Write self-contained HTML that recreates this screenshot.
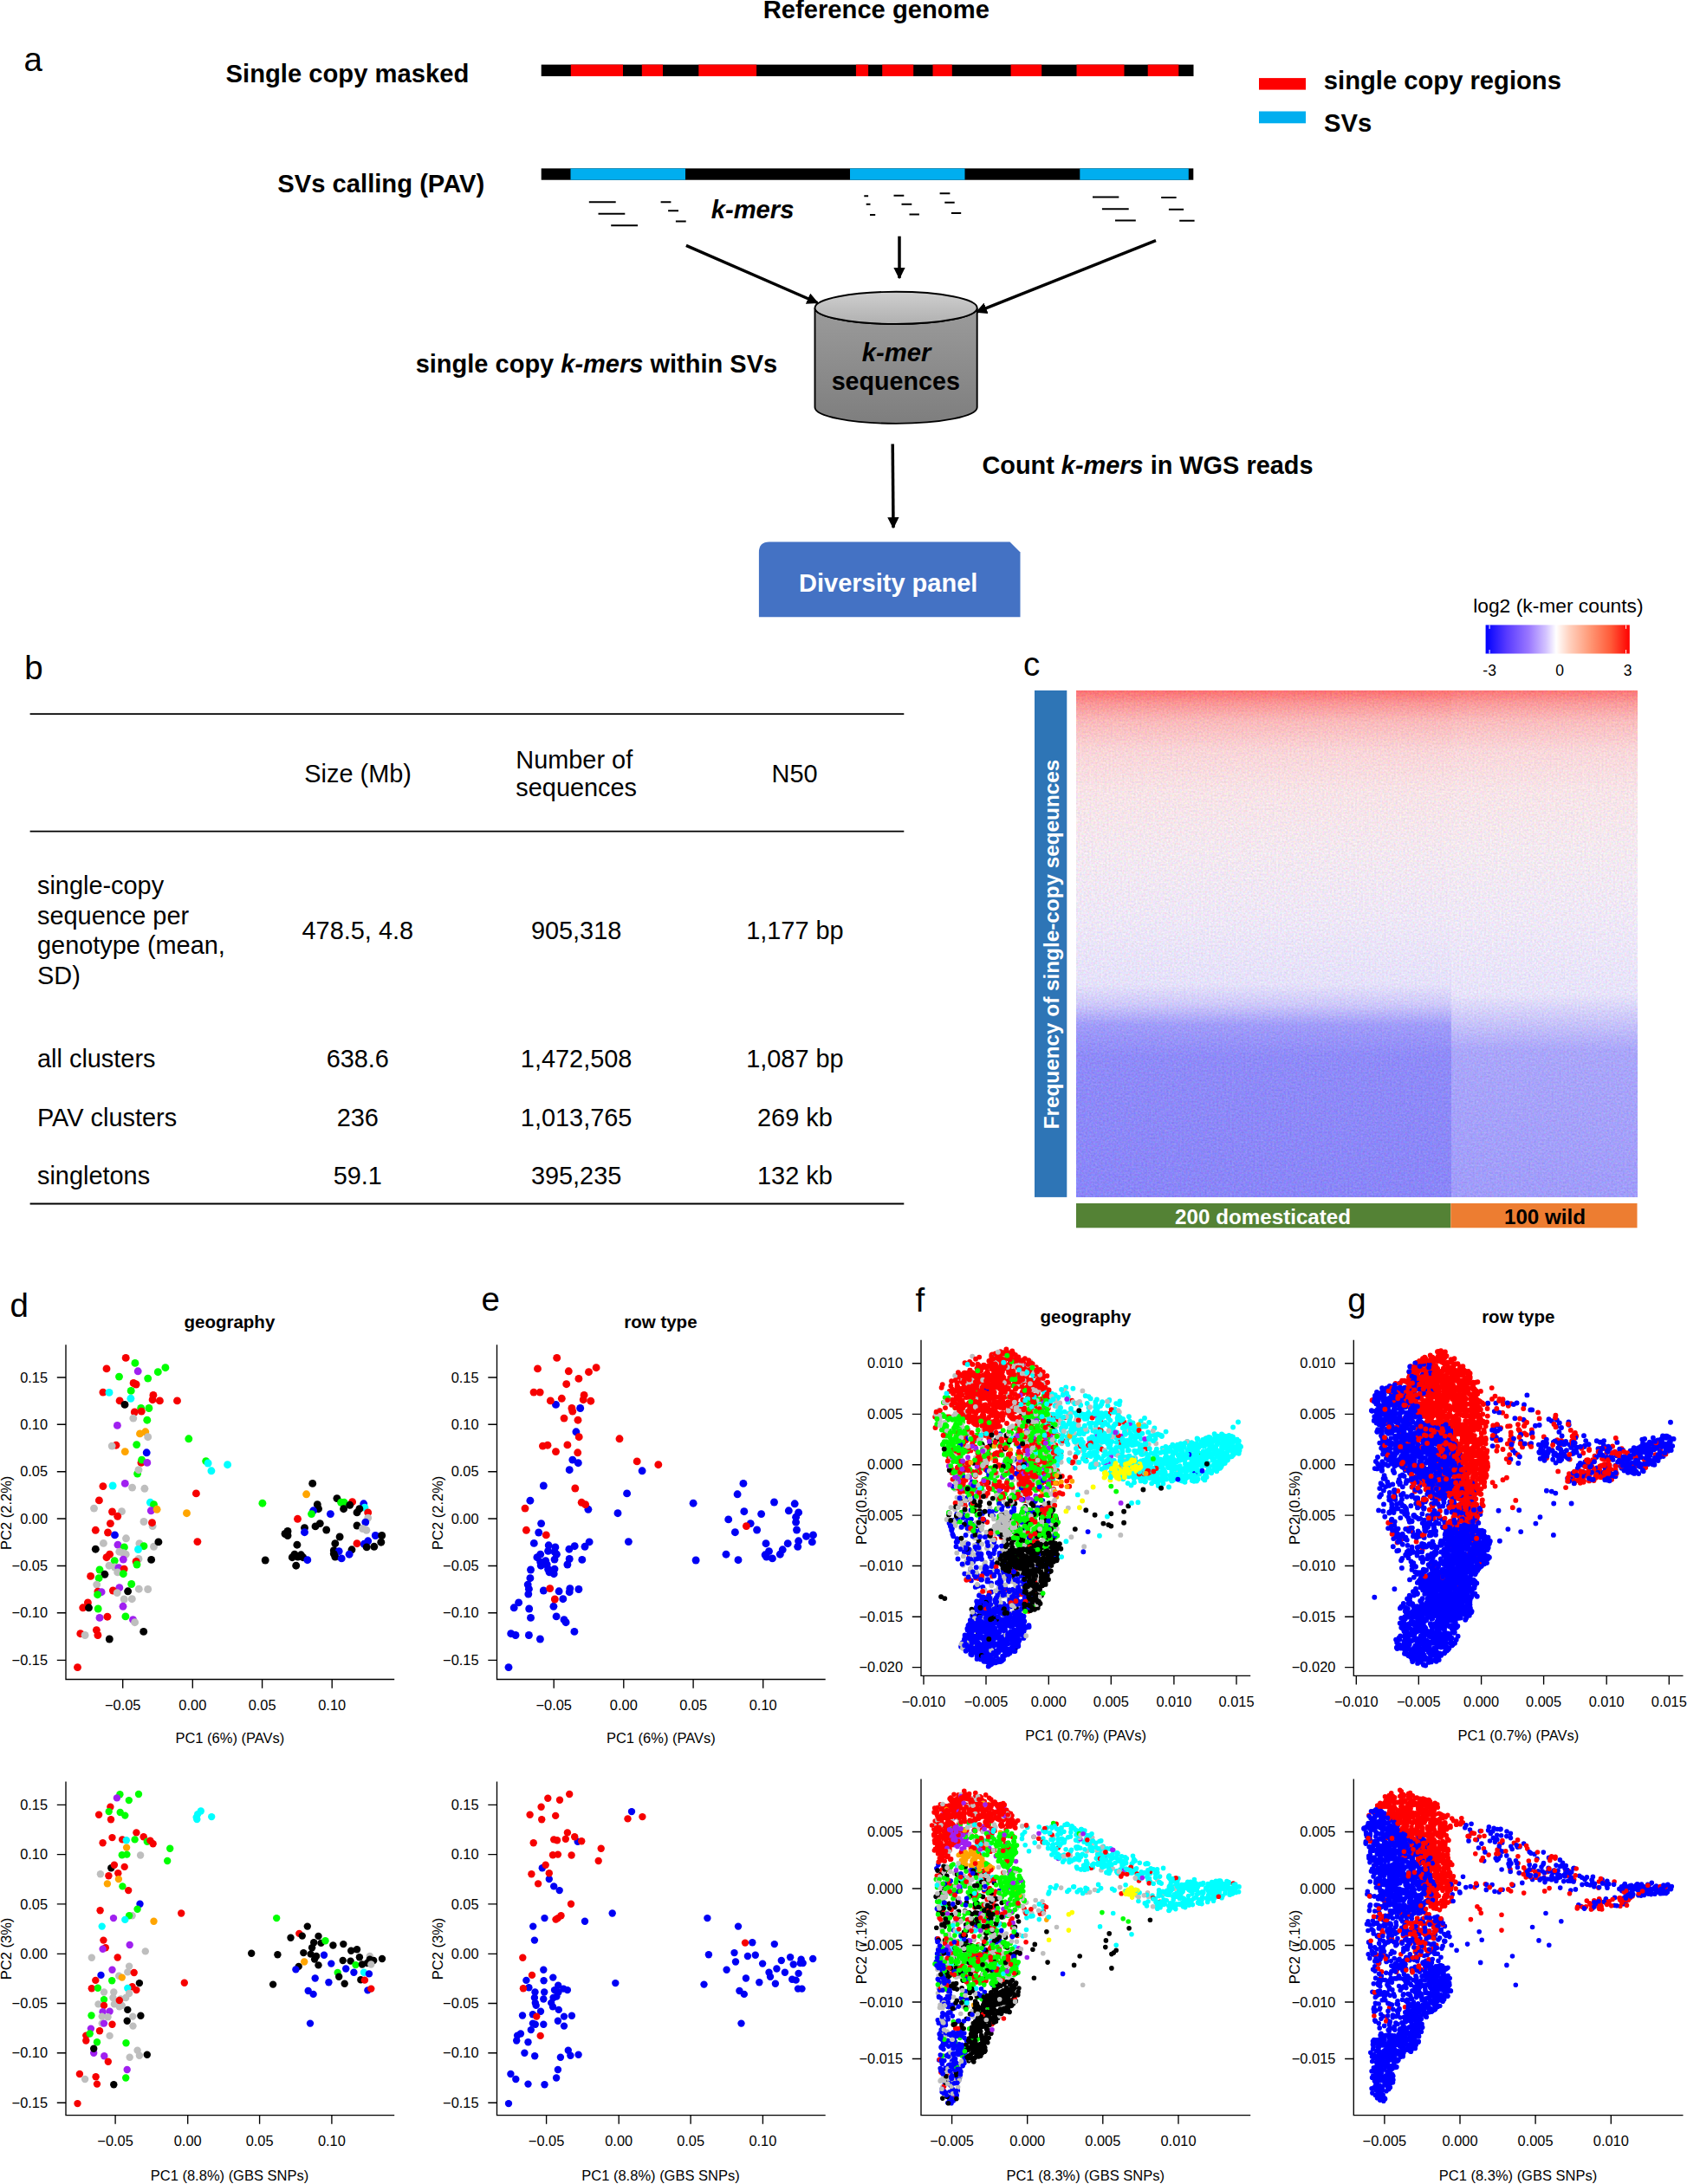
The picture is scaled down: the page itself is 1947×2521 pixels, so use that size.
<!DOCTYPE html>
<html><head><meta charset="utf-8"><title>Figure</title>
<style>html,body{margin:0;padding:0;background:#fff}svg{display:block}text{font-family:"Liberation Sans",Arial,Helvetica,sans-serif}</style></head>
<body><svg width="1947" height="2521" viewBox="0 0 1947 2521">
<g font-weight="bold">
<text x="1011.3" y="20.9" font-size="29.2" text-anchor="middle">Reference genome</text>
<text x="260.6" y="95.4" font-size="29.2">Single copy masked</text>
<text x="320.3" y="222.0" font-size="29.2">SVs calling (PAV)</text>
<text x="820.7" y="251.7" font-size="29.2" font-style="italic">k-mers</text>
<text x="1527.8" y="102.8" font-size="29.2">single copy regions</text>
<text x="1528.0" y="151.5" font-size="29.2">SVs</text>
<text x="479.7" y="430.0" font-size="29.0">single copy <tspan font-style="italic">k-mers</tspan> within SVs</text>
<text x="1133.4" y="547.3" font-size="28.9">Count <tspan font-style="italic">k-mers</tspan> in WGS reads</text>
</g>
<text x="27.4" y="82.2" font-size="38.5">a</text>
<rect x="624.7" y="74.6" width="752.8" height="13.4" fill="#000"/>
<rect x="658.8" y="74.6" width="60.2" height="13.4" fill="#fe0000"/>
<rect x="740.8" y="74.6" width="24.2" height="13.4" fill="#fe0000"/>
<rect x="806.3" y="74.6" width="66.8" height="13.4" fill="#fe0000"/>
<rect x="987.9" y="74.6" width="14.2" height="13.4" fill="#fe0000"/>
<rect x="1018.2" y="74.6" width="36.0" height="13.4" fill="#fe0000"/>
<rect x="1076.5" y="74.6" width="22.3" height="13.4" fill="#fe0000"/>
<rect x="1166.6" y="74.6" width="35.6" height="13.4" fill="#fe0000"/>
<rect x="1242.5" y="74.6" width="55.0" height="13.4" fill="#fe0000"/>
<rect x="1324.7" y="74.6" width="35.6" height="13.4" fill="#fe0000"/>
<rect x="624.7" y="194.4" width="752.6" height="13.3" fill="#000"/>
<rect x="658.5" y="194.4" width="132.5" height="13.3" fill="#00aeef"/>
<rect x="981.0" y="194.4" width="132.5" height="13.3" fill="#00aeef"/>
<rect x="1246.3" y="194.4" width="125.5" height="13.3" fill="#00aeef"/>
<rect x="1453.0" y="90.1" width="54.0" height="13.5" fill="#fe0000"/>
<rect x="1453.0" y="128.5" width="54.0" height="13.8" fill="#00aeef"/>
<path d="M679.8 233.2H710.7M690.5 246.7H721.3M705.2 260.2H736.0M762.6 233.2H774.4M771.1 243.2H783.0M779.9 255.5H791.7M997.3 226.2H1002.1M999.7 235.7H1004.5M1004.0 248.0H1010.2M1031.5 225.7H1043.3M1040.5 235.7H1052.3M1049.5 247.5H1060.9M1084.6 223.3H1096.4M1090.3 233.8H1101.7M1097.9 246.1H1109.2M1261.0 227.6H1291.3M1271.9 241.3H1302.7M1287.0 254.6H1310.8M1340.2 228.0H1357.6M1348.9 241.7H1366.1M1361.2 254.8H1378.6" stroke="#000" stroke-width="2" fill="none"/>
<defs><marker id="ah" viewBox="0 0 10 10" refX="9" refY="5" markerWidth="3.8" markerHeight="3.8" orient="auto"><path d="M0 0L10 5L0 10z"/></marker></defs>
<line x1="791.9" y1="283.4" x2="943.5" y2="349.5" stroke="#000" stroke-width="3.5" marker-end="url(#ah)"/>
<line x1="1038.0" y1="272.7" x2="1038.0" y2="321.0" stroke="#000" stroke-width="3.5" marker-end="url(#ah)"/>
<line x1="1334.0" y1="277.7" x2="1127.0" y2="360.2" stroke="#000" stroke-width="3.5" marker-end="url(#ah)"/>
<line x1="1030.2" y1="512.4" x2="1031.0" y2="609.1" stroke="#000" stroke-width="3.5" marker-end="url(#ah)"/>
<defs><linearGradient id="cg" x1="0" y1="0" x2="0" y2="1"><stop offset="0" stop-color="#9b9b9b"/><stop offset="1" stop-color="#7e7e7e"/></linearGradient><linearGradient id="ct" x1="0" y1="0" x2="0" y2="1"><stop offset="0" stop-color="#cfcfcf"/><stop offset="1" stop-color="#b0b0b0"/></linearGradient></defs>
<path d="M940.5 355.4V470.3A93.60000000000002 18.6 0 0 0 1127.7 470.3V355.4A93.60000000000002 18.6 0 0 1 940.5 355.4z" fill="url(#cg)" stroke="#000" stroke-width="1.9"/>
<ellipse cx="1034.1" cy="355.4" rx="93.60000000000002" ry="18.6" fill="url(#ct)" stroke="#000" stroke-width="1.9"/>
<text x="1034.5" y="417.0" font-size="29.2" text-anchor="middle" font-weight="bold" font-style="italic">k-mer</text>
<text x="1033.8" y="449.7" font-size="28.7" text-anchor="middle" font-weight="bold">sequences</text>
<path d="M875.9 712.3V637.5Q875.9 625.5 887.9 625.5H1165.5L1177.5 637.5V712.3z" fill="#4472c4"/>
<text x="1025.2" y="683.1" font-size="29.0" text-anchor="middle" font-weight="bold" fill="#fff">Diversity panel</text>
<text x="28.3" y="784.3" font-size="38.5">b</text>
<line x1="34.6" y1="824.1" x2="1043.3" y2="824.1" stroke="#000" stroke-width="1.8"/>
<line x1="34.6" y1="959.7" x2="1043.3" y2="959.7" stroke="#000" stroke-width="1.8"/>
<line x1="34.6" y1="1389.5" x2="1043.3" y2="1389.5" stroke="#000" stroke-width="1.8"/>
<text x="413.1" y="903.0" font-size="28.9" text-anchor="middle">Size (Mb)</text>
<text x="595.3" y="886.7" font-size="28.9">Number of</text>
<text x="595.3" y="919.3" font-size="28.9">sequences</text>
<text x="917.1" y="903.0" font-size="28.9" text-anchor="middle">N50</text>
<text x="43.0" y="1032.1" font-size="28.9">single-copy</text>
<text x="43.0" y="1066.6" font-size="28.9">sequence per</text>
<text x="43.0" y="1101.1" font-size="28.9">genotype (mean,</text>
<text x="43.0" y="1135.6" font-size="28.9">SD)</text>
<text x="412.8" y="1084.3" font-size="28.9" text-anchor="middle">478.5, 4.8</text>
<text x="665.1" y="1084.3" font-size="28.9" text-anchor="middle">905,318</text>
<text x="917.4" y="1084.3" font-size="28.9" text-anchor="middle">1,177 bp</text>
<text x="43.0" y="1231.7" font-size="28.9">all clusters</text>
<text x="412.8" y="1231.7" font-size="28.9" text-anchor="middle">638.6</text>
<text x="665.1" y="1231.7" font-size="28.9" text-anchor="middle">1,472,508</text>
<text x="917.4" y="1231.7" font-size="28.9" text-anchor="middle">1,087 bp</text>
<text x="43.0" y="1299.5" font-size="28.9">PAV clusters</text>
<text x="412.8" y="1299.5" font-size="28.9" text-anchor="middle">236</text>
<text x="665.1" y="1299.5" font-size="28.9" text-anchor="middle">1,013,765</text>
<text x="917.4" y="1299.5" font-size="28.9" text-anchor="middle">269 kb</text>
<text x="43.0" y="1366.6" font-size="28.9">singletons</text>
<text x="412.8" y="1366.6" font-size="28.9" text-anchor="middle">59.1</text>
<text x="665.1" y="1366.6" font-size="28.9" text-anchor="middle">395,235</text>
<text x="917.4" y="1366.6" font-size="28.9" text-anchor="middle">132 kb</text>
<text x="1181.0" y="779.5" font-size="38.5">c</text>
<text x="1798.4" y="707.2" font-size="22.8" text-anchor="middle">log2 (k-mer counts)</text>
<defs><linearGradient id="cb" x1="0" y1="0" x2="1" y2="0"><stop offset="0" stop-color="#0000ff"/><stop offset="0.15" stop-color="#5a3cff"/><stop offset="0.3" stop-color="#9a78ff"/><stop offset="0.42" stop-color="#d4c4ff"/><stop offset="0.49" stop-color="#ffffff"/><stop offset="0.58" stop-color="#ffd2c0"/><stop offset="0.72" stop-color="#ff9a78"/><stop offset="0.87" stop-color="#ff5a38"/><stop offset="1" stop-color="#ff0000"/></linearGradient>
<linearGradient id="hm" x1="0" y1="0" x2="0" y2="1"><stop offset="0" stop-color="rgb(252, 112, 112)"/><stop offset="0.025" stop-color="rgb(250, 150, 150)"/><stop offset="0.06" stop-color="rgb(250, 185, 186)"/><stop offset="0.12" stop-color="rgb(249, 213, 216)"/><stop offset="0.2" stop-color="rgb(247, 227, 231)"/><stop offset="0.32" stop-color="rgb(243, 232, 240)"/><stop offset="0.45" stop-color="rgb(238, 231, 246)"/><stop offset="0.58" stop-color="rgb(229, 225, 250)"/><stop offset="0.62" stop-color="rgb(205, 200, 250)"/><stop offset="0.66" stop-color="rgb(160, 156, 249)"/><stop offset="0.72" stop-color="rgb(143, 139, 248)"/><stop offset="1" stop-color="rgb(138, 134, 248)"/></linearGradient>
<linearGradient id="hm2" x1="0" y1="0" x2="0" y2="1"><stop offset="0" stop-color="rgb(252, 118, 118)"/><stop offset="0.025" stop-color="rgb(250, 155, 155)"/><stop offset="0.06" stop-color="rgb(250, 188, 189)"/><stop offset="0.12" stop-color="rgb(249, 215, 218)"/><stop offset="0.2" stop-color="rgb(247, 228, 232)"/><stop offset="0.32" stop-color="rgb(243, 233, 240)"/><stop offset="0.45" stop-color="rgb(239, 232, 246)"/><stop offset="0.6" stop-color="rgb(231, 227, 250)"/><stop offset="0.64" stop-color="rgb(208, 204, 250)"/><stop offset="0.71" stop-color="rgb(170, 166, 250)"/><stop offset="1" stop-color="rgb(160, 156, 250)"/></linearGradient>
<filter id="nz" x="0" y="0" width="1" height="1" color-interpolation-filters="sRGB"><feTurbulence type="fractalNoise" baseFrequency="0.45" numOctaves="2" seed="3"/><feColorMatrix values="1 0 0 0 0 0 1 0 0 0 0 0 1 0 0 0 0 0 0 1" result="n"/><feComposite in="SourceGraphic" in2="n" operator="arithmetic" k1="0" k2="1" k3="0.22" k4="-0.11"/></filter></defs>
<rect x="1714.6" y="721.4" width="166.2" height="33.1" fill="url(#cb)"/>
<path d="M1719.1 721.4v4.5M1719.1 750v4.5M1876.6 721.4v4.5M1876.6 750v4.5" stroke="#fff" stroke-width="1"/>
<text x="1719.1" y="779.6" font-size="17.5" text-anchor="middle">-3</text>
<text x="1800.2" y="779.6" font-size="17.5" text-anchor="middle">0</text>
<text x="1878.7" y="779.6" font-size="17.5" text-anchor="middle">3</text>
<rect x="1194.0" y="797.0" width="37.3" height="584.9" fill="#2e75b6"/>
<g filter="url(#nz)"><rect x="1242.0" y="797.0" width="434.0" height="585.0" fill="url(#hm)"/><rect x="1675.0" y="797.0" width="215.0" height="585.0" fill="url(#hm2)"/></g>
<rect x="1242.0" y="1389.0" width="432.4" height="28.3" fill="#548235"/>
<rect x="1674.4" y="1389.0" width="215.1" height="28.3" fill="#ed7d31"/>
<text x="1457.6" y="1412.8" font-size="24.2" text-anchor="middle" font-weight="bold" fill="#fff">200 domesticated</text>
<text x="1783.0" y="1412.8" font-size="24.2" text-anchor="middle" font-weight="bold">100 wild</text>
<text transform="translate(1221.5 1090) rotate(-90)" text-anchor="middle" font-size="24.3" font-weight="bold" fill="#fff">Frequency of single-copy seqeunces</text>
<text x="11.5" y="1519.6" font-size="38.5">d</text>
<path d="M76.0 1552.3V1938.5H455.2M141.7 1938.5v10.2M222.3 1938.5v10.2M302.6 1938.5v10.2M383.2 1938.5v10.2M76.0 1590.0h-10.2M76.0 1644.2h-10.2M76.0 1698.7h-10.2M76.0 1753.0h-10.2M76.0 1807.5h-10.2M76.0 1861.7h-10.2M76.0 1916.3h-10.2" fill="none" stroke="#000" stroke-width="1.35"/>
<text x="141.7" y="1974.1" font-size="16.4" text-anchor="middle">−0.05</text>
<text x="222.3" y="1974.1" font-size="16.4" text-anchor="middle">0.00</text>
<text x="302.6" y="1974.1" font-size="16.4" text-anchor="middle">0.05</text>
<text x="383.2" y="1974.1" font-size="16.4" text-anchor="middle">0.10</text>
<text x="55.1" y="1595.7" font-size="16.4" text-anchor="end">0.15</text>
<text x="55.1" y="1649.9" font-size="16.4" text-anchor="end">0.10</text>
<text x="55.1" y="1704.4" font-size="16.4" text-anchor="end">0.05</text>
<text x="55.1" y="1758.7" font-size="16.4" text-anchor="end">0.00</text>
<text x="55.1" y="1813.2" font-size="16.4" text-anchor="end">−0.05</text>
<text x="55.1" y="1867.4" font-size="16.4" text-anchor="end">−0.10</text>
<text x="55.1" y="1922.0" font-size="16.4" text-anchor="end">−0.15</text>
<text x="264.9" y="1532.9" font-size="20.5" text-anchor="middle" font-weight="bold">geography</text>
<text x="265.4" y="2012.0" font-size="16.5" text-anchor="middle">PC1 (6%) (PAVs)</text>
<text transform="translate(13.3 1746.3) rotate(-90)" text-anchor="middle" font-size="16.5">PC2 (2.2%)</text>
<path d="M76.0 2056.5V2441.6H455.2M133.1 2441.6v10.2M216.7 2441.6v10.2M299.6 2441.6v10.2M382.9 2441.6v10.2M76.0 2083.4h-10.2M76.0 2140.6h-10.2M76.0 2197.8h-10.2M76.0 2255.3h-10.2M76.0 2312.5h-10.2M76.0 2369.7h-10.2M76.0 2427.2h-10.2" fill="none" stroke="#000" stroke-width="1.35"/>
<text x="133.1" y="2477.2" font-size="16.4" text-anchor="middle">−0.05</text>
<text x="216.7" y="2477.2" font-size="16.4" text-anchor="middle">0.00</text>
<text x="299.6" y="2477.2" font-size="16.4" text-anchor="middle">0.05</text>
<text x="382.9" y="2477.2" font-size="16.4" text-anchor="middle">0.10</text>
<text x="55.1" y="2089.1" font-size="16.4" text-anchor="end">0.15</text>
<text x="55.1" y="2146.3" font-size="16.4" text-anchor="end">0.10</text>
<text x="55.1" y="2203.5" font-size="16.4" text-anchor="end">0.05</text>
<text x="55.1" y="2261.0" font-size="16.4" text-anchor="end">0.00</text>
<text x="55.1" y="2318.2" font-size="16.4" text-anchor="end">−0.05</text>
<text x="55.1" y="2375.4" font-size="16.4" text-anchor="end">−0.10</text>
<text x="55.1" y="2432.9" font-size="16.4" text-anchor="end">−0.15</text>
<text x="265.0" y="2516.6" font-size="16.5" text-anchor="middle">PC1 (8.8%) (GBS SNPs)</text>
<text transform="translate(13.3 2249.4) rotate(-90)" text-anchor="middle" font-size="16.5">PC2 (3%)</text>
<text x="555.6" y="1513.2" font-size="38.5">e</text>
<path d="M573.5 1552.3V1938.5H952.7M639.2 1938.5v10.2M719.8 1938.5v10.2M800.1 1938.5v10.2M880.7 1938.5v10.2M573.5 1590.0h-10.2M573.5 1644.2h-10.2M573.5 1698.7h-10.2M573.5 1753.0h-10.2M573.5 1807.5h-10.2M573.5 1861.7h-10.2M573.5 1916.3h-10.2" fill="none" stroke="#000" stroke-width="1.35"/>
<text x="639.2" y="1974.1" font-size="16.4" text-anchor="middle">−0.05</text>
<text x="719.8" y="1974.1" font-size="16.4" text-anchor="middle">0.00</text>
<text x="800.1" y="1974.1" font-size="16.4" text-anchor="middle">0.05</text>
<text x="880.7" y="1974.1" font-size="16.4" text-anchor="middle">0.10</text>
<text x="552.6" y="1595.7" font-size="16.4" text-anchor="end">0.15</text>
<text x="552.6" y="1649.9" font-size="16.4" text-anchor="end">0.10</text>
<text x="552.6" y="1704.4" font-size="16.4" text-anchor="end">0.05</text>
<text x="552.6" y="1758.7" font-size="16.4" text-anchor="end">0.00</text>
<text x="552.6" y="1813.2" font-size="16.4" text-anchor="end">−0.05</text>
<text x="552.6" y="1867.4" font-size="16.4" text-anchor="end">−0.10</text>
<text x="552.6" y="1922.0" font-size="16.4" text-anchor="end">−0.15</text>
<text x="762.4" y="1532.9" font-size="20.5" text-anchor="middle" font-weight="bold">row type</text>
<text x="762.9" y="2012.0" font-size="16.5" text-anchor="middle">PC1 (6%) (PAVs)</text>
<text transform="translate(510.8 1746.3) rotate(-90)" text-anchor="middle" font-size="16.5">PC2 (2.2%)</text>
<path d="M573.5 2056.5V2441.6H952.7M630.6 2441.6v10.2M714.2 2441.6v10.2M797.1 2441.6v10.2M880.4 2441.6v10.2M573.5 2083.4h-10.2M573.5 2140.6h-10.2M573.5 2197.8h-10.2M573.5 2255.3h-10.2M573.5 2312.5h-10.2M573.5 2369.7h-10.2M573.5 2427.2h-10.2" fill="none" stroke="#000" stroke-width="1.35"/>
<text x="630.6" y="2477.2" font-size="16.4" text-anchor="middle">−0.05</text>
<text x="714.2" y="2477.2" font-size="16.4" text-anchor="middle">0.00</text>
<text x="797.1" y="2477.2" font-size="16.4" text-anchor="middle">0.05</text>
<text x="880.4" y="2477.2" font-size="16.4" text-anchor="middle">0.10</text>
<text x="552.6" y="2089.1" font-size="16.4" text-anchor="end">0.15</text>
<text x="552.6" y="2146.3" font-size="16.4" text-anchor="end">0.10</text>
<text x="552.6" y="2203.5" font-size="16.4" text-anchor="end">0.05</text>
<text x="552.6" y="2261.0" font-size="16.4" text-anchor="end">0.00</text>
<text x="552.6" y="2318.2" font-size="16.4" text-anchor="end">−0.05</text>
<text x="552.6" y="2375.4" font-size="16.4" text-anchor="end">−0.10</text>
<text x="552.6" y="2432.9" font-size="16.4" text-anchor="end">−0.15</text>
<text x="762.5" y="2516.6" font-size="16.5" text-anchor="middle">PC1 (8.8%) (GBS SNPs)</text>
<text transform="translate(510.8 2249.4) rotate(-90)" text-anchor="middle" font-size="16.5">PC2 (3%)</text>
<text x="1056.5" y="1513.8" font-size="38.5">f</text>
<path d="M1063.0 1546.7V1934.4H1443.2M1066.0 1934.4v10.2M1138.0 1934.4v10.2M1210.3 1934.4v10.2M1282.3 1934.4v10.2M1354.9 1934.4v10.2M1427.0 1934.4v10.2M1063.0 1573.7h-10.2M1063.0 1632.3h-10.2M1063.0 1690.7h-10.2M1063.0 1749.1h-10.2M1063.0 1807.5h-10.2M1063.0 1866.2h-10.2M1063.0 1924.6h-10.2" fill="none" stroke="#000" stroke-width="1.35"/>
<text x="1066.0" y="1970.0" font-size="16.4" text-anchor="middle">−0.010</text>
<text x="1138.0" y="1970.0" font-size="16.4" text-anchor="middle">−0.005</text>
<text x="1210.3" y="1970.0" font-size="16.4" text-anchor="middle">0.000</text>
<text x="1282.3" y="1970.0" font-size="16.4" text-anchor="middle">0.005</text>
<text x="1354.9" y="1970.0" font-size="16.4" text-anchor="middle">0.010</text>
<text x="1427.0" y="1970.0" font-size="16.4" text-anchor="middle">0.015</text>
<text x="1042.1" y="1579.4" font-size="16.4" text-anchor="end">0.010</text>
<text x="1042.1" y="1638.0" font-size="16.4" text-anchor="end">0.005</text>
<text x="1042.1" y="1696.4" font-size="16.4" text-anchor="end">0.000</text>
<text x="1042.1" y="1754.8" font-size="16.4" text-anchor="end">−0.005</text>
<text x="1042.1" y="1813.2" font-size="16.4" text-anchor="end">−0.010</text>
<text x="1042.1" y="1871.9" font-size="16.4" text-anchor="end">−0.015</text>
<text x="1042.1" y="1930.3" font-size="16.4" text-anchor="end">−0.020</text>
<text x="1253.0" y="1527.4" font-size="20.5" text-anchor="middle" font-weight="bold">geography</text>
<text x="1253.1" y="2009.0" font-size="16.5" text-anchor="middle">PC1 (0.7%) (PAVs)</text>
<text transform="translate(1000.2 1740.4) rotate(-90)" text-anchor="middle" font-size="16.5">PC2 (0.5%)</text>
<path d="M1063.0 2053.5V2441.6H1443.2M1098.6 2441.6v10.2M1185.7 2441.6v10.2M1272.8 2441.6v10.2M1360.0 2441.6v10.2M1063.0 2114.5h-10.2M1063.0 2180.0h-10.2M1063.0 2245.5h-10.2M1063.0 2311.0h-10.2M1063.0 2376.5h-10.2" fill="none" stroke="#000" stroke-width="1.35"/>
<text x="1098.6" y="2477.2" font-size="16.4" text-anchor="middle">−0.005</text>
<text x="1185.7" y="2477.2" font-size="16.4" text-anchor="middle">0.000</text>
<text x="1272.8" y="2477.2" font-size="16.4" text-anchor="middle">0.005</text>
<text x="1360.0" y="2477.2" font-size="16.4" text-anchor="middle">0.010</text>
<text x="1042.1" y="2120.2" font-size="16.4" text-anchor="end">0.005</text>
<text x="1042.1" y="2185.7" font-size="16.4" text-anchor="end">0.000</text>
<text x="1042.1" y="2251.2" font-size="16.4" text-anchor="end">−0.005</text>
<text x="1042.1" y="2316.7" font-size="16.4" text-anchor="end">−0.010</text>
<text x="1042.1" y="2382.2" font-size="16.4" text-anchor="end">−0.015</text>
<text x="1252.7" y="2516.6" font-size="16.5" text-anchor="middle">PC1 (8.3%) (GBS SNPs)</text>
<text transform="translate(1000.2 2247.5) rotate(-90)" text-anchor="middle" font-size="16.5">PC2 (7.1%)</text>
<text x="1555.2" y="1513.8" font-size="38.5">g</text>
<path d="M1562.3 1546.7V1934.4H1942.5M1565.3 1934.4v10.2M1637.3 1934.4v10.2M1709.6 1934.4v10.2M1781.6 1934.4v10.2M1854.2 1934.4v10.2M1926.3 1934.4v10.2M1562.3 1573.7h-10.2M1562.3 1632.3h-10.2M1562.3 1690.7h-10.2M1562.3 1749.1h-10.2M1562.3 1807.5h-10.2M1562.3 1866.2h-10.2M1562.3 1924.6h-10.2" fill="none" stroke="#000" stroke-width="1.35"/>
<text x="1565.3" y="1970.0" font-size="16.4" text-anchor="middle">−0.010</text>
<text x="1637.3" y="1970.0" font-size="16.4" text-anchor="middle">−0.005</text>
<text x="1709.6" y="1970.0" font-size="16.4" text-anchor="middle">0.000</text>
<text x="1781.6" y="1970.0" font-size="16.4" text-anchor="middle">0.005</text>
<text x="1854.2" y="1970.0" font-size="16.4" text-anchor="middle">0.010</text>
<text x="1926.3" y="1970.0" font-size="16.4" text-anchor="middle">0.015</text>
<text x="1541.4" y="1579.4" font-size="16.4" text-anchor="end">0.010</text>
<text x="1541.4" y="1638.0" font-size="16.4" text-anchor="end">0.005</text>
<text x="1541.4" y="1696.4" font-size="16.4" text-anchor="end">0.000</text>
<text x="1541.4" y="1754.8" font-size="16.4" text-anchor="end">−0.005</text>
<text x="1541.4" y="1813.2" font-size="16.4" text-anchor="end">−0.010</text>
<text x="1541.4" y="1871.9" font-size="16.4" text-anchor="end">−0.015</text>
<text x="1541.4" y="1930.3" font-size="16.4" text-anchor="end">−0.020</text>
<text x="1752.3" y="1527.4" font-size="20.5" text-anchor="middle" font-weight="bold">row type</text>
<text x="1752.4" y="2009.0" font-size="16.5" text-anchor="middle">PC1 (0.7%) (PAVs)</text>
<text transform="translate(1499.5 1740.4) rotate(-90)" text-anchor="middle" font-size="16.5">PC2 (0.5%)</text>
<path d="M1562.3 2053.5V2441.6H1942.5M1597.9 2441.6v10.2M1685.0 2441.6v10.2M1772.1 2441.6v10.2M1859.3 2441.6v10.2M1562.3 2114.5h-10.2M1562.3 2180.0h-10.2M1562.3 2245.5h-10.2M1562.3 2311.0h-10.2M1562.3 2376.5h-10.2" fill="none" stroke="#000" stroke-width="1.35"/>
<text x="1597.9" y="2477.2" font-size="16.4" text-anchor="middle">−0.005</text>
<text x="1685.0" y="2477.2" font-size="16.4" text-anchor="middle">0.000</text>
<text x="1772.1" y="2477.2" font-size="16.4" text-anchor="middle">0.005</text>
<text x="1859.3" y="2477.2" font-size="16.4" text-anchor="middle">0.010</text>
<text x="1541.4" y="2120.2" font-size="16.4" text-anchor="end">0.005</text>
<text x="1541.4" y="2185.7" font-size="16.4" text-anchor="end">0.000</text>
<text x="1541.4" y="2251.2" font-size="16.4" text-anchor="end">−0.005</text>
<text x="1541.4" y="2316.7" font-size="16.4" text-anchor="end">−0.010</text>
<text x="1541.4" y="2382.2" font-size="16.4" text-anchor="end">−0.015</text>
<text x="1752.0" y="2516.6" font-size="16.5" text-anchor="middle">PC1 (8.3%) (GBS SNPs)</text>
<text transform="translate(1499.5 2247.5) rotate(-90)" text-anchor="middle" font-size="16.5">PC2 (7.1%)</text>
<circle cx="145.2" cy="1567.4" r="4.45" fill="#f60000"/><circle cx="155.9" cy="1573.4" r="4.45" fill="#00ff00"/><circle cx="123.0" cy="1579.9" r="4.45" fill="#f60000"/><circle cx="159.2" cy="1582.8" r="4.45" fill="#a020f0"/><circle cx="190.9" cy="1578.7" r="4.45" fill="#00ff00"/><circle cx="182.3" cy="1583.7" r="4.45" fill="#00ff00"/><circle cx="137.5" cy="1589.1" r="4.45" fill="#00ff00"/><circle cx="170.7" cy="1591.1" r="4.45" fill="#00ff00"/><circle cx="154.1" cy="1596.5" r="4.45" fill="#f60000"/><circle cx="157.1" cy="1598.0" r="4.45" fill="#f60000"/><circle cx="151.2" cy="1605.4" r="4.45" fill="#00ff00"/><circle cx="118.9" cy="1607.1" r="4.45" fill="#f60000"/><circle cx="126.0" cy="1607.4" r="4.45" fill="#00ffff"/><circle cx="176.9" cy="1610.4" r="4.45" fill="#f60000"/><circle cx="176.1" cy="1615.7" r="4.45" fill="#f60000"/><circle cx="184.4" cy="1616.9" r="4.45" fill="#f60000"/><circle cx="204.5" cy="1616.9" r="4.45" fill="#f60000"/><circle cx="150.9" cy="1614.3" r="4.45" fill="#00ffff"/><circle cx="138.1" cy="1616.9" r="4.45" fill="#f60000"/><circle cx="144.0" cy="1621.4" r="4.45" fill="#000000"/><circle cx="162.7" cy="1625.5" r="4.45" fill="#00ff00"/><circle cx="171.9" cy="1625.5" r="4.45" fill="#00ff00"/><circle cx="163.3" cy="1629.1" r="4.45" fill="#f60000"/><circle cx="155.3" cy="1630.0" r="4.45" fill="#f60000"/><circle cx="153.8" cy="1637.1" r="4.45" fill="#bebebe"/><circle cx="169.8" cy="1639.2" r="4.45" fill="#00ff00"/><circle cx="135.4" cy="1645.4" r="4.45" fill="#a020f0"/><circle cx="161.5" cy="1654.9" r="4.45" fill="#ffa500"/><circle cx="167.8" cy="1652.8" r="4.45" fill="#ffa500"/><circle cx="170.7" cy="1658.7" r="4.45" fill="#bebebe"/><circle cx="217.8" cy="1660.8" r="4.45" fill="#00ff00"/><circle cx="134.0" cy="1668.2" r="4.45" fill="#f60000"/><circle cx="129.2" cy="1669.1" r="4.45" fill="#bebebe"/><circle cx="157.7" cy="1667.6" r="4.45" fill="#00ff00"/><circle cx="144.3" cy="1675.6" r="4.45" fill="#ffa500"/><circle cx="169.2" cy="1676.8" r="4.45" fill="#0000f4"/><circle cx="163.0" cy="1688.4" r="4.45" fill="#f60000"/><circle cx="163.6" cy="1685.1" r="4.45" fill="#00ff00"/><circle cx="169.8" cy="1688.4" r="4.45" fill="#a020f0"/><circle cx="237.7" cy="1686.6" r="4.45" fill="#00ff00"/><circle cx="240.1" cy="1689.0" r="4.45" fill="#00ffff"/><circle cx="243.9" cy="1697.8" r="4.45" fill="#00ffff"/><circle cx="262.6" cy="1690.7" r="4.45" fill="#00ffff"/><circle cx="158.6" cy="1701.1" r="4.45" fill="#00ff00"/><circle cx="160.0" cy="1696.7" r="4.45" fill="#bebebe"/><circle cx="118.9" cy="1715.6" r="4.45" fill="#f60000"/><circle cx="130.1" cy="1715.0" r="4.45" fill="#00ffff"/><circle cx="144.3" cy="1712.4" r="4.45" fill="#a020f0"/><circle cx="152.6" cy="1717.1" r="4.45" fill="#bebebe"/><circle cx="166.9" cy="1718.3" r="4.45" fill="#bebebe"/><circle cx="226.4" cy="1723.9" r="4.45" fill="#f60000"/><circle cx="114.4" cy="1731.9" r="4.45" fill="#f60000"/><circle cx="173.4" cy="1734.3" r="4.45" fill="#00ffff"/><circle cx="177.5" cy="1736.7" r="4.45" fill="#00ff00"/><circle cx="174.3" cy="1743.8" r="4.45" fill="#a020f0"/><circle cx="181.1" cy="1742.3" r="4.45" fill="#ffa500"/><circle cx="108.5" cy="1741.1" r="4.45" fill="#bebebe"/><circle cx="140.5" cy="1744.7" r="4.45" fill="#bebebe"/><circle cx="129.5" cy="1745.0" r="4.45" fill="#f60000"/><circle cx="135.7" cy="1750.3" r="4.45" fill="#f60000"/><circle cx="215.5" cy="1746.7" r="4.45" fill="#ffa500"/><circle cx="302.9" cy="1735.2" r="4.45" fill="#00ff00"/><circle cx="166.0" cy="1756.5" r="4.45" fill="#bebebe"/><circle cx="176.1" cy="1761.6" r="4.45" fill="#bebebe"/><circle cx="175.5" cy="1757.7" r="4.45" fill="#f60000"/><circle cx="127.4" cy="1758.6" r="4.45" fill="#f60000"/><circle cx="110.3" cy="1766.3" r="4.45" fill="#f60000"/><circle cx="124.5" cy="1769.0" r="4.45" fill="#f60000"/><circle cx="132.5" cy="1771.9" r="4.45" fill="#0000f4"/><circle cx="145.5" cy="1775.8" r="4.45" fill="#bebebe"/><circle cx="177.5" cy="1785.3" r="4.45" fill="#bebebe"/><circle cx="182.9" cy="1779.9" r="4.45" fill="#000000"/><circle cx="119.4" cy="1781.4" r="4.45" fill="#bebebe"/><circle cx="136.0" cy="1783.2" r="4.45" fill="#a020f0"/><circle cx="143.4" cy="1785.9" r="4.45" fill="#00ff00"/><circle cx="160.9" cy="1781.7" r="4.45" fill="#bebebe"/><circle cx="166.0" cy="1784.7" r="4.45" fill="#00ff00"/><circle cx="159.5" cy="1788.5" r="4.45" fill="#00ffff"/><circle cx="110.3" cy="1788.2" r="4.45" fill="#000000"/><circle cx="227.9" cy="1779.6" r="4.45" fill="#f60000"/><circle cx="137.8" cy="1791.2" r="4.45" fill="#bebebe"/><circle cx="142.3" cy="1792.7" r="4.45" fill="#bebebe"/><circle cx="145.2" cy="1794.2" r="4.45" fill="#bebebe"/><circle cx="126.6" cy="1794.2" r="4.45" fill="#f60000"/><circle cx="123.0" cy="1797.7" r="4.45" fill="#f60000"/><circle cx="142.3" cy="1800.1" r="4.45" fill="#a020f0"/><circle cx="160.0" cy="1799.5" r="4.45" fill="#bebebe"/><circle cx="157.1" cy="1802.5" r="4.45" fill="#f60000"/><circle cx="158.0" cy="1806.0" r="4.45" fill="#00ff00"/><circle cx="132.2" cy="1801.6" r="4.45" fill="#00ff00"/><circle cx="174.6" cy="1800.4" r="4.45" fill="#000000"/><circle cx="126.0" cy="1807.2" r="4.45" fill="#bebebe"/><circle cx="132.5" cy="1809.0" r="4.45" fill="#bebebe"/><circle cx="136.9" cy="1809.6" r="4.45" fill="#a020f0"/><circle cx="143.2" cy="1811.1" r="4.45" fill="#f60000"/><circle cx="115.0" cy="1812.0" r="4.45" fill="#00ff00"/><circle cx="135.7" cy="1814.9" r="4.45" fill="#bebebe"/><circle cx="142.3" cy="1816.7" r="4.45" fill="#00ff00"/><circle cx="120.9" cy="1817.3" r="4.45" fill="#000000"/><circle cx="104.6" cy="1819.4" r="4.45" fill="#f60000"/><circle cx="114.1" cy="1821.7" r="4.45" fill="#00ff00"/><circle cx="111.7" cy="1829.1" r="4.45" fill="#bebebe"/><circle cx="151.7" cy="1828.5" r="4.45" fill="#00ff00"/><circle cx="137.8" cy="1832.7" r="4.45" fill="#a020f0"/><circle cx="160.3" cy="1834.2" r="4.45" fill="#bebebe"/><circle cx="170.7" cy="1834.5" r="4.45" fill="#bebebe"/><circle cx="112.9" cy="1837.1" r="4.45" fill="#f60000"/><circle cx="117.1" cy="1837.7" r="4.45" fill="#a020f0"/><circle cx="130.4" cy="1836.0" r="4.45" fill="#f60000"/><circle cx="135.2" cy="1838.6" r="4.45" fill="#bebebe"/><circle cx="147.6" cy="1836.8" r="4.45" fill="#000000"/><circle cx="112.6" cy="1840.7" r="4.45" fill="#00ff00"/><circle cx="143.2" cy="1846.0" r="4.45" fill="#bebebe"/><circle cx="152.3" cy="1845.7" r="4.45" fill="#bebebe"/><circle cx="101.4" cy="1849.9" r="4.45" fill="#f60000"/><circle cx="95.7" cy="1855.8" r="4.45" fill="#f60000"/><circle cx="102.5" cy="1855.8" r="4.45" fill="#000000"/><circle cx="142.0" cy="1854.3" r="4.45" fill="#a020f0"/><circle cx="113.2" cy="1857.0" r="4.45" fill="#00ff00"/><circle cx="115.0" cy="1867.4" r="4.45" fill="#a020f0"/><circle cx="123.9" cy="1866.2" r="4.45" fill="#f60000"/><circle cx="144.9" cy="1865.9" r="4.45" fill="#00ff00"/><circle cx="153.5" cy="1869.7" r="4.45" fill="#a020f0"/><circle cx="155.6" cy="1872.7" r="4.45" fill="#bebebe"/><circle cx="111.4" cy="1881.6" r="4.45" fill="#f60000"/><circle cx="112.9" cy="1887.5" r="4.45" fill="#f60000"/><circle cx="92.8" cy="1885.7" r="4.45" fill="#f60000"/><circle cx="98.1" cy="1887.5" r="4.45" fill="#bebebe"/><circle cx="165.7" cy="1883.4" r="4.45" fill="#000000"/><circle cx="126.3" cy="1892.0" r="4.45" fill="#000000"/><circle cx="89.5" cy="1924.6" r="4.45" fill="#f60000"/><circle cx="360.7" cy="1712.4" r="4.45" fill="#000000"/><circle cx="353.6" cy="1724.8" r="4.45" fill="#ffa500"/><circle cx="388.9" cy="1729.6" r="4.45" fill="#000000"/><circle cx="406.6" cy="1733.7" r="4.45" fill="#f60000"/><circle cx="393.6" cy="1734.3" r="4.45" fill="#00ff00"/><circle cx="397.2" cy="1734.3" r="4.45" fill="#00ff00"/><circle cx="419.7" cy="1735.8" r="4.45" fill="#0000f4"/><circle cx="366.3" cy="1736.7" r="4.45" fill="#000000"/><circle cx="367.5" cy="1741.7" r="4.45" fill="#000000"/><circle cx="403.7" cy="1737.3" r="4.45" fill="#000000"/><circle cx="396.6" cy="1741.7" r="4.45" fill="#000000"/><circle cx="420.9" cy="1740.2" r="4.45" fill="#00ffff"/><circle cx="414.9" cy="1741.7" r="4.45" fill="#000000"/><circle cx="412.0" cy="1745.9" r="4.45" fill="#000000"/><circle cx="424.7" cy="1745.9" r="4.45" fill="#f60000"/><circle cx="361.6" cy="1743.8" r="4.45" fill="#0000f4"/><circle cx="359.5" cy="1747.6" r="4.45" fill="#00ff00"/><circle cx="381.4" cy="1747.6" r="4.45" fill="#0000f4"/><circle cx="343.5" cy="1753.3" r="4.45" fill="#f60000"/><circle cx="424.7" cy="1752.1" r="4.45" fill="#bebebe"/><circle cx="421.8" cy="1757.1" r="4.45" fill="#0000f4"/><circle cx="369.3" cy="1758.6" r="4.45" fill="#000000"/><circle cx="364.0" cy="1761.9" r="4.45" fill="#000000"/><circle cx="351.5" cy="1763.6" r="4.45" fill="#000000"/><circle cx="376.7" cy="1766.0" r="4.45" fill="#000000"/><circle cx="412.0" cy="1761.0" r="4.45" fill="#000000"/><circle cx="418.5" cy="1764.5" r="4.45" fill="#bebebe"/><circle cx="422.9" cy="1766.3" r="4.45" fill="#bebebe"/><circle cx="351.5" cy="1768.7" r="4.45" fill="#0000f4"/><circle cx="332.0" cy="1767.5" r="4.45" fill="#000000"/><circle cx="329.0" cy="1770.5" r="4.45" fill="#000000"/><circle cx="332.0" cy="1772.5" r="4.45" fill="#000000"/><circle cx="392.1" cy="1774.0" r="4.45" fill="#000000"/><circle cx="433.3" cy="1772.5" r="4.45" fill="#0000f4"/><circle cx="440.7" cy="1772.5" r="4.45" fill="#000000"/><circle cx="386.8" cy="1781.7" r="4.45" fill="#000000"/><circle cx="412.0" cy="1781.7" r="4.45" fill="#f60000"/><circle cx="424.7" cy="1778.8" r="4.45" fill="#0000f4"/><circle cx="420.3" cy="1782.3" r="4.45" fill="#0000f4"/><circle cx="439.8" cy="1780.2" r="4.45" fill="#000000"/><circle cx="342.9" cy="1783.2" r="4.45" fill="#000000"/><circle cx="423.2" cy="1785.9" r="4.45" fill="#000000"/><circle cx="431.8" cy="1785.3" r="4.45" fill="#000000"/><circle cx="406.0" cy="1788.8" r="4.45" fill="#000000"/><circle cx="385.3" cy="1789.7" r="4.45" fill="#000000"/><circle cx="391.2" cy="1790.6" r="4.45" fill="#0000f4"/><circle cx="306.2" cy="1801.0" r="4.45" fill="#000000"/><circle cx="340.0" cy="1794.2" r="4.45" fill="#000000"/><circle cx="347.4" cy="1794.8" r="4.45" fill="#000000"/><circle cx="337.3" cy="1797.7" r="4.45" fill="#000000"/><circle cx="343.8" cy="1797.1" r="4.45" fill="#000000"/><circle cx="349.7" cy="1797.7" r="4.45" fill="#000000"/><circle cx="354.8" cy="1800.7" r="4.45" fill="#0000f4"/><circle cx="385.3" cy="1793.6" r="4.45" fill="#000000"/><circle cx="386.8" cy="1797.1" r="4.45" fill="#000000"/><circle cx="394.2" cy="1798.9" r="4.45" fill="#0000f4"/><circle cx="403.1" cy="1794.2" r="4.45" fill="#0000f4"/><circle cx="341.7" cy="1807.2" r="4.45" fill="#000000"/>
<circle cx="641.5" cy="1621.4" r="4.45" fill="#0000f4"/><circle cx="669.7" cy="1625.5" r="4.45" fill="#0000f4"/><circle cx="664.9" cy="1652.8" r="4.45" fill="#0000f4"/><circle cx="660.8" cy="1685.1" r="4.45" fill="#0000f4"/><circle cx="667.3" cy="1688.7" r="4.45" fill="#0000f4"/><circle cx="657.2" cy="1696.7" r="4.45" fill="#0000f4"/><circle cx="741.1" cy="1697.8" r="4.45" fill="#0000f4"/><circle cx="627.3" cy="1715.0" r="4.45" fill="#0000f4"/><circle cx="723.6" cy="1723.9" r="4.45" fill="#0000f4"/><circle cx="611.9" cy="1732.2" r="4.45" fill="#0000f4"/><circle cx="857.9" cy="1712.4" r="4.45" fill="#0000f4"/><circle cx="851.1" cy="1724.8" r="4.45" fill="#0000f4"/><circle cx="800.1" cy="1735.2" r="4.45" fill="#0000f4"/><circle cx="893.5" cy="1734.0" r="4.45" fill="#0000f4"/><circle cx="917.2" cy="1735.8" r="4.45" fill="#0000f4"/><circle cx="678.9" cy="1742.3" r="4.45" fill="#0000f4"/><circle cx="713.0" cy="1746.7" r="4.45" fill="#0000f4"/><circle cx="858.8" cy="1744.7" r="4.45" fill="#0000f4"/><circle cx="878.6" cy="1747.6" r="4.45" fill="#0000f4"/><circle cx="910.3" cy="1743.8" r="4.45" fill="#0000f4"/><circle cx="921.6" cy="1745.9" r="4.45" fill="#0000f4"/><circle cx="918.6" cy="1751.2" r="4.45" fill="#0000f4"/><circle cx="840.7" cy="1753.9" r="4.45" fill="#0000f4"/><circle cx="918.6" cy="1757.1" r="4.45" fill="#0000f4"/><circle cx="624.6" cy="1758.6" r="4.45" fill="#0000f4"/><circle cx="866.2" cy="1758.6" r="4.45" fill="#0000f4"/><circle cx="873.6" cy="1766.0" r="4.45" fill="#0000f4"/><circle cx="848.4" cy="1768.7" r="4.45" fill="#0000f4"/><circle cx="919.5" cy="1766.0" r="4.45" fill="#0000f4"/><circle cx="621.7" cy="1769.0" r="4.45" fill="#0000f4"/><circle cx="930.5" cy="1773.4" r="4.45" fill="#0000f4"/><circle cx="938.5" cy="1771.9" r="4.45" fill="#0000f4"/><circle cx="616.3" cy="1781.4" r="4.45" fill="#0000f4"/><circle cx="680.1" cy="1779.9" r="4.45" fill="#0000f4"/><circle cx="663.2" cy="1784.7" r="4.45" fill="#0000f4"/><circle cx="656.9" cy="1788.2" r="4.45" fill="#0000f4"/><circle cx="675.0" cy="1785.3" r="4.45" fill="#0000f4"/><circle cx="725.4" cy="1779.6" r="4.45" fill="#0000f4"/><circle cx="884.0" cy="1781.7" r="4.45" fill="#0000f4"/><circle cx="909.2" cy="1781.7" r="4.45" fill="#0000f4"/><circle cx="921.6" cy="1778.8" r="4.45" fill="#0000f4"/><circle cx="920.7" cy="1785.3" r="4.45" fill="#0000f4"/><circle cx="937.3" cy="1779.9" r="4.45" fill="#0000f4"/><circle cx="633.2" cy="1783.8" r="4.45" fill="#0000f4"/><circle cx="640.9" cy="1785.9" r="4.45" fill="#0000f4"/><circle cx="632.6" cy="1790.3" r="4.45" fill="#0000f4"/><circle cx="640.0" cy="1791.2" r="4.45" fill="#0000f4"/><circle cx="642.4" cy="1794.2" r="4.45" fill="#0000f4"/><circle cx="623.7" cy="1794.2" r="4.45" fill="#0000f4"/><circle cx="619.9" cy="1797.7" r="4.45" fill="#0000f4"/><circle cx="640.0" cy="1800.1" r="4.45" fill="#0000f4"/><circle cx="657.2" cy="1799.5" r="4.45" fill="#0000f4"/><circle cx="654.9" cy="1806.0" r="4.45" fill="#0000f4"/><circle cx="671.8" cy="1800.4" r="4.45" fill="#0000f4"/><circle cx="838.0" cy="1794.2" r="4.45" fill="#0000f4"/><circle cx="852.0" cy="1800.7" r="4.45" fill="#0000f4"/><circle cx="803.1" cy="1801.0" r="4.45" fill="#0000f4"/><circle cx="887.5" cy="1790.6" r="4.45" fill="#0000f4"/><circle cx="883.1" cy="1794.8" r="4.45" fill="#0000f4"/><circle cx="884.6" cy="1797.1" r="4.45" fill="#0000f4"/><circle cx="891.4" cy="1798.9" r="4.45" fill="#0000f4"/><circle cx="900.3" cy="1794.2" r="4.45" fill="#0000f4"/><circle cx="903.2" cy="1788.8" r="4.45" fill="#0000f4"/><circle cx="623.7" cy="1803.1" r="4.45" fill="#0000f4"/><circle cx="629.7" cy="1801.6" r="4.45" fill="#0000f4"/><circle cx="631.2" cy="1806.0" r="4.45" fill="#0000f4"/><circle cx="624.3" cy="1807.2" r="4.45" fill="#0000f4"/><circle cx="612.5" cy="1812.0" r="4.45" fill="#0000f4"/><circle cx="632.6" cy="1811.4" r="4.45" fill="#0000f4"/><circle cx="640.0" cy="1811.1" r="4.45" fill="#0000f4"/><circle cx="634.1" cy="1814.9" r="4.45" fill="#0000f4"/><circle cx="639.2" cy="1816.7" r="4.45" fill="#0000f4"/><circle cx="611.9" cy="1821.7" r="4.45" fill="#0000f4"/><circle cx="609.2" cy="1829.1" r="4.45" fill="#0000f4"/><circle cx="610.4" cy="1834.2" r="4.45" fill="#0000f4"/><circle cx="627.3" cy="1836.0" r="4.45" fill="#0000f4"/><circle cx="609.8" cy="1840.1" r="4.45" fill="#0000f4"/><circle cx="645.1" cy="1836.8" r="4.45" fill="#0000f4"/><circle cx="657.8" cy="1833.6" r="4.45" fill="#0000f4"/><circle cx="667.9" cy="1834.5" r="4.45" fill="#0000f4"/><circle cx="657.2" cy="1837.7" r="4.45" fill="#0000f4"/><circle cx="649.8" cy="1845.7" r="4.45" fill="#0000f4"/><circle cx="598.6" cy="1849.9" r="4.45" fill="#0000f4"/><circle cx="593.2" cy="1855.8" r="4.45" fill="#0000f4"/><circle cx="610.7" cy="1857.0" r="4.45" fill="#0000f4"/><circle cx="638.9" cy="1854.3" r="4.45" fill="#0000f4"/><circle cx="612.5" cy="1867.4" r="4.45" fill="#0000f4"/><circle cx="642.1" cy="1865.9" r="4.45" fill="#0000f4"/><circle cx="651.0" cy="1869.7" r="4.45" fill="#0000f4"/><circle cx="653.1" cy="1872.7" r="4.45" fill="#0000f4"/><circle cx="589.7" cy="1885.7" r="4.45" fill="#0000f4"/><circle cx="595.0" cy="1887.5" r="4.45" fill="#0000f4"/><circle cx="610.4" cy="1887.5" r="4.45" fill="#0000f4"/><circle cx="662.9" cy="1883.4" r="4.45" fill="#0000f4"/><circle cx="623.4" cy="1892.0" r="4.45" fill="#0000f4"/><circle cx="587.0" cy="1924.6" r="4.45" fill="#0000f4"/><circle cx="642.7" cy="1567.4" r="4.45" fill="#f60000"/><circle cx="620.5" cy="1579.9" r="4.45" fill="#f60000"/><circle cx="656.3" cy="1582.8" r="4.45" fill="#f60000"/><circle cx="688.1" cy="1578.7" r="4.45" fill="#f60000"/><circle cx="679.5" cy="1583.7" r="4.45" fill="#f60000"/><circle cx="667.9" cy="1591.4" r="4.45" fill="#f60000"/><circle cx="653.7" cy="1597.7" r="4.45" fill="#f60000"/><circle cx="616.0" cy="1607.1" r="4.45" fill="#f60000"/><circle cx="623.2" cy="1607.1" r="4.45" fill="#f60000"/><circle cx="674.1" cy="1610.4" r="4.45" fill="#f60000"/><circle cx="673.2" cy="1615.7" r="4.45" fill="#f60000"/><circle cx="681.8" cy="1617.2" r="4.45" fill="#f60000"/><circle cx="648.3" cy="1614.3" r="4.45" fill="#f60000"/><circle cx="635.3" cy="1616.9" r="4.45" fill="#f60000"/><circle cx="659.9" cy="1625.5" r="4.45" fill="#f60000"/><circle cx="660.8" cy="1629.1" r="4.45" fill="#f60000"/><circle cx="651.0" cy="1637.1" r="4.45" fill="#f60000"/><circle cx="667.0" cy="1639.2" r="4.45" fill="#f60000"/><circle cx="668.2" cy="1658.7" r="4.45" fill="#f60000"/><circle cx="715.0" cy="1660.8" r="4.45" fill="#f60000"/><circle cx="626.4" cy="1669.1" r="4.45" fill="#f60000"/><circle cx="632.0" cy="1668.2" r="4.45" fill="#f60000"/><circle cx="654.9" cy="1667.9" r="4.45" fill="#f60000"/><circle cx="641.5" cy="1675.6" r="4.45" fill="#f60000"/><circle cx="666.7" cy="1676.8" r="4.45" fill="#f60000"/><circle cx="735.2" cy="1686.9" r="4.45" fill="#f60000"/><circle cx="759.8" cy="1690.7" r="4.45" fill="#f60000"/><circle cx="663.8" cy="1718.0" r="4.45" fill="#f60000"/><circle cx="671.2" cy="1734.3" r="4.45" fill="#f60000"/><circle cx="675.6" cy="1736.7" r="4.45" fill="#f60000"/><circle cx="606.0" cy="1741.1" r="4.45" fill="#f60000"/><circle cx="607.4" cy="1766.3" r="4.45" fill="#f60000"/><circle cx="630.3" cy="1771.9" r="4.45" fill="#f60000"/><circle cx="861.4" cy="1761.6" r="4.45" fill="#f60000"/><circle cx="634.7" cy="1833.6" r="4.45" fill="#f60000"/><circle cx="640.3" cy="1846.0" r="4.45" fill="#f60000"/>
<circle cx="138.4" cy="2071.3" r="4.2" fill="#00ff00"/><circle cx="160.0" cy="2071.0" r="4.2" fill="#00ff00"/><circle cx="134.9" cy="2075.4" r="4.2" fill="#a020f0"/><circle cx="148.8" cy="2078.1" r="4.2" fill="#00ff00"/><circle cx="127.4" cy="2085.8" r="4.2" fill="#f60000"/><circle cx="125.7" cy="2091.1" r="4.2" fill="#00ff00"/><circle cx="138.7" cy="2092.0" r="4.2" fill="#00ff00"/><circle cx="144.3" cy="2095.6" r="4.2" fill="#00ff00"/><circle cx="114.1" cy="2094.7" r="4.2" fill="#f60000"/><circle cx="128.0" cy="2100.3" r="4.2" fill="#f60000"/><circle cx="157.4" cy="2115.4" r="4.2" fill="#f60000"/><circle cx="165.7" cy="2120.2" r="4.2" fill="#f60000"/><circle cx="129.5" cy="2121.1" r="4.2" fill="#f60000"/><circle cx="141.1" cy="2123.4" r="4.2" fill="#f60000"/><circle cx="145.8" cy="2124.3" r="4.2" fill="#00ffff"/><circle cx="155.6" cy="2123.4" r="4.2" fill="#00ff00"/><circle cx="169.8" cy="2125.8" r="4.2" fill="#00ff00"/><circle cx="173.4" cy="2124.6" r="4.2" fill="#f60000"/><circle cx="176.6" cy="2128.2" r="4.2" fill="#f60000"/><circle cx="118.6" cy="2127.3" r="4.2" fill="#f60000"/><circle cx="146.1" cy="2132.6" r="4.2" fill="#ffa500"/><circle cx="196.2" cy="2133.8" r="4.2" fill="#00ff00"/><circle cx="140.8" cy="2141.2" r="4.2" fill="#00ff00"/><circle cx="146.4" cy="2140.6" r="4.2" fill="#00ff00"/><circle cx="162.1" cy="2141.5" r="4.2" fill="#bebebe"/><circle cx="193.2" cy="2148.0" r="4.2" fill="#00ff00"/><circle cx="128.3" cy="2156.3" r="4.2" fill="#000000"/><circle cx="131.9" cy="2152.8" r="4.2" fill="#f60000"/><circle cx="143.7" cy="2154.9" r="4.2" fill="#f60000"/><circle cx="115.9" cy="2163.2" r="4.2" fill="#bebebe"/><circle cx="136.3" cy="2162.3" r="4.2" fill="#f60000"/><circle cx="125.4" cy="2165.2" r="4.2" fill="#f60000"/><circle cx="136.9" cy="2169.1" r="4.2" fill="#ffa500"/><circle cx="123.9" cy="2174.4" r="4.2" fill="#ffa500"/><circle cx="141.4" cy="2177.4" r="4.2" fill="#00ff00"/><circle cx="148.2" cy="2182.1" r="4.2" fill="#f60000"/><circle cx="161.5" cy="2197.8" r="4.2" fill="#0000f4"/><circle cx="158.6" cy="2203.8" r="4.2" fill="#00ff00"/><circle cx="115.6" cy="2205.2" r="4.2" fill="#f60000"/><circle cx="152.6" cy="2211.2" r="4.2" fill="#bebebe"/><circle cx="149.1" cy="2211.2" r="4.2" fill="#00ff00"/><circle cx="131.0" cy="2214.1" r="4.2" fill="#a020f0"/><circle cx="144.3" cy="2215.9" r="4.2" fill="#00ffff"/><circle cx="177.5" cy="2217.7" r="4.2" fill="#ffa500"/><circle cx="209.2" cy="2208.5" r="4.2" fill="#f60000"/><circle cx="117.7" cy="2223.6" r="4.2" fill="#00ffff"/><circle cx="119.4" cy="2239.6" r="4.2" fill="#f60000"/><circle cx="149.7" cy="2245.0" r="4.2" fill="#a020f0"/><circle cx="121.8" cy="2248.2" r="4.2" fill="#f60000"/><circle cx="118.6" cy="2249.7" r="4.2" fill="#a020f0"/><circle cx="167.8" cy="2252.4" r="4.2" fill="#bebebe"/><circle cx="105.8" cy="2259.8" r="4.2" fill="#bebebe"/><circle cx="135.7" cy="2259.5" r="4.2" fill="#f60000"/><circle cx="149.1" cy="2269.6" r="4.2" fill="#bebebe"/><circle cx="129.5" cy="2273.7" r="4.2" fill="#a020f0"/><circle cx="147.3" cy="2276.4" r="4.2" fill="#bebebe"/><circle cx="154.7" cy="2277.0" r="4.2" fill="#f60000"/><circle cx="137.2" cy="2280.8" r="4.2" fill="#bebebe"/><circle cx="140.8" cy="2282.6" r="4.2" fill="#ffa500"/><circle cx="116.5" cy="2279.9" r="4.2" fill="#0000f4"/><circle cx="110.3" cy="2285.9" r="4.2" fill="#f60000"/><circle cx="129.2" cy="2286.2" r="4.2" fill="#00ff00"/><circle cx="160.9" cy="2289.1" r="4.2" fill="#000000"/><circle cx="105.8" cy="2295.3" r="4.2" fill="#f60000"/><circle cx="112.9" cy="2294.7" r="4.2" fill="#00ff00"/><circle cx="152.6" cy="2293.3" r="4.2" fill="#f60000"/><circle cx="157.4" cy="2297.1" r="4.2" fill="#f60000"/><circle cx="147.3" cy="2295.0" r="4.2" fill="#00ffff"/><circle cx="120.0" cy="2299.5" r="4.2" fill="#bebebe"/><circle cx="131.3" cy="2299.5" r="4.2" fill="#bebebe"/><circle cx="149.1" cy="2301.0" r="4.2" fill="#bebebe"/><circle cx="130.4" cy="2306.0" r="4.2" fill="#bebebe"/><circle cx="139.3" cy="2307.5" r="4.2" fill="#bebebe"/><circle cx="145.2" cy="2306.0" r="4.2" fill="#bebebe"/><circle cx="134.9" cy="2311.9" r="4.2" fill="#bebebe"/><circle cx="140.8" cy="2314.9" r="4.2" fill="#bebebe"/><circle cx="131.9" cy="2313.4" r="4.2" fill="#bebebe"/><circle cx="137.8" cy="2316.4" r="4.2" fill="#bebebe"/><circle cx="137.8" cy="2309.0" r="4.2" fill="#f60000"/><circle cx="120.0" cy="2308.1" r="4.2" fill="#00ff00"/><circle cx="113.5" cy="2313.4" r="4.2" fill="#bebebe"/><circle cx="120.0" cy="2314.9" r="4.2" fill="#f60000"/><circle cx="147.3" cy="2319.9" r="4.2" fill="#000000"/><circle cx="118.6" cy="2322.3" r="4.2" fill="#a020f0"/><circle cx="126.6" cy="2321.7" r="4.2" fill="#a020f0"/><circle cx="117.7" cy="2327.6" r="4.2" fill="#bebebe"/><circle cx="124.5" cy="2328.2" r="4.2" fill="#bebebe"/><circle cx="162.4" cy="2326.8" r="4.2" fill="#000000"/><circle cx="153.2" cy="2327.6" r="4.2" fill="#bebebe"/><circle cx="105.5" cy="2326.5" r="4.2" fill="#00ff00"/><circle cx="146.7" cy="2332.7" r="4.2" fill="#000000"/><circle cx="117.7" cy="2335.6" r="4.2" fill="#bebebe"/><circle cx="120.0" cy="2335.6" r="4.2" fill="#a020f0"/><circle cx="129.5" cy="2336.8" r="4.2" fill="#f60000"/><circle cx="153.5" cy="2338.6" r="4.2" fill="#bebebe"/><circle cx="104.9" cy="2341.6" r="4.2" fill="#a020f0"/><circle cx="115.0" cy="2344.2" r="4.2" fill="#f60000"/><circle cx="99.3" cy="2349.6" r="4.2" fill="#f60000"/><circle cx="103.7" cy="2347.5" r="4.2" fill="#00ff00"/><circle cx="126.6" cy="2349.9" r="4.2" fill="#bebebe"/><circle cx="99.3" cy="2355.5" r="4.2" fill="#f60000"/><circle cx="112.0" cy="2357.3" r="4.2" fill="#00ff00"/><circle cx="145.5" cy="2358.2" r="4.2" fill="#00ff00"/><circle cx="108.2" cy="2369.7" r="4.2" fill="#a020f0"/><circle cx="108.2" cy="2364.7" r="4.2" fill="#000000"/><circle cx="158.6" cy="2366.8" r="4.2" fill="#bebebe"/><circle cx="160.9" cy="2372.7" r="4.2" fill="#bebebe"/><circle cx="169.8" cy="2371.8" r="4.2" fill="#000000"/><circle cx="149.7" cy="2374.8" r="4.2" fill="#bebebe"/><circle cx="120.3" cy="2373.3" r="4.2" fill="#a020f0"/><circle cx="124.8" cy="2379.8" r="4.2" fill="#f60000"/><circle cx="146.7" cy="2389.0" r="4.2" fill="#a020f0"/><circle cx="145.2" cy="2398.5" r="4.2" fill="#00ff00"/><circle cx="91.9" cy="2394.0" r="4.2" fill="#f60000"/><circle cx="98.1" cy="2400.0" r="4.2" fill="#bebebe"/><circle cx="110.6" cy="2397.3" r="4.2" fill="#f60000"/><circle cx="112.0" cy="2405.6" r="4.2" fill="#f60000"/><circle cx="131.3" cy="2406.2" r="4.2" fill="#000000"/><circle cx="89.5" cy="2428.1" r="4.2" fill="#f60000"/><circle cx="212.8" cy="2288.8" r="4.2" fill="#f60000"/><circle cx="228.2" cy="2094.1" r="4.2" fill="#00ffff"/><circle cx="231.8" cy="2090.5" r="4.2" fill="#00ffff"/><circle cx="226.7" cy="2097.7" r="4.2" fill="#00ffff"/><circle cx="227.3" cy="2100.0" r="4.2" fill="#00ffff"/><circle cx="244.2" cy="2097.1" r="4.2" fill="#00ffff"/><circle cx="319.2" cy="2214.1" r="4.2" fill="#00ff00"/><circle cx="354.8" cy="2223.6" r="4.2" fill="#000000"/><circle cx="345.3" cy="2231.9" r="4.2" fill="#f60000"/><circle cx="348.8" cy="2234.6" r="4.2" fill="#000000"/><circle cx="335.5" cy="2236.7" r="4.2" fill="#000000"/><circle cx="367.5" cy="2234.9" r="4.2" fill="#000000"/><circle cx="362.2" cy="2242.3" r="4.2" fill="#000000"/><circle cx="370.5" cy="2242.9" r="4.2" fill="#000000"/><circle cx="375.5" cy="2240.2" r="4.2" fill="#00ff00"/><circle cx="384.4" cy="2245.5" r="4.2" fill="#000000"/><circle cx="396.3" cy="2244.1" r="4.2" fill="#000000"/><circle cx="290.2" cy="2254.7" r="4.2" fill="#000000"/><circle cx="320.4" cy="2256.2" r="4.2" fill="#000000"/><circle cx="360.1" cy="2248.2" r="4.2" fill="#000000"/><circle cx="350.3" cy="2254.1" r="4.2" fill="#000000"/><circle cx="358.6" cy="2255.6" r="4.2" fill="#000000"/><circle cx="365.1" cy="2258.0" r="4.2" fill="#000000"/><circle cx="374.0" cy="2256.8" r="4.2" fill="#0000f4"/><circle cx="405.2" cy="2251.8" r="4.2" fill="#000000"/><circle cx="412.0" cy="2250.3" r="4.2" fill="#000000"/><circle cx="351.2" cy="2264.5" r="4.2" fill="#ffa500"/><circle cx="363.1" cy="2261.6" r="4.2" fill="#000000"/><circle cx="367.5" cy="2268.4" r="4.2" fill="#000000"/><circle cx="382.3" cy="2266.6" r="4.2" fill="#0000f4"/><circle cx="414.9" cy="2259.2" r="4.2" fill="#000000"/><circle cx="426.8" cy="2258.0" r="4.2" fill="#bebebe"/><circle cx="395.7" cy="2263.0" r="4.2" fill="#000000"/><circle cx="404.6" cy="2263.6" r="4.2" fill="#000000"/><circle cx="426.8" cy="2261.6" r="4.2" fill="#000000"/><circle cx="431.2" cy="2263.0" r="4.2" fill="#000000"/><circle cx="441.0" cy="2261.0" r="4.2" fill="#000000"/><circle cx="410.5" cy="2268.1" r="4.2" fill="#00ff00"/><circle cx="417.9" cy="2267.5" r="4.2" fill="#000000"/><circle cx="423.8" cy="2266.0" r="4.2" fill="#000000"/><circle cx="428.3" cy="2267.5" r="4.2" fill="#bebebe"/><circle cx="344.7" cy="2269.9" r="4.2" fill="#000000"/><circle cx="341.4" cy="2273.4" r="4.2" fill="#0000f4"/><circle cx="399.2" cy="2272.5" r="4.2" fill="#0000f4"/><circle cx="389.7" cy="2277.0" r="4.2" fill="#00ff00"/><circle cx="408.4" cy="2276.7" r="4.2" fill="#0000f4"/><circle cx="420.0" cy="2276.7" r="4.2" fill="#00ffff"/><circle cx="425.9" cy="2278.4" r="4.2" fill="#0000f4"/><circle cx="391.2" cy="2281.7" r="4.2" fill="#000000"/><circle cx="363.7" cy="2283.5" r="4.2" fill="#0000f4"/><circle cx="379.4" cy="2288.2" r="4.2" fill="#0000f4"/><circle cx="397.7" cy="2289.7" r="4.2" fill="#000000"/><circle cx="416.4" cy="2285.3" r="4.2" fill="#000000"/><circle cx="420.9" cy="2285.6" r="4.2" fill="#f60000"/><circle cx="315.1" cy="2290.6" r="4.2" fill="#000000"/><circle cx="355.7" cy="2298.0" r="4.2" fill="#0000f4"/><circle cx="361.6" cy="2301.9" r="4.2" fill="#0000f4"/><circle cx="424.4" cy="2297.4" r="4.2" fill="#0000f4"/><circle cx="428.3" cy="2295.6" r="4.2" fill="#f60000"/><circle cx="358.0" cy="2335.6" r="4.2" fill="#0000f4"/>
<circle cx="729.0" cy="2091.1" r="4.2" fill="#0000f4"/><circle cx="666.7" cy="2125.8" r="4.2" fill="#0000f4"/><circle cx="625.8" cy="2156.3" r="4.2" fill="#0000f4"/><circle cx="633.8" cy="2169.1" r="4.2" fill="#0000f4"/><circle cx="639.2" cy="2177.4" r="4.2" fill="#0000f4"/><circle cx="645.7" cy="2182.1" r="4.2" fill="#0000f4"/><circle cx="706.7" cy="2208.5" r="4.2" fill="#0000f4"/><circle cx="628.5" cy="2214.1" r="4.2" fill="#0000f4"/><circle cx="675.0" cy="2217.7" r="4.2" fill="#0000f4"/><circle cx="615.2" cy="2223.6" r="4.2" fill="#0000f4"/><circle cx="816.4" cy="2214.1" r="4.2" fill="#0000f4"/><circle cx="852.0" cy="2223.6" r="4.2" fill="#0000f4"/><circle cx="616.9" cy="2239.6" r="4.2" fill="#0000f4"/><circle cx="868.3" cy="2242.3" r="4.2" fill="#0000f4"/><circle cx="893.8" cy="2244.1" r="4.2" fill="#0000f4"/><circle cx="817.9" cy="2256.2" r="4.2" fill="#0000f4"/><circle cx="847.5" cy="2254.1" r="4.2" fill="#0000f4"/><circle cx="849.0" cy="2264.5" r="4.2" fill="#0000f4"/><circle cx="862.9" cy="2258.0" r="4.2" fill="#0000f4"/><circle cx="871.8" cy="2256.8" r="4.2" fill="#0000f4"/><circle cx="880.1" cy="2266.6" r="4.2" fill="#0000f4"/><circle cx="838.6" cy="2273.7" r="4.2" fill="#0000f4"/><circle cx="860.9" cy="2283.5" r="4.2" fill="#0000f4"/><circle cx="876.3" cy="2288.2" r="4.2" fill="#0000f4"/><circle cx="812.5" cy="2290.6" r="4.2" fill="#0000f4"/><circle cx="853.4" cy="2298.0" r="4.2" fill="#0000f4"/><circle cx="858.8" cy="2301.9" r="4.2" fill="#0000f4"/><circle cx="855.5" cy="2335.6" r="4.2" fill="#0000f4"/><circle cx="887.5" cy="2276.7" r="4.2" fill="#0000f4"/><circle cx="889.0" cy="2281.7" r="4.2" fill="#0000f4"/><circle cx="894.9" cy="2289.7" r="4.2" fill="#0000f4"/><circle cx="896.4" cy="2272.5" r="4.2" fill="#0000f4"/><circle cx="901.8" cy="2263.0" r="4.2" fill="#0000f4"/><circle cx="905.9" cy="2276.7" r="4.2" fill="#0000f4"/><circle cx="912.1" cy="2259.2" r="4.2" fill="#0000f4"/><circle cx="915.7" cy="2267.5" r="4.2" fill="#0000f4"/><circle cx="914.2" cy="2284.7" r="4.2" fill="#0000f4"/><circle cx="918.6" cy="2285.6" r="4.2" fill="#0000f4"/><circle cx="921.6" cy="2277.9" r="4.2" fill="#0000f4"/><circle cx="923.7" cy="2266.0" r="4.2" fill="#0000f4"/><circle cx="924.6" cy="2261.6" r="4.2" fill="#0000f4"/><circle cx="926.7" cy="2266.0" r="4.2" fill="#0000f4"/><circle cx="921.0" cy="2295.6" r="4.2" fill="#0000f4"/><circle cx="925.5" cy="2295.6" r="4.2" fill="#0000f4"/><circle cx="938.2" cy="2261.0" r="4.2" fill="#0000f4"/><circle cx="627.3" cy="2273.7" r="4.2" fill="#0000f4"/><circle cx="638.3" cy="2282.6" r="4.2" fill="#0000f4"/><circle cx="607.4" cy="2285.9" r="4.2" fill="#0000f4"/><circle cx="627.6" cy="2286.2" r="4.2" fill="#0000f4"/><circle cx="610.4" cy="2294.2" r="4.2" fill="#0000f4"/><circle cx="644.2" cy="2291.8" r="4.2" fill="#0000f4"/><circle cx="650.4" cy="2295.6" r="4.2" fill="#0000f4"/><circle cx="654.9" cy="2297.1" r="4.2" fill="#0000f4"/><circle cx="617.5" cy="2299.5" r="4.2" fill="#0000f4"/><circle cx="628.2" cy="2299.5" r="4.2" fill="#0000f4"/><circle cx="640.0" cy="2297.1" r="4.2" fill="#0000f4"/><circle cx="644.5" cy="2299.5" r="4.2" fill="#0000f4"/><circle cx="642.4" cy="2304.5" r="4.2" fill="#0000f4"/><circle cx="638.6" cy="2306.0" r="4.2" fill="#0000f4"/><circle cx="616.9" cy="2306.0" r="4.2" fill="#0000f4"/><circle cx="627.3" cy="2307.5" r="4.2" fill="#0000f4"/><circle cx="617.8" cy="2311.9" r="4.2" fill="#0000f4"/><circle cx="618.7" cy="2314.9" r="4.2" fill="#0000f4"/><circle cx="636.2" cy="2311.9" r="4.2" fill="#0000f4"/><circle cx="638.0" cy="2316.4" r="4.2" fill="#0000f4"/><circle cx="644.8" cy="2319.9" r="4.2" fill="#0000f4"/><circle cx="624.0" cy="2321.7" r="4.2" fill="#0000f4"/><circle cx="603.0" cy="2326.5" r="4.2" fill="#0000f4"/><circle cx="614.9" cy="2325.3" r="4.2" fill="#0000f4"/><circle cx="659.9" cy="2326.8" r="4.2" fill="#0000f4"/><circle cx="651.0" cy="2327.6" r="4.2" fill="#0000f4"/><circle cx="643.9" cy="2332.7" r="4.2" fill="#0000f4"/><circle cx="614.9" cy="2335.6" r="4.2" fill="#0000f4"/><circle cx="617.8" cy="2336.8" r="4.2" fill="#0000f4"/><circle cx="627.3" cy="2336.8" r="4.2" fill="#0000f4"/><circle cx="651.0" cy="2338.6" r="4.2" fill="#0000f4"/><circle cx="612.8" cy="2343.1" r="4.2" fill="#0000f4"/><circle cx="600.9" cy="2347.5" r="4.2" fill="#0000f4"/><circle cx="597.1" cy="2349.6" r="4.2" fill="#0000f4"/><circle cx="596.2" cy="2355.5" r="4.2" fill="#0000f4"/><circle cx="609.5" cy="2357.3" r="4.2" fill="#0000f4"/><circle cx="605.4" cy="2369.7" r="4.2" fill="#0000f4"/><circle cx="617.2" cy="2373.3" r="4.2" fill="#0000f4"/><circle cx="655.8" cy="2366.8" r="4.2" fill="#0000f4"/><circle cx="658.4" cy="2372.7" r="4.2" fill="#0000f4"/><circle cx="667.6" cy="2371.8" r="4.2" fill="#0000f4"/><circle cx="646.9" cy="2374.8" r="4.2" fill="#0000f4"/><circle cx="643.9" cy="2389.0" r="4.2" fill="#0000f4"/><circle cx="642.1" cy="2398.5" r="4.2" fill="#0000f4"/><circle cx="589.4" cy="2394.0" r="4.2" fill="#0000f4"/><circle cx="595.3" cy="2400.0" r="4.2" fill="#0000f4"/><circle cx="609.5" cy="2405.6" r="4.2" fill="#0000f4"/><circle cx="628.5" cy="2406.2" r="4.2" fill="#0000f4"/><circle cx="587.0" cy="2428.1" r="4.2" fill="#0000f4"/><circle cx="710.3" cy="2289.1" r="4.2" fill="#0000f4"/><circle cx="657.2" cy="2071.0" r="4.2" fill="#f60000"/><circle cx="632.3" cy="2075.7" r="4.2" fill="#f60000"/><circle cx="646.0" cy="2077.8" r="4.2" fill="#f60000"/><circle cx="624.6" cy="2085.8" r="4.2" fill="#f60000"/><circle cx="611.6" cy="2094.7" r="4.2" fill="#f60000"/><circle cx="641.2" cy="2095.9" r="4.2" fill="#f60000"/><circle cx="625.2" cy="2100.3" r="4.2" fill="#f60000"/><circle cx="724.5" cy="2099.4" r="4.2" fill="#f60000"/><circle cx="741.4" cy="2097.1" r="4.2" fill="#f60000"/><circle cx="654.9" cy="2115.4" r="4.2" fill="#f60000"/><circle cx="663.2" cy="2120.2" r="4.2" fill="#f60000"/><circle cx="639.2" cy="2123.4" r="4.2" fill="#f60000"/><circle cx="643.0" cy="2124.3" r="4.2" fill="#f60000"/><circle cx="652.8" cy="2122.8" r="4.2" fill="#f60000"/><circle cx="671.2" cy="2125.2" r="4.2" fill="#f60000"/><circle cx="615.7" cy="2127.3" r="4.2" fill="#f60000"/><circle cx="693.7" cy="2133.8" r="4.2" fill="#f60000"/><circle cx="638.0" cy="2141.2" r="4.2" fill="#f60000"/><circle cx="643.9" cy="2140.6" r="4.2" fill="#f60000"/><circle cx="659.6" cy="2141.5" r="4.2" fill="#f60000"/><circle cx="690.7" cy="2148.0" r="4.2" fill="#f60000"/><circle cx="629.7" cy="2152.8" r="4.2" fill="#f60000"/><circle cx="633.8" cy="2162.3" r="4.2" fill="#f60000"/><circle cx="613.4" cy="2163.2" r="4.2" fill="#f60000"/><circle cx="621.1" cy="2174.4" r="4.2" fill="#f60000"/><circle cx="659.0" cy="2197.8" r="4.2" fill="#f60000"/><circle cx="647.5" cy="2211.2" r="4.2" fill="#f60000"/><circle cx="641.5" cy="2215.6" r="4.2" fill="#f60000"/><circle cx="643.9" cy="2214.1" r="4.2" fill="#f60000"/><circle cx="860.0" cy="2242.6" r="4.2" fill="#f60000"/><circle cx="603.3" cy="2259.8" r="4.2" fill="#f60000"/><circle cx="614.0" cy="2279.9" r="4.2" fill="#f60000"/><circle cx="603.9" cy="2295.3" r="4.2" fill="#f60000"/><circle cx="619.3" cy="2327.6" r="4.2" fill="#f60000"/><circle cx="623.7" cy="2349.9" r="4.2" fill="#f60000"/>
<g transform="translate(980 1480)" fill="none" stroke-linecap="round" stroke-width="5.9">
<path stroke="#ff0000" d="M221.2 190.4h0M221.7 212.1h0M214.4 252.4h0M265.6 174.3h0M99.2 155.5h0M236 155.5h0M129 193.1h0M205.3 184.2h0M224.9 245h0M173.7 362.9h0M201.4 164.5h0M254.9 174.3h0M220.8 178.2h0M133.9 258.4h0M145.7 224.1h0M187.5 213.6h0M228.1 230.6h0M198.9 182.3h0M329 221.7h0M197.3 212.4h0M214.6 221.3h0M132.3 217.4h0M257.2 136.6h0M203.3 251.9h0M230 236.6h0M198 104.2h0M207.9 151.7h0M299.8 152h0M245.8 223.9h0M198.9 187.7h0M227.2 274.6h0M123.3 233.1h0M175.6 294.5h0M118.6 220h0M152.7 233h0M221.1 205.6h0M150.8 219.7h0M183.7 281h0M200.8 237.8h0M194.6 110.5h0M186 141.8h0M201 159h0M207.5 127.1h0M192.7 411.8h0M181.9 240.1h0M182 163h0M188 88.6h0M204.7 100.1h0M183.6 150.1h0M214.3 108h0M203.3 136.8h0M228.6 131.1h0M186.9 169.3h0M215.1 142.7h0M199.5 103h0M160.2 178.5h0M203.9 219.6h0M209.1 166.8h0M178.3 244.2h0M169.8 213.3h0M127.9 237.3h0M202.9 88.1h0M244.9 235.1h0M168 296.4h0M194.1 164.5h0M146 230.8h0M129.1 241.3h0M205.8 212.9h0M160.9 173.6h0M237.9 221.4h0M140 322.8h0M220.1 138.8h0M200.2 126.2h0M206.1 133h0M119.5 227.6h0M191.7 156.4h0M208.3 153h0M186.1 207.8h0M199 105.3h0M223.2 145.4h0M272.9 201.5h0M148.8 260.9h0M194.7 119.5h0M193.6 94.8h0M201.6 263.7h0M134 211h0M196.1 293.4h0M235.7 163.5h0M199.9 174.2h0M257.3 208.6h0M120.4 192.1h0M211.4 207.1h0M125.8 213.1h0M233.5 175.2h0M140.4 194.4h0M191.5 91.9h0M149.3 176.2h0M207.4 126.6h0M149.3 342h0M211.9 151.1h0M176.4 342.2h0"/>
<path stroke="#0000ff" d="M177.5 282.2h0M169.4 263.6h0M167.2 337.1h0M134.6 292h0M115.6 278.3h0M214.7 252.9h0M211.5 296.8h0M140.6 263.3h0M141.9 230.5h0M224.2 152h0M173.7 335.4h0M143.5 283.6h0M173.7 317.1h0M125.1 299.7h0M148.2 179.3h0M165.2 324.7h0M226.7 268.3h0M148.5 288.4h0M196.9 287.5h0M153.7 368.4h0M140.3 396.5h0M155.7 434.3h0M148.1 302.5h0M140.5 428.2h0M173.5 404.1h0M176 354.5h0M183.6 426.3h0M133.5 410.6h0M134.9 301.3h0M197.4 385.4h0M162.7 385h0M182.9 405.7h0M166.3 416.3h0M172 438.3h0M180.5 397.2h0M178.9 381.7h0M166.7 407.3h0M187.4 384.8h0M169.5 408.8h0M148.6 417.6h0M158.8 418.2h0M177.6 336.2h0M123.7 300.1h0M174 360h0M182.5 392.7h0M147.2 368.5h0M202.3 391.4h0M132.7 416.2h0M186.3 395.6h0M140.9 344.4h0M228.5 166.4h0M156.5 399.8h0M147.8 338h0M167.3 300.1h0M143.1 323.1h0M146.7 319.5h0M179.5 392.3h0M170.6 363.6h0M224.6 298.8h0M211.8 225.3h0M164.1 347.5h0M185.2 272.1h0M132.9 304.8h0M195.3 360.9h0M197.2 374.2h0M183.3 417.4h0M190.3 253.6h0M147.2 412.3h0M118.3 286.4h0M174.6 338.2h0M168.9 401.9h0M198.4 384h0M121.5 274.6h0M168.1 426.1h0M174.5 175.3h0M199.4 407.1h0M124.3 267.8h0M144.5 338.2h0M195.1 419.2h0M184.3 361.6h0M195.3 356.6h0M140.1 331.4h0M155.7 403.6h0M151.9 265.8h0M172.8 334.9h0M183.3 429.7h0M177.3 416.3h0M147.9 426.1h0M166.2 418.9h0M195.5 391.9h0M214.4 265.7h0M189 354.8h0M152.1 404.2h0M198.7 339.4h0M146.5 412.7h0M136.7 411.2h0M157.7 377h0M141.4 405.8h0M139.8 410.9h0M168.8 369.7h0M165.9 424.2h0M149.9 372.2h0M225.8 221.6h0M146.1 427.7h0M118.9 283.8h0M154.7 410h0M169 438h0M185.2 366.7h0M181.2 285.4h0M193 364.8h0M173.4 403.6h0M195.8 352h0M143.5 384.6h0M134.9 277.5h0M187.2 409.2h0M146.6 376.2h0M168.3 439h0M144.9 378.6h0M177.1 431.8h0M175.7 386.4h0M191.8 402.8h0"/>
<path stroke="#00ffff" d="M406.4 218.7h0M347.5 213.9h0M252.8 132.3h0M340.9 187.5h0M395.9 220.4h0M375.8 190.7h0M373.5 212.1h0M292.2 178.6h0M317.5 187h0M259.8 177.7h0M277.9 154.6h0M400.6 214.1h0M383.3 196.6h0M397 211.3h0M401.3 194.7h0M388.8 222.8h0M377.6 224.1h0M340.2 213.5h0M397.9 188h0M282.3 186.1h0M354.6 201.1h0M293.1 152.5h0M305.8 205.9h0M349.1 204.4h0M396 186.1h0M303 212.3h0M281.4 171.5h0M414.2 185.7h0M437.8 190.7h0M408.7 195.3h0M360.5 207.4h0M268.1 170.9h0M352.4 168.5h0M436.6 182.8h0M302.8 218h0M240.3 160.1h0M237.8 130.3h0M416.6 189.7h0M303.4 213.4h0M295.7 215.5h0M390.8 199.2h0M395.7 203.2h0M287.1 150.1h0M372.4 209.7h0M303.9 220.7h0M412.8 180.2h0M380.3 204.1h0M440.3 193.5h0M382.6 228.7h0M385.4 224.4h0M426.1 200.8h0M447.7 181.6h0M299.6 182.6h0M339.8 228.8h0M227 210.4h0M382.4 220.9h0M433.5 206.7h0M368.9 213.2h0M331.6 224.5h0M379.3 189.8h0M321.6 232.1h0M334.9 187.7h0M373.3 187.8h0M444.1 197.6h0M253.8 179.1h0M304.6 221.9h0M405.5 189.1h0M319.3 168.6h0M312 190.2h0M423.3 179.7h0M242 160.5h0M410.3 206.6h0M372.8 204.4h0M289.2 182h0M295.7 181.6h0M245.2 171.1h0M386.3 201.6h0M323.7 214.6h0M319.9 202.2h0M324 160.8h0M351.5 228.9h0M377.2 220.9h0M344.9 201h0M277.9 197.4h0M381.6 188.5h0M368.2 213.8h0M382.5 204.9h0M341.1 216.1h0M280.2 162.6h0M309.2 199.3h0M376.2 225.3h0M309.6 157h0M304.8 208.7h0M286.6 181.8h0M342.3 192h0M400.8 212h0M344.9 181.6h0M401.6 186.7h0M362.4 208h0M347.3 223.7h0M378.9 187.7h0M284.6 177.5h0M313 156.5h0M358.1 208.9h0M359.3 204.4h0M308.7 196.6h0M403 221.7h0M426 184.7h0M288.9 189.7h0M420.7 197.5h0M449.8 183.5h0M308.1 198.9h0M276.6 145h0M390.3 183.9h0M404.9 205.8h0M410.9 210.4h0M294 200.3h0M286.2 200.8h0M399.1 226.8h0M446.6 184h0M401 203.2h0M283.4 149.8h0M337.1 211.6h0M342.4 192.6h0M360.6 210.5h0M408.2 181.9h0M274.7 139.9h0M391.2 212.1h0M270.7 175h0M415.2 185.5h0M303 192.9h0M351.8 214.9h0M314.3 187.1h0M339.6 193.1h0M412.8 211.2h0M370.2 210h0M413.8 218.1h0M285.2 181.5h0M345.8 204.6h0M392.3 216.1h0M329.5 208.2h0M423.4 193.3h0M284.6 141.7h0M401.4 209.3h0M239.8 134.9h0M293.7 208.4h0M301.4 159.6h0M304.6 168.6h0M440.5 186.7h0M314.8 224.4h0M442.7 199.1h0M327.9 209.7h0M262.2 198.1h0M348.9 214.1h0M421.5 194.1h0M415.8 184.2h0M340.1 217.1h0M352.4 221.8h0M400.4 186.3h0M425.9 198.7h0M443 184.6h0M356.7 221.3h0M286.3 183.7h0M274.7 172.1h0M280.2 178.5h0M336.7 223.2h0M413.2 219.9h0M287.9 210.5h0M354.4 225.1h0M307.9 179.6h0M409.2 203.6h0M438.4 193.1h0M292.3 193.4h0M340.9 208.9h0M329.4 209.8h0M430.3 210.4h0M398 189.7h0M394.9 189.4h0M299.3 157h0M327.1 188.2h0M425.4 200.8h0M296.5 177.8h0M349 217.7h0M307.8 174.9h0M297.9 155.1h0M322.9 155.2h0M377.8 193.2h0M421.6 175.2h0M345.4 214.2h0M402.5 227.5h0M392.5 212h0M306.6 146.4h0M388.4 217.9h0M357 209.1h0M430.4 177.6h0M431.2 199.6h0M398 229.8h0M438.4 177h0M315.7 159.2h0M343.5 203.8h0M284.4 138.3h0M430 175.4h0M435.1 185.6h0M272.7 131.3h0M276.1 150.8h0M355.6 210h0M200.3 153h0M351.9 218.7h0M398.8 206.1h0M352.3 217.4h0M402.4 198.4h0M278.9 213.8h0M337.8 190.3h0M444.9 192.2h0M291.3 181.3h0M397.8 216.9h0M430.7 178.5h0M413.4 212h0M288.8 154.6h0M422.3 211.2h0M434.8 201.6h0M316.8 182.7h0M270 184.9h0M357.1 212.7h0"/>
<path stroke="#00ff00" d="M164.7 199.7h0M187.7 174.6h0M114 200.6h0M220 226.5h0M200 207.7h0M147.2 176.8h0M151 239.8h0M123.2 231.7h0M217.5 149h0M217.7 162.8h0M236.3 243.7h0M209 174.8h0M132.4 240.4h0M242.6 198.6h0M205.6 150.7h0M229.4 245.9h0M163.9 189.6h0M147 218.1h0M191.1 270.3h0M153 186.1h0M175.9 199.2h0M126.3 227.7h0M211.3 236.9h0M157.9 212.8h0M170.3 261.7h0M158.5 226.6h0M203 244.4h0M219.1 141.9h0M123.2 163.8h0M168.2 187.6h0M217.2 153h0M101.5 154.6h0M117.3 194.3h0M114.6 188.4h0M233.3 195h0M214 210.1h0M144.5 183.5h0M127.5 223.9h0M125.6 172.1h0M122.8 278.5h0M217 176.8h0M131.2 222.5h0M230.8 189.3h0M214.5 192.5h0M177.7 222.6h0M211.9 202.3h0M215.5 240.2h0M144.5 191.1h0M219.4 223.6h0M108.1 152.9h0M154.1 214.5h0M194.6 181.4h0M160.6 219.6h0M172.3 251.5h0M183.2 220.7h0M217.5 290h0M227.4 293.1h0M154.1 205.6h0M224.7 161.4h0M155.7 233.4h0M206.2 286.9h0M225.4 199.3h0M222.3 300.8h0M214.5 202.3h0M236.4 241.6h0M121.2 181.8h0M199.3 285.3h0M205.1 179h0M189.3 257.7h0M205 162.2h0M151.2 209.8h0M222.9 279.9h0M109.8 184.3h0M178.7 278.7h0M226.4 144.6h0M235.1 272.4h0M182.3 232h0M240.3 292.7h0M218.9 199.6h0M117.6 181.7h0M206.3 229h0M120.5 237h0M192.8 168.9h0M232.8 208.4h0M147.5 262.9h0M118.7 186.2h0M147 279.5h0M214.4 274.7h0M234.1 224.6h0M185.3 197.1h0M142.8 262h0"/>
<path stroke="#bebebe" d="M214.5 186.5h0M195.6 181.1h0M221.6 233h0M355.2 176.5h0M194.3 207.6h0M262.1 207.7h0M156.5 355.2h0M230.3 217.6h0M161.4 293.5h0M172.6 324.3h0M379.6 215.9h0M135.2 322.7h0M290.4 184.9h0M151.2 359.7h0M219.1 229.8h0M213.4 268.8h0M177.1 371h0M112.8 139.2h0M262.5 186.3h0M138.2 311.1h0M206.6 224.9h0M122.6 280.9h0M222.2 188.8h0M258.6 138.3h0M228.4 214.5h0M161 190.7h0M235.3 244.7h0M131.9 269.2h0M132.3 256.9h0M182.7 271.3h0M150.4 184.7h0M174.2 198.2h0M209.1 217.1h0M345.7 187.2h0M184 181.7h0M155.3 333h0M177.4 235.1h0M163.9 304.6h0M138.6 172.6h0M244.6 207.8h0M196.7 235.7h0M209.4 91.8h0M210.5 199.9h0M208.3 114.1h0M244.1 244.3h0M178.1 342.8h0M229.7 269.5h0M253.6 162.5h0M189.7 267.9h0M177.3 199.3h0M135.1 342.8h0M203 152.5h0M231.2 186.8h0M216.7 152.2h0M117.5 260.1h0M228 129.3h0M134.9 300.9h0M238.6 139.6h0M234.6 213.2h0M261 202.1h0M218.4 145.5h0M232.7 212.2h0M205.9 227.7h0M183.8 293.3h0M159 307.3h0M278 144.3h0M208.8 283.6h0M175.2 332.9h0M131 206.6h0M174 409.4h0M131.6 168.8h0M234.9 215.9h0M155.8 232.3h0M100 152.4h0M269.2 194.6h0M144.9 295.5h0M136.6 177.1h0M202.6 242.9h0M158.7 289.6h0M219.7 114.4h0M231 221.6h0M189.7 240.9h0M202.3 141.1h0M127.9 185.1h0M411.8 180.2h0M224.1 178.4h0M168.9 89.9h0M163.5 364.6h0M128.7 165.1h0M128.7 215.8h0M235.6 289.3h0M189.1 300.3h0M227.7 212.6h0M174.4 176.7h0M150 260.9h0M186.9 357.7h0M207.7 254.2h0M103.8 147.7h0M156.5 437.5h0M126.4 237.2h0M229.9 285.6h0M235.8 243.1h0M141.1 309.9h0M224.3 144.2h0M321.9 170.3h0M109.5 177.5h0M152.5 273.2h0"/>
<path stroke="#000000" d="M236.8 171.9h0M153.2 278.2h0M196.4 300.4h0M237.5 279.3h0M146.1 257.2h0M176.5 259h0M153.7 187.8h0M203.1 258.9h0M202.8 372h0M213.5 200.7h0M154.6 426.7h0M206.9 151h0M178.7 268.9h0M150.2 294h0M144.6 264.3h0M215.3 219.3h0M149.7 298.6h0M172 410h0M169.7 283.3h0M221.8 260h0M148.5 403.8h0M135.6 250.9h0"/>
<path stroke="#a020f0" d="M151.2 239.1h0M125.4 224.8h0M129 212.6h0M221.7 209.8h0M198.6 215.7h0M162.6 202.1h0M225 216.8h0M211.2 168.7h0M216.6 230h0M218.8 176.6h0M151.3 180.4h0M284.4 154.2h0M302.2 200.9h0"/>
<path stroke="#ffa500" d="M312.8 158.4h0M239.3 247.9h0M210.1 178.8h0M148.4 206.2h0M217.2 229.3h0M186.2 193.6h0M215.6 185.1h0M240.2 232.3h0"/>
<path stroke="#ff0000" d="M214.3 181.1h0M151.2 199.4h0M195.3 118.2h0M197.5 107.1h0M136.9 195.2h0M186.4 151.6h0M170.2 234.8h0M205.7 247.2h0M205 149.2h0M178.4 110.1h0M186 204.1h0M192.7 88.1h0M222.5 144.5h0M207 194h0M180 118.9h0M224.5 134h0M132.1 187h0M129.7 255.8h0M236 238.9h0M185.4 94.8h0M114.2 155.9h0M157.6 216.4h0M234 175.1h0M204.3 190.4h0M208.6 97.5h0M158.4 200.8h0M160.8 237.2h0M201.6 103.2h0M152.6 199.8h0M106.6 121.7h0M167 232.5h0M177 86.1h0M153.2 385.9h0M203.2 244h0M142.8 176.9h0M223.2 178.9h0M142.1 218.6h0M240.2 221.9h0M170.6 245.9h0M181.4 179.7h0M312.1 220h0M188.5 157.5h0M251.2 229.6h0M115.8 126h0M138.1 247.4h0M197.6 94.1h0M191.1 146.1h0M170.4 197h0M159.2 124.9h0M151.8 142.6h0M189 119.4h0M168.4 150.3h0M214.9 189.8h0M187.3 104.1h0M206.9 98.6h0M190.4 117.4h0M204.9 238.3h0M132.6 241.4h0M150.4 141.2h0M119.1 135.6h0M207.6 113.6h0M187.1 156.3h0M177.1 108.4h0M210.9 189.6h0M202.8 235.1h0M160 205h0M138.2 132.7h0M177.2 159h0M184.2 104.4h0M142.2 186.3h0M156.5 192.2h0M184.3 85h0M138.5 207.9h0M151.1 122h0M144.5 122.1h0M176.7 133.2h0M126.4 106.6h0M131.2 127.8h0M209.9 99.6h0M135.1 112.8h0M146.1 128.6h0M174.6 153.4h0M227.1 128.4h0M199.3 269h0M170.1 155h0M218.2 177.9h0M119.1 123.6h0M178.4 123.2h0M140.1 93.4h0M223.4 262.3h0M191.7 294.8h0M131.2 145.6h0M178.5 141.7h0M140.7 114.3h0M178.6 120.4h0M136.7 105.5h0M224.5 156.2h0M158 197.6h0M226.2 327.6h0M160.3 129.7h0M223.2 107.6h0M165.8 166.5h0M185.9 143.7h0M165.1 130.7h0M157.9 108h0M228.6 193.3h0M229 159.6h0M139.4 140h0M223.8 103.7h0M205.5 104.8h0M148.6 142.4h0M138.7 317h0M131.3 125.6h0M139.5 140.1h0M136.8 120h0M229 133.7h0M200.1 90.1h0M201.6 187h0M139.9 155.6h0M147.7 165h0M236.7 190.8h0M202.2 205.5h0M183.9 198.8h0M173.6 157.4h0M203.4 180.5h0M187.9 152h0M127 214.2h0M145.9 158h0M149.6 264.7h0M195.1 120.4h0M153.2 115.6h0M200.9 241.1h0M180.6 354.7h0M183.2 184.9h0M240 159.9h0M221.8 135h0M217.7 112.5h0M214.5 133.5h0M152.1 102.3h0M166.7 153.9h0M145.6 128.9h0M144.5 126.9h0M174.7 80.1h0M173.8 153.5h0M132.8 126.5h0M191.5 149.3h0M159.3 277h0M207.4 122.3h0M193.9 108h0M115.4 203.7h0M124.6 134.6h0M203 146.3h0M194.9 87.3h0M158.1 364.1h0M178 87.4h0M133 255.5h0M113.2 155.5h0M218.8 143.2h0M220.3 100.9h0M215.1 168.7h0M199.4 103.4h0M158.7 105.5h0M163.3 90.2h0M150 134.8h0M145.3 190.1h0M214.7 103h0M311.7 163h0M158.8 233.5h0M135.5 128.7h0M141.2 146h0M125.1 120.5h0M237.4 232.1h0"/>
<path stroke="#00ffff" d="M345 214.3h0M406.7 205.9h0M299.8 190.7h0M205.7 152h0M305.1 214.4h0M338.8 192.7h0M429.7 203.1h0M256.8 168.3h0M360.1 210.8h0M381.7 205.7h0M349.2 232.2h0M308.7 218.9h0M256 145.9h0M428.6 196.8h0M317.4 215.3h0M253.9 151.3h0M417.8 188.7h0M164.3 226.1h0M330.2 203.1h0M278.6 167.2h0M278.6 154.8h0M362.4 232.5h0M422.7 198.3h0M430.9 178.1h0M419.9 184h0M347.2 205.1h0M325.5 234.5h0M286.8 158.3h0M302.4 210h0M314.8 213.2h0M319 222.2h0M414.1 185.6h0M315.2 221.4h0M383 187.7h0M433.9 204.6h0M290.5 160.3h0M418.7 182.5h0M406.6 199.7h0M312.3 182.1h0M392.8 189h0M412.6 224.9h0M423.6 210.9h0M384.5 229.5h0M320.8 205.4h0M292.1 155h0M390.4 217.5h0M308.1 195.6h0M427.2 200.5h0M414.1 211.3h0M348.2 177.1h0M362.9 215.9h0M372.4 229.4h0M322.5 201.2h0M254.4 158.2h0M422.7 190.6h0M406.3 184.7h0M421 212.4h0M424.4 214.9h0M253.2 153.8h0M436.5 205.5h0M336.7 160.5h0M241.6 133h0M398.9 193.1h0M315.8 168.2h0M237.6 142.7h0M343.2 209.6h0M290.4 169.7h0M274.8 200h0M400.7 214.8h0M234 128.7h0M173.1 177.1h0M402.4 210.8h0M409.7 227h0M253.6 205h0M361.6 191.8h0M295.5 208.4h0M398.9 226.4h0M403.1 217.4h0M363.3 217.5h0M301.4 187.7h0M301.9 182h0M410.8 197.2h0M415.4 178.9h0M247.4 127.5h0M446.9 196.9h0M308.2 140.1h0M352.2 217.8h0M213 195.1h0M391.2 200.8h0M341.2 212.6h0M280.3 184.7h0M433 182.5h0M335.1 213.2h0M323.5 200.8h0M405.4 204.7h0M207.2 147.1h0M252.4 187.3h0M315.5 217.8h0M428.1 214.7h0M325.8 187.7h0M441.7 195.1h0M361.4 217.6h0M304.9 219.3h0M290.6 191.5h0M284.9 202.1h0M328.8 178.8h0M432.9 182h0M298.3 154.8h0M425.3 207.6h0M418.8 217.9h0M308 217.5h0M250.2 121.5h0M295.9 210h0M338.8 198.8h0M404.6 197.8h0M421.5 193.2h0M431.2 185h0M237 182.3h0M242.6 155.2h0M277.2 197.9h0M431.4 176.6h0M361.6 212.5h0M234.6 135.2h0M256.1 169.7h0M244.8 150.1h0M258.1 174.5h0M280.7 180.5h0M384.8 200.9h0M401.1 229.6h0M334.5 165.9h0M291.6 204.3h0M339.4 188.4h0M260.3 184.2h0M427.7 211.7h0M444.9 192.7h0M427.9 180h0M359.8 226.8h0M423.4 212.7h0M327.5 162.4h0M428.9 204h0M343.7 222.3h0M165.6 174.2h0M354.3 210.1h0M440.7 201.5h0M279.2 210.8h0"/>
<path stroke="#a020f0" d="M324.2 164.8h0M122 225.1h0M177 225.1h0M139.2 224.5h0M184.6 101h0M210 251h0M314.3 177.7h0M126.6 182.8h0M140.3 233.3h0M226.1 145.5h0M183.1 85.3h0M203 157.7h0M277.5 184.1h0M225 144.8h0M195.3 214.4h0"/>
<path stroke="#bebebe" d="M166.8 332.1h0M156.2 325.8h0M162.2 231.6h0M193.3 368.9h0M124.1 260.6h0M139.8 314.7h0M234.6 228h0M216.7 122.6h0M177.3 362.1h0M181.8 302.6h0M202.2 260.1h0M191.9 177h0M178.4 361.6h0M172.1 284.9h0M128.2 212h0M203.1 272.6h0M215.2 154.4h0M138.1 287h0M222 197.2h0M340.6 164.7h0M377.8 197.2h0M234.5 170.7h0M116.7 157.7h0M187.5 296.9h0M204.1 186h0M222.2 275.4h0M189.1 300.5h0M131.4 193.3h0M220.5 331.5h0M127.1 201.6h0M165.8 285.4h0M188.5 166.2h0M209.7 101.9h0M203.6 288.4h0M209.2 142.2h0M128.8 283.3h0M213.4 198.8h0M172.5 134.4h0M178.8 350.9h0M220.9 227.9h0M130.1 307h0M321.6 218.8h0M331.9 213.2h0M211.9 288.1h0M168.7 86.2h0M199 378.9h0M207.7 347.9h0M152.1 329.8h0M155.2 342.1h0M122.3 262.2h0M209.2 165.4h0M172.3 176.6h0M148.7 288.1h0M106.9 155.5h0M157.8 436.9h0M131.5 326.8h0M198.4 309.8h0M173.7 364.1h0M199.9 261.6h0M228.6 171h0M191.3 145.8h0M235.8 240h0M151.8 197.8h0M189.9 381.3h0M164.2 181.1h0M228.6 123.1h0M243.2 139.5h0M217.9 126.5h0M123.4 274.5h0M217.8 110.7h0M239.8 284.5h0M146.8 288.8h0M199.7 231.9h0M187.8 266.6h0M135 173.3h0M217.3 215.2h0M205.3 105.9h0M146 202.5h0M218.1 143.6h0M102.6 158.9h0M165.5 380.1h0M226.4 316.9h0"/>
<path stroke="#0000ff" d="M189 214.4h0M138.8 408.1h0M174.3 342.9h0M176 386.7h0M191.9 394.3h0M164.6 415.3h0M150.4 315.4h0M165.5 420.6h0M154.6 429.2h0M139.1 416.6h0M146.5 424h0M198.2 283.3h0M159.3 336.9h0M163 382.8h0M191.7 391.9h0M173.6 420.6h0M167.3 426h0M158.6 399.1h0M140.9 273.6h0M151.1 407.2h0M132.9 225.5h0M133.6 422.1h0M148.5 388.9h0M192.6 390.6h0M178.8 339h0M179.7 388.9h0M136.8 416.2h0M196 190h0M170.8 377.6h0M136.2 249.1h0M185.9 330.5h0M184.1 345.5h0M174.8 340.1h0M184.8 355.4h0M155.3 418.3h0M161.3 393.6h0M150.5 409.7h0M158.2 408h0M152.5 313.9h0M198.7 237.5h0M170 305.3h0M201.4 410.9h0M141.8 125h0M166.5 407.3h0M179.9 427.5h0M200.1 345.6h0M152.9 343.4h0M132.9 311.5h0M148.8 385.4h0M194.3 357.1h0M147.9 416.6h0M125.4 273.6h0M162.9 400.7h0M144.7 386.8h0M189.8 418.3h0M173.8 414.2h0M201.7 402.7h0M146.2 287.4h0M163.8 215.7h0M188 417.5h0M153.3 425.6h0M187.8 382.8h0M150.1 398.2h0M201 387.4h0M166.3 420.1h0M190.9 366.2h0M204 210h0M166.6 393.7h0M148.1 385.5h0M176.6 258.6h0M192.5 421.5h0M187.5 413.1h0M149.1 394.8h0M137.5 302.1h0M173.4 373.9h0M184.6 343.7h0M137.4 312.2h0M158.2 399.6h0M179.4 411.8h0M133.5 215.6h0M145.8 351.9h0M161.2 222.6h0M149 403.4h0M179.5 393.3h0M192.3 387.2h0M173.2 422.3h0M170.2 377.7h0M156.7 330.8h0M158.7 398.6h0M146.7 329.3h0M194.7 417.9h0M143.6 425.5h0M149.5 416.7h0M182.4 335.6h0M154.7 336.1h0M149.7 390.7h0M194.8 409.3h0M182.4 423.3h0M164.6 375.3h0M160.7 391.8h0M156.1 423.5h0M174.7 438.1h0M167.6 439.3h0M168.4 399.8h0M147.1 388.5h0M151.7 392.6h0M168.6 407.5h0M131.7 271.9h0M193.9 390h0M142 385.1h0M189.4 414.3h0M177.4 339.3h0M178.2 422.5h0M207.6 398h0M142.6 293.3h0M176.7 414.4h0M119.4 291h0"/>
<path stroke="#00ff00" d="M124.9 206.9h0M226.9 202.6h0M121.7 155.1h0M200.3 251.8h0M131.2 213.4h0M129.5 192.6h0M224.1 264.2h0M207.1 215.9h0M191.8 107.6h0M110.8 172.2h0M218.7 187.8h0M190.5 296.4h0M206.2 284.7h0M169.7 241.8h0M114.1 133.1h0M217 283.9h0M240.5 199.3h0M127.3 169.8h0M218.5 188.1h0M125.5 175.3h0M214.7 144.5h0M218.5 182.8h0M213.5 292.3h0M194 275.2h0M185.7 218.9h0M225 178.2h0M220 206.5h0M128.5 162.8h0M137.2 192.8h0M231.2 235.5h0M210.2 161.8h0M108.9 139h0M218.1 135h0M182.9 188.8h0M126.6 154.8h0M194.6 270.9h0M192.9 269.9h0M224.3 210.8h0M213.3 285.2h0M222.9 158.9h0M208.3 303.2h0M222.8 265.9h0M181.6 132h0M212.1 316.8h0M128.1 221.6h0M168.4 229.2h0M127.9 276.5h0M228.1 160.1h0M232.4 284.6h0M213.8 139.5h0M219.1 192h0M222.2 288h0M213.8 238.4h0M192.7 186.8h0M113.7 158.9h0M232.4 170.4h0M212.9 159h0M126.6 164.8h0M112.3 172.6h0M213.4 204.7h0M202.1 298.6h0M190.4 119.7h0M155.6 175.1h0M402.6 200.2h0M175.1 186.2h0M127.5 170.4h0M223.1 201h0M233.1 177.8h0M225 222.6h0M111 175.8h0M214.8 268.7h0M211.3 300.3h0M127 196h0M121 203.1h0M220.1 213.2h0M112 169.5h0M228.1 209.4h0M125.6 201.6h0M210.5 155.4h0M218.9 282.4h0M149.3 236.4h0M228.3 212.8h0M129.2 185.1h0M214.2 194.6h0"/>
<path stroke="#000000" d="M147.7 281.1h0M210.2 270.4h0M199.1 151.6h0M123.9 269.9h0M150.7 264.3h0M198.6 268.3h0M191.4 424.1h0M163.1 268.5h0M165.8 249.6h0M237.5 203.3h0M216.8 325.6h0M224.6 342.3h0M219.7 301.6h0M233.7 270h0M203.7 363h0M220.1 313h0M209.1 339.2h0M211.5 197.8h0M204.9 321.9h0M212.8 343.3h0M186.2 311h0M227.6 305h0M210.1 309.1h0M232.5 296.5h0M226.8 334.9h0M231.6 299.7h0M223.9 349.6h0M170.1 181.9h0M175.5 280.2h0M178.1 268.7h0M213.5 341.2h0M162.5 188.3h0M221.1 313.3h0M181.5 177h0M151.4 253.4h0M207.8 353.4h0M205.6 333.5h0M208.4 370.1h0M199.5 310.5h0M204.9 267.6h0M203.1 349h0M196.3 316.6h0M161.6 292h0M185.1 316.5h0M240.6 305h0M180.3 301.8h0M150.5 258.1h0M219 330.5h0M236.6 311h0M208.8 326.2h0M201.3 371.9h0M214.5 303.5h0M195.8 312.3h0M222.9 321.1h0M174.6 392.2h0M204.8 334.5h0M184.8 210h0M220 336.4h0M205.5 320.2h0M207.7 327.8h0M215.3 318.6h0M206.4 366.7h0M134.1 183.4h0M207.2 334h0M215.1 306h0M227.2 323.5h0M216 304.2h0"/>
<path stroke="#ffa500" d="M123.4 205.8h0M203 173.6h0M237.8 241.9h0"/>
<path stroke="#ffff00" d="M308.9 225.7h0M321.2 221.2h0"/>
<path stroke="#0000ff" d="M151.3 383.3h0M156 433.6h0M148.6 350.8h0M175.6 358.4h0M223.4 286.2h0M184.8 383.1h0M147.4 374.6h0M147.6 431.8h0M195.2 405.3h0M193.9 352.8h0M138.3 249.2h0M150.2 375.9h0M164.5 412.2h0M160.8 312.6h0M188.6 334.1h0M120.3 293.3h0M190.4 385.4h0M150.8 424.3h0M150.9 110.1h0M211.3 361.7h0M117.1 282h0M148.9 424.2h0M190.4 394.9h0M139.1 394.7h0M153.3 365.4h0M194.4 391.1h0M191.9 337.6h0M185.2 427.8h0M164.6 320h0M188.5 424.9h0M175.4 346.2h0M178.2 276.6h0M226.3 292.4h0M164.5 264.9h0M151.6 403.4h0M178.2 381h0M181 423.3h0M199.1 406.2h0M192.3 180.2h0M182.7 378.1h0M145.7 416.4h0M170.2 370.8h0M174.9 401.4h0M140.5 412.2h0M188.9 338.6h0M183.5 393h0M136.7 413.7h0M160 343.1h0M164.4 419h0M196.8 402.9h0M124.4 231.1h0M168.8 379h0M149 397.7h0M148 371.9h0M167.6 385.3h0M204.3 398.8h0M149.8 377.6h0M158.5 384.4h0M206.3 194.8h0M173.9 381.4h0M179.3 424.7h0M196.6 413.1h0M179.8 374.5h0M149.1 433.9h0M190.1 263.9h0M188.6 421.5h0M177.9 333.6h0M131.4 420.3h0M147.2 408.6h0M161.8 437.1h0M160.5 432.1h0M154.4 363.4h0M203.6 153.1h0M157 373.4h0M162.9 423.9h0M188 266.3h0M214.2 352.7h0M160.3 374.9h0M158.9 374.6h0M188.7 414.3h0M164.1 357.8h0M177.7 329.3h0M212.4 255.5h0M171.3 375h0M131.8 422.4h0M183.4 258.4h0M190.8 331.9h0M193.3 372.7h0M130 270h0M173.8 391.4h0M154.3 351.9h0M183.5 424.8h0M147.4 400.9h0M147.1 308.2h0M164.4 328.1h0M169.3 378.9h0M238.9 274.1h0M191.9 403.1h0M169.4 405.8h0M161.2 420.1h0M148.1 426.5h0M187.1 409.7h0M194.4 411.3h0M178 435.4h0M172 373.7h0M137.2 280.3h0M136.5 284.1h0M144.8 420h0M151.5 285.7h0M200.3 250.7h0M156.3 386.1h0M178 397.7h0M162.6 409.3h0"/>
<path stroke="#ff0000" d="M224.4 192.6h0M219.5 140h0M139.3 101.6h0M144.9 238h0M212.4 154.9h0M123.2 134.8h0M138.9 150.1h0M169.5 94.4h0M251 184h0M176.4 86.3h0M222.6 288.4h0M195 291.6h0M217.9 128.5h0M203.3 152.3h0M126 109.5h0M207.5 155.8h0M176.7 139.6h0M232 209.9h0M149.1 212.9h0M240.2 217.7h0M193.6 91.9h0M200.3 105.1h0M173.7 271.2h0M164.6 169.6h0M177.2 235.3h0M186 91.7h0M178.1 86.4h0M138.3 108h0M203.8 194.5h0M202.3 153.1h0M157.2 169h0M139.6 208.5h0M152.6 235.7h0M220.1 238.9h0M160.6 96.4h0M124.8 198.6h0M181.2 87.1h0M209.9 133.5h0M212 152.8h0M183.7 123.4h0M185.2 154.5h0M165.8 99.5h0M132.3 229.8h0M180.5 217.8h0M167.6 205.9h0M143.6 162.5h0M146.1 341.4h0M198.3 117.3h0M208.9 143h0M172.6 81.7h0M173.7 132.7h0M207.1 379.7h0M160.5 169.6h0M184.8 147.8h0M157.3 145h0M163.8 127.5h0M204.6 95.4h0M148.4 197.3h0M164.1 100h0M219.9 283h0M168.7 159.6h0M213 116.9h0M218.4 283.4h0M126.2 129.4h0M165.1 339.5h0M150.6 124.5h0M261.1 201.7h0M143.5 119.7h0M216.5 167.9h0M134.2 130.9h0M211.5 101.8h0M186.1 198.2h0M121.5 193.3h0M200.8 105h0M142.3 106h0M148.5 124.2h0M224.3 125.2h0M161.7 358.5h0M144.7 106.7h0M149.1 134.6h0M172.8 199.4h0M130.6 128h0M165.8 87.5h0M153.6 108.4h0M147.2 162.2h0M187.8 139.7h0M227.1 226.1h0M230.9 163.4h0M199.6 128h0M146.3 151.5h0M164.3 84.3h0M169 167.9h0M166.9 105.5h0M129.1 140.4h0M165.2 147.3h0M201 115.8h0M147.2 140.6h0M160.4 149h0M193.8 158.7h0M174.1 106.9h0M312.4 184.8h0M127.4 123.3h0M159.8 134.4h0M159.4 130.1h0M218.8 266.1h0M218.4 206.2h0M130.9 106.9h0M190.7 107h0M198.1 232h0M135.5 111.5h0M171.4 162.4h0M178.8 81.1h0M144.1 149.9h0M183.9 88.4h0M195.9 195.4h0M195.5 140.9h0M212.5 136.3h0M208.8 243.7h0M149.9 236.6h0M168.3 104.7h0M157.9 169.5h0M200.3 290.6h0M150.1 214.3h0M158.2 117.2h0M149.9 248.3h0M183.8 175.1h0M120.2 194.4h0M174.4 117.5h0M156.7 164.6h0M138 126.5h0M211 162.9h0M238.5 231.9h0M236.6 158.8h0M227.1 116.4h0M187.6 182.1h0M124.6 120.3h0M146.2 192.8h0M175.4 86.8h0M192.1 138.5h0M220.4 249h0M154.5 107.5h0M137.8 116.8h0M149.2 109.8h0M138.4 124.5h0M143 135.7h0M137.6 212.6h0M129.9 114.6h0M149.5 136.4h0M266.8 189.3h0M160.6 109.9h0M187.8 153h0M216.5 143.8h0M148.7 158.4h0M341.9 192.9h0M131 158.4h0M197.1 119.1h0M132.8 119.7h0M181.5 140.1h0M175.3 137.9h0M220.8 247.3h0M185.3 140.6h0M158.4 209h0M175.3 248.3h0M184.8 255.2h0M133 104.7h0M150.2 86.6h0M143.9 123.3h0M216.3 284.6h0M164.9 151.1h0M229.9 145.2h0M223.7 260.1h0M215.7 185.3h0M170 116.5h0M233.4 221.3h0M175.7 211.7h0M254.2 235.8h0M159.1 110.6h0M115.5 155.5h0M152.1 113.2h0M183.8 88.1h0M125 124.2h0M178.7 123.9h0M211.7 324.8h0M210.8 177.5h0M165.7 114.3h0M207.1 280.8h0M291.2 162.1h0M195.6 210h0M207.3 237.4h0M232.2 207.4h0M190.6 157.7h0"/>
<path stroke="#bebebe" d="M208.2 145h0M264 158.5h0M190.8 97.3h0M271.1 189.6h0M174.5 378.1h0M140.2 330.8h0M210.2 370.2h0M149.4 266.9h0M207.2 214.7h0M187.3 265.2h0M219.8 199.1h0M116.9 197.6h0M147.4 294.6h0M165.1 139.5h0M173.5 274.6h0M178.1 336.5h0M311.8 150h0M123.2 205.4h0M184.1 175.6h0M216 259.6h0M216.6 136.9h0M164.9 297.3h0M216.6 126.9h0M160 301.8h0M157.8 247.7h0M240.3 223.6h0M170.2 219.9h0M215 263.1h0M226.4 141.9h0M149 97.7h0M155.3 241.5h0M224.8 162.3h0M173.8 283.9h0M194.7 93.4h0M154.5 171.4h0M143.4 421.2h0M254.7 197.2h0M237.4 136.4h0M133.7 129.3h0M195.4 372.7h0M151.1 281h0M197.5 304.2h0M169.5 286.9h0M328.9 203.4h0M126.7 250.9h0M135.5 208.1h0M122.2 108h0M398.6 196.1h0M171.2 319.9h0M175.9 268.7h0M235.6 260.3h0M223.3 280.4h0M218.1 108h0M117.1 203h0M266 137.9h0M216.5 198.5h0M122.3 238.9h0M180.4 284.3h0M140.9 114.4h0M231.4 174.1h0M240.3 143.7h0M354.2 186.3h0M156.1 356h0M157 323.5h0M230.1 275.7h0M160.5 179.1h0M167.9 123.2h0M217.4 142h0M206.8 144.1h0M176.8 217.7h0M308.7 193.6h0M228.8 186.5h0M234.1 310.2h0M136.4 121.6h0M166.4 205.1h0"/>
<path stroke="#00ffff" d="M331.3 185h0M258.4 122.8h0M372.7 210.5h0M409.5 186.4h0M430.8 180.4h0M427.6 205.1h0M228.1 169.5h0M312.5 206h0M425.2 177.7h0M452 189.9h0M387.5 230.7h0M432.2 184.8h0M395.5 226.6h0M357.3 213.1h0M447.4 181.6h0M330.8 197.3h0M385.1 217.6h0M267.2 142h0M331.3 207.3h0M285.2 210.2h0M365.6 172.6h0M388.2 227.1h0M289.9 170.1h0M346 218.5h0M328.8 226.5h0M259.3 168.5h0M260.4 140.3h0M320.9 189.8h0M262.7 154.7h0M426.8 195.3h0M317.9 165.6h0M395.4 193.3h0M260.8 176.6h0M430.7 179.2h0M311.8 141.2h0M300.9 167.9h0M347 207.9h0M303.5 218h0M355 230.4h0M271.4 167.7h0M449.7 197.8h0M322.5 224.4h0M371.2 227.4h0M426.6 195.1h0M253.7 174h0M406 208.7h0M359 176.5h0M401.8 210.2h0M288.7 161.4h0M291.1 174.1h0M433.1 199.3h0M342.1 210h0M387.3 214.7h0M295.5 195h0M401.2 192.9h0M222.1 184.6h0M422.8 182.7h0M425.9 195.5h0M404.6 219.9h0M355.4 201.8h0M352.5 176.2h0M267 169.7h0M443.9 189.9h0M316.2 218.3h0M407.9 188.6h0M341.1 210h0M255.4 163.7h0M335.9 187.4h0M231 179.4h0M221.9 219.2h0M242.9 160.5h0M376.9 214.5h0M233.8 152.7h0M295.3 176.6h0M399.5 201.5h0M253.6 153.1h0M327.9 177.8h0M357.1 206h0M374.6 223.7h0M337.9 209.6h0M316.3 201.1h0M418.1 220.2h0M434.7 178h0M346.9 204.2h0M291.8 173h0M368.3 210.8h0M316.3 227.3h0M390.4 194.5h0M303.3 220h0M298.5 142.6h0M292.3 184.6h0M336.8 206.5h0M262.3 163.5h0M381.7 212.2h0M245 168.5h0M434.3 185.8h0M265.8 156.2h0M424.5 183.2h0M402.5 219.9h0M424.6 187.5h0M424.1 201.9h0M254.3 161.7h0M356.2 175.5h0M304.3 173h0M400.1 219.1h0M310.5 153.8h0M233.8 166.8h0M291.4 140.7h0M382 219.8h0M387.2 215.6h0M411.1 182.2h0M352.7 225.5h0M437.1 200.8h0M329.2 194.7h0M237.9 178.5h0M354.2 228.8h0M314.1 199.5h0M327.9 168h0M382.8 222h0M400.4 196.1h0M228.9 165h0M436.3 182.3h0M245.1 195.6h0M306.7 173.1h0M259.6 163h0M306.4 175.5h0M321.7 220.9h0M399.3 198.5h0M295.7 161.9h0M251.2 178.5h0"/>
<path stroke="#00ff00" d="M144 279.9h0M206.4 235.6h0M116.3 179.1h0M115.5 172.8h0M233.6 196.4h0M235 192.3h0M215.8 149.5h0M231.3 292.4h0M212 266.2h0M228.4 205h0M209.7 263.2h0M218 293h0M184.6 249.4h0M172.8 241.6h0M192.1 280.9h0M204.4 265.2h0M155.4 228h0M217.3 186.5h0M114.9 186.7h0M211.5 272.3h0M173.1 270.1h0M211.2 278.2h0M224.6 222.5h0M141.3 238.7h0M126.5 216h0M217.1 210.9h0M225.9 196.4h0M124.4 195.3h0M179.8 244.6h0M207 154h0M224.8 184.3h0M218.1 293.4h0M230.3 156.8h0M128.5 188.3h0M207.7 232.1h0M210.6 294.4h0M228.4 193.4h0M187.3 221h0M122.2 166.4h0M162.9 183.7h0M208.6 200.5h0M122 181.5h0M235.6 160.6h0M234.4 157.9h0M229.9 226.9h0M227.6 214h0M213.5 228.9h0M168.2 212.7h0M199.6 182.3h0M153 238h0M184.7 172h0M136.1 178.3h0M206.4 190.7h0M213 138.4h0M223.7 174.2h0M109.9 198.7h0M241.2 277.1h0M215.9 268.9h0M237 171.1h0M197.8 275h0M173.1 255.3h0M120.9 237.6h0M140 277.9h0M218 290.5h0M110.6 196.6h0M190 181.8h0M229.3 222.8h0M221.2 221h0M117.3 157.1h0M216.3 328.6h0M195.1 174.1h0M220.8 281.3h0M181 204.1h0M132.9 173.3h0M123.7 170.8h0M216.7 207.1h0M234.9 228.3h0M226.9 205.8h0M210.6 167.4h0M143.8 282.6h0M190.7 284.2h0M205.1 281h0M119.6 217.1h0M200.9 268.5h0"/>
<path stroke="#000000" d="M202.8 316.7h0M218.9 341.7h0M215 371.2h0M191.3 255.5h0M226.1 344.2h0M203.3 344.1h0M221.3 303.2h0M183.5 317.4h0M227.8 310.1h0M220.5 208.1h0M153.6 376.9h0M184.9 310.3h0M207.2 354.2h0M230.9 305.7h0M203.5 341.6h0M198.9 217.9h0M229.1 325.5h0M203.9 360.8h0M190.4 344h0M209 379.1h0M188.9 338.2h0M239.5 308.4h0M180.4 325.7h0M218.2 288h0M220.1 333.6h0M238.3 304.5h0M143.6 383.7h0M216.2 366h0M143.4 287.1h0M227.7 194.9h0M219.3 328.7h0M224.8 264.8h0M207.6 318.5h0M179.6 320.7h0M232.6 279h0M229 297.1h0M228.7 319.7h0M203.5 376.1h0M213.2 365h0M221.4 303.4h0M192.1 326.9h0M191.7 289.3h0M145.5 291.7h0M190 310.5h0M225.5 303.8h0M144.1 208.9h0M222.6 350.4h0M209.4 343.7h0M232 312h0M223.6 326.4h0M196.3 297.1h0M240 319.1h0M225.4 347.4h0M220.4 312h0M186.3 315.9h0M206.6 350.2h0M206.5 332h0M190.4 316.8h0M200.2 333h0M226.2 306.9h0M202.9 333.8h0M215.3 350.6h0M217.6 321.8h0M224.8 334h0M238.4 270.8h0M204.2 316.2h0M231 315.7h0M173 355.3h0M194.1 323.6h0M216.8 303.5h0M205 332.5h0"/>
<path stroke="#ffff00" d="M331.1 216.6h0M320.4 212.3h0M311.4 213.8h0M315.6 222.4h0M315.8 213.6h0M294.5 225.6h0M301.4 228.4h0M295.4 224.6h0M316.7 207.1h0M303.1 220.9h0M315.2 210h0M314.6 212.9h0"/>
<path stroke="#ffa500" d="M314.3 210.9h0M222.9 241.6h0M163.3 202.8h0"/>
<path stroke="#a020f0" d="M146.4 191.8h0M228 237.2h0M298.8 208.5h0M212.7 178.9h0M225.9 201.6h0M147.6 212.6h0M296.3 212.6h0M234.9 212.2h0"/>
<path stroke="#000000" d="M192.9 376.4h0M157.7 213.1h0M225 313.3h0M234.1 312.7h0M224.2 327.6h0M194 289.8h0M207.5 375.9h0M203.3 370.2h0M197.6 326.9h0M200.9 315.4h0M115.1 268.5h0M231.6 314.6h0M232 311.9h0M132.8 279.8h0M235.2 308h0M227.8 334.8h0M215.8 350.6h0M216.2 347.6h0M215.5 311.3h0M231.8 322.7h0M178.6 303.5h0M194.2 319.1h0M204.8 343.9h0M182.5 317.6h0M226.5 347.2h0M204.3 368.1h0M230.5 318h0M231.1 334.5h0M236.5 311h0M160.4 231.2h0M220.8 307.4h0M196.7 308.9h0M235.1 269.3h0M212.7 310.8h0M201.9 276.5h0M218.3 372.7h0M213.7 367.3h0M236.3 312.5h0M201.3 210.9h0M207.2 347.8h0M240.1 314.4h0M180.9 299.4h0M217.7 375.9h0M212.6 257.9h0M211.5 334.9h0M128.9 249.4h0M163.1 188.1h0M221 323.4h0M216.8 306.3h0M235.7 302.5h0M230.4 255.1h0M221.9 273h0M226.6 348.9h0M189 321.3h0M225.2 339.2h0M220.1 302.7h0M202.9 369.1h0M213 351.2h0M210.5 255.7h0M210.6 321.5h0M128.9 267.9h0M210.5 314.9h0M191.4 308.1h0M215.8 346.6h0M206.6 311.2h0M213.6 356.4h0M212.7 303.8h0M231.6 333.1h0M228.4 288.4h0M210.8 367.8h0M231.8 316.1h0"/>
<path stroke="#00ff00" d="M204.5 158.7h0M215.1 143.3h0M234.5 262.4h0M213.1 162h0M200.9 220.2h0M205.9 271.4h0M223.5 177.6h0M230.9 304.5h0M122.9 196h0M209.5 229.1h0M142 240.3h0M203.2 281.3h0M130.9 161.5h0M173.6 189.3h0M229.9 222.2h0M194.7 198.4h0M217.4 266.6h0M122.2 144.7h0M148.3 145h0M200.4 301.4h0M206.8 262.8h0M229.7 219.7h0M136.5 242.5h0M110 155h0M112 177.6h0M229 194.6h0M208.1 135.9h0M235.3 273.9h0M232.8 190.1h0M180 187.5h0M117.6 171.9h0M204.9 203h0M200.5 269.8h0M196.7 166.8h0M188.7 278.5h0M123.7 192.2h0M208.7 169.9h0M218.3 233h0M202.8 292.2h0M228.2 189.5h0M144.1 239.9h0M139.4 216.3h0M122.5 204.2h0M215.3 221.9h0M129.6 265.7h0M147.2 123.5h0M202.3 151.7h0M125.8 158.6h0M224.6 270.7h0M122.7 219h0M223.9 239h0M210.7 309.7h0M225.3 294.4h0M230.7 296.2h0M166.2 225.8h0M189.2 273.9h0M223.9 197.5h0M239.2 218.6h0M225.4 152.6h0M143.6 222.1h0M205.4 157.9h0M229.3 143h0M213.6 159.1h0M227.7 274.1h0M198.2 285.9h0M217.5 263.8h0M203.8 279h0M110.7 133.1h0M222.5 182.1h0M225.4 133h0M225 130.7h0M221 168h0M224.4 305.5h0M221.4 155.6h0M114.9 265.9h0M237.9 294.6h0M142.4 264.1h0M233.6 177.3h0M166.9 239.2h0M200.8 303.1h0M189.3 288.3h0M199.6 182.2h0M192.4 182.7h0M212.9 274.1h0M229.9 179.7h0M220.6 227.9h0M106.9 170.6h0M120.3 188.8h0M233.7 169.3h0M128.5 173.5h0M228 203.8h0M201 261.5h0M115.8 175.8h0"/>
<path stroke="#0000ff" d="M130.6 325.5h0M175.3 373.5h0M166.6 395.6h0M166 386.1h0M136.6 417.7h0M173.3 380.2h0M185.5 368.8h0M158.2 330h0M168 392h0M157.6 372.2h0M150 361.7h0M133 413.1h0M171.3 379h0M162 367.8h0M174.7 352h0M179.1 401.7h0M200.9 393.2h0M154.5 367.8h0M190.7 204.4h0M203.9 398.2h0M161.9 313.8h0M146.8 386.9h0M157.4 386.9h0M149.1 425.4h0M178.5 380.3h0M154.8 430.6h0M165.6 404.9h0M163.2 395.3h0M167.1 411.7h0M147.6 304.3h0M154.4 411.2h0M168.2 367h0M183.1 411.8h0M173.4 372.1h0M151.5 406.6h0M180.3 353.3h0M144.1 388.6h0M213 266.3h0M184.7 362.2h0M166.2 390.5h0M181 424.1h0M167.4 404.3h0M236.6 160.4h0M157.1 377.8h0M177 389.2h0M199.2 351.6h0M156.3 384.8h0M192.1 368.7h0M176.3 378.5h0M148 378.5h0M132.4 418.4h0M161.1 378.8h0M223.3 252.1h0M179.8 411.8h0M194 395.5h0M162.3 430.9h0M178.8 354.7h0M146 423.8h0M200.3 353.7h0M215.5 327.6h0M154.8 396.2h0M144.8 385h0M192.2 384.2h0M224.8 285.3h0M152 434.2h0M157.8 423h0M139.9 390.1h0M190.8 384.1h0M155.6 437.8h0M150.3 399.5h0M145 247.7h0M172.6 360.7h0M154.1 431.6h0M146.3 316.9h0M173.8 345.5h0M180.1 401.8h0M196 395.7h0M148.3 387.6h0M185.2 282h0M155.3 274.2h0M218.5 156.3h0M217.8 260.4h0M156.2 431.9h0M138.5 405.9h0M171.3 359.2h0M144.5 394.7h0M142.7 425.6h0M175.4 424.7h0M191.4 426.1h0M197.9 337.6h0M185.4 428.3h0M166.8 313.2h0M152.1 342.1h0M150 316.1h0M177.4 376.4h0M174.9 238.5h0M199.9 285h0M186.3 372.8h0M177.5 382.7h0M181.8 425.1h0M179.1 352.7h0"/>
<path stroke="#bebebe" d="M120.9 154.2h0M176.7 362.3h0M256.6 177.9h0M158.5 208.2h0M138.1 223.5h0M223.8 184.3h0M215.8 323.8h0M188.2 223.6h0M214.5 230.7h0M186.9 236.8h0M208.2 200.7h0M199.7 280.1h0M270.7 202.8h0M143.3 177.6h0M151 292.1h0M170.6 245.9h0M142.2 85.6h0M295.5 215.8h0M198 246h0M134.1 252.2h0M162.5 260.4h0M126 195h0M181.3 265.6h0M141.4 190.7h0M208.5 168.6h0M206.5 252h0M187.3 144.4h0M254.9 174.2h0M209.1 171.9h0M164.3 350.2h0M103.6 152.9h0M129.4 212.2h0M159.1 196.1h0M163.9 318h0M110 138.5h0M215.7 187.6h0M148 234.1h0M245.2 186.2h0M227.1 241.8h0M138.8 414.7h0M240.2 205.2h0M242.5 177h0M185.1 168.1h0M172.4 91.3h0M235.1 255h0M226.9 187.2h0M220.3 210.2h0M195.8 230.2h0M136.1 208.7h0M390 184.3h0M168.5 290.5h0M212.8 195h0M155.8 113.4h0M229.1 287h0M187.4 236.5h0M118.1 201.4h0M229.8 302.6h0M150.8 379.6h0M339.7 195.5h0M117.7 201.6h0M273.1 169.7h0M129.9 164.5h0M209.3 328.6h0M194.1 306.1h0M129.4 203.4h0M170.5 238.1h0M231.3 153.5h0M207.3 186h0M147.2 248.7h0M197 118.2h0M146.9 335h0M184.3 268.6h0M227.5 203.6h0M196.1 286.4h0M232.9 244.6h0M150.4 309.5h0M177.3 250.6h0M176.7 309.1h0M204 197.8h0M316.6 211.6h0M363.4 194.5h0M126.6 139.6h0M194.9 116.3h0"/>
<path stroke="#00ffff" d="M315.8 226.4h0M341.8 185.1h0M355.2 223.5h0M235.5 225.7h0M336 188.6h0M382.3 192.3h0M335.4 188.7h0M300.6 179.8h0M364.8 202.8h0M437.2 193.3h0M210.7 112.6h0M380.4 214.9h0M299.8 181.7h0M204.6 126h0M422.4 179.9h0M383.5 193.9h0M326.8 206.6h0M264 169.3h0M315.9 222.6h0M356.8 219.5h0M430.1 192.4h0M411.4 221.6h0M443.7 199h0M356.1 231.5h0M232.4 167h0M404.3 203.8h0M240.1 211.4h0M421.5 206.5h0M273.7 152.8h0M383.7 199h0M277.1 180.8h0M333.3 186.3h0M365.4 222.7h0M281.9 152h0M423 208.8h0M381.6 204.2h0M296 184.2h0M271.5 199.2h0M247.4 173h0M342.7 218.1h0M377.8 190.9h0M365.2 209.3h0M387.9 209.7h0M401.2 190.6h0M402.4 181.3h0M377.4 207.8h0M266.1 175.2h0M285.6 188.4h0M411.2 199.5h0M321.4 173.8h0M260.7 214.6h0M337.6 221.6h0M333.4 167.4h0M360.9 177.2h0M312.5 137.4h0M220.5 140.7h0M334.7 174.7h0M303.5 184.1h0M401.4 216.9h0M374.5 208.8h0M289.9 173.9h0M260.9 162.7h0M299.8 137h0M209.2 149.7h0M382.4 189.2h0M396.2 209.4h0M419.5 205.7h0M437.1 202.4h0M239.9 191.8h0M342.3 206.9h0M351 183.2h0M329 220.5h0M226.5 154.9h0M348.3 217.5h0M317.8 163.1h0M318.6 189h0M373.2 200.3h0M243.5 195.3h0M373.4 195.9h0M348.6 209.3h0M378.6 224.7h0M274.5 157.6h0M316.9 187h0M287 202.6h0M301.5 196.7h0M351.8 198.5h0M359.5 227.7h0M420.9 204.3h0M400.1 226.8h0M314.4 199.8h0M367.5 210.7h0M299.5 204.3h0M263.6 164.3h0M324.5 168.7h0M323.3 219.1h0M364.7 222.3h0M372.4 218.4h0M446.5 182.9h0M260.3 165.8h0M367.9 202.4h0M280.3 198.8h0M259.4 182.1h0M361.1 207.8h0M283.1 190.8h0M334.8 196.3h0M418.6 201.7h0M415.6 192.7h0M429.5 213h0M353.5 198.1h0M375.6 215.8h0M370.7 190.8h0M303.8 149.8h0M240 202.9h0M258.7 178.3h0M347.2 181.3h0M357.7 213.5h0M269.1 188.7h0M309.3 196.4h0M412.1 211.8h0M233.3 164.9h0M223.2 225h0M299.4 212.7h0M419.7 193h0M420.8 197.9h0M328.1 223.9h0M331.2 175.2h0M262 192h0M369.4 205.3h0M371.4 210.9h0M413.2 194.2h0M285.6 162.3h0M433.5 203.1h0M348.4 218.7h0M387 190.8h0M362.2 195.9h0M424.8 213.3h0M296.2 151.1h0"/>
<path stroke="#ff0000" d="M205.3 220.7h0M156.4 142.2h0M174.3 141.7h0M198.3 198.7h0M130.9 207.7h0M205.9 246.4h0M215.9 98.3h0M188.1 140.6h0M201.1 92.8h0M224.9 220.8h0M157.8 214.6h0M205.8 232.4h0M184 96.4h0M185.2 85.5h0M160.6 106.3h0M198.9 220.7h0M182.2 114.3h0M219.4 207.8h0M119.6 125.6h0M186.7 214.9h0M136.6 209h0M205.2 223.2h0M153.9 128.1h0M176.1 183.5h0M99.5 168h0M213.4 140.2h0M198.1 90.7h0M151.2 109.7h0M124 125.8h0M175.8 291.5h0M151.3 116.6h0M104.9 148.1h0M184.2 115.8h0M133.4 214.6h0M216.4 343.4h0M229 227.3h0M128.1 242.6h0M175 135.9h0M227.2 172.4h0M172.4 105.6h0M156.5 170.3h0M212 123.7h0M287.8 170.2h0M188.1 108.7h0M145.9 136.6h0M164.9 168.2h0M172.5 210.9h0M147.4 108.4h0M199.2 360.2h0M228.5 176.1h0M218.5 112h0M158.2 122.9h0M150.6 143.5h0M160 243.7h0M208.4 238.2h0M189.2 82.3h0M191.9 83.9h0M191 386.1h0M210.5 219.7h0M141.5 174h0M173.9 143h0M195.6 224.6h0M142.5 160h0M165.1 83.4h0M190.1 107.5h0M201 137.9h0M201.8 266.1h0M171.5 121.1h0M166.2 142.8h0M155.3 160.5h0M180.3 292.9h0M188.1 90.4h0M184.6 98.2h0M165.3 111.4h0M177.2 244.9h0M111 145.1h0M238.4 188.3h0M132.2 105.4h0M184.5 143.2h0M149.2 112h0M132.1 236.8h0M143.6 135.5h0M129.3 113.8h0M156.6 164.7h0M148.6 135.7h0M154.5 151.6h0M218.5 191h0M125.8 143.1h0M148.1 132.9h0M118.9 124.8h0M207.3 241.7h0M138.3 151.3h0M204.5 121.7h0M208.1 146.7h0M133.3 141.9h0M197.3 108.4h0M175 116h0M164.9 117.9h0M220.6 117.5h0M161.4 122.9h0M199.3 220.2h0M176.3 111h0M131.6 139.9h0M128 219.7h0M191.9 142.8h0M178.5 145.6h0M177.8 154.1h0M232.1 134.8h0M224.1 178.8h0M136 179.7h0M154.7 158h0M167.8 114.3h0M228.6 221.2h0M209.6 93.1h0M204.7 228h0M124.6 117.5h0M209.7 222h0M224 270h0M206.3 289.6h0M156.5 176.8h0M231.8 271.5h0M122.4 145h0M167.3 235.7h0M207.3 104.7h0M169.9 157h0M130.5 139.4h0M200.7 188.6h0M155 125.4h0M173.3 102h0M165.9 88.7h0M228.5 146.4h0M145.9 163h0M124.6 116.5h0M149.8 156.9h0M202.6 226.6h0M233.6 231.7h0M172.5 88.6h0M160.5 176.9h0M136.1 105h0M209.1 222.6h0M189.9 146.5h0M117.6 214.2h0M138.4 139.1h0M150.5 144.4h0M218 112.5h0M231.1 175.9h0M166.3 162.1h0M130.2 209.2h0M233.4 221h0M192.6 90.5h0M164.8 86.4h0M212.1 133.7h0M169.6 101.8h0M130 178.9h0M171.2 236.5h0M138.3 342.8h0M172.8 86.7h0M200.7 128.8h0M170.4 108.6h0M157.4 213.8h0M194.3 317.6h0M199.1 232.5h0M170.2 154.3h0M200.3 135.9h0M209 140h0M162.4 118.3h0M178 352.2h0M157.1 158.7h0M183.4 138.2h0M223.4 167.6h0M171.8 156.5h0M317.3 161.4h0M135.4 115.7h0M125.8 237.8h0M134.3 108.9h0M194.6 98.8h0M192.8 135.3h0M215.7 144.9h0M170 150.8h0M206.3 112.7h0M159.5 230.9h0"/>
<path stroke="#ffa500" d="M167.5 189.3h0M238.2 231.9h0M308.9 218.3h0"/>
<path stroke="#ffff00" d="M335.5 209.9h0M305.7 222.9h0M311.5 227.1h0M305.5 215.5h0M332.1 213.8h0M321.1 208.7h0M319 214.3h0M316.3 208.8h0"/>
<path stroke="#a020f0" d="M237.8 192.4h0M173.4 240.4h0M219.2 226.1h0M213 202.5h0M139.2 225.1h0M197.5 205.7h0M129.5 238.6h0M205.7 95.9h0M286.7 175.8h0M148.2 242.8h0"/>
<path stroke="#00ffff" d="M250.1 167.2h0M359.8 228.7h0M365 195.8h0M277.3 197.7h0M375.4 205.6h0M292.3 153.4h0M387.5 224.3h0M392.4 213.9h0M233.9 169.9h0M315.6 180.8h0M376.5 207h0M414.2 185.8h0M321.1 182.8h0M297.2 206.3h0M345.9 202.3h0M404.1 218.5h0M393.4 202.6h0M406.1 210.3h0M408.5 226.4h0M321.6 201.7h0M377.9 213.4h0M291.5 215.7h0M410.4 224.1h0M450.6 188.8h0M329.6 187.6h0M292 173.9h0M318.6 213.3h0M431.9 184.9h0M265.3 208h0M345.1 173.2h0M394.4 217h0M271.9 165.6h0M448.2 191.9h0M332.2 213.2h0M312.9 205.8h0M432.6 182.2h0M380.4 223.4h0M382.3 218.3h0M274.6 191.1h0M267.8 187.2h0M332.3 195.3h0M240.3 175.9h0M423.5 192.2h0M267.6 152h0M386.6 225.3h0M381.2 228.2h0M301.7 177.3h0M321.3 187.6h0M334.4 215h0M426 207.7h0M370.5 223.3h0M317.6 167.9h0M411.4 180.7h0M254.5 206.8h0M271.9 157.9h0M385.3 226.9h0M392.4 193h0M387.4 186h0M430.1 189.4h0M335.5 225.9h0M337.8 166.8h0M429.3 206.7h0M264.2 196.5h0M396.7 215.3h0M340 205.6h0M397.2 206h0M370.8 203.8h0M330.2 180.4h0M298.3 186.3h0M399.5 203.7h0M444.1 190.5h0M404.4 221.6h0M284.7 165.7h0M279 201.1h0M294.4 174.6h0M366.1 227.5h0M346.2 161.9h0M394.5 198.8h0M308.8 184.9h0M362 228.6h0M365.8 200.6h0M290 142.9h0M301.1 220.2h0M167.6 85.7h0M315.6 217h0M329.3 171.3h0M291.3 151.1h0M309.9 159h0M252.5 138.4h0M215.5 196.6h0M242.3 153.6h0M307 163.8h0M433.7 209h0M263.6 159.6h0M403.3 201.5h0M318.3 173.8h0M239.3 154.1h0M440 184.2h0M212 107.1h0M357.1 207.6h0M240.7 205.9h0M288.9 175h0M324 174.1h0M431.5 196.6h0M414.6 184.6h0M344.7 202.2h0M225 127.1h0M431.4 188.7h0M323.4 201.8h0M316.1 158h0M242 161.9h0M377.4 213.1h0M378 194.5h0M437.8 178h0M400.3 194.1h0M435.4 187.8h0M431.7 187.7h0M388.8 222.4h0M234.8 194.6h0M234.6 175.5h0M390 225.5h0M370.4 223h0M400 206.2h0M400.8 226.9h0M440.1 191.4h0M361.4 222.6h0M239 162.1h0M322.7 194.1h0M284.1 206.1h0M243.5 202.6h0M345.5 219.5h0M422.6 216.8h0M417 179.7h0M384.8 196.3h0M401.6 180.5h0M293.7 194.8h0M390.6 197.4h0M305.3 196h0M292.1 138.2h0M417.5 218.8h0M256.9 149.9h0M240.5 192.5h0M417.1 201.7h0M225.2 165.3h0M354.9 192.7h0M283 213.2h0M368.2 214.1h0M401.1 198.4h0M282.2 213.3h0M394.5 191h0M355.1 212.7h0M343.4 224.3h0M431.7 207.1h0M387.3 199.7h0"/>
<path stroke="#0000ff" d="M175.6 386.9h0M196.5 383.5h0M211.2 183.9h0M152.9 319.7h0M187.6 374.4h0M143.5 399.8h0M149.9 399.9h0M123.5 305.3h0M178.2 383.2h0M150.4 404.6h0M147.8 426.3h0M152.2 400h0M167.8 309h0M171.9 410.8h0M164.1 417.9h0M158.8 430.7h0M202.7 364.2h0M177 356.4h0M194.9 346.3h0M129.1 420.8h0M142.1 424.6h0M150.6 418.8h0M206.3 345.8h0M158 428.8h0M173.5 313h0M140.9 320.2h0M194.4 334.5h0M170 417.4h0M183.4 373.5h0M165.8 377.3h0M173.3 255.8h0M170.4 406.2h0M188.8 386.9h0M209 228.9h0M151.2 405h0M193.2 420.3h0M155.9 415.7h0M147.9 421.1h0M165.3 406.9h0M199.5 376.9h0M124.6 296.3h0M146.1 396.7h0M144.2 412.9h0M207.4 396.1h0M218.2 314.8h0M190 405.2h0M188.6 333h0M149.8 408.7h0M172.8 424.2h0M137.5 396.2h0M166.7 389.7h0M149.7 409h0M159.8 334.5h0M179.7 350.1h0M159 425.2h0M128.4 308.3h0M169.8 431.7h0M226.3 339.7h0M135 408.2h0M237.3 173h0M174.3 396.6h0M194.4 342.9h0M123.6 305.2h0M201.4 370.8h0M191.1 367.8h0M198 402.9h0M155.2 417.5h0M184.7 384.3h0M154.3 367.5h0M178.3 371.1h0M119.8 235.6h0M173.5 346.2h0M155.4 417.2h0M157.7 380.8h0M133.3 336.6h0M175 370.8h0M193.9 417.8h0M186.2 403.4h0M190.2 260.9h0M180.2 428.9h0M157.4 328.1h0M169.3 403.6h0M138.5 308.5h0M161.1 361.8h0M187.6 265.2h0M167.8 405.9h0M160.5 435.1h0M140.6 256.2h0M189.2 420.3h0M154.1 370.1h0M163.8 392.3h0M233.1 274.1h0M162.6 406.9h0M165.2 398.8h0M141.4 423.2h0M176.3 436.9h0M140.7 404.7h0M189.6 374.1h0M200 325.9h0M163.8 405.9h0M181 381.7h0M130.9 416.2h0M138.9 398.1h0M185.2 339.7h0M152 435.4h0M185.4 396.7h0M178.5 351.2h0M140.5 420.6h0M170.9 346.9h0M142.1 426.9h0M189.8 388.1h0M163.5 415.8h0M158.3 410.1h0M178.9 402.7h0M156.2 402.3h0M147.7 428.5h0M208.5 371.7h0M136.7 420.9h0M179.2 398.3h0M168.9 393.2h0M185.9 384.9h0M201.1 402h0M398.8 221h0M159 371.5h0M144.9 409.5h0M190 360.6h0M179.6 328.3h0M137.7 319.1h0M202.2 408.7h0M158.6 438h0M193.2 394.5h0M193.1 390h0M174.4 259.9h0M225.5 326.5h0M160.2 304.1h0"/>
<path stroke="#ff0000" d="M201.4 218.3h0M195.7 175.6h0M187.7 214.9h0M167.7 199.2h0M146.1 88.8h0M173.5 230.4h0M186.7 146.7h0M135.5 127.7h0M164.3 125.9h0M200.3 224.9h0M164 127.7h0M181 278h0M160 122.9h0M200.7 113h0M211.9 121.4h0M205.2 227.3h0M124.9 143.7h0M137.3 217.2h0M135.4 343.7h0M291.4 192.8h0M139.1 158.7h0M136.7 169.7h0M117.4 119.7h0M148.7 103.8h0M173.8 89.4h0M137.1 153.4h0M346.3 218.7h0M176.9 103.4h0M175.6 212.2h0M130.6 136.1h0M180.3 82.2h0M221.3 123.7h0M146.1 219.5h0M133.9 104.8h0M179.8 141.5h0M178.4 144.6h0M195.1 147.3h0M215.5 215.8h0M161.3 149.8h0M156.7 376.6h0M231.7 140h0M135.2 133.1h0M149.7 199.2h0M190.8 129.8h0M302.7 147.3h0M210.2 167.3h0M138.2 105.1h0M150.3 124h0M202.2 145.8h0M204.3 222.7h0M189.6 182.1h0M237.2 257.8h0M199 99.4h0M226.3 198.9h0M138.4 161.2h0M138.4 152.6h0M191.5 221.4h0M204.1 99.3h0M158.4 232.9h0M280.6 156.6h0M196.7 170.2h0M184 102.1h0M141.3 147.7h0M160.7 197.4h0M192.8 122.2h0M184.4 139.5h0M228.4 129.1h0M170.9 109.6h0M209.1 121.7h0M170.8 139.1h0M161.7 170.6h0M177.2 88.8h0M227.2 269.1h0M241.3 224.5h0M113.7 136.1h0M131.2 228.6h0M160.2 125.3h0M130.3 124h0M161.2 156h0M141.5 244.1h0M217.5 187.5h0M230.3 174.4h0M193.7 248.8h0M230 166.2h0M212.3 218.8h0M193 147.1h0M139.4 113.4h0M145.3 137.1h0M202.4 194.2h0M188.5 236.8h0M156.4 114.3h0M213 374.2h0M310.8 177.1h0M244.3 199.6h0M129.9 144.7h0M158.5 124.9h0M205.9 234.3h0M218.5 144.9h0M203.5 236.5h0M229.7 139.6h0M199.7 91.1h0M123.7 132.1h0M146.8 180h0M162.7 140.8h0M146.2 136.4h0M139 112.5h0M167.4 129.9h0M195.5 147.6h0M208.5 223.9h0M223.8 110.9h0M154.6 150.3h0M153.6 98.8h0M143.5 125.1h0M214.3 174.8h0M124.9 143.6h0M228.2 260.3h0M153.1 115.7h0M146 132.6h0M135.5 182.8h0M228.4 108.2h0M161.4 90.9h0M178.1 145.2h0M127 124.2h0M138.7 131.4h0M176.7 151.3h0M208.3 122h0M186.6 89.3h0M203.9 150.5h0M142.7 141.5h0M137 156.3h0M149.1 103.2h0M164.6 133.5h0M124.8 214.3h0M187.9 83.7h0M135.4 114.5h0M210.9 186.8h0M209.3 133.5h0M223.1 108.7h0M181 139.9h0M183.9 81.5h0M349.6 218h0M235.8 155.5h0M142.6 183.6h0M168.4 148.2h0M211.5 123.9h0M207.5 122.1h0M128.7 233.2h0M237.3 202.7h0M196.4 226.7h0M166.5 163.1h0M122.7 113.3h0M226.2 131.9h0M216.8 106.6h0M212.1 131.5h0M147.4 112.5h0M354.4 215h0M179.4 132.7h0"/>
<path stroke="#00ff00" d="M236.1 274.8h0M197.4 302.3h0M219 279.5h0M228.1 148.6h0M204.6 234.6h0M219.5 184.9h0M170.6 223.5h0M126.2 205.4h0M195.6 180h0M214.5 157.8h0M141.6 258h0M232.8 285.3h0M235 184.4h0M231.4 170.8h0M220 155.9h0M140.7 181h0M233.7 187.8h0M101.3 163.9h0M227.4 289.3h0M220.7 302h0M199.1 306.9h0M216.9 282.4h0M225.3 187.4h0M197.9 201.8h0M122.2 158.3h0M168.7 204.6h0M160.7 192.6h0M210.8 199.5h0M229.1 144.3h0M223.1 285.3h0M127.6 159.3h0M232.5 210.2h0M165.2 238.8h0M211.8 292.7h0M200.5 182.1h0M220.8 142.8h0M214.5 193.2h0M214.1 284.3h0M163.4 214.4h0M119.7 201.2h0M124.8 201.7h0M195 242.1h0M221.7 150.6h0M112.5 166h0M133.6 174.1h0M220.2 171.9h0M222.6 196.2h0M127.9 211h0M193.7 295.7h0M210.9 148.2h0M198.2 268.9h0M226.8 273h0M229.2 299.4h0M211.9 219.8h0M129.2 180.3h0M213.7 213.8h0M114.5 196.9h0M229.3 300.3h0M114.9 190h0M213.4 137.2h0M213.7 306.7h0M116.7 197h0M213 153.5h0M186.8 313.7h0M133.9 195.4h0M148.7 170.8h0M134.8 238.1h0M128.7 200.4h0M198.7 279.4h0M146.9 247h0M207.8 207h0M231.9 211.6h0M233 200.1h0M210.3 168.2h0M225.3 298h0M125.5 181.1h0M198.2 270.5h0M191.8 287.1h0M221.3 145h0M215.3 292.8h0M203.8 304.6h0M172.4 274.9h0M196.5 287.5h0M145.6 222.6h0"/>
<path stroke="#000000" d="M184.8 184.4h0M209.6 304h0M202.6 376h0M180.4 338.9h0M226.4 328.9h0M217.7 367.8h0M202.5 317.5h0M208.1 321.4h0M186.9 323.3h0M136 307.8h0M222.5 324.2h0M185.5 330.7h0M181.5 329.2h0M234.4 298.3h0M201.6 328.6h0M170.9 324.3h0M182.8 328.1h0M200.1 326.3h0M179.7 192.5h0M185.4 312.4h0M205.3 318.6h0M187.5 250.7h0M232.8 333.5h0M170.5 376.4h0M211.5 311.2h0M202.1 321.5h0M209.9 328.1h0M184.6 288.6h0M195.9 325.9h0M213.6 350.7h0M176.2 293.6h0M198.6 323.1h0M203 331.7h0M218.4 352.3h0M206.1 337.1h0M209.9 331.9h0M222.7 299.8h0M222.7 359.4h0M183.4 314.8h0M166.4 378.2h0M210.1 329.2h0M209.1 323.1h0M183.2 318.8h0M184.8 312.3h0M199.1 286.4h0M181 312.1h0M214.7 342h0M224.8 319.9h0M235.3 316.9h0M204.8 266.4h0M207.2 275.7h0M237 312.6h0M187.6 326.2h0M193.3 315.4h0M210.4 343.9h0M232.3 304.5h0M152.2 186.6h0M221.4 291.9h0M186.7 312.4h0M195.7 294.1h0M229.1 314.3h0M231 333.7h0M184.2 274.2h0"/>
<path stroke="#bebebe" d="M165.5 375.1h0M194.6 160.9h0M170.5 220.6h0M158.5 288.6h0M227.1 225.7h0M136.8 116.5h0M228.1 149h0M152.2 178.4h0M204.8 103.5h0M236.3 213.1h0M145.2 314.4h0M203.9 179.9h0M131.4 112.8h0M263.4 139.4h0M128 268.9h0M189.4 228.1h0M262.1 158.9h0M188.2 143.2h0M203.9 262.7h0M213.4 100.2h0M226.3 139.2h0M212.6 329.3h0M219.6 344h0M153.6 281.1h0M168.4 281.4h0M284.3 170.5h0M185.9 356.9h0M126.7 190.1h0M126.9 195h0M219.9 143.9h0M171.3 178.8h0M318.9 205.4h0M190.5 374.4h0M241.9 221.1h0M239 244.1h0M153.6 190.4h0M220.3 106.8h0M174.7 370h0M208 159h0M240.5 161.1h0M126 267.6h0M129.1 255.7h0M216.7 229.2h0M235.6 187.5h0M226 158.5h0M237 216.7h0M166.7 223.4h0M187.6 141.7h0M206.6 95.7h0M187.3 110.6h0M259.3 173.9h0M124.3 312.6h0M155 210.4h0M180.3 361.9h0M220.9 203.9h0M156 387.9h0M191.3 296.9h0M212.5 147.5h0M147.9 349h0M180.4 215.8h0M110.3 162h0M189.3 143h0M248.6 125h0M137.7 337h0M215.5 152.4h0M197.1 353.3h0M144.8 303.7h0M350.8 171.6h0M234.8 198h0M303.9 178.4h0M190.5 143.5h0M112.7 274h0M223.1 166.7h0M192 183.1h0M175.6 352.5h0"/>
<path stroke="#a020f0" d="M206.4 249h0M216.1 159.7h0M228.7 172.5h0M224.7 139.3h0M237.6 245.5h0M179.3 209.4h0M230.1 230.5h0M130.5 215.7h0M228.2 141h0M230 191.6h0M207.1 228.3h0"/>
<path stroke="#ffff00" d="M297.4 221.7h0M312.4 216.9h0M304.3 218.8h0M307.5 211.6h0M321.5 216.3h0M326 219.2h0M306.9 211.7h0"/>
<path stroke="#ffa500" d="M334.1 164.4h0"/>
<path stroke="#0000ff" d="M145.9 390h0M182.6 407.5h0M159.3 407.8h0M178.8 400h0M146.4 415.1h0M183.5 389.1h0M151 372.2h0M149 313.4h0M160.8 375.9h0M167.3 384.1h0M148.8 431h0M163.8 384.2h0M158.4 418.5h0M193.6 380.6h0M131.4 416.5h0M142.1 400.9h0M129.8 282.8h0M143.2 251.9h0M173.7 396.8h0M189.9 386.5h0M170.7 408.8h0M180.4 387.9h0M392.3 198.9h0M139.7 400.8h0M179.4 392.8h0M173.5 351.6h0M193.1 419.6h0M162.7 316.8h0M188 369.8h0M193.3 220.8h0M158.7 415.2h0M167 392.3h0M164.2 441h0M179.6 431.1h0M142.9 411.1h0M141.1 413.5h0M195.3 420h0M150.3 420.6h0M159.4 300.1h0M137.3 180.3h0M200.3 358.5h0M162.8 334.7h0M195.5 391.9h0M193.7 358.6h0M138.3 411h0M160.7 443.5h0M191.2 405h0M172.7 417.4h0M175.6 384.7h0M169.1 439.2h0M160 382.5h0M148.4 377.9h0M182.1 413.2h0M229 329.1h0M150.7 427h0M132.4 416.2h0M166.1 269.6h0M161.9 264.8h0M179.8 408.4h0M200.9 345.9h0M157.6 387.6h0M164.3 415.6h0M132.9 413.1h0M159.3 217.4h0M176.8 409.4h0M198.1 371.6h0M140.6 392h0M167.2 384.1h0M178.3 414.8h0M175.8 382.6h0M189.9 416.1h0M229.4 267.2h0M161.5 439.5h0M145.8 412h0M197.8 389.6h0M197.7 394.2h0M148.5 319h0M173.4 290.7h0M166.6 400.5h0M203.3 267.5h0M180 419h0M185.3 412.8h0M187.3 392.3h0M190.5 246.9h0M184.8 389h0M181.6 411.5h0M228.1 334.6h0M161.9 391h0M167.3 409.3h0M148.4 410.3h0M196.5 390.2h0M222.3 261.4h0M143.9 389.9h0M184.2 392.8h0M184.7 385.9h0M139.4 424.4h0M191.5 383h0M148.7 419.7h0M188.4 397.3h0M155.4 372.5h0M188.4 397.1h0M159.5 345.5h0M191.8 395.4h0M134.1 265.6h0M159.9 398.6h0M165.2 409.9h0M192.2 383.3h0M187.2 225.2h0M195.3 399.2h0M136.6 272.3h0M192.6 408.2h0M151 294h0M167.8 381.2h0M158.2 124.2h0M174 393.2h0M145.3 279.5h0M170 375.6h0M181 326.8h0M158.6 365.7h0M117 281h0M178.5 336h0M136.4 400h0M151.6 273.1h0M176 352.9h0M143.4 402h0M150 422.7h0"/>
<path stroke="#bebebe" d="M124.5 248.6h0M172.5 353.6h0M149.7 277.2h0M255.3 151.9h0M179.6 83.5h0M188.6 206.6h0M186.7 247.5h0M123.4 197.9h0M185.3 289.9h0M192.4 147.3h0M195.2 144.8h0M145 388.2h0M164.9 269.6h0M215.9 162h0M172.8 278.1h0M231.2 202.9h0M135 152.2h0M310.4 200.1h0M237.5 270h0M201.3 268.3h0M225.6 255.9h0M138.8 147.1h0M183.3 283.3h0M220.2 123.7h0M192.2 350.5h0M199.5 95.8h0M121.8 139.5h0M319.3 171.2h0M220.1 285h0M181.7 203.3h0M201.7 113.3h0M140.7 117.2h0M196.4 230.7h0M208.1 341.8h0M224.8 117.4h0M122.8 151.5h0M207.3 194.3h0M178.9 340h0M188.8 276.6h0M183.2 276.7h0M249.3 183.2h0M196.6 334.5h0M171.8 156.7h0M310.5 148.3h0M171.9 284.9h0M140 330.6h0M206.3 331.2h0M130.4 301.8h0M104.8 160.5h0M168.9 356.4h0M149.9 182.1h0M147 277.7h0M153 285.2h0M189 345.8h0M175.5 287.4h0M178.6 299.5h0M189.4 203.5h0M212.9 103.1h0M179.3 293.5h0M136.8 267.5h0M294.8 193.9h0M208.5 198.7h0M145.7 222.8h0M207.3 125.7h0M139.7 179.1h0M166.9 297.5h0M229.5 242.5h0M180.3 349.4h0M183.9 130.1h0M180.2 309.6h0M154.1 212h0M230.3 143.4h0M181.8 266.9h0"/>
<path stroke="#ff0000" d="M231 138h0M237.4 222.4h0M169.5 173.8h0M151 100.3h0M168.4 117.8h0M157.7 148.1h0M129 126.9h0M142.7 155.7h0M142.4 147h0M160 148.3h0M170.5 151.4h0M223 268.5h0M196.3 104.6h0M180.9 191.2h0M129.8 150.4h0M290.5 171.2h0M248.9 156.3h0M168.4 198h0M141.3 158.4h0M128.9 206.7h0M164.6 87.2h0M176.4 144.5h0M169.9 132.8h0M139.1 130.1h0M171.1 163.3h0M122.6 254.9h0M123.6 194.9h0M170.1 144.6h0M278.8 185.6h0M212.6 116.7h0M213.3 220h0M169.2 206h0M187.1 151.6h0M212.4 132.3h0M241.3 198.9h0M167.8 139.8h0M137.9 157.3h0M133.1 183.5h0M155.3 96h0M188 218h0M222.3 152.5h0M235.6 190.8h0M202.4 126.7h0M163.7 109.6h0M177.2 137.3h0M157.5 107h0M216.6 103.1h0M126.8 196.9h0M222.9 231.5h0M155.3 230.3h0M139.8 148.2h0M166.7 100.8h0M175 128.4h0M183.3 236.6h0M200.6 101.1h0M177.3 99.8h0M167.1 128.4h0M216.6 115h0M242.9 243.3h0M127.7 135.5h0M160 130.8h0M154.4 129.2h0M160.2 202.6h0M235.2 284.8h0M127 231.4h0M143.3 141.5h0M170.1 164.6h0M154.5 273.5h0M128.6 129.8h0M184.7 141.1h0M219.8 121.5h0M218.6 202.9h0M116.7 175.9h0M164.2 110.7h0M164.3 109.4h0M174.3 141.4h0M193.5 275.7h0M222.9 206.8h0M174.4 189.8h0M185.3 132.4h0M169.2 121h0M229.1 115.7h0M234.7 225h0M162.3 168.1h0M212.5 174.9h0M211.8 221.8h0M347 221.9h0M207.8 139.2h0M209.5 113.1h0M154.5 134.1h0M197.6 249.2h0M150.7 137.9h0M231.5 173.4h0M168.9 164.9h0M197.8 104h0M276 188.3h0M138.5 191.3h0M175.6 215.1h0M154.1 356.9h0M181.4 82.1h0M212 174.7h0M136.3 127.3h0M165.5 94.3h0M164.4 86.3h0M215 131h0M193.7 90.6h0M134.6 228.5h0M193.6 186h0M238 245h0M217.5 213.6h0M170.9 139.9h0M157.9 105.4h0M241.6 158.4h0M232.6 215.3h0M162 238.8h0M167.3 95.9h0M219.6 146.3h0M164.5 88h0M210.5 145.1h0M162 136.7h0M176.4 81.5h0M254.8 225.5h0M107.7 118.1h0M200.7 225.9h0M172.1 99.6h0M158.6 128.1h0M181.4 77.5h0M192.9 330.7h0M142.7 119.7h0M156.6 200.2h0M160.3 117.1h0M197.4 98.9h0M171.8 98.1h0M150.3 243h0M194.9 244.7h0M149.7 113.8h0M176.5 113.4h0M144.1 178.7h0M156 98.1h0M121.9 136.1h0M222.1 118.6h0M205.5 189.8h0M162.9 130.7h0M184.1 200h0M147.4 118.6h0M133.6 108.5h0M230.4 140.6h0M139.1 92h0M201.1 231h0M183.9 95.2h0M178 236.5h0M211.7 94.1h0M142.4 255h0M159.4 190.6h0M125.9 104.2h0M203.6 166.2h0M212.3 185.3h0M174.9 195.8h0M153.3 132.1h0"/>
<path stroke="#00ffff" d="M352.8 205.7h0M373.9 228.5h0M213.6 132.6h0M395.6 210.2h0M367.1 204.8h0M292.7 156h0M318.8 175.7h0M305.4 166h0M342 229.8h0M313.1 202.2h0M353.7 195.9h0M315.5 191.3h0M326.3 184.5h0M315.4 195.8h0M399.1 192.3h0M426.6 185.5h0M308.1 191h0M395.2 185.3h0M370.4 202.6h0M288.4 177.7h0M350.3 218.7h0M284.5 172.8h0M433.1 183.1h0M408.3 206.7h0M152.3 176.5h0M407 212.8h0M286.7 191.6h0M366 207.1h0M335 178.5h0M441.2 178h0M337.8 228.5h0M214.9 204.7h0M343.1 198h0M335.9 217.2h0M271.3 194.1h0M348.5 225.9h0M336.6 229.4h0M300.3 136h0M346.8 192.3h0M246.3 176.6h0M448.1 188.8h0M271.2 156.2h0M270.5 152.7h0M297.8 198.8h0M307 194.5h0M269.7 203.7h0M382.6 192.3h0M399.1 225.6h0M239.9 203.1h0M280.5 210h0M392.8 188.6h0M395.9 191.4h0M327.2 203.3h0M338.1 219.6h0M395.8 229h0M385.7 204.7h0M342.5 187.1h0M228.5 150.1h0M273.9 206.6h0M298.5 164.4h0M381.4 226h0M211.9 175h0M267.6 186.7h0M420.6 211.2h0M412.9 196.7h0M236.1 152.6h0M441.9 179.3h0M389.9 202.8h0M388.6 221.4h0M382 216.9h0M337.2 198.7h0M285.9 196.1h0M286.4 162.5h0M420.6 182.1h0M308.9 173.5h0M245.1 123.9h0M336.9 181h0M353.5 180.8h0M441.9 201.1h0M317.9 222.7h0M365.4 190h0M248.7 149.6h0M315.1 206h0M426.6 211h0M287.9 202.2h0M323.7 209.4h0M416.7 187.6h0M416.2 197h0M435.9 189.1h0M308.4 217.6h0M377.7 195.4h0M288.4 153.6h0M187.7 180.8h0M398.8 223h0M374.4 212.4h0M333.5 212.4h0M278.7 134.4h0M284.2 151.9h0M311 154.8h0M366.6 193.1h0M278.5 192.1h0M395.6 224.8h0M364.7 219.5h0M350.6 215.3h0M233.3 172.8h0M406.7 186.1h0M287 189.5h0M289.7 157.9h0M230.9 158.2h0M406.6 201.8h0M431.1 192.3h0M265.4 172.4h0M402.6 189.1h0M284.6 198.8h0M351.1 219.2h0M411.9 202.4h0M360.8 178.1h0M395.4 189.9h0M371.9 208.6h0M295.8 196.2h0M370.8 214.5h0M238.3 172.1h0M300.1 177.5h0M356.6 228.3h0M361.8 207.4h0M359.1 196.9h0M243.4 183.7h0M306.3 149.9h0M294.4 184.1h0M244 145h0M443.4 183.6h0M240.9 155.4h0M424.4 182h0M205.6 134.8h0M361.5 221.7h0M341.5 230.6h0M206.3 134.6h0M363.6 227.4h0M341.9 208.8h0"/>
<path stroke="#00ff00" d="M226.6 140.4h0M179.5 222.7h0M138.6 246.3h0M119.2 158.8h0M180.2 206.5h0M182.7 229.1h0M211.8 174.1h0M109.9 167.6h0M236.7 286h0M159.7 197.7h0M224.5 159.4h0M234 295.4h0M210.2 272.7h0M192.9 280.1h0M200.8 162.3h0M166.1 216h0M202 295.5h0M143.3 281h0M210.5 206.1h0M198.8 277.3h0M214.5 202.3h0M186 206.7h0M219.9 231.7h0M202.4 154.1h0M225.1 185.6h0M125.5 184.9h0M217.5 308.7h0M185.6 182.4h0M193.2 275.6h0M196.1 300.5h0M222.1 236.8h0M168.7 204.2h0M188.2 245.6h0M221 200.8h0M239.7 279h0M182.1 204.3h0M101.4 158h0M209.7 294.4h0M217.1 174.7h0M193.3 316.9h0M227.4 245.2h0M200.2 234.6h0M183.8 212.5h0M225.7 207.2h0M147.6 268.7h0M182.2 211.5h0M136.8 236.6h0M232.7 217.3h0M129.1 190.9h0M177.7 171.1h0M212.6 289.4h0M201.9 278.5h0M226.6 153h0M221.4 251.7h0M220.7 265.2h0M205.1 283.4h0M196.6 296.4h0M121.4 181.7h0M120.1 207.1h0M187.6 91.7h0M132.4 172.1h0M221.5 267.4h0M215.3 149h0M150.7 267.3h0M167.7 214.1h0M201.7 233.9h0M235.5 262.5h0M121 168.8h0M154.1 193.3h0M216.7 167h0M214.2 140.4h0M231 168.4h0M222.7 272.6h0M220 230.6h0M223.7 197.5h0M209.2 181.8h0M209.7 205.4h0M187.6 233.8h0M224.5 172h0M176.1 199.5h0M221 178.2h0M219.7 217.4h0M235.8 283.3h0M211.1 290.7h0M112.8 191.2h0M218.1 215.9h0M111.4 164.6h0M187.7 281.1h0M181.9 214h0M213 218.4h0M131.3 197.2h0M204.2 299.3h0M227.1 140.3h0M196.2 304.9h0M123.7 207.1h0"/>
<path stroke="#000000" d="M234.5 295.7h0M173.7 375.9h0M198.5 321.3h0M208.2 320.9h0M235.4 295.1h0M203.5 298.8h0M230.8 265h0M214.5 339.6h0M208 333.6h0M163.7 385.8h0M214.8 334.1h0M233 318.2h0M218.1 318.4h0M205.3 358.2h0M185 330.9h0M199.2 309h0M184.3 296.1h0M203.9 336h0M194 336.7h0M123.2 259.3h0M189.1 321.4h0M221 336.3h0M211 321.1h0M136.8 238.5h0M208.5 364.7h0M216.7 301.5h0M225.2 318.9h0M183.8 325.3h0M221.5 268.1h0M206.9 350.6h0M217.3 312.5h0M226.4 275.3h0M179.7 313.8h0M188.1 305.8h0M215.5 310.5h0M144.2 253.3h0M115.7 217.1h0M163.3 287.1h0M191.3 317.5h0M225.3 312.5h0M227.1 326.6h0M198.4 297.9h0M162.9 292.8h0M219.9 323.7h0M191.9 282.3h0M238.7 314h0M216.4 304.6h0M204.4 278h0M190.1 323.7h0M210.1 346.8h0M211.8 373.1h0M223.7 318.6h0M224.2 347.5h0M204.9 328.1h0M238.4 279.9h0M238 301.4h0M218.1 325.7h0M234.7 306.2h0M151.1 372.6h0M177.8 212.8h0M226.3 302h0M213.3 318.8h0M187.6 301.2h0M233.9 304.4h0M182.8 327.5h0M177.2 321.3h0M235.3 168.5h0M221.9 361.8h0M216.5 359.5h0M201.1 337.1h0M221.5 345.3h0M211.4 326.9h0M213.6 268h0M206 351.4h0M204.5 301.7h0M233.7 315.9h0M217 294.1h0M198.7 296.3h0"/>
<path stroke="#ffff00" d="M318.2 215.2h0M317.8 225.2h0"/>
<path stroke="#a020f0" d="M226.9 182.2h0M142.1 189.4h0M341.2 181h0M194.4 177.3h0M204.7 171.9h0M226.3 223.7h0M116.2 233.9h0M215.3 246.7h0M114.9 212.2h0M131.1 206.5h0M126.4 230.3h0"/>
<path stroke="#ffa500" d="M254.6 177.7h0M221.8 183.3h0M234.7 172.3h0M251.5 236.1h0"/>
<path stroke="#ff0000" d="M167.3 99.4h0M167.4 138.8h0M191.4 182.2h0M150.2 133.9h0M218.3 120h0M173.9 249.7h0M214.3 204.5h0M157.6 246.4h0M195.4 86.5h0M175 82.1h0M155.6 156.3h0M132.4 124h0M163.5 289.6h0M200.1 110.2h0M186.6 370.2h0M170.8 156.6h0M218.3 238.1h0M334.5 171h0M246.6 183.1h0M119.5 137.6h0M195.2 215.9h0M179.2 143h0M169.8 87.4h0M175 140.4h0M140.2 284.3h0M159.6 118.1h0M164.8 122.6h0M191.7 145.3h0M152.3 204.6h0M100.6 149.8h0M205.6 127.6h0M143.6 138.5h0M135.1 156.1h0M161.5 180.6h0M149.9 97h0M131.1 116.1h0M208.8 309.7h0M156 164.2h0M150.7 132.3h0M188.2 79.4h0M168.1 132h0M175.7 181.2h0M168.7 206.3h0M213.6 356.8h0M113.9 206.4h0M140.3 104.9h0M144.6 112.4h0M186 140.2h0M155.3 153.9h0M228.6 265.6h0M200.1 112.6h0M225.5 208.1h0M149 130.4h0M135.4 109.1h0M174.8 235.4h0M199.6 90.8h0M148.3 142.6h0M229.1 215.6h0M122.1 139.2h0M148.2 208.3h0M133.5 93.3h0M209.5 182h0M202.8 178.6h0M153.5 126.9h0M118.1 114.2h0M143.5 119.7h0M204.8 108.6h0M230.9 260.1h0M163.4 95.8h0M224.6 185h0M148.2 203.2h0M130.3 130.2h0M187.7 126.7h0M145.7 121.9h0M213.8 211.6h0M187.7 128.2h0M198.4 146.7h0M239.2 194.7h0M179 91.3h0M240.4 176.6h0M202.2 105.7h0M168.7 94.8h0M196.4 155.7h0M214.6 276.7h0M167.7 127.1h0M168.7 184.7h0M258.2 207.5h0M167.2 110.6h0M156.7 127.3h0M121.5 172.5h0M153.2 339.3h0M206.3 227.8h0M192.7 278.9h0M145.5 156h0M196.8 111.3h0M118.6 200.8h0M143.8 110.4h0M190.9 138.4h0M136.6 108h0M217.4 118.3h0M198.3 228.5h0M190.7 250.5h0M213.9 222.9h0M217.2 103.2h0M211.1 130h0M209.1 150.3h0M209.3 204.1h0M147.5 99.6h0M208.5 305.7h0M208.7 101.3h0M131.7 153.6h0M246.4 244.5h0M178.4 82.5h0M182 150.8h0M181.9 231.4h0M178.1 248.3h0M163.4 172.4h0M159 110.8h0M171 138.4h0M167.5 137.5h0M188.3 105.5h0M223.3 123.1h0M153.3 119.7h0M132.2 193.4h0M126.6 134h0M206.5 94.9h0M207 117.5h0M131.7 233h0M211.8 138.5h0M168.8 82.5h0M156.1 98.2h0M264.8 159.5h0M216.7 119.5h0M174 123.2h0M142.6 137.4h0M148.4 94.8h0M214.4 118h0M189.8 281.3h0M185.8 89.3h0M136.9 125.8h0M159.7 118.8h0M136.7 141.1h0M230.6 124.5h0M148.6 141.9h0M207.5 126.5h0M197.8 169.3h0M169.6 328.8h0M205.6 230.6h0M189.7 156.3h0M200.9 105.8h0M163.1 162h0M169.3 141.8h0M167.8 215.5h0M139.1 145.1h0M213.4 138.7h0M191.9 123.8h0M132.1 141.8h0M168.9 219.9h0M235.8 196.8h0M185.6 334h0M185.3 110h0M173 287.9h0M177.2 139h0M146.8 158.5h0M188.1 134.4h0"/>
<path stroke="#00ffff" d="M340.7 166.5h0M374.2 227.9h0M292.4 165.6h0M201.7 213.2h0M343 205.2h0M322.6 210.3h0M292.8 163.7h0M305.2 196.8h0M382.7 186.4h0M261.3 183.7h0M441.8 183.7h0M382.5 199.8h0M196.1 101.3h0M355.9 228.5h0M412.2 187.6h0M289.8 180.6h0M353.4 228h0M312.7 159.3h0M414.7 214.1h0M326.7 168.7h0M413.6 199.1h0M372 214.6h0M418.7 187.8h0M437.6 184.8h0M379.7 199.7h0M424.2 218.3h0M403.3 190.9h0M450.5 194.2h0M354.1 195.8h0M344.2 212h0M387.7 203.4h0M398.8 201.7h0M271.5 191.8h0M415.7 215.4h0M356.8 235.1h0M352.7 230.1h0M374 204h0M433.5 191.5h0M293.2 164.5h0M395.5 187.5h0M447.9 194.3h0M136.6 94.9h0M342.7 166.6h0M328.1 220.9h0M338.3 174.7h0M232.7 184.5h0M402 195.2h0M235 133h0M318.9 167.6h0M346.5 226.1h0M256.5 172.8h0M322.2 201.5h0M387.2 205.5h0M323.7 184.5h0M301.8 225.3h0M246.2 163.8h0M395.4 206.7h0M335.4 193.2h0M328.9 166.5h0M407.7 200.3h0M295.3 183.9h0M400.4 228.9h0M345.8 179.7h0M282.6 196.1h0M382.8 223.2h0M283.6 207.1h0M315.2 193.8h0M289.6 172.4h0M411.2 207h0M337.3 194.4h0M325.1 179.5h0M414.3 208.9h0M272.6 206.2h0M355.5 221.3h0M434 202.8h0M267.9 181.4h0M158.3 174.9h0M348.6 197.4h0M410.4 228.4h0M250.8 165.2h0M340.6 217.8h0M419.1 188.4h0M443 178.7h0M396.4 227.4h0M385.2 228.2h0M255.4 155.2h0M365.1 195.9h0M321.7 194.4h0M271.5 199.3h0M286.7 150.9h0M271.2 192.5h0M383.6 216h0M276.5 132.1h0M350.8 206.5h0M246.8 130.3h0M409.9 189.5h0M285.9 135.5h0M426.3 195.8h0M288.6 183.5h0M284.2 144.3h0M368.8 195.5h0M251 184.2h0M283.2 152.1h0M418.3 185.4h0M424.3 200.3h0M316 184.2h0M216.8 175.3h0M315.2 182.9h0M240.9 149.3h0M277 163h0M326.7 210.4h0M112.5 128.4h0M361.1 205.4h0M258.8 163.9h0M439.6 183.2h0M416 213h0M389.9 198.8h0M315.1 209.7h0M378.6 206.4h0M303.1 217h0M325.7 176.3h0M414.4 179.4h0M436.8 205.2h0M307.7 163.7h0M286.9 145.3h0M391.1 210.1h0M295 213.7h0M418 188.7h0M376.4 196.5h0M340.7 225.5h0M365.2 197.1h0M150.6 237.5h0M425.3 215.7h0M286 151.6h0M401.2 211.9h0M327.7 224.7h0M343.4 207.3h0M430.2 191h0M430.9 209.8h0M261.3 151.3h0M232.9 137.3h0M244 150.8h0M259.5 170.1h0M235.1 158.6h0M403.3 201.9h0"/>
<path stroke="#bebebe" d="M137 189.5h0M189.4 284.2h0M167.1 273.4h0M210.2 210.6h0M131 422.6h0M182.8 272.1h0M123.7 236.1h0M299.6 171.5h0M250.8 155.4h0M187.5 248.9h0M123 232h0M217.6 205.6h0M188.8 286h0M235.6 178.3h0M148.5 234.1h0M212.6 200.9h0M104.7 165.3h0M129.6 417.7h0M116.2 266.6h0M125.9 260.1h0M204.9 173.7h0M240.2 176.8h0M178.8 272h0M179.1 290.3h0M230.9 217.9h0M244.1 159.4h0M177 383.9h0M203.9 105.8h0M206.3 296.9h0M211.4 161.1h0M212.2 123.9h0M234.8 181.9h0M128.2 171.2h0M183.1 291.8h0M157.1 205.6h0M192.5 145.5h0M189.8 281.2h0M121 276.4h0M211.9 191.5h0M239.2 166.1h0M181.8 291.5h0M197 164.5h0M285.2 209.9h0M224 198.6h0M189.4 381.6h0M141.4 324.9h0M188 254.1h0M180.4 255h0M153.2 302.5h0M219.7 363.4h0M264.8 165.2h0M232.8 279h0M131.1 248.1h0M141.8 113.3h0M131.9 316.4h0M223.6 298.2h0M112.8 171.7h0M247.8 171.9h0M209 117.3h0M200.5 289.3h0M199.4 280.1h0M199.8 105.4h0M230 198.7h0M129.2 192h0M216.4 338.9h0M189.7 283.5h0M161.8 218h0M134.5 263.7h0M173.1 260.4h0M217.6 176.5h0M178.9 116.1h0M136.6 224.5h0M204.2 408.3h0M196.5 214h0M181.3 407.4h0M222.3 276.2h0"/>
<path stroke="#0000ff" d="M142.7 422.1h0M179.8 417.2h0M162.6 428.1h0M144.2 409h0M175.3 352.3h0M177.5 361.2h0M170.1 368.9h0M174.6 374.6h0M173.8 315.2h0M191.6 343.4h0M189.7 410.4h0M141.6 391.7h0M127.6 249.2h0M185.3 383.8h0M182.9 385.5h0M136.9 324.1h0M141.5 430.2h0M180.4 360.3h0M204.9 350.7h0M188.8 408.4h0M166.3 413.4h0M176.9 417.7h0M174.4 414.2h0M223.8 228.9h0M236.6 314.2h0M164.6 430.1h0M159.3 436h0M153.7 399.7h0M219.8 236.3h0M208.8 266.6h0M189.4 410.9h0M160.2 398.7h0M182.8 410.3h0M149.6 306.6h0M176 304.6h0M201.6 385.6h0M195.7 381.6h0M167.7 378.7h0M160.9 404.5h0M152.6 425.8h0M201.3 339.6h0M187 397.7h0M229.7 282.9h0M167.3 436.6h0M165.3 435.8h0M190.1 425.9h0M237.2 292.4h0M154.3 422.7h0M145.6 305.8h0M166.3 415.2h0M186.3 394.6h0M136.8 401.8h0M153.9 266.9h0M199.3 277.1h0M161.4 434.8h0M176.5 382.2h0M201.6 396.1h0M157.4 382.3h0M183.1 407.1h0M179.1 391.6h0M196.2 380.1h0M140.4 429.8h0M147.7 420.7h0M160 422.5h0M167.4 339h0M118.4 284.9h0M171.2 333.8h0M138.9 407.1h0M184.1 343.4h0M169.2 418.9h0M161.1 417h0M198.6 397.9h0M125.5 319.5h0M133.6 407.5h0M134.8 307.2h0M161.9 397.5h0M163.2 411.7h0M163.2 383.1h0M196.3 386.6h0M146 340.2h0M164.8 402.7h0M158.9 329.6h0M176.2 262.2h0M172.5 377.1h0M167.2 377.5h0M170 364.3h0M155 363.9h0M149.4 402.8h0M152.4 375.5h0M150.5 376.9h0M160 385.7h0M170.7 380.7h0M154 393.9h0M165.5 410.9h0M183.1 337.6h0M156.9 294.3h0M143.5 234.8h0"/>
<path stroke="#000000" d="M208.4 351.5h0M133.5 262.5h0M212 320.4h0M234.5 310.7h0M203.6 309h0M207.3 363.2h0M189 320.1h0M237.1 313.1h0M223.1 305.3h0M205.5 329.7h0M207 160.4h0M229.9 343.3h0M199.1 317.7h0M207.8 320.3h0M213.9 303.9h0M223.7 328.6h0M182.5 303.3h0M186.1 252.5h0M161.9 255.3h0M150.7 267.7h0M182.1 381.9h0M221.7 306.5h0M178.9 377.3h0M238.9 272.9h0M208 340.7h0M209.9 378.6h0M235.2 263h0M210.8 309.5h0M216.5 354.3h0M226.1 328.1h0M214.2 351.5h0M215.1 312.3h0M168.8 213h0M215 334.7h0M204.5 334.7h0M170.1 389h0M182.2 275.2h0M230.1 295.1h0M231.3 176h0M219.5 356.3h0M150.5 385.4h0M211.4 369.6h0M176.3 315.6h0M213.9 337.8h0M231.6 270.2h0M180.8 316.9h0M184.3 333.8h0M210.3 319h0M243.2 224.8h0M233 285h0M212.9 331.6h0M211.6 319.7h0M180.8 332.5h0M184.8 323.6h0M164.5 176.5h0M179.7 327.4h0M204.5 371.4h0M194.2 320.9h0M152.8 430.9h0M239.1 309.7h0M219.1 368.9h0M226.4 326.7h0M176.4 290.9h0M182.4 256.3h0M222 341.7h0M233.1 323.7h0M202.3 357.6h0M149.5 277.5h0M154.9 247.2h0M190 297.5h0M223.4 343.9h0M157.8 369.6h0M214.2 335.7h0M168.4 388.7h0M196.4 308.6h0M156.6 264.8h0M233.4 327.1h0M236.6 320.9h0M141.5 377.6h0M210.6 351.1h0M175.6 268.8h0M210.4 307.3h0"/>
<path stroke="#a020f0" d="M155.4 229.1h0M118.9 201.8h0M200.9 221h0M161.9 183.9h0M232.4 176.5h0M197.7 130.5h0M208 211.1h0M206.3 220.6h0M198.8 251.1h0M205.9 194.2h0M137.1 202.2h0"/>
<path stroke="#00ff00" d="M156.1 201h0M220.5 195.4h0M107.9 187.4h0M218.4 231.1h0M223.8 151.4h0M197 275.2h0M193.5 269.8h0M207 267.7h0M197.6 287.4h0M211.6 201h0M238.4 190.9h0M211.9 227.8h0M227.7 292.6h0M171.4 288.6h0M148.9 196.3h0M225.6 304.7h0M236.6 206.7h0M202.8 124.8h0M210.1 209.2h0M237.3 222h0M128.1 162.7h0M210.2 154.6h0M175.2 247.6h0M119.9 201.4h0M223.1 149.8h0M110.1 176.2h0M199.3 176.7h0M200.1 166.2h0M238.3 273.4h0M226.2 140.5h0M218 171.5h0M144.9 230.7h0M219.5 181.6h0M116.6 173.9h0M225.4 226.7h0M116.5 178.5h0M163.6 225.5h0M231.5 292.7h0M229 152.5h0M129.4 191.7h0M140.4 137.9h0M150.8 185.9h0M206.7 140.3h0M350.9 203.9h0M128 236.2h0M204.9 138.5h0M117.8 199.3h0M220.6 199.3h0M228.8 184.8h0M207.2 293.2h0M229.2 286.9h0M209.9 182.7h0M205.2 273.4h0M196.8 287.7h0M185.9 286.1h0M217.5 308.6h0M223.1 165.9h0M232.3 295.7h0M120.4 220h0M231.2 285.5h0M219.8 179.2h0M115.9 156.9h0M129.2 176h0M219.8 291.9h0M210.3 178.7h0M119.2 171.8h0M131.1 158h0M202.1 272.3h0M209.1 279.8h0M136.3 269.5h0M116.5 175.5h0M227.3 136.6h0M176.2 217h0M209.2 216.8h0M214 172.2h0M167.5 217.2h0M112.4 184.3h0M136.1 167.9h0M227 285.3h0M140.3 180.9h0M110.7 165.2h0M230.3 270.3h0M190.5 248.2h0M214.6 213.9h0M232.4 263.5h0M230.7 201.2h0M202.6 275h0M145 205.4h0M232 296h0M111 195.7h0M237.7 164.5h0M226.1 168.9h0M208 155.2h0M122.3 192.6h0M191.5 285h0M231.8 203.6h0M210.9 212.1h0M131.2 184.2h0"/>
<path stroke="#ffff00" d="M329 205.9h0M331.8 218.5h0M311.2 220.5h0M323.1 220.6h0M307.3 217.5h0M315.7 219.8h0M306.5 217.1h0"/>
<path stroke="#ffa500" d="M232.3 170.9h0M239.5 223.2h0M257.3 229.8h0M140.5 208.2h0M244.8 230.4h0M195.9 202.2h0"/>
<path stroke="#bebebe" d="M182.8 98.2h0M156.1 194h0M120.9 169.8h0M269.4 125.4h0M230.1 302.2h0M180 290.8h0M219.6 300.4h0M139.8 250.4h0M152.6 120.4h0M297.9 137.7h0M201.5 151h0M209.8 269.9h0M208.7 230h0M202.5 303.7h0M229.2 169.8h0M184.6 361.3h0M220.3 356h0M154.2 113h0M146.2 134.3h0M187.8 373.1h0M142.3 380.8h0M171.9 80.7h0M183.8 288.8h0M181.7 287.2h0M129.4 179.4h0M226.5 267.1h0M164.1 425h0M180.4 281.1h0M208.8 355.3h0M181.2 276.5h0M233.6 131.9h0M145.8 144h0M175.2 269.1h0M182.6 289.3h0M238.2 287.8h0M167.8 281.9h0M183.3 279.5h0M188.4 283.7h0M182.2 287.4h0M175.3 273.4h0M180.1 274.9h0M191.3 279.9h0M175.6 286.1h0M216.7 372h0M226.7 332.6h0M179.6 273.9h0M179.6 280h0M168.5 282.7h0M136 149h0M245.4 163.3h0M180.9 274.8h0M181.3 291.2h0M171.3 283.5h0M184 148.5h0M169.3 283.5h0M174.7 283.7h0M172.3 281h0M197.7 149.3h0M195.1 148.2h0M190.9 138.6h0M178.9 277.6h0M187.7 279.8h0M179.8 280.4h0M172.2 277h0M178.4 275.9h0M176.8 271.1h0M178.9 274.6h0M179.9 287.9h0M173.9 282h0M191.2 282.9h0M176.1 282.8h0M182.9 279.4h0M171.2 279.4h0M184.1 270.7h0M179.7 288.8h0M182.5 273.9h0M178.4 284.7h0M256.4 294.3h0M313.3 291.9h0M271.2 305.3h0M252.8 260.8h0M274.2 242.4h0M237.1 251.9h0"/>
<path stroke="#0000ff" d="M184.8 357h0M192.6 402h0M170.6 404.8h0M148.8 389.1h0M128.5 187.7h0M191 386.2h0M165.9 434.9h0M190.4 381.9h0M152.5 343.4h0M171.8 438h0M152 316h0M164.7 379.7h0M194.3 367.6h0M148 393.6h0M152.9 392h0M188 363.3h0M190.2 402h0M170.3 333.4h0M171.9 386.5h0M207.9 295h0M152 313.6h0M153.7 402.3h0M145.3 426.2h0M230.1 275.7h0M162.3 364.6h0M172.2 406.3h0M170.6 403.7h0M176.2 420h0M137.6 340.4h0M142.7 334.5h0M141.2 107.1h0M150.4 371.8h0M153.1 367.4h0M195.2 352.5h0M163.2 372h0M154.1 418.3h0M190.8 365.4h0M194.5 420.6h0M174.2 412.6h0M162.1 420.2h0M135.2 418.4h0M157.4 370.9h0M189.6 402.9h0M167.8 391.8h0M155.7 398.4h0M151.1 374.1h0M159.9 394.4h0M174.7 352.9h0M193.2 417.5h0M158.9 412.6h0M174.3 398.4h0M144.7 408.7h0M169.6 380.3h0M149.5 379.2h0M162.2 412.1h0M188.9 355.8h0M172.5 435.3h0M155.3 382h0M134.7 425.8h0M168.2 400.8h0M171.1 425.3h0M196.7 387.6h0M197.2 356.2h0M141.5 416.5h0M155.4 412.8h0M195.6 415h0M191.1 401.9h0M193.4 412h0M172.2 427.6h0M143.2 409.8h0M189.4 420.7h0M173 396.4h0M192.1 394h0M164.8 411.7h0M190 334.3h0M151.3 368.4h0M178.9 383.6h0M191.9 394.6h0M152.8 379.8h0M199.5 368.8h0M187 422.8h0M194.5 371.7h0M195.5 398.8h0M157.4 392.7h0M185.2 426.6h0M133.2 419.2h0M154.3 421.5h0M175.6 418.8h0M162.1 442.2h0M196.8 397.1h0M179.6 400.5h0M171.7 426.4h0M146.9 415.4h0M189 405.7h0M154 400.1h0M177.4 423.1h0M166.5 427.9h0M183.4 405.8h0M161.5 376.2h0M150.4 410.7h0M178 382h0M150.4 397.5h0M147.6 434.9h0M151 386.5h0M154.4 432.4h0M171.8 379.8h0M207.5 375.5h0M275.6 288.1h0M270.3 311.2h0M379.4 227.6h0M407.5 217.8h0"/>
<path stroke="#ff0000" d="M199.5 120.7h0M108.6 176.8h0M155.6 95.6h0M217 299.7h0M205.1 225.2h0M177.1 127h0M175.7 91.9h0M139 126.5h0M206.5 229.9h0M174.8 100.9h0M143.1 132.9h0M141.7 122.2h0M158.8 98.8h0M195.8 196.4h0M226.9 262.3h0M230.1 175.7h0M204.6 244.7h0M175.9 137.4h0M157.4 141.4h0M196.9 224.1h0M174.4 144.7h0M207.2 90.3h0M168.7 165.5h0M174.6 101.1h0M138.3 122.1h0M176.3 99.9h0M165.3 168.2h0M175.8 95.5h0M125.6 141.3h0M216.1 101.5h0M156.1 119h0M195.2 131.7h0M188.6 108.3h0M153.3 147.7h0M213.9 299.6h0M191.8 129.8h0M142.6 94.9h0M171.4 103.1h0M173.5 143.7h0M226.3 121.5h0M163.5 112h0M160.2 114.1h0M149.9 96.2h0M119.8 137h0M135.8 125.2h0M196.3 115.1h0M226.5 167.7h0M193.3 115.3h0M224.1 160.1h0M138.3 120.9h0M131.7 142.2h0M139.9 144.4h0M201.5 147.3h0M166.3 166.1h0M175.7 155h0M153.3 165.8h0M145.9 115.2h0M206.7 150.4h0M178.5 100.1h0M215.4 224.5h0M150.6 125.9h0M161 167.8h0M162.9 96.2h0M188.9 156.6h0M189.4 102.8h0M207.9 124.7h0M158.5 164.8h0M140.5 107.4h0M164.5 107.7h0M168.4 163h0M343.8 218.9h0M201.6 138.5h0M130.5 122.6h0M188 81.1h0M164 153.8h0M167.3 110h0M192.4 368.2h0M183.7 122.1h0M166.9 102.5h0M180 97.1h0M186.8 103h0M165 98.9h0M236.2 173.5h0M180 126.7h0M127.4 146.3h0M149.8 159.4h0M146 138h0M210.9 274h0M214.5 290.5h0M155 153.8h0M147.4 118.8h0M174.6 113.8h0M209.5 293h0M170.5 105.3h0M126.4 122.4h0M145.8 108.7h0M138.8 112.4h0M168.9 102h0M160.7 159.7h0M145.8 105.1h0M120.1 128.8h0M161.8 111.6h0M237 271.6h0M131.1 108.2h0M133.2 123.9h0M344.7 217.8h0M227.1 265.9h0M155.1 134h0M153.4 154.5h0M159.5 103.5h0M159.6 121.1h0M128.1 148.9h0M126.9 147.7h0M132.5 113.6h0M139.7 101.9h0M148.1 129.5h0M153.5 122h0M165.4 161.2h0M142.1 104.2h0M150.9 158.3h0M174.5 143.4h0M163.9 123h0M225 262.9h0M149.1 106.7h0M203.9 219.4h0M133.1 142.4h0M172.4 160.9h0M154.6 120.3h0M171 121.2h0M137.6 128.8h0M145.2 164h0M149.5 138.6h0M203.5 368.8h0M158.1 113.8h0M148.6 148.5h0M174.7 131.6h0M174 166.5h0M160.4 145.2h0M196.8 223.6h0M137.1 149h0M222.3 262.5h0M211.4 234.1h0M351.3 218.5h0M143.6 125.9h0M139.9 122.9h0M163.4 163.9h0M205.3 228.1h0M172.7 166.7h0M154.9 142.1h0M140.5 157.9h0M145.6 161h0M166.7 115.7h0M176.7 110.5h0M137.7 154.4h0M132.8 114.8h0M165.8 163.2h0M204.3 219.8h0M171.9 111.6h0M172.4 152.2h0M176.8 156.3h0M141.7 130h0M171 107.2h0M212.5 224.2h0M127.3 136h0M176.3 118.9h0M167.3 122.1h0M159.8 145.7h0M177.2 141h0M171 112.1h0M118.2 141.8h0M154.1 126.7h0M152.3 100.9h0M133.5 122h0M128.5 106.7h0M132.8 107.7h0M141.4 155.7h0M124.2 123.4h0M156 132.4h0M207.9 230.9h0M209.3 218.9h0M201.6 233.4h0M223.8 269h0M196.3 233.3h0M224.5 268.3h0M340.1 221.2h0M334.7 221.6h0"/>
<path stroke="#00ff00" d="M190.9 269.6h0M189.8 294.9h0M116.7 195.1h0M117.4 212.1h0M220.5 150.2h0M164.4 221.3h0M131.1 193.5h0M189.9 278.2h0M216.6 166.3h0M127.7 171.4h0M225 142.9h0M143.4 286.9h0M230 233.3h0M201.7 292.3h0M188.1 112.2h0M209.5 214.5h0M200.2 265.8h0M216.2 250h0M225.9 193.5h0M197.7 285.3h0M238.4 290.6h0M120.2 186.7h0M222.8 271.3h0M235.3 274.7h0M207.9 146.6h0M239.9 178h0M211.4 98.7h0M229.6 223.1h0M126.1 194.2h0M227.6 195.7h0M227.2 151.7h0M108.8 186.4h0M121.1 168.7h0M228.6 147h0M224.2 290.5h0M227.4 280.7h0M194 295.8h0M205.8 216.6h0M217.1 262.9h0M194.4 302.1h0M126.9 183.5h0M132.2 194.3h0M235.3 162.6h0M182.3 84.7h0M121 172.5h0M233.5 171.9h0M123.2 178.1h0M152.2 160.5h0M161.6 162.1h0M224.6 193h0M126 190.7h0M202.7 281.5h0M230.3 287.7h0M225.5 203.2h0M133.2 174.3h0M128.6 172.9h0M227.5 304.5h0M199.6 265.1h0M228.1 217.3h0M191.6 112.2h0M224 202.8h0M211.5 213.5h0M223.6 359.1h0M238.1 269.9h0M199.4 292h0M212.2 375.2h0M203.3 380h0M230.5 266.9h0M205.6 299.7h0M235.4 275.5h0M226.4 289.3h0M148.3 102.3h0M302.3 235.6h0M308.2 241.6h0"/>
<path stroke="#000000" d="M192.2 311.8h0M183.9 331.9h0M117.3 274.9h0M202.1 323.3h0M206 339.5h0M200.2 186.4h0M238.5 313.2h0M204.4 350.2h0M186.8 309.7h0M217.6 369h0M202.2 343h0M185.4 317.4h0M151.4 375.8h0M214 377.8h0M227 329h0M239.5 321.3h0M202.9 352.1h0M232.5 301h0M214.5 355.8h0M244.3 307.8h0M193 311.2h0M210.9 375.5h0M230.8 292.7h0M228.4 318.6h0M229.3 325.3h0M182.4 330.5h0M228 332.6h0M198.5 315.4h0M176.1 326h0M190.3 310.9h0M164.6 388.4h0M231.9 324.5h0M212.6 344h0M222.4 340.4h0M204.5 320.5h0M234.4 303.8h0M216 366.5h0M206 326.4h0M228.8 338.7h0M217.5 368.3h0M191.1 328.1h0M215.2 303.4h0M163.1 389.2h0M161.3 412h0M197.4 330.5h0M186.5 319.7h0M236.5 305.2h0M218.1 368.8h0M220 354.5h0M174.5 319.5h0M207.9 345.2h0M210.7 374.9h0M193.9 329.5h0M215.2 362.3h0M182.2 332.6h0M183.8 312.4h0M227.4 302.3h0M242.9 302.2h0M210.5 325.4h0M179.3 321.7h0M211.4 310h0M151.6 376h0M206.1 351.3h0M202.1 336h0M215.7 331.6h0M230 289.9h0M232.4 321.5h0M197.4 312.5h0M208.2 373.3h0M208 311.7h0M202 332.9h0M210.3 335h0M227.3 302.1h0M210.6 315.7h0M213.1 350.4h0M182.4 328.8h0M228.5 343.4h0M232.5 317.5h0M205.7 310.1h0M202.3 371.8h0M220.8 350.9h0M203.8 356.6h0M228.3 312h0M180.9 305.3h0M192.2 309.9h0M205.7 308.3h0M203.5 372.5h0M228.1 313h0M195.3 315h0M228.2 321.9h0M226 337h0M206.6 338.7h0M212.9 357.8h0M201.2 308.2h0M215.3 321.3h0M235.8 322.7h0M226.5 342.7h0M210.3 359.4h0M177.7 330.1h0M215.2 338.9h0M204.2 326.2h0M197.5 326h0M220.5 370.9h0M190.2 325.7h0M199.9 314.6h0M221 302.7h0M199.1 328.2h0M215.6 332.6h0M213.1 366.1h0M214.1 316.5h0M217.6 301.3h0M233.8 315.2h0M199.3 314.3h0M187.7 314.6h0M179.6 382h0M260.8 285.1h0M273.3 263.2h0M283.6 268.8h0M293.4 278.6h0M299.3 280.1h0M302.3 281.6h0M302.3 267.3h0M317.1 264.7h0M322.2 258.4h0M317.1 277.7h0M339.4 239.5h0M360.1 237.7h0M412.9 209.8h0M106.1 363.1h0M110.3 365.1h0M129.5 295.8h0M109.7 192.6h0M265.3 148.2h0"/>
<path stroke="#00ffff" d="M263.9 182.2h0M304.4 206.1h0M335.2 219h0M290.7 178.3h0M384.9 215.6h0M391.8 224.4h0M436.2 196.4h0M341 156.9h0M405.5 207.7h0M257.2 172.4h0M368.4 207.3h0M323.8 208.4h0M398 213.7h0M320.4 164.9h0M251.1 128.2h0M394.6 222.5h0M349.6 224.7h0M242.2 197.5h0M398.7 210.9h0M278.2 188.4h0M382.7 216.4h0M314 159.8h0M341.1 220.8h0M412.3 203.4h0M318 173h0M371.5 224.2h0M401.6 217.3h0M236.9 172.3h0M320.8 206.5h0M203.2 136.4h0M332.7 217.6h0M198.3 141.1h0M210.7 143.7h0M222.5 155.2h0M245.4 180.7h0M178.2 92.7h0M205.3 104.2h0M228.1 140.5h0M247.1 162.5h0M240.9 193.3h0M235.5 135.3h0M247 156h0M244.6 202.2h0M225.6 176.7h0M239.3 195.2h0M244.7 200.3h0M235.5 158.8h0M247.1 163.9h0M289 292.8h0M297.9 270.6h0M250.4 299.3h0M245.1 317.1h0M263.8 245.4h0M326 254.9h0M333.4 254.3h0M449 161.5h0M443.1 167.5h0M369 236.5h0M329 231.2h0"/>
<path stroke="#a020f0" d="M206.1 198.7h0M226.8 185.8h0M154.1 194.9h0M313.6 254.9h0M251.3 134.9h0M307.4 173.4h0"/>
<path stroke="#ffff00" d="M326.9 214h0M307.6 209.3h0M313.7 218.9h0M305.8 216.6h0M310.4 223.3h0M306.3 219.9h0M316.6 218.9h0M321.2 209.4h0M326.5 205.1h0M336.4 213.2h0M303 215.3h0M294.8 220.5h0M324.6 207.9h0M328.4 206.4h0M335.1 214.7h0M317.8 222.7h0M319.5 217.8h0M330.8 212.4h0M307.6 220.6h0M322.3 209.4h0M319 210.2h0M295.6 220h0M320.2 215.3h0M331.2 217h0M269.1 252.5h0M265.9 260.2h0M250.4 264.4h0M281.6 236.5h0"/>
<path stroke="#ffa500" d="M342.5 220.9h0"/>
</g>
<g transform="translate(1447 1480)" fill="none" stroke-linecap="round" stroke-width="5.9">
<path stroke="#0000ff" d="M446.1 210h0M211.5 334.7h0M246 358.3h0M165.3 310.2h0M198.9 381.8h0M328.9 187.6h0M244.5 347h0M211 305.7h0M452 204.5h0M237.1 355.3h0M192 241.7h0M200.2 375.8h0M175.3 399.7h0M176.3 264.6h0M218 282.7h0M175.9 409.4h0M213.1 389.1h0M216.9 381.4h0M233.2 357.4h0M234.2 343.1h0M367.1 190.2h0M198.7 332.4h0M196.8 407.3h0M216 430.9h0M143 202h0M199.2 423.7h0M228.9 334.6h0M217.8 359.8h0M239 376.2h0M222.2 240.7h0M206.3 385h0M213.6 394.9h0M213.7 435.9h0M217.6 414.6h0M472.8 186.7h0M444.9 212.5h0M201 315.5h0M196.9 417.8h0M196.4 398.7h0M230.1 402.2h0M180.3 381.9h0M189.9 425.4h0M227.8 276.1h0M152.9 203.6h0M187.7 421.2h0M471.2 183.6h0M250.8 329.6h0M210.8 340.2h0M222.2 337.4h0M245.2 362.8h0M234.2 277.7h0M252.8 277.4h0M211.2 427h0M189.8 402.8h0M196.1 430h0M456.9 184.8h0M242.3 363.2h0M340.5 158.2h0M193.2 377.7h0M184.4 379.2h0M331.2 192.6h0M172.9 393.9h0M194.9 323.2h0M174.2 417.3h0M177 397.2h0M234.4 263.7h0M230.9 404.8h0M201.9 427.6h0M196.2 420.7h0M246.8 325.7h0M221.4 353.1h0M459.3 185.1h0M195.9 389.6h0M228.6 419.4h0M275.4 180.3h0M188.6 360h0M193.6 227h0M195 376.5h0M249.5 372.3h0M475.5 177.6h0M308.4 183.6h0M181.7 428.1h0M162.4 290.7h0M448.1 191.5h0M257.5 273.7h0M206.3 331.6h0M255.4 337.2h0M207.7 408.1h0M348 197.8h0M203.7 288.7h0M226.8 351.2h0M216.9 411.5h0M228.5 326.7h0M358.8 186.9h0M200.9 419.8h0M165.1 256.4h0M176 315.3h0M183.2 288.3h0M435.7 202.6h0M192.2 342.8h0M216.4 387.2h0M261.4 268h0M468.8 185.6h0M320.8 175h0M204.6 424.7h0M184.4 232.6h0M407 224.4h0M244.9 263.5h0M214.3 339h0M222.3 416.6h0M203.8 394.2h0M178.4 318.3h0M167.7 227.9h0M251 381.3h0M191.2 375.8h0M209.8 404.2h0M206.1 395.3h0M193 417.3h0M191.7 418h0M232.8 393.2h0M448.7 217.3h0M199.2 413.4h0M369.5 194.9h0M468.3 199.5h0M206.5 271.1h0M187.1 356.4h0M207 374.8h0M222.7 394.5h0M449.3 196.2h0M184.8 408.4h0M205.1 385.2h0M238.8 387.5h0M424.6 214.8h0M427.5 217.6h0M219 372.7h0M208.9 278.9h0M208.4 396.7h0M248.2 364.9h0M193.6 369.9h0M209.2 379.5h0M203 276h0M355 168h0M445.6 213h0M439.2 220.9h0M205.3 243.9h0M258.1 286.6h0M211.9 330.4h0M192.4 437h0M228.2 390.7h0M225.7 387.7h0M178.6 272.4h0M196.8 414.4h0M228.3 386.3h0M475.5 194.2h0M243.8 242.8h0M218.9 378.9h0M223.2 380.7h0M220.3 427.5h0M205.6 306h0M248.1 296.5h0M149.9 240.5h0M187 353.9h0M156.3 251.3h0M244.8 294.6h0M259.5 288.5h0M244.1 283.9h0M213.8 371.7h0M460.9 179.8h0M208.5 328.2h0M250.1 273h0M174.9 260.3h0M479.7 184.6h0M370.2 221.3h0M215.3 235.5h0M242.7 328.4h0M246.8 363.7h0M208.8 344.9h0M217.5 273.8h0M352.1 202.7h0M216.6 375.1h0M204.2 370h0M214.5 259.4h0M232 416.7h0M240.4 349.9h0M237.2 382h0M221 335.6h0M228.4 331.2h0M281.2 165.3h0M228.9 344.9h0M239.5 333.2h0M198.5 377.4h0M266.1 325.2h0M229.4 332.1h0M218.9 338.4h0M239.4 328.4h0M242.4 240.1h0M232 400.1h0M181.9 246.6h0M234.1 355h0M349.3 166.7h0M368.8 197.7h0M182.1 225.4h0M166 417.1h0M224.2 387.3h0M203.1 245.1h0M438.3 193.8h0M222.5 342.8h0M210.7 422h0M195.2 355.4h0M258.1 297.3h0M165 256.2h0M226.7 367.6h0M213 399.7h0M400.2 192.5h0M228.6 399.8h0M247.8 300.3h0M180 407.4h0M220.5 359.1h0M201 378.8h0M232.5 349.3h0M213.6 278.6h0M156.2 247.7h0M441.5 207.6h0M262.9 327.4h0M261.3 325.4h0M213.5 272.1h0M189 414.2h0M186.2 334.5h0M206.6 317.7h0M202.4 379.4h0M446 210.1h0M442 198.6h0M232.9 331.2h0M162.4 243.1h0M375.6 225h0M176.6 411.7h0M432.4 209.9h0M226.1 332.8h0M239.3 250.3h0M218.2 347.9h0M179.4 370.3h0M255.4 359.7h0M217.1 416.4h0M261.8 300.4h0M467.6 200.4h0M227 378.6h0M257.8 317.3h0M165.2 416.1h0M201.9 338.3h0M192.9 318.9h0M182.6 327.3h0M236 353.6h0M379.2 219.7h0M360.9 194.3h0M172.5 244h0M197.7 376.3h0M198.5 305.3h0M439.6 213.9h0M165.2 261.3h0M179.1 423.7h0M179.1 382h0M261.5 319h0M229.1 284.8h0M221.6 345.3h0M194.7 278.1h0M238.2 323.3h0M185.6 270.2h0M189.5 437.8h0M188.2 380.2h0M270.3 316.4h0M480.9 191.2h0M200.6 236.2h0M224.4 306.9h0M178.1 229.1h0M226 235.9h0M225.9 240.8h0M212.2 385.2h0M216.5 342.8h0M156.4 171.7h0M472.6 201.1h0M169.8 173.1h0M431.2 203.1h0M194.7 197h0M204.9 362.3h0M214.5 197.1h0M186.8 196.8h0M193.6 383.5h0M250 277.3h0M189.6 433.9h0M238.3 256.2h0M202.7 196h0M191.3 293.2h0M184.9 394.5h0M144.4 161.4h0M434.4 218.3h0M157.4 191.4h0M230.6 340.9h0M451.4 187.6h0M230.6 300h0M382.1 188.7h0M199.5 371h0M209.4 311.8h0M192.6 382h0M226.5 299.6h0M169.4 133.3h0M196.7 413.5h0M180.2 399.8h0M383.2 183.1h0M235.2 381h0M224.2 358.7h0M261.5 318.3h0M190.8 223h0M271.9 301.8h0M224.8 337.3h0M189.8 412.1h0M245.6 290.7h0M182.6 308.9h0M224.4 424.1h0M207.2 326.3h0M189.2 249.2h0M145.4 161.6h0M419.4 184.9h0M226.7 286.5h0M210.1 250.7h0M454.3 187.1h0M234.7 351.8h0M257.8 362.7h0M222.4 312.1h0M231.7 311.1h0M189.4 200.5h0M468.7 185.9h0M168.3 145.7h0M212.2 431.2h0M386.2 209.6h0M235.3 396.9h0M232.1 392.8h0M214.6 405.4h0M228.3 368.4h0M419 197.4h0M175.7 192.4h0M231.4 297.9h0M205.1 211.9h0M202.8 415.3h0M177.1 185.7h0M171.1 182.6h0M258.9 308.3h0M198.2 349.6h0M422.7 206.5h0M246.6 333.9h0M444.8 195.2h0M196.7 229.8h0M146.7 170.5h0M198.3 374.2h0M211.6 349.3h0M248.2 351.8h0M247.5 306.5h0M301.9 197.3h0M212.7 362.2h0M235.7 277.7h0M219.6 395.2h0M219.8 367h0M188.2 384.3h0M247.1 296.8h0M198.9 174.8h0M168.8 231.5h0M172.8 391.8h0M230 346.8h0M227.7 334.6h0M156.4 266.5h0M188.5 387h0M180.9 201.5h0M180.2 424.2h0M203.7 381.3h0M186.5 147.2h0M205.3 313.5h0M263.6 291.6h0M242.1 367.9h0M246.2 325h0M194.9 399.3h0M208.3 235h0M210 398.3h0M362.9 202.2h0M175.2 206.7h0M208.9 233.9h0M229.6 418.4h0M209.9 406.5h0M262 286.9h0M221.7 345.6h0M370.7 185.6h0M197.4 372.7h0M193.2 189.9h0M148.5 158.3h0M437 211.9h0M364.4 187.4h0M224.8 291.5h0M247.8 365.9h0M195 183.3h0M181.5 394.3h0M162.7 276.4h0M205.5 349.8h0M227.1 410.1h0M245.9 346.3h0M190.8 179.2h0M165.3 189h0M224.7 282.4h0M184.3 374.5h0M228 336.2h0M242.7 332.8h0M213.9 368.3h0M412.6 200.8h0M155.2 193.1h0M335.8 198.5h0M457.8 197.8h0M244.1 328.1h0M208.7 428.6h0M217.9 419h0M173 208.8h0M222.8 341.1h0M190.6 391.6h0M167.2 173.1h0M194.5 166.3h0M146.3 159.7h0M150.6 223.1h0M436.3 208.7h0M366.2 190.9h0M193.9 215.4h0M443.3 204.5h0M226.5 406.1h0M209.6 338.9h0M148.9 189.8h0M409.5 211.4h0M167.1 177.1h0M397.4 221.8h0M466.6 206h0M189.3 188h0M256.2 310.4h0M208.1 356.2h0M171.2 213.2h0M222.9 346h0M438.8 191.2h0M162.5 171h0M194.7 388h0M414.5 204.9h0M241.5 342.8h0M213.5 213.9h0M445.8 198.7h0M204.5 356.6h0M254.5 297.6h0M148.7 166.8h0M264.4 287.6h0M249.6 301.5h0M227.3 298.7h0M349.6 200h0M237.8 381h0"/>
<path stroke="#ff0000" d="M385.7 205.2h0M209.7 255.5h0M256.1 256.3h0M334.8 178.5h0M380.3 197.2h0M465.8 201.8h0M205.3 256h0M269.8 154.6h0M438.8 213.3h0M364 221.2h0M240.3 254.5h0M211.7 253.3h0M178.1 284.4h0M155.2 277.7h0M386.9 218.5h0M410.6 211.7h0M404.2 204.7h0M368.8 227.4h0M207.5 265.5h0M412.2 225.4h0M385.4 210.8h0M247.5 241.8h0M399.4 221.6h0M369.9 231.9h0M180.5 286.9h0M226 237.6h0M463.7 199.1h0M182.9 230.3h0M280.4 194.7h0M269.8 140.2h0M368.1 187h0M291.5 154.8h0M312 166.1h0M218.6 188.3h0M310 190.4h0M254 199.8h0M256.1 183.1h0M246.3 264.8h0M396.9 222.9h0M278.1 176.3h0M209.8 163h0M247.4 115.4h0M264.9 218.1h0M219 191.2h0M246.3 154.1h0M250 174.9h0M205.9 131.3h0M207.2 104.4h0M469.1 193.2h0M229.9 107.2h0M281.1 189.6h0M249.8 235.3h0M265.6 170.7h0M239.9 97.8h0M200.7 146.8h0M268.9 215h0M238.3 197.5h0M190.6 111.6h0M329.6 157.4h0M267.8 181.7h0M212.5 114.6h0M267.2 182.4h0M251.8 213.3h0M239.1 153.2h0M209.5 115.6h0M186.5 107.1h0M247.1 126.4h0M252.7 123.2h0M242.2 206h0M338 203.1h0M394.3 224.3h0M244 111.6h0M213.6 144.4h0M222.2 99.9h0M234.6 153.2h0M205.9 113.3h0M234.7 170.5h0M219.4 92.9h0M257.4 183.1h0M235 175.3h0M306.9 171.8h0M224.8 130.2h0M255.8 151.5h0M243.3 218.8h0M204.4 160h0M258.6 207.9h0M182.2 135.1h0M247.9 107.5h0M400 191.9h0M232.8 122.3h0M413.1 227.7h0M194.7 141.8h0M246.6 124.6h0M251 130.4h0M250.8 181.5h0M254.2 127.7h0M240.5 182.1h0M193.6 119.5h0M399.5 218.8h0M217.8 186.4h0M224.6 161.2h0M228.3 219.8h0M254.7 233.9h0M234.7 130.1h0M233.5 194.6h0M261.7 208.6h0M220.1 199.9h0M221.3 174.3h0M230.3 179.6h0M407.4 196.6h0M247.3 117h0M243 125.9h0M220.4 87.3h0M185.9 241.5h0M198.2 136.8h0M257.7 182.6h0M238.1 225.5h0M208.8 171.5h0M257.3 267.2h0M248.9 278.8h0M236.8 114.3h0M390 212.2h0M236.4 193.1h0M217.5 183.3h0M261 155.3h0M240.8 178.8h0M201.8 161.1h0M196.6 163.1h0M231.4 268.4h0M264.7 217.1h0M243.9 144.9h0M165.6 300.6h0M253.8 152h0M213 90.2h0M234.4 143.5h0M247.5 173h0M254.7 263.9h0M237.7 99.9h0M189.8 103h0M220.4 93h0M236.3 145.5h0M200.4 125.6h0M393.5 200.7h0M252.5 205.7h0M295.6 182.5h0M249.1 129.2h0M403.8 211h0M199.1 251.5h0M258.8 234.2h0M267.4 216.6h0M200.8 221.5h0M230.6 156.5h0M240.2 124.2h0M192.4 122.2h0M205.1 119.7h0M202.3 167.4h0M245.5 211.6h0M215.4 159.9h0M241.2 238.5h0M250.3 172h0M187.5 116.9h0M179.8 109.2h0M202.2 135.2h0M471.1 197.5h0M218.9 132h0M220.5 124.6h0M172.4 174.8h0M242.6 126.7h0M210.3 103.9h0M211 125.1h0M226.5 276.1h0M261 195.6h0M231.3 274.6h0M242.6 147.7h0M403.7 223.3h0M312.2 159.9h0M211.6 172.1h0M223.9 236.6h0M246.3 122h0M221.1 113.5h0M223.4 192.7h0M235.2 279.4h0M240.9 227h0M224 206.4h0M243.2 243.4h0M248.8 174.5h0M225.9 180.1h0M253.2 135.6h0M174.9 114.4h0M213 85.5h0M372.2 177.5h0M179 110.2h0M216 103h0M215.3 141.3h0M260.2 146.1h0M344.1 193.7h0M221.4 186.7h0M211.9 91.1h0M409.7 222.9h0M213.2 155.5h0M262.9 230.8h0M212.9 138.1h0M191.9 145h0M296.9 140.2h0M292.8 186.6h0M243.2 151h0M182 147.7h0M188.1 168h0M255.6 161.9h0M225.4 143.2h0M216.6 81.2h0M246.6 169.8h0M190.2 93.4h0M252.7 231.9h0M169.4 158h0M252.8 182.6h0M243.2 169.8h0M213.3 114.6h0M382.3 221.3h0M255.9 196h0M235.5 158.8h0M191.8 109.2h0M230.5 271.4h0"/>
<path stroke="#0000ff" d="M251.9 355.5h0M299.9 141.1h0M152.1 197.6h0M173.6 180.3h0M146.3 170.7h0M221.3 241.2h0M226.2 230.5h0M176.1 136.9h0M242.1 282.9h0M242.3 343.5h0M208.6 287.9h0M185 361.6h0M212.6 199.4h0M236.1 324.3h0M169.5 204.6h0M151.8 195.8h0M151.4 192.1h0M240.3 300.2h0M222.6 210.5h0M162.1 200.7h0M262.2 302.6h0M231.8 301.4h0M153.2 161h0M181.3 258.2h0M267.3 319.4h0M205.6 401.5h0M189 416h0M157.9 191.9h0M171.8 236.2h0M199.2 226.6h0M252.1 327.2h0M227.2 319.2h0M228.2 329.5h0M171 256.7h0M176.8 270.1h0M308.2 175.9h0M226 342.7h0M222.4 265.9h0M189.1 335.3h0M192 376.2h0M186.2 155.6h0M175.4 204.9h0M171.1 136.7h0M194.8 429.5h0M222.3 420.7h0M236.8 350.3h0M210.8 219.7h0M169.2 151.1h0M182.5 236.4h0M226.7 290.8h0M260.3 318.7h0M222.7 380.5h0M202.9 361.2h0M259.1 301.6h0M265.1 290.4h0M180.7 186.2h0M192.9 397.5h0M174.8 212.1h0M245.5 308h0M223.3 421.9h0M200.9 207.8h0M141.6 154.2h0M443.6 191.5h0M156.8 119.9h0M154.7 134.7h0M232.8 339.4h0M245.6 355.3h0M228.8 302.5h0M159.6 186.3h0M139.7 215.1h0M178.2 416.6h0M182.7 386.2h0M195.7 178.9h0M441.2 200.9h0M175.6 395.7h0M232 369.8h0M189.7 293.4h0M258.1 333h0M205.1 371.1h0M189.1 388.8h0M244.5 363.6h0M149.5 137.1h0M226.3 286.6h0M164.7 123.3h0M235.3 304.6h0M237.5 249.1h0M183.5 394.2h0M183.9 204.1h0M185.1 269h0M236.3 311.2h0M231.9 323.1h0M149.3 184.6h0M182.6 435.3h0M225.8 303.1h0M240.2 300.9h0M166.3 184.7h0M255.3 262.6h0M180.2 362.9h0M153.1 172.9h0M214.7 418.1h0M200.6 206.8h0M353.5 206.2h0M152 193.4h0M201.6 326.1h0M191.4 289.6h0M175.5 185.1h0M181.3 432.8h0M193.8 164.1h0M159.3 256.1h0M214.2 356.1h0M242.8 352.2h0M216.2 235h0M218.2 391.8h0M431.4 198.7h0M213 339.8h0M215.9 319.4h0M223.3 371.1h0M237 349.1h0M191.4 400.5h0M247.9 314.5h0M165.7 192.4h0M213.3 416.5h0M190.6 305.5h0M189.8 433.3h0M265.1 305.9h0M207.9 245.2h0M185.3 402.5h0M188.8 154.9h0M262.2 307.5h0M173.5 423h0M193.1 338.9h0M143.6 136.8h0M231.1 403.7h0M241.6 347.1h0M161.6 134.2h0M248.2 343.7h0M196.7 294.9h0M231.3 319.6h0M258.7 299.4h0M216.7 429.5h0M191.5 165.9h0M206.7 225.1h0M182.5 331.9h0M223.7 381.7h0M232.8 381.5h0M194.1 218.5h0M235.3 375.5h0M208.1 395.6h0M189.6 287.5h0M355.4 195.4h0M158.5 180.1h0M374.7 213.3h0M216.1 298.8h0M450.4 211.9h0M443.2 200.9h0M238.5 330.4h0M142.5 215.4h0M182.4 275.5h0M205.7 358.8h0M224 241.1h0M189.1 439.9h0M244.5 339h0M405.6 215.1h0M237.3 371.2h0M199.5 370.2h0M224.2 294.3h0M241.3 343.1h0M191.1 216.4h0M148.2 234.2h0M242.7 258.7h0M184.4 234.1h0M229.6 384.5h0M198.2 342.1h0M242 362.1h0M141 148.6h0M244.1 318.4h0M170.9 177.4h0M216 407h0M210 235.7h0M217.7 336.2h0M184.5 168.4h0M455.8 189.3h0M189 186.4h0M363.7 164.7h0M156.6 193.3h0M240.6 344.1h0M235.4 362.3h0M196.2 406h0M224.9 225.4h0M241.4 355h0M179.8 189.7h0M207.6 303.3h0M194.9 293h0M180 343.4h0M263.6 288.4h0M178.2 386.5h0M391.9 205.9h0M333.6 188.2h0M167.1 126h0M194.5 389.3h0M248.4 350.2h0M215.6 341.4h0M219.4 209h0M480.8 184.6h0M176.7 168h0M344.8 194.7h0M189.3 178.3h0M222.5 287.8h0M237.7 305.3h0M169.3 299.8h0M203.9 170.7h0M339.2 195.8h0M244.4 377.6h0M222 313.1h0M180 220.6h0M164 129.9h0M165.4 179.7h0M205.3 363.2h0M179.5 395.2h0M212.8 208.8h0M196.3 249.3h0M204.5 179.5h0M223.6 320.1h0M203.5 361.4h0M174.2 267.8h0M255.3 345.5h0M159.9 121.2h0M244.6 275.7h0M199 402.4h0M164.6 124.9h0M208.7 215.7h0M161.4 218.4h0M152.1 180.5h0M200.8 269.5h0M343.8 160.3h0M262.3 327.9h0M191.3 388.5h0M239.7 346.8h0M211.2 376.8h0M187.3 148.9h0M172.8 184.1h0M204.4 188.3h0M210.4 356h0M177.4 150.9h0M225.6 397.3h0M159.3 273.6h0M357.7 187.3h0M211.4 382.7h0M220.9 377.2h0M349.8 159.1h0M178.2 178.3h0M226.1 355.5h0M249.1 289.6h0M160.8 305.3h0M235.6 408.7h0M232.4 370.1h0M207.4 414.3h0M476.2 179.9h0M187 163.1h0M417.4 211.7h0M231.3 361h0M161.7 264.5h0M235.1 381.9h0M203.3 279.2h0M234.9 348.4h0M173.6 415.8h0M221.5 338.7h0M458.2 197.1h0M422 198.6h0M268 315.9h0M216.6 225.4h0M216.1 342h0M189 374.3h0M222.3 264.3h0M179.3 368.2h0M182 156.4h0M397.5 192.3h0M235.1 355.2h0M224.6 213.2h0M241 291.1h0M239.9 284.5h0M366.7 224.1h0M223.3 369.4h0M256.3 321.4h0M196.7 260.7h0M190.4 374.9h0M260.2 316.1h0M218.2 360.6h0M436.9 219.8h0M175 156.1h0M219.9 400.5h0M333.7 193.9h0M416.6 224h0M171 123.2h0M441.7 219.1h0M192.4 352.5h0M223.7 373.3h0M194.4 178.9h0M183.2 438.1h0M196.8 167.3h0M226.2 237.7h0M242.7 344h0M248.2 378.1h0M358.3 198.7h0M187.6 383.1h0M201.8 359h0M172.3 161.6h0M172.1 201.9h0M236.3 337h0M163.3 195.9h0M228.9 384.4h0M175.4 294.6h0M218.9 417.3h0M233.2 283.6h0M149.6 184.9h0M254.7 284.7h0M453.6 198.3h0M468.4 200.9h0M171.4 258.2h0M200.5 233.6h0M138.2 135.7h0M191.2 201.4h0M218.4 368.9h0M176.7 429.5h0M205.6 322.1h0M455.6 199.2h0M227.1 316.9h0M213.7 234.2h0M158.9 264.1h0M190.8 420.1h0M205.1 378.4h0M228.6 255.8h0M204.9 382.3h0M169.3 168.8h0M217.5 340h0M186.6 421.4h0M222.7 378.7h0M189 384h0M228.8 341.2h0M233.6 286.3h0M191 433.5h0M260.4 321.2h0M175.8 261.9h0M239.6 314h0M174.7 121.6h0M228.1 369.2h0M248.5 367.9h0M264 302h0M161.3 296.1h0M230.1 371.8h0M214.3 384.5h0M222.8 346.3h0M192.2 423.4h0M189 164.5h0M206.7 381.6h0M233.3 347.6h0M221.8 285h0M212.2 216.6h0M213.5 226.3h0M257 264.7h0M232 289.7h0M182.3 394.2h0M194.6 435.4h0M157.4 251.3h0M256.5 334.9h0M195.9 405.4h0M151.3 270.8h0M395.9 214.5h0M228.3 353.5h0M161.5 266h0M176.5 423.8h0M209.4 423.8h0M185.7 205.4h0M428.1 217h0M162.3 280.9h0M150.9 184.8h0M337.8 186.7h0M206.1 193h0M216.9 385.4h0M192.4 173.2h0M196 168h0M168.5 177.7h0M221.6 313.2h0M218.8 361.2h0M207.5 323.4h0M224.4 332.7h0M198.7 233.8h0M188.2 376.5h0M212.7 337.2h0M169.7 422.5h0M445.8 212.2h0M212.2 376.1h0M212.9 336.9h0M178.6 417.6h0M163.2 247.3h0M244.3 374.6h0M177.9 215.1h0M262.7 303.6h0M238.9 285.5h0M163.1 147.1h0M209.5 314.2h0M246.7 348.9h0M155.4 151.8h0M149.9 130.4h0M174.2 210.8h0M194.1 431.8h0M162.1 220h0M231.2 242.3h0M230.9 318.9h0M183.6 403.9h0M178.5 188.2h0M227 346.5h0M216.9 382.3h0M196.6 214.4h0M246.2 300.3h0M159.1 185.6h0M152 139.9h0M232.7 305.2h0M382.4 207.4h0M230.7 297.9h0M267.9 301.3h0M180.9 148.1h0M163.4 251.1h0M166.8 134.1h0M209.5 361.6h0M235 333.4h0M394.9 216.6h0M191.5 212.1h0M228.1 373.6h0M208.7 412.5h0M143.2 210h0M219.4 312.9h0M229.2 317.4h0M159.3 149.9h0M439.5 201.5h0M178.7 163.7h0M173.3 393.8h0M187.9 219.3h0M455.2 195h0M158.8 209.6h0M242.5 329.2h0M178.7 416.4h0M256.3 287.6h0M163.8 139.3h0"/>
<path stroke="#ff0000" d="M249.4 277.5h0M183 236.6h0M269.3 202.2h0M252.6 190.9h0M364.7 204.6h0M230.9 250.2h0M191.1 130.5h0M417.9 212.2h0M187.2 94.6h0M260.3 144.7h0M217.3 118.1h0M249 243.4h0M230.3 174.3h0M191.6 148.8h0M236.9 128.7h0M247.8 216.7h0M221.2 175h0M189.1 123.1h0M220.7 132.4h0M194.6 309.3h0M212.1 109.9h0M211.2 133.5h0M201.1 172.4h0M224.6 160.7h0M399.5 212.4h0M171.1 128.6h0M231.8 165.5h0M227.1 122.6h0M269.6 146h0M246.4 213.3h0M193.6 134.4h0M248.2 237.5h0M238.2 285.3h0M244.2 152h0M216.1 91.5h0M199.1 119.4h0M252 230.4h0M228.4 91.6h0M233.7 104.7h0M196.2 116.2h0M248.4 115.2h0M401.1 225.2h0M221.1 197.2h0M414.1 189.5h0M318.3 186.9h0M205.6 240.2h0M372.1 223.3h0M250.5 153.7h0M226.1 101h0M386.3 214.5h0M229.2 128.8h0M172.4 192.2h0M230.4 183.5h0M249.3 178.5h0M247 202.7h0M255.6 232.3h0M245.7 113h0M245.2 154.6h0M237.7 138.4h0M355 183h0M382.1 223.9h0M223.9 131.9h0M263 322.9h0M203.4 156.6h0M409.7 205.2h0M263.6 162.5h0M247.7 198h0M234.4 147.9h0M232.1 162.5h0M235.8 102h0M234.1 210.1h0M296.8 177.2h0M261.8 195.4h0M195.7 93.1h0M238.3 174.2h0M213.8 169.2h0M218.3 240.3h0M228 281.1h0M257 154.9h0M206 118.1h0M220.4 120.3h0M194.7 150.5h0M442.7 208.6h0M187.4 113h0M226.4 148.4h0M186.9 97.5h0M440.6 202.3h0M221.9 121.7h0M213.3 155.2h0M175.8 126.2h0M207 148.9h0M231.3 222.6h0M248.8 314h0M253.3 200.2h0M200.4 131h0M206.7 139.1h0M213.4 248.2h0M276.3 168.5h0M261.9 158.3h0M209.6 144.5h0M214.5 104.7h0M169 132.4h0M242.4 168h0M179.7 108.5h0M234 194.8h0M266.5 212.9h0M239.2 146.6h0M230.4 112.3h0M395 225.8h0M223.7 186.6h0M239.1 105.3h0M217.3 122h0M231.5 158.4h0M218.9 99.4h0M218.8 92.4h0M188.2 123.2h0M256.3 233.9h0M258.5 146.3h0M403.8 219.4h0M231.6 103.5h0M246.8 221.6h0M246.5 186h0M268.7 207.5h0M378.4 220.6h0M245.5 209.5h0M282.2 182.5h0M184.4 122.2h0M183.5 143.1h0M255.9 141.1h0M254.6 269.8h0M189.4 119.5h0M208.9 127.7h0M170.3 296.6h0M224.3 93h0M228.1 144.3h0M250.6 168.9h0M254.8 177.1h0M399.1 217.2h0M200.8 114.6h0M223.2 120.2h0M229 132.1h0M224.3 133.3h0M236.9 150.4h0M184.2 99h0M252 181.9h0M194.8 114.5h0M201.6 96.2h0M236.6 158.6h0M221.1 127.7h0M204.1 95.7h0M224.4 183h0M236.6 150.5h0M219.4 127.5h0M227.8 243.1h0M238.1 97.9h0M223 129.1h0M230.6 174.9h0M207.2 93.5h0M238.1 135.8h0M205.4 129.5h0M352.7 190h0M231.7 109.3h0M265.4 204.3h0M250.3 250.9h0M245.8 174.3h0M253.1 154.6h0M211.6 137.3h0M232.5 218.8h0M241.8 243.4h0M210.1 144.2h0M392.2 215.4h0M235.4 187.4h0M181.2 97.2h0M253.3 232.7h0M233.4 171.9h0M411 217.4h0M232 142.9h0M257.1 243.5h0M229.4 249.1h0M244.9 178.8h0M214.9 82.3h0M239.4 217.9h0M240.7 230.6h0M232.1 174.9h0M205.5 153.9h0M186.5 132.6h0M242 130h0M214.4 172.5h0M214.1 104.4h0M242.2 153.8h0M180.1 215.4h0M200.5 114.5h0M210.3 185.3h0M237.7 130.3h0M205.2 111.5h0M192.9 121.3h0M197.2 92.9h0M446.8 191.5h0M241.4 242.7h0M196.2 114h0M199.7 227h0M188.3 92.6h0M244 102.8h0M195.3 105.2h0M258.4 277.6h0M225.4 204.9h0M195.5 154.6h0M223.1 155.5h0M238.5 172.4h0M291.7 204.1h0M220.5 142.6h0M248.5 217.3h0M239.5 213.1h0M197.8 90.8h0M203.5 112.1h0M197.3 129.5h0M224.2 112.6h0M251 138.9h0M412.4 216.2h0M307.7 186.5h0M263.2 207.6h0M196.1 148h0M223 177.1h0M199.5 98.7h0M239.5 123.3h0M244.5 113.5h0M185.5 104.2h0M233.7 229h0M379.7 226.2h0M248.6 112.4h0M246.3 267.7h0M187.6 117.2h0M232.7 186.6h0"/>
<path stroke="#0000ff" d="M182.7 401.4h0M204.6 186.5h0M222.8 354.5h0M156.8 164.2h0M168.8 116.5h0M187.5 402.6h0M169.3 272.1h0M225.2 388.8h0M225.6 319.8h0M237.6 365.7h0M157.4 121h0M241.4 234.2h0M146.9 130.4h0M204.8 438.4h0M151.7 226.7h0M189.2 192.2h0M444.2 221.1h0M163.1 133.2h0M226.1 328.7h0M228.2 298.9h0M197.1 356.1h0M186.9 328.4h0M155.5 233.6h0M249 329.8h0M246.4 316.8h0M277.8 149.1h0M212.6 202.6h0M188.6 397.7h0M235.4 321.8h0M255.2 312.3h0M215.4 206.9h0M247.3 341.7h0M410.4 220.5h0M152.3 163.4h0M161.6 131.5h0M220.6 366.4h0M234 398.4h0M219 209.2h0M215.8 166h0M217.4 389.1h0M224.1 340.4h0M238.8 335.6h0M243.9 359.3h0M219.8 411.2h0M218.8 222.9h0M207.5 180.3h0M217 374.3h0M243.2 294.7h0M235 372.6h0M241.6 307.4h0M173.2 142.1h0M230.1 288.2h0M335.5 205.8h0M207.9 285.9h0M163.1 177.7h0M188.9 346.9h0M198.6 166.7h0M279.9 179.1h0M218.1 363.4h0M418.6 200.2h0M236.3 336h0M234.6 324.1h0M226.2 367.9h0M221.8 335h0M320.1 186.2h0M169.7 394.1h0M232.8 331h0M144.5 142.7h0M221.1 390.5h0M146.6 232.3h0M202.1 363.2h0M210 326.3h0M468.3 199.3h0M177.1 267.2h0M363 203.7h0M221.4 364.4h0M167.2 124.5h0M229.9 330.4h0M162.5 240h0M226 327.9h0M205 176.6h0M175.1 143.2h0M234.5 350.1h0M170.2 388h0M209.6 435.5h0M173.5 122.1h0M149.4 194.3h0M242.1 346.5h0M156.8 141.7h0M191.6 215.6h0M147.8 217.8h0M191.5 235.1h0M214.5 367.5h0M216.1 322.6h0M148.7 180.9h0M163.4 192.2h0M215.8 410.9h0M441.2 205.8h0M240.4 311.6h0M201.1 345.6h0M250.4 267.1h0M161.7 128.1h0M197.1 380.5h0M174.7 379.7h0M241.2 369.5h0M204.1 377.8h0M240.7 343.7h0M151.4 125.1h0M312 141.5h0M215.8 417.7h0M258.3 314h0M202.3 369.9h0M200.1 168.1h0M230.9 288.1h0M154.1 197.2h0M186.5 224.7h0M179.1 416.9h0M372.6 196.6h0M180 209.5h0M208.9 372h0M156.4 125.1h0M148.8 128.7h0M177.8 138h0M246.7 370.8h0M193.4 192.4h0M206.4 259h0M152.8 151.2h0M453.4 192.3h0M216.1 421.6h0M277.4 169.7h0M166.9 163.8h0M139.6 158.6h0M252.3 361.3h0M183.8 382.6h0M205.9 342.1h0M215.9 240.8h0M228.1 325.7h0M225 333.3h0M226.3 351.6h0M164.8 288.2h0M203.5 386.4h0M207.9 422.7h0M174 428.7h0M196.4 302.8h0M225.1 363h0M178.3 405.7h0M207.6 404.5h0M158.7 173.9h0M227.6 331.2h0M212.8 399.7h0M197 424h0M247.2 369.9h0M184.3 269.4h0M189.7 216.9h0M213.5 351.9h0M241.9 329.3h0M213.6 211.8h0M202.6 278h0M205.5 416.2h0M200.6 369.1h0M189.9 430.6h0M166.8 139h0M248.8 260.8h0M240.2 288.9h0M194 222.8h0M182.8 393.3h0M225.9 373.2h0M190.6 240.6h0M240.4 366.3h0M197.3 381.2h0M248.3 323.1h0M220.6 339.1h0M197.7 172.9h0M165.4 209.4h0M221.5 393h0M194 311.4h0M187.8 420.7h0M208.3 192.6h0M229 396.4h0M226.7 377.5h0M155.7 184.2h0M224.7 359.4h0M255.9 306.5h0M206.9 377.4h0M201.1 227.7h0M198.9 221.3h0M205.2 196.8h0M468.6 201.9h0M153.4 186.3h0M193.4 219.5h0M224.6 297.4h0M141.3 140.3h0M217.3 339.1h0M233.4 303.9h0M222.2 216.6h0M167.2 136.1h0M234.6 204.8h0M219.1 349.9h0M179.7 418.3h0M169.8 167.2h0M205.4 256.6h0M162.7 134.2h0M185.6 127.1h0M208.2 378.2h0M375 224h0M159.7 125.4h0M190.2 195h0M217.7 376.5h0M159.4 205h0M214.3 335.6h0M171.9 142.8h0M203.9 193.6h0M155.9 156.3h0M216.4 339.1h0M281.4 171.5h0M160.8 217.1h0M142.4 172.8h0M212.1 340.9h0M198.2 181.1h0M216.5 235h0M207.2 412.4h0M217.1 358h0M224.8 169.7h0M198.8 208.8h0M381.3 190h0M230.7 185.6h0M149.9 133.1h0M218.4 350.3h0M210.7 380.6h0M217.4 244.7h0M178.2 415h0M236.3 198h0M228.5 398.4h0M179.7 138.4h0M239.1 234.6h0M145.3 185.6h0M238.1 328.4h0M221.1 416.1h0M245.3 285.8h0M403.9 189.7h0M177.3 406.6h0M352 205.9h0M144.7 150h0M188.4 195h0M459.4 186.2h0M230.8 303.5h0M197.8 172.5h0M253.3 301.1h0M224.6 181.2h0M219.8 313.9h0M240.4 289.1h0M202.4 178h0M247.8 280.8h0M158.6 122.1h0M147.9 191.1h0M202.8 292.4h0M257 322.3h0M169.5 254.3h0M172.8 207.1h0M465.5 190.6h0M471.9 188.9h0M141.9 136.6h0M236.7 260h0M332.1 196h0M238.4 208.7h0M219.8 315.6h0M213.7 200.4h0M208.3 407.4h0M148 185.2h0M193.5 318.1h0M449 185.9h0M231 377.3h0M167.4 205h0M221.5 214.6h0M212 381.4h0M206.8 395.5h0M217.5 372.6h0M242.8 346.8h0M160.8 208h0M191.4 392.9h0M345.2 204.8h0M256.7 270.7h0M209 173.2h0M155.4 205.6h0M184.3 124.7h0M200.2 283h0M226.8 324.7h0M203.6 178.9h0M208.8 311.4h0M197.6 184.1h0M164.2 128.1h0M256 296.6h0M182 390.7h0M247.5 296.1h0M204.2 436.2h0M203.8 429.2h0M254.1 322.4h0M209.7 251.9h0M440.2 207.1h0M177.6 303.9h0M225.4 342.7h0M186.1 428.5h0M221 422.4h0M203 175.3h0M189.6 411.7h0M196.9 281.4h0M461.7 192.9h0M210.7 374.6h0M181.5 175.7h0M214.7 324.9h0M225.1 208.7h0M176.7 401.5h0M223.6 360.2h0M227.6 304h0M215.3 235.5h0M179.7 361.6h0M161.5 136.5h0M192.9 349.2h0M221 412.5h0M238.1 285.7h0M257.3 317.5h0M175.7 143.8h0M148.7 208.2h0M191.9 189.9h0M219.4 219.5h0M191.8 160.1h0M238.9 273.4h0M183.7 185.4h0M173.2 189.6h0M170.5 374.4h0M216 213h0M234.6 281.2h0M199.8 226h0M264 315.4h0M269.7 319.1h0M221.6 319.1h0M247.6 373.6h0M162.1 201.3h0M234.3 349.1h0M225.9 339h0M164.5 208.5h0M429.3 201.2h0M201.3 403.3h0M166.3 299.8h0M226.8 345.7h0M170.1 374.9h0M234.9 360.3h0M210.8 210.2h0M182.8 380.8h0M231.6 188.7h0M146.1 159h0M239.7 225.6h0M199.1 423.7h0M278.7 172.7h0M221.5 412.9h0M170.2 212h0M224.9 224.6h0M176.7 404.8h0M162.1 152.3h0M196.4 166.1h0M334.2 198.5h0M202 221.4h0M169.9 245.7h0M430.5 215h0M254.5 332.5h0M222.9 356.3h0M191.5 376.7h0M156.8 243h0M182.2 161.4h0M244.2 389.8h0M204.1 426.8h0M225.2 215.9h0M158.7 160.3h0M222.7 228.5h0M270.2 139.7h0M472 177.4h0M148.3 207.2h0M186.6 193.8h0M451.1 180.9h0M203.4 224.1h0M206.5 271.1h0M373.7 215.1h0M167.6 292.5h0M226.4 214.8h0M254.8 317.1h0M194.9 391.2h0M209.1 431.2h0M481.9 181h0M217.8 331.8h0M192.2 169.7h0M214.9 351.3h0M155.5 126h0M226.4 385.7h0M213 208h0M250 286.1h0M249.2 326.1h0M263.3 286.8h0M245.8 307.4h0M158 152.7h0M233.9 293.8h0M224.4 376.3h0M171 420.4h0M176.9 422.2h0M210.7 408.2h0M178.4 394.6h0M212.8 381h0M250.2 247.6h0M239.1 282.2h0M210.7 376.6h0M144.5 142.1h0M228.2 359.5h0M445.5 196.1h0M228.4 301.3h0M180.3 182.3h0M225 388.1h0M212.7 371.9h0M184.1 391.9h0M173.6 141h0M206.8 204.7h0M166.9 230.7h0M206.5 366.4h0M189.3 311.8h0M203.6 292.3h0M212.4 210.8h0M211.3 238.3h0M186.7 249.9h0M206 358.1h0M199.1 187.6h0M244.8 300.9h0M234.4 222.7h0M244.5 336.8h0M218.8 283.2h0M224.3 179.2h0"/>
<path stroke="#ff0000" d="M233.8 235h0M179.7 134.6h0M236.7 105.5h0M220.8 375h0M255 123.7h0M220 199.4h0M185.8 211.1h0M193.9 91.6h0M204.5 126.9h0M237.4 348.9h0M257 206.4h0M239.9 212.5h0M244.2 104.8h0M214.2 187.3h0M243.2 175.8h0M275.9 176.9h0M213.7 79.9h0M372.9 229.1h0M328.1 150.4h0M261.7 158.4h0M229 121.4h0M208.2 143.5h0M208.9 127.8h0M234.1 110h0M236.4 221.4h0M253 224.5h0M239.5 265.2h0M190 147.6h0M238.9 119.9h0M239.7 226.5h0M163.8 138.5h0M215.5 150.5h0M206.4 147.6h0M217.6 115h0M251.7 151.3h0M231.2 190.3h0M199 142.6h0M224.5 124.9h0M409.7 216.2h0M210.5 170.3h0M256.1 257.5h0M237.8 274.3h0M242.7 147.9h0M196.6 152.7h0M245.9 203.1h0M243.8 185h0M245 230.4h0M237.9 223.7h0M198.9 91.6h0M216 79.1h0M240.8 233.9h0M222.3 100.9h0M254.3 292.9h0M253.9 130.1h0M215.4 249.6h0M417.6 216.7h0M215.3 184.9h0M235.4 94.2h0M200.4 115.4h0M387.1 229.4h0M221 144.1h0M209.5 150.1h0M192.9 130.7h0M264.9 226.2h0M253.3 263.5h0M220.5 94.4h0M183.2 109.5h0M231.8 246.4h0M238.6 223h0M212.3 119.8h0M203.4 104.7h0M177 126.9h0M214.1 187.6h0M213.2 167.7h0M214.6 120.3h0M201.4 109.1h0M241.6 193.6h0M231.4 259.2h0M221.8 201h0M208 151.8h0M246.1 216.5h0M206.7 109h0M424 203.3h0M201.2 94.6h0M253.6 185.3h0M195.1 92h0M151.3 161.2h0M184.5 105.4h0M244.6 198.3h0M187.8 145.1h0M206.6 108.5h0M232.3 200.6h0M234.7 209h0M227.6 236.9h0M232 123.4h0M228.9 119.9h0M407.5 210h0M238.3 168h0M197.6 101.5h0M222.2 116.9h0M242 125.9h0M350.3 182.1h0M402 203.8h0M219.7 83.2h0M233.8 241.8h0M244.4 181.8h0M212.7 152.6h0M204.8 145.4h0M210.2 247.1h0M180.8 129.1h0M213 197.9h0M224.7 212.5h0M209.7 112.7h0M195.1 142.9h0M233.6 183.7h0M250.4 192.6h0M388.1 209.2h0M227.6 89.1h0M245.1 174.1h0M228.7 124.4h0M219.9 187.4h0M202 178.7h0M199.4 161.8h0M256.8 222.6h0M254.7 206.6h0M233.3 124.7h0M243 131.2h0M196.7 290.9h0M240.3 173.3h0M249.4 109.2h0M406.7 221.3h0M187.1 179.5h0M247.6 103h0M293.8 142.7h0M215 204.1h0M237.1 211.4h0M216.6 229.4h0M375.1 227.3h0M244.9 226.3h0M236.2 265.2h0M224.8 155.4h0M379.8 219.3h0M238.2 201.2h0M223.2 200.6h0M226.9 205.4h0M251.3 134.7h0M176.8 128.3h0M251 130.5h0M252.5 176.9h0M221.5 139.8h0M221.1 156.2h0M213.3 207.4h0M213.9 176.7h0M194.8 102h0M231.6 137.1h0M248 113.3h0M267.3 204.9h0M195 146.1h0M169.1 189.6h0M220.5 272.6h0M231.1 231.5h0M238.8 199.3h0M252.8 136h0M242.1 141.7h0M451.3 191.8h0M231.3 130.4h0M244.9 164.8h0M216.6 163.8h0M252 168.4h0M233.3 246.7h0M248.3 154.6h0M207 108.8h0M250.2 254.2h0M424.2 211.7h0M214.5 167.7h0M254.4 231.8h0M202.9 135.4h0M198.2 88.2h0M222.5 243.6h0M259.6 158.1h0M205.4 165.7h0M186.1 109.7h0M191.2 92.9h0M419.3 198.7h0M296.7 173.4h0M256.9 209.1h0M256.9 143.7h0M199.1 151.1h0M205.4 145.8h0M260.8 184.8h0M259.6 193.6h0M227.2 247.6h0M215.1 104.5h0M226.5 114.3h0M269 161.4h0M397.6 195.7h0M213.3 127.1h0M205.2 104.3h0M184.1 101.4h0M405.7 211.7h0M252 233.8h0M237.1 248.9h0M216.9 104.2h0M206.8 234h0M190.3 110.9h0M257.7 162.6h0M225.6 173.8h0M268 221.7h0M195 123.6h0M202 139.6h0M206.8 100.1h0M199.4 111.2h0M295.7 166.1h0M207.3 90h0M230.5 119.5h0M222.8 112.6h0M200.7 194.1h0M234.6 238.4h0M237.2 106.1h0M163.6 117h0M239.9 221.3h0M204.6 147.8h0M196.3 113.1h0M222.4 203.6h0M253.9 272.4h0M197.1 150.1h0M181.7 106.3h0M219.2 174.4h0M227.3 186h0M244.7 269.5h0M249.5 271.1h0M348.5 167.3h0M198.1 145.1h0M191.7 119.6h0M210.5 117h0M227 243.9h0M228 205.5h0M214.9 264.3h0M257 168.3h0M241.5 113.1h0M251.4 156.2h0M405.3 210.3h0M171.1 113.8h0M196.3 142.3h0"/>
<path stroke="#ff0000" d="M249.3 274.1h0M224.9 226.7h0M223.4 92.7h0M256 215.9h0M357.2 184.7h0M381 229.4h0M205.5 160.7h0M223.6 246.1h0M211.3 106.1h0M230.8 135.1h0M250 277.4h0M424.6 192.3h0M174.8 127.6h0M200 104.8h0M199.1 107.3h0M238.7 231.5h0M417.8 180h0M417.8 212.6h0M239 223.5h0M251.1 284.4h0M210.1 143.3h0M231.3 127.9h0M208.7 123.4h0M198.5 115.5h0M251.9 159.7h0M191.2 94.6h0M370.9 174h0M380.6 230.7h0M235.8 108.6h0M242.6 172.4h0M255.4 125.3h0M285.1 168.3h0M193.8 120.3h0M239.3 249.7h0M239.5 135.5h0M407.4 223.9h0M388.2 228.1h0M258.2 128.7h0M202.6 127h0M233.1 183.2h0M212 80.2h0M237 104.6h0M228.9 210.5h0M240 216.1h0M269.3 194.4h0M244.1 216h0M228.4 145.9h0M246.1 277.6h0M256.5 274h0M225.5 191.6h0M206 236.8h0M259.7 327.9h0M228.5 238.5h0M245.5 232h0M252.3 280.3h0M241.3 107.3h0M213.7 133.6h0M269.2 210.1h0M202.2 114.9h0M213.9 163.9h0M287.1 150.8h0M386.7 213.9h0M234.7 246.2h0M265.7 233h0M252.6 226h0M238.7 147.9h0M199.8 155.7h0M202.8 262.7h0M251.1 210.4h0M216 130.7h0M195.9 114.1h0M237.2 247.3h0M249.2 255.9h0M253.9 236.1h0M174.3 133.9h0M203.8 89.7h0M203.3 106.5h0M269.7 209h0M233.9 247h0M295.2 199.3h0M187.4 229.4h0M226.5 179.3h0M228 110.8h0M235.4 133.9h0M227.3 236.4h0M203.2 99.1h0M240.8 176h0M263.8 216.2h0M235.1 236.7h0M255.5 271.9h0M208.1 110.1h0M229.1 117.7h0M262.3 211.8h0M236.7 191.8h0M231.7 276.1h0M213.3 153.7h0M182.2 159.7h0M210.9 268.3h0M191.9 255.4h0M212.7 146.5h0M230 107.6h0M161.3 247.7h0M254.3 231.8h0M230.7 178.4h0M190.8 142.1h0M181.9 109.8h0M234 122.5h0M179 183.7h0M225.4 142.8h0M259.9 201.4h0M194.4 121.4h0M202.7 235.8h0M206.3 149.5h0M261.1 158.6h0M192.6 114.9h0M207.6 273.1h0M235 228.8h0M247.4 172.1h0M222.4 183.5h0M224 128.3h0M217 139.9h0M312.4 174.4h0M220.9 80.5h0M378.3 191.9h0M237.6 148.2h0M251.2 241.1h0M193.1 99.4h0M185.9 123.4h0M191.5 95.3h0M261.2 215.6h0M246.5 217.7h0M221.6 154.8h0M226.3 186.6h0M279.9 182.8h0M244.1 174.9h0M246.5 161.6h0M236.3 250h0M213.4 84.7h0M261.2 220.9h0M238 197.9h0M238.2 144.6h0M252.3 231.3h0M224.2 183.8h0M201.8 122.8h0M392.9 217.5h0M249.3 239.4h0M179.5 119.4h0M237.9 151.5h0M214.4 270.1h0M234.3 139.6h0M234.8 103.1h0M198.1 139.4h0M230 158.3h0M195.8 124.2h0M256.2 220.4h0M366.2 221.8h0M248 247.2h0M241.1 224.5h0M298.6 183.9h0M244.7 127.3h0M235.7 169.8h0M189.8 170.7h0M231.2 234.1h0M166.2 241h0M413.5 197.2h0M255.2 182.3h0M223 160.4h0M261.6 159.6h0M195.6 140.6h0M251.2 150.6h0M229.4 159.6h0M212.2 181.4h0M268.6 209h0M242.8 124.7h0M228.6 190.9h0M240.5 165.3h0M219.7 125.4h0M252.9 194.5h0M228 241.9h0M157.3 277.9h0M257.9 144.2h0M206.3 86.6h0M400.4 212.7h0M348.4 153.7h0M211.3 111h0M194.7 118.9h0M191.1 231.8h0M231.8 141.9h0M186.5 147h0M230.2 274.8h0M216.2 84.6h0M234.9 147.1h0M210.8 110.4h0M267.6 180h0M212.2 105.5h0M215.3 87.7h0M392.5 229h0M161.3 127.4h0M248.5 320.4h0M230.7 278.4h0M219 130.7h0M235 195h0M206.4 258.2h0M244.1 179.2h0M218.4 167.5h0M218.9 161.1h0M257.2 316.4h0M185.3 134.4h0M252.7 146.5h0M193.3 142.7h0M236.3 233h0M136.6 136.2h0M206.7 268.3h0M211.4 177.8h0M243 226.2h0M320.8 170.5h0M214.7 166.4h0M226.8 234.7h0M214 126.5h0M251.9 206.7h0M239.1 200.1h0M218.4 141.4h0M241.4 97.2h0M253.5 232.4h0M231.1 178.7h0M228.3 109h0M213.3 158h0"/>
<path stroke="#0000ff" d="M234.2 364.2h0M217.2 219.5h0M213.1 328.3h0M234.4 240.2h0M263.9 302.7h0M162.1 240.3h0M199.5 421.1h0M224.5 332.7h0M253.5 283.3h0M224.1 381.2h0M216.8 395.4h0M177.5 188.8h0M461.8 193.2h0M245.9 285.1h0M203.1 172.4h0M189.8 389.9h0M243.3 344h0M156.6 172.1h0M253.9 294.2h0M203.7 186.9h0M233.6 387h0M231.1 351.1h0M172.8 370.9h0M230.3 345.6h0M192.3 164.7h0M208.8 216.3h0M180.8 371.9h0M363.4 161.4h0M216.9 344.3h0M178.5 310h0M235.9 369.9h0M214.5 428.5h0M210.1 195.2h0M215.4 344h0M223.1 206.1h0M142.4 158.9h0M146 172.1h0M185.2 407.4h0M256.3 305.5h0M205 230.7h0M477.2 193h0M443 210h0M236.4 375.2h0M168.4 412.6h0M456.6 193h0M209.4 342.4h0M177.1 365.5h0M224.9 384.7h0M229.1 323.4h0M224 334.8h0M239.8 370.2h0M214.6 395.7h0M136.6 148.8h0M372.9 190.7h0M409.2 189.8h0M184.3 431h0M265.6 299.2h0M384.2 208.5h0M189.6 421.5h0M249.4 291.7h0M222.4 332.9h0M203.3 243.1h0M178.6 431.2h0M228.4 346.8h0M265.8 299.7h0M194.3 385.9h0M234.3 208.7h0M204.8 384.8h0M226.6 352.5h0M207.2 365.9h0M245.2 344.7h0M186.2 191.4h0M164 293.4h0M244.9 378.8h0M225 258.3h0M207.8 197.9h0M422.2 192.6h0M224.4 207.9h0M235.1 344h0M175 198.3h0M228.3 293.6h0M236.5 297.5h0M157.3 157.1h0M159.3 173.2h0M221.5 210.8h0M228.8 339.6h0M147.1 176.7h0M233 366.2h0M254.9 350.8h0M204.8 426.4h0M186.7 328.3h0M181.5 414.2h0M149.6 226.7h0M352.4 172.9h0M220.3 383.2h0M185.1 120.7h0M457.5 200.1h0M402.9 199.9h0M454 193.4h0M229.8 324.2h0M189.7 311.3h0M225.8 377.1h0M329.7 165h0M197.5 180.6h0M239 375.4h0M164.5 285.2h0M221.8 238h0M240.3 310.9h0M221.5 242.2h0M201.1 356.4h0M182.5 305.6h0M198.3 399.4h0M434.6 194.6h0M174.8 388.8h0M175.7 215.9h0M153.1 158h0M210 417h0M231.1 302.9h0M216.1 348.3h0M150 256.4h0M225.1 335.4h0M183.2 216.8h0M179.8 194.9h0M215.7 209.2h0M181.1 143.8h0M216.4 209.9h0M157.6 149.4h0M191.3 189.4h0M228.4 265.5h0M232.8 346.1h0M227 416.7h0M182.9 283.6h0M210.4 306.5h0M200.3 244.8h0M239.2 294.5h0M185.3 217.8h0M203.2 343h0M189.2 221.2h0M231.5 211.3h0M232.6 285.7h0M235 218.4h0M203.3 317.3h0M259.8 319.3h0M212.6 372h0M361 202h0M185.8 203h0M186.5 115.7h0M178.2 217.8h0M226.2 381.2h0M201.6 219.7h0M168.1 208.8h0M392.3 206.9h0M400 196.1h0M416.1 222.9h0M212 397.2h0M164.1 191.9h0M196.4 184.3h0M235.1 289.3h0M254.5 353.1h0M262.4 305.7h0M271.9 317.8h0M237.4 341.5h0M251.2 318.2h0M204.3 273.7h0M222.8 323h0M202.7 409.1h0M254.6 314.6h0M208.6 372h0M246.2 371.2h0M223.5 211.3h0M236.8 243.7h0M223.6 221.9h0M213 409.9h0M204.3 324h0M168.4 144.3h0M268.6 300.6h0M214.2 235.5h0M208.3 212.3h0M199.2 390.3h0M153.1 192h0M154.3 230.7h0M216.1 378.6h0M253.7 308.6h0M208.6 200.8h0M245.6 265.2h0M212.8 431.7h0M210.1 287.4h0M224.5 337.8h0M199.5 175.2h0M202.5 190.5h0M168.3 185.7h0M199.8 387.9h0M160.4 155.8h0M181.7 206.5h0M248.5 345.5h0M202.6 302.3h0M158.4 154.6h0M180.7 141.5h0M165.1 196.9h0M408.6 195.7h0M206.7 237.6h0M202.8 435.7h0M233.8 222.8h0M229.8 249.7h0M193.8 163h0M152.4 135.7h0M234.3 324.7h0M203.5 354.4h0M214.2 202.3h0M211.5 362.6h0M303.6 139.5h0M173.5 172.2h0M216.4 399.7h0M177.4 396.8h0M183.2 393.7h0M176.3 176.1h0M176.2 266h0M184.8 340.8h0M237.8 369.1h0M186.5 419.4h0M233.7 412.8h0M194.5 403.7h0M178.6 162.9h0M217.1 303.3h0M220.9 196.7h0M218.7 181.6h0M218.1 236.3h0M219.7 388.9h0M465.9 187.5h0M156.4 265.4h0M250.3 347.4h0M362.2 226.4h0M203.6 373.3h0M217.3 238.5h0M187.6 403.4h0M222.3 318.2h0M178.7 203.8h0M237.7 304.9h0M230.2 344h0M192.2 367.9h0M209.2 396.2h0M423.6 212.5h0M238.6 305.2h0M371.8 193.6h0M212.4 183.1h0M321.4 174h0M221.1 349.7h0M235.9 286h0M239.5 362.8h0M238.4 294.3h0M236.3 326.3h0M247.1 330.3h0M173.6 223.9h0M376.8 208.9h0M224.8 375.8h0M233.9 298.2h0M169.2 408.4h0M195 218.8h0M210.4 215.8h0M170.4 181.3h0M190.2 259.2h0M218.5 237.7h0M228.2 322.2h0M269.6 295.6h0M171.7 178.9h0M219.6 219.4h0M166.7 129.1h0M213.5 351.5h0M216 380.4h0M240.7 264.1h0M213.1 372.6h0M219.5 230.6h0M221.7 376.9h0M209.8 426h0M195.6 429.1h0M181.4 153.1h0M232.6 374.7h0M308.2 176.3h0M206.2 318.5h0M208.2 325h0M188.7 198.1h0M194.1 302h0M152.3 236.1h0M170.3 127.3h0M434.3 213.8h0M217.1 201.7h0M224.2 219h0M176.3 177h0M148.1 122.3h0M239.6 366.6h0M173.8 141.4h0M431.4 205.9h0M206.8 380.4h0M209 222.9h0M231.5 397.2h0M192.5 410.9h0M211.5 376.8h0M212.5 431.5h0M154.3 123.2h0M196.6 173.5h0M379.5 223.7h0M171.7 222.4h0M196.1 117.9h0M226.3 206.4h0M225.2 183.2h0M184.3 324.3h0M201.3 359.1h0M174.9 215.6h0M245.3 387.4h0M194.6 427.5h0M148.4 127.4h0M161.8 168h0M189.7 198.2h0M243.3 293.9h0M238.8 309.5h0M247.6 319.6h0M466.8 188.9h0M194.9 188.7h0M231.2 323.7h0M170.1 321.3h0M239.6 342.4h0M220.2 220.2h0M235.3 337.4h0M218.2 236.2h0M220.2 368.8h0M426.2 194.3h0M167 291.3h0M243.1 296.7h0M479.5 192h0M166.5 131.6h0M190.5 196.4h0M247 373.9h0M220.8 204.8h0M224.6 318.7h0M257.8 325.5h0M233.3 214h0M257.2 293.9h0M222.3 383.2h0M191.9 424.1h0M170.4 166.6h0M199.8 402.9h0M158.9 282h0M377.1 189.9h0M242.5 354.9h0M192.9 374.4h0M164.1 412.6h0M176.7 385.7h0M229.6 326.1h0M173.6 258.8h0M195 175.4h0M168.6 151.4h0M195.8 405.9h0M219.7 326.1h0M214 216.9h0M165.4 210.8h0M200.1 384.4h0M460.6 210.4h0M257.5 319.3h0M208.6 429.7h0M242.8 219.3h0M188.5 223.5h0M227.2 300.5h0M257.3 293.6h0M187.5 291.8h0M360.1 184h0M260.4 260.8h0M231.4 274.7h0M371.4 179.6h0M212.3 245.6h0M215.9 169.1h0M179.8 276.8h0M158.5 127.7h0M165.6 134.2h0M251.8 317.8h0M338.4 200.7h0M211.5 186.9h0M232.8 202.2h0M187.1 423.9h0M235.5 334.2h0M190.5 345.1h0M263.8 314.8h0M201.4 350.1h0M173.8 414.5h0M202.7 420.1h0M253 259.7h0M147.8 175.8h0M403.8 219.7h0M208.3 372.5h0M182.5 276.2h0M169.2 194.5h0M270.5 294.8h0M329.9 197h0M190.1 159.9h0M242 368.1h0M191.5 381.6h0M214.7 200.1h0M245.1 283.6h0M354.5 198.1h0M244.6 328.5h0M174.1 386.4h0M178.2 286.4h0M284.9 182h0M247.3 379.5h0M203 196.7h0M352.8 162.5h0M321.2 147.4h0M222.1 336.6h0M455.1 210.3h0M211.5 176.5h0M440.9 209.2h0M247.8 376.1h0M160.5 127.3h0M192.7 176.7h0M249.2 376.6h0M162.9 123.6h0M195.9 167.6h0M366.9 198.3h0M144.1 263.4h0M223.1 308.6h0M162 146.2h0M240.3 350.3h0M196 413.5h0M215 214.8h0M253.1 331.5h0M426.2 206.1h0M263.5 312.1h0M220.2 195.9h0M176.3 229.1h0M228.9 220.8h0M224.6 363.3h0M333.2 195h0M250.1 347.2h0M228.9 309.2h0M251.7 285.5h0M229.2 387.9h0M478.6 188.6h0M233.9 335.9h0M181.2 179.2h0M220 337.3h0M224.6 348.6h0M253.7 305.2h0M221.6 384.6h0M192.3 272.9h0M210.7 359.1h0M197.2 283.4h0M219.2 381.6h0M176.9 195.8h0M232.5 202.9h0M218.6 197.3h0M257.9 299.1h0"/>
<path stroke="#0000ff" d="M225.4 343.7h0M222.8 375.5h0M200 221.7h0M147.7 147.7h0M431.9 219.7h0M211.8 327.8h0M455.9 198.3h0M167.9 132.1h0M213.2 235.9h0M182.2 204.1h0M189.3 258.8h0M312.8 186.5h0M174.9 193h0M220.3 382.2h0M205.1 338.6h0M219.8 428.4h0M205 219h0M447.4 190.8h0M239 260.8h0M154.2 140.9h0M451 208.9h0M139.3 155.1h0M223.4 367.4h0M214.2 394.3h0M199.8 278.8h0M207.4 345.2h0M223.6 228.6h0M238.7 343.3h0M456.8 205.4h0M212.5 375.3h0M220.6 296.1h0M205.7 249.3h0M196.2 179h0M202.1 233.1h0M236.9 293.4h0M408.1 228.5h0M238.1 274.1h0M230.9 344h0M225.4 422.5h0M249.9 376.2h0M180.1 170h0M247.6 333.1h0M185.4 409.5h0M464.8 191.7h0M151.7 152h0M204.6 362h0M243.1 275.9h0M151.2 192.1h0M183.2 195.2h0M219.9 336.7h0M199.9 345.8h0M166.5 137.6h0M217.9 382.7h0M251.9 289.7h0M246.4 292.8h0M214.9 245.4h0M169.8 159.5h0M466.2 182.4h0M224.7 365.5h0M207.5 255.2h0M187.2 294.2h0M168.7 393.6h0M467 202.1h0M163 199.9h0M222.8 425.6h0M346.4 199.4h0M205.3 269.1h0M229.6 384.6h0M191.1 215h0M234.5 378.5h0M194.4 267.4h0M234.5 354.1h0M430.7 212.8h0M170.3 398.7h0M190.8 255.1h0M185 422.1h0M237.1 345.8h0M221.1 384.2h0M208.4 385.3h0M175.4 132.1h0M238.5 311.8h0M144.9 212.4h0M224.3 395.9h0M186.6 98.7h0M216.5 394.4h0M311.2 158.6h0M250.3 301.8h0M261.7 290.7h0M197.1 398h0M145.6 143.4h0M207.4 352.6h0M226.7 230.5h0M199.3 416h0M232.8 347.4h0M211.2 215h0M199 372.7h0M225.9 326.9h0M216.7 215.8h0M220.3 277.4h0M202.1 178.1h0M168.1 186.2h0M484.6 180.9h0M214.1 221.4h0M407.6 202h0M270.5 319h0M212.7 399.8h0M219.4 356.3h0M225.4 220.1h0M351.9 185.8h0M234.6 290.1h0M192.7 408.2h0M227.5 300.9h0M180.3 211.8h0M226.4 253.4h0M156.1 148.9h0M226.5 243.8h0M381.2 219.8h0M149 198.6h0M232.3 346.5h0M151.3 160.2h0M209.7 409.2h0M223 218.6h0M217.3 351.5h0M159.1 164.9h0M238.4 338.4h0M248.9 301.5h0M141.1 155.9h0M165 135.1h0M151 133.7h0M189.3 384.7h0M205.9 243.9h0M209 327.9h0M428 211.5h0M211.9 375.7h0M183.4 187.6h0M138.8 159.9h0M283.1 150.4h0M235.9 315.1h0M192.7 412.7h0M452.3 189.9h0M226.1 346.4h0M193.7 345.6h0M218.1 204h0M240.4 381.4h0M238.6 375.5h0M227.9 319.6h0M145.8 133.3h0M249.6 329.9h0M229.2 317.9h0M187.2 174.1h0M206 341.4h0M149.6 141.8h0M221.9 327.7h0M206.4 397.9h0M275.6 189.1h0M172.3 197.4h0M235.3 340h0M210 371.9h0M178.5 410.4h0M215.9 409.9h0M423.7 208h0M213.7 203.9h0M187 198.8h0M206.4 299.5h0M188.5 182.8h0M186.8 98.8h0M223.3 165.7h0M252.3 279.6h0M193.9 255.7h0M465.7 185.7h0M163.8 151.9h0M142.8 146.9h0M227.5 302.8h0M196.7 347h0M221.7 285h0M187.4 196h0M233.5 300.8h0M236.9 359.8h0M244.2 320.8h0M200.5 365.3h0M188.8 386.9h0M218.9 212h0M157.7 185.9h0M266.9 293.7h0M181 173.8h0M219.5 254.2h0M211.7 202.9h0M195.4 169.2h0M467.4 189.4h0M161.1 129.1h0M201.3 168.6h0M206.3 229.5h0M163.2 142.2h0M188.6 250.9h0M216.8 351.8h0M217.1 236h0M231.6 297.6h0M232.3 345.2h0M219.8 399.8h0M181.6 125.2h0M186 405h0M410.9 192.1h0M462.7 203h0M172.8 171.4h0M222.1 199.9h0M284.3 169.5h0M232.2 382.8h0M244.1 375.7h0M212.4 186.6h0M247.3 281.9h0M207.9 204.2h0M181.6 155.9h0M144.3 143.8h0M215.9 361.6h0M287.4 136.5h0M440.3 208.8h0M219.4 346.8h0M142.2 157.9h0M399.7 184.7h0M196.8 184h0M254.5 248.6h0M220.6 419.6h0M234.6 215.9h0M202.7 328.1h0M428.1 210.3h0M181.9 218h0M239.6 364.8h0M301.4 157.2h0M196.4 188.4h0M204 349h0M201 167.4h0M188.6 230.8h0M403.9 188.2h0M144.5 163.7h0M196.1 390.7h0M466.5 199.2h0M142 126.9h0M245.5 345h0M209.3 394.3h0M410.6 229.2h0M260.1 286.8h0M171.3 318.9h0M233.8 282.9h0M233.3 387.6h0M226.5 352.2h0M224.2 197.2h0M228.2 261.8h0M390.2 227.8h0M221.5 336.6h0M221.8 179h0M232.9 389.6h0M222.9 343.2h0M172.4 149.9h0M232.1 256.4h0M337 189.5h0M221.6 340.1h0M159.3 260.4h0M319.3 147.4h0M183.6 413.6h0M222.3 335.2h0M245.1 347.4h0M219.5 395.6h0M194.5 255.1h0M217.3 360.5h0M247 369.9h0M299.1 194.1h0M206.7 415.6h0M145 155.8h0M183.2 371.3h0M238.8 382.8h0M193.2 413.5h0M150.6 129.7h0M456.3 209.2h0M161.7 261.8h0M249.4 368.9h0M231.8 360.4h0M226 223.5h0M165.1 159.7h0M221.4 381.4h0M223.8 405.4h0M176.1 382.2h0M197 431.9h0M201.3 198.7h0M188.3 392.8h0M213.6 393.5h0M237.7 200.8h0M154.5 122.2h0M249.2 310.4h0M197.9 253.4h0M209.5 342.6h0M348.6 208.6h0M211.5 307.1h0M212.4 196.2h0M190.3 425.2h0M215.7 346.8h0M265.2 311.1h0M216.7 362.4h0M404.1 183.1h0M236.8 373.3h0M167.2 140.7h0M215.4 390h0M147.6 178h0M243.2 360h0M172.2 293.2h0M195.5 422.9h0M157.8 187.5h0M200.7 434.3h0M198.8 377.8h0M139.7 135.1h0M160.1 187.1h0M199 305.5h0M174.8 409.9h0M249.2 334.5h0M259.4 306.4h0M405.4 211.8h0M234.8 357.6h0M196.1 168.3h0M203.1 366h0M228.9 189.8h0M214.7 203.9h0M204.9 407.9h0M185.8 396.1h0M154.6 195h0M197.3 400.1h0M195.1 119.5h0M162.8 132.8h0M184.4 145.8h0M248.3 287.5h0M142.6 161.1h0M462.4 210.8h0M140.9 207h0M149.4 264.5h0M244.9 283.2h0M225.8 216.9h0M212.9 241.1h0M345.9 184.6h0M183.4 146.6h0M211 185.7h0M241.8 379.8h0M204.2 337h0M141.9 140.6h0M449.7 218.2h0M216.8 213.2h0M395.8 183.2h0M233.8 245.5h0M191.7 207.8h0M215.1 361.1h0M183 224.1h0M188.3 337.1h0M206.1 357.6h0M188.9 359.2h0M227.1 412h0M250.9 299h0M246.3 305.1h0M197 334.3h0M238.4 341.4h0M237.1 340.8h0M224.4 390h0M178.8 422.3h0M455.9 188.7h0M187.6 271.4h0M224.1 191.8h0M238.3 378.1h0M205.6 354h0M173 398.8h0M249 355.7h0M195.4 187.3h0M234.4 372.5h0M220.6 248.9h0M219.5 308.9h0M205.6 212.7h0M247.4 328.6h0M222.4 192.3h0M206.1 362.5h0M179.8 415h0M222.1 226.3h0M218.2 218.5h0M147.2 191.6h0M207.6 204.5h0M160.7 159.9h0M155 211.7h0M467.3 200.2h0M236.5 339.3h0M151.8 157.4h0M222.8 340.8h0M379.4 218.8h0M175 417.6h0M203.1 405.1h0M205.2 182.8h0M474.5 197.5h0M217.9 225.5h0M234.5 318h0M480.2 191.2h0M257.7 302.4h0M155.6 197.4h0M231.4 374.6h0M174.1 188.2h0M142.5 172.4h0M254 262.5h0M270.7 306.4h0M237.5 310.2h0M216.8 339.8h0M354.1 193h0M242.3 353.9h0M262.4 320.5h0M248.6 322.4h0M209.5 352.7h0M197 435.8h0M462.1 192h0M226.6 283.8h0M178.3 371h0M243.1 323.6h0M251.7 322.2h0M158 252.1h0M210 291.7h0M242.8 378.3h0M222 313.3h0M257.8 325.2h0M413.4 221.6h0M202.3 407.1h0M213.7 350h0M199.6 406.5h0M226.5 235.5h0M246.6 283h0M232.5 335.8h0M215 247h0M169.4 129.6h0M337.9 199.3h0M208.5 411.5h0M206.5 200.8h0M225 234.3h0M223.5 406.1h0M251.4 322.2h0M475.7 190.5h0M227.2 205.5h0M174.8 217.2h0M225.2 185.9h0M215.9 183.2h0M189.3 377.3h0M236.5 387.7h0M220.1 232.4h0M231.3 373.4h0M200.8 424.6h0M238.7 257.5h0M191.9 430h0M193.1 189.5h0M195 163.3h0M169.4 127h0M166.6 261.4h0M240.1 375.8h0M203.9 212.2h0M163.5 123h0M477 188.6h0M252 335.6h0"/>
<path stroke="#ff0000" d="M187.5 100.1h0M240 225.6h0M205.8 163h0M265.1 226.5h0M236 121.3h0M264.7 160.8h0M187.1 136.8h0M210.4 99h0M194.7 292.1h0M257.3 189h0M212.3 123.5h0M207.9 172h0M266 173.6h0M266.1 221.3h0M195.6 121h0M237.3 225.4h0M215.8 149.9h0M257.1 256.7h0M258 129.1h0M229.1 212.2h0M242.2 201.3h0M222.1 170.8h0M261.4 138h0M296.9 191.1h0M248.4 123h0M231.5 225.6h0M250.9 164.2h0M236.8 195h0M263.5 208.7h0M387.1 194h0M268.1 205.1h0M201.7 145.2h0M223.9 154.8h0M409.5 220.3h0M242.6 202.4h0M236.9 230.9h0M250.4 164.3h0M229.7 129.3h0M249.9 241.6h0M249.5 218h0M253 157.2h0M233.7 207.1h0M200.3 239.5h0M217.9 149.5h0M189.5 94h0M210 161.7h0M222.7 146h0M237.7 231.7h0M269.6 210.8h0M262.7 202.5h0M176.5 128.9h0M287.4 135.2h0M220.1 172.3h0M226.9 244.9h0M259.4 169.9h0M276.2 165.4h0M256.2 115.8h0M251.7 122.1h0M242.4 232.5h0M255.9 264h0M252.7 257.2h0M238.4 250.2h0M226.9 126.2h0M245.1 134.5h0M239 231.2h0M232.5 171.8h0M225.1 153.9h0M261.2 217.4h0M184 122.2h0M185.6 225h0M247.6 290h0M237 226.2h0M225.9 164h0M287.7 140.7h0M253 163.7h0M232.7 234.8h0M251.1 245.8h0M179.3 114.4h0M370.4 223.5h0M275 134.9h0M249 219.3h0M259.5 138.9h0M207.2 128.2h0M255.2 166.3h0M211.9 129h0M232.2 94.1h0M252.5 180.3h0M227.6 192.5h0M210.2 115.7h0M269.9 211.9h0M244.9 232.7h0M243.7 127.7h0M254.1 178.1h0M202.4 155.6h0M268.7 197.1h0M254.5 298.7h0M234.7 167.9h0M243.8 139.5h0M450.5 204.3h0M210.1 96.5h0M237.5 257.2h0M369.3 180.9h0M250.7 248.3h0M202.3 124.6h0M239.1 132.9h0M200.4 124.9h0M225.6 206.1h0M236.3 269.7h0M202.5 119.7h0M229.9 304.3h0M228.2 166h0M242.1 240.4h0M238.2 166.5h0M184.4 231.5h0M266.2 235.9h0M251.7 201.6h0M248.8 129.2h0M257.6 135.4h0M251.5 176.4h0M253.3 120.7h0M250 129.4h0M214.1 179.7h0M263.8 251.5h0M219.3 138.2h0M194.1 154h0M250.3 203.8h0M257.1 125.6h0M321.8 179h0M230.1 133.1h0M226 206.7h0M239.9 100.3h0M195.8 138.6h0M217.2 135.5h0M204.9 128.9h0M242.6 203.9h0M219.1 143.6h0M218.3 184.8h0M224.4 101.1h0M197.2 251.2h0M203.8 96.9h0M208.7 90.6h0M178.4 122.5h0M244.4 235.9h0M228.1 208.8h0M244.8 276.7h0M209.1 174.4h0M205.6 141.7h0M227.2 145.7h0M262.3 244.6h0M256.7 221.8h0M252.7 229.2h0M231.5 109.7h0M427.2 195.8h0M217.3 197.1h0M249.9 237.6h0M228.6 200.7h0M216.2 174.7h0M238.3 99.5h0M236.1 158.1h0M244.1 103.1h0M252.4 264.3h0M262.8 174.5h0M218.9 102.1h0M252.5 233.9h0M190.4 133.8h0M196.6 137h0M223.7 179.3h0M198.3 151.6h0M204.5 128.7h0M376.4 227.4h0M194.2 92.4h0M266.2 230.4h0M216.5 155.8h0M241.9 146.3h0M204.8 124.3h0M205.8 143.8h0M265.2 182.9h0M252.7 179.9h0M188.2 131.8h0M176.7 136.4h0M190.6 97.5h0M307.1 157.5h0M247.6 123.4h0M255.7 135.4h0M376 222.7h0M226.7 177.8h0M257.3 207.4h0M241 117.4h0M226.5 115h0M246.8 123.1h0M187.6 299.5h0M240.9 135.5h0M211.6 153.8h0M235.8 144h0M168.7 117h0M161.7 135.6h0M218.1 89.3h0M201.7 114.2h0M202.5 150.8h0M212.9 237.5h0M238.6 138.5h0M182 102.9h0M239 115.9h0M252.9 193.9h0M257.4 196.7h0M255.8 215.2h0M224.2 277.9h0M186.2 110.1h0M229.8 97.5h0M218.6 93h0M222 190.3h0M251.7 269.6h0M229.3 240.7h0M232.5 147.8h0M260.6 181.5h0M262.5 211.9h0M262.5 238.6h0M236.9 105.7h0M252.5 138.4h0M217.9 86.3h0M224.9 196.3h0M260.4 198.1h0M247.5 239.8h0"/>
<path stroke="#0000ff" d="M207.6 213.3h0M187.3 426h0M229.1 348.8h0M476.8 177.7h0M209.6 179h0M203.7 214.1h0M209.3 266.6h0M478 194.9h0M183.7 147.7h0M337.7 185.2h0M245.1 286h0M204.3 202.6h0M198.6 287.2h0M219.5 360.1h0M167.6 410.7h0M223.3 192.6h0M245 255.6h0M198 413.8h0M453.8 193.8h0M220.8 204h0M228.8 258.1h0M300 180.6h0M333.8 185h0M325 165.7h0M347.4 183.8h0M183.9 357.2h0M221.6 205.2h0M191.1 428.4h0M247.1 368.7h0M223.8 227.3h0M237 359.7h0M397.3 219.7h0M149 179.3h0M189.7 416.8h0M194.7 374.8h0M459 192.2h0M244.8 361.4h0M179.1 287.6h0M368.7 220.2h0M187.6 383.5h0M142.9 157.2h0M208.8 180.9h0M218.6 206.4h0M193 438.6h0M145.2 247.7h0M240.3 307.1h0M201.5 415.4h0M168.8 121.4h0M236.3 241h0M206.3 388.2h0M182.9 179.1h0M176.8 311.5h0M226.9 355.8h0M198 203h0M483.2 189.1h0M160.2 129.3h0M355.6 177.4h0M185.5 115.1h0M222.4 354.9h0M235.3 327.4h0M197.6 419.5h0M468.2 182.6h0M231.3 377.7h0M222.1 314.3h0M219.4 338.8h0M239.9 340.2h0M192.9 167.1h0M153.8 202h0M206.4 409.8h0M166.6 284.6h0M223.8 334.5h0M196.9 434.3h0M478 192.4h0M221.4 291h0M194.3 380.9h0M185.6 151h0M213.4 403h0M241.5 305.1h0M187.5 214.4h0M176.1 191.8h0M186.8 249.1h0M208.8 229.1h0M188.7 306.3h0M150.8 180.3h0M212.8 256.2h0M202.2 354.3h0M331.7 188.5h0M183.1 218.4h0M233.3 313.8h0M183.9 175.1h0M417.5 224.2h0M152.3 138.4h0M232.4 284.7h0M238.3 334.6h0M196.2 373.7h0M208.5 352.3h0M240.3 320h0M190.3 211.7h0M206.5 349.3h0M183.5 385h0M197.1 124.7h0M216.7 167.4h0M207.2 166.5h0M174.5 204.7h0M151.9 210.2h0M148.6 161.7h0M225 410.5h0M211.2 402.5h0M185.8 225.7h0M179.5 152.2h0M192 430.5h0M347.8 183.4h0M178.7 202.2h0M208.4 405h0M438.1 216.3h0M193.7 257.6h0M161 132.7h0M222.3 216.5h0M185.8 140.5h0M216.6 377.3h0M207.6 205.6h0M445.8 194.3h0M171.1 133h0M177.8 429.1h0M170 136.7h0M178.4 205.6h0M223.8 224.5h0M235.4 290h0M220.6 240.6h0M470.5 181.2h0M205.5 388.7h0M196.3 261.1h0M339.7 197.1h0M232.5 357.7h0M241.9 324.1h0M188.9 250.9h0M227.1 369.9h0M187.2 255.7h0M214.1 233.5h0M238.1 226.3h0M190.9 399.8h0M249 369.2h0M258.8 288.7h0M262.4 294.4h0M214 230.6h0M186.4 239.7h0M438.5 198.4h0M376 200.4h0M193.2 161.4h0M227.8 415h0M201.7 195.4h0M253.3 335.5h0M249.7 366.3h0M236.5 194h0M208.4 336.7h0M247.8 292.1h0M209.9 333.6h0M222.7 409.9h0M213.8 218.7h0M193.9 176.6h0M239.1 346.1h0M157.8 197.4h0M174.7 212.6h0M234.9 220.7h0M167 137.7h0M232.1 225.1h0M449 192.6h0M206.5 234.3h0M165 294.4h0M206.6 173.8h0M229.2 300h0M226.1 315.3h0M239.7 326.8h0M211.8 212h0M167.4 122.3h0M222.6 322.2h0M210.7 437.7h0M193.3 342.6h0M201.3 183.8h0M168.6 155.3h0M158.2 120.7h0M143.8 140.9h0M192.1 415.9h0M233.8 347.8h0M155.9 158.1h0M201.1 282.5h0M175.8 261.8h0M186.3 398h0M252.6 289.5h0M255.2 329.3h0M196 350.2h0M226.5 230.8h0M197.3 359.9h0M148 217.1h0M205.6 187.4h0M227.9 286.8h0M190.8 398.1h0M145.9 159h0M190.2 273.3h0M155.9 202.3h0M234 312.4h0M218.8 365.3h0M187.5 377.1h0M188.2 381.8h0M223.5 225.5h0M193.4 155.3h0M238 326.9h0M216.7 412.1h0M223.5 297.6h0M240.3 375.9h0M249.4 340.9h0M194.9 396.5h0M340.4 192.5h0M209.9 227.7h0M174.7 425.9h0M226.2 362.1h0M221.3 416.5h0M380.4 211.2h0M221.3 377.6h0M221.9 386h0M236.9 357.4h0M220.6 373.7h0M232.8 378h0M452.5 203.1h0M245.7 285.8h0M179.9 164h0M185.9 426.3h0M170.2 126h0M167.1 309.8h0M215.6 206.6h0M165.2 195.9h0M205.3 208.1h0M196.2 305.5h0M165.4 134.6h0M175.2 314.8h0M178.4 179.3h0M215.4 301.5h0M212.1 167.8h0M204.4 431.7h0M227.8 309.4h0M329.3 196.1h0M211.8 340.8h0M192.1 335.3h0M221.4 356.9h0M175.7 232h0M162.7 143.2h0M203.7 119.8h0M183.3 160.7h0M169 177.7h0M156.2 134.3h0M238.9 213.6h0M184.4 196.6h0M156.6 196.7h0M207.8 180.3h0M211.4 421.4h0M357.7 185.2h0M168.5 297.6h0M196.6 177.7h0M230.1 254.2h0M141.8 140.3h0M190.9 171h0M237.6 199.2h0M235.8 299.8h0M235 306.8h0M387.7 208.2h0M198.3 170.4h0M216.4 372.3h0M441.3 194.6h0M216.9 333h0M205.3 172.4h0M244.5 280.9h0M195.8 331.7h0M224.9 283h0M195.9 441.8h0M454.9 194.6h0M182.3 126.6h0M165 141.1h0M192.6 217.3h0M182.6 209.6h0M220.8 372.4h0M157.1 126.1h0M226 202.9h0M200.6 112.3h0M178.9 413.7h0M220.5 365.5h0M468.7 182.1h0M193.7 206.2h0M354.8 185h0M172 167.3h0M187.5 419.4h0M231.8 364.4h0M266.8 304.2h0M395.5 202h0M206.8 214.5h0M206.7 238.9h0M222 219.7h0M186.1 435.4h0M180.2 97.5h0M170.9 330h0M230.2 345.5h0M239.2 360.3h0M243.6 290.2h0M140 130.9h0M222.4 314.2h0M232.9 307.2h0M229.1 369.5h0M148.1 148.5h0M163 145.4h0M205.4 331h0M242 244h0M279.4 139.6h0M170.8 264.7h0M247.9 342.1h0M208.3 283.9h0M216.4 340.7h0M226.6 184.8h0M224.5 235.1h0M159.7 257.9h0M232.8 211.5h0M189 432.3h0M155.4 174.8h0M202.5 192.7h0M461.2 187h0M222.9 294.5h0M207.6 282.6h0M206.1 367.1h0M475.8 186.7h0M206.7 241.7h0M227.3 343.9h0M244.3 296.1h0M220 245h0M208.9 342.6h0M226.4 216.8h0M364.1 229.8h0M356.8 201.1h0M197.8 379.3h0M256.6 305.9h0M175 410.2h0M250.6 327.7h0M256 305.3h0M147.5 145.9h0M184 293.3h0M227.6 289.6h0M413.3 223.4h0M171.5 208.1h0M206.7 289.3h0M206.5 410.4h0M255.9 282.3h0M208 181.7h0M188.1 294.7h0M212.6 431.6h0M256.3 282.1h0M210.6 276.9h0M164.9 421.7h0M164.3 161.8h0M182.7 246h0M431.2 201.2h0M217.1 234.2h0M176.1 379.8h0M172.1 422.5h0M221.7 357.9h0M152.8 147.4h0M187.8 433.3h0M229.7 320.7h0M223 387.7h0M187.3 413h0M169.8 209.7h0M194 162.9h0M212.1 377.5h0M207.9 209.1h0M159 263.6h0M208.5 217h0M248.4 382.8h0M170.9 203.7h0M150.7 152.5h0M234.7 237.3h0M143.1 140h0M229.8 364.3h0M224.1 218.1h0M378.1 210.2h0M224.3 325.9h0M214 176.7h0M243.2 381.8h0M190.6 413h0M185.9 374.1h0M398.8 199.6h0M235.5 266.6h0M171.2 139.9h0M245.9 362.8h0M297.6 187.3h0M220.9 210.1h0M187.6 215.3h0M381 177.3h0M447.7 191h0M210.9 312.4h0M204.2 227.8h0M220.1 403.5h0M204.9 291.7h0M152.9 122.5h0M169.4 189.1h0M154.8 198.2h0M182.3 247.5h0M251.2 275.8h0M224.2 316h0M210.8 245.3h0M152.1 196.6h0M230.9 241.3h0M179 157.2h0M202.2 177.6h0M176.8 190.8h0M232.6 301h0M224.9 204.5h0M234.8 308.6h0M233 374.8h0M195.6 320.8h0M181.1 283.8h0M210.1 345.2h0M236.1 354.6h0M209.9 236.7h0M242.7 367.5h0M250.5 317.7h0M210.6 365.8h0M246.4 283.8h0M180.4 393.9h0M220.3 169.6h0M171.7 290.8h0M215.2 203.1h0M443.7 207.9h0M200 197.3h0M191.3 430.2h0M353.1 186.4h0M172.1 200.2h0M212.4 385.3h0M234.3 343.7h0M195.2 432.7h0M184.5 191.1h0M232.3 193.3h0M231.3 324.8h0M197.3 433.4h0M217.3 390.8h0M209 195.4h0M229.7 367.7h0M355.1 204.8h0M452.2 192.5h0M168.5 255.1h0M151.7 184.1h0M162.1 204.2h0"/>
<path stroke="#ff0000" d="M185.3 99.7h0M362.7 225.6h0M229 134.9h0M260 145.8h0M228.4 107.1h0M244.2 160h0M195 88.2h0M264.7 258.1h0M251 164.5h0M222.4 145.4h0M210.1 122.8h0M238.7 204.5h0M242.9 192.9h0M431.1 197.1h0M225.3 104h0M194.9 146.3h0M207.5 132.5h0M237.2 238.6h0M258.4 190h0M239.1 186.5h0M242.1 225.5h0M237 140.2h0M248.6 214.6h0M214.8 148.6h0M263.9 207.6h0M227.4 92.3h0M190.8 257.1h0M306.5 179h0M250.9 251.9h0M244 287.7h0M228.8 155.1h0M408.6 217.8h0M244.1 184.6h0M196.7 233.7h0M198.3 91.8h0M255.6 127.1h0M251.4 143.8h0M200.2 101.1h0M236.7 200h0M166.8 128.5h0M244.5 247h0M224.3 117.1h0M198.4 143.9h0M228.8 234.4h0M196.3 121.8h0M182 222h0M205.4 156.3h0M205.2 153.6h0M234.3 196.5h0M236.8 146.5h0M215.6 213.8h0M218.6 110.1h0M239.6 114.4h0M254.9 255.8h0M255 181.2h0M208.3 151.9h0M255.7 200h0M264.9 141h0M165 167.7h0M159.4 122.1h0M244.8 221.7h0M212.8 161.8h0M258.2 142.8h0M245.1 229.1h0M224.9 113.9h0M154.6 199.5h0M210.9 103h0M217.9 340.6h0M210 98.5h0M222.1 161.9h0M256.9 215.3h0M238.1 97.4h0M227.4 112h0M216.9 178.3h0M234.3 224h0M243.5 117.3h0M227.5 168.3h0M264.2 205.1h0M246.7 225.6h0M387.1 192.9h0M305.6 170h0M377.2 218.2h0M250.4 154.7h0M194.1 96.8h0M209.6 176.6h0M211.8 138.9h0M424.4 212.6h0M251.5 180.9h0M409.2 220.9h0M232.4 217.4h0M404.9 219.9h0M221.4 202h0M408.9 205.1h0M204.7 148.9h0M418.6 220.8h0M244.5 119.9h0M249.1 235.8h0M239.7 266.5h0M245.6 119.1h0M253.1 212.5h0M312.4 165.7h0M260.2 243.4h0M177.4 115.9h0M401.5 211.6h0M231.9 258.6h0M191.1 90.9h0M258.5 148.5h0M236 165.4h0M228.1 105.3h0M267.6 186.4h0M265.7 224.9h0M197.8 137.9h0M244.4 112.5h0M197 228.3h0M253.2 193.2h0M255.1 224.4h0M267.9 225.3h0M278.5 131.6h0M179.5 122.3h0M242.7 190.9h0M211.5 119.7h0M220.2 199.9h0M256 135.4h0M185 232.2h0M253.9 226.1h0M217.2 186.2h0M199 116.5h0M258.1 209.9h0M228 179.2h0M261.8 199.4h0M246.2 204.8h0M250 312h0M257.7 182.6h0M231.7 138.9h0M232.6 228.2h0M241.9 129h0M283.2 137.1h0M204.7 164.3h0M380.2 219.1h0M231.1 96h0M200.9 158.6h0M251.1 148.4h0M395.3 222.3h0M415.4 196.8h0M384.1 205.4h0M261.9 264.5h0M260.4 146.6h0M251.2 169.8h0M213.7 156.2h0M248 212.5h0M197.9 339.6h0M257.1 272.1h0M231.1 253.9h0M240.3 142.5h0M246.3 140.8h0M192.4 180.1h0M224.3 240.9h0M238.7 170h0M252.1 208.2h0M177.9 128.5h0M217.8 153.4h0M266.2 197.5h0M196.8 143.1h0M183.3 132h0M195.8 153.4h0M214 90.9h0M225.1 152.1h0M218.6 171.6h0M249.1 192.4h0M219.6 115.7h0M231.5 101.2h0M220.1 117.1h0M305 164.2h0M242.3 153.8h0M203.8 117.7h0M230.4 99.9h0M410.3 210.6h0M231.8 163.1h0M160.8 126.8h0M215 90.8h0M232.6 207.2h0M475.4 198.4h0M207.4 327.2h0M243 272.6h0M304.9 199.3h0M253.1 115.6h0M240.7 174.2h0M249.7 203.2h0M227.5 191.4h0M238.7 244.1h0M202.9 157.8h0M243.3 183.5h0M201.2 135.3h0M257.2 190.1h0M260.9 187h0M266.2 222.7h0M245.3 104h0M258.1 270.7h0M201.4 130.1h0M190.3 254.8h0M191.5 140.3h0M222.7 159.6h0M225.8 260.3h0M215.2 111.1h0M214.8 184.8h0M245.1 198.3h0M179.4 103.7h0M239.6 176.1h0M206 106.9h0M367.6 178h0M220.7 282.5h0M195.6 251h0M223.1 136.9h0M189.5 150.3h0M236.5 195.7h0M203.5 118.5h0M249.4 109h0M255 244.8h0M243.5 136.8h0M243.3 228h0M229.2 125.8h0M227.8 258.6h0M256.5 127.1h0M256.4 181.9h0M173.7 113.8h0M238.5 202.2h0M207.8 152.1h0M196.5 138.2h0M208.2 122.2h0M203.3 160.3h0"/>
<path stroke="#ff0000" d="M376.8 231.7h0M241.2 202.9h0M205.6 128.4h0M280.3 145.9h0M237.8 214.2h0M245.8 110h0M245.7 189.4h0M194.3 190.6h0M362.9 164h0M216 164.2h0M255.1 237h0M205.7 121.6h0M190.8 113.8h0M237.6 213.2h0M315.1 162h0M231.3 165.1h0M204.4 135.5h0M188.6 107.1h0M189.3 237.5h0M263.2 186h0M246.9 235.6h0M236.3 144.1h0M239.9 271.8h0M260.6 146.4h0M234.7 212.4h0M314.9 176.3h0M230.2 206.9h0M251.4 237h0M250.6 183.7h0M220.9 202.3h0M261.7 194.7h0M212.2 196.8h0M232.5 267.1h0M311.2 146h0M226 192.7h0M177.6 183.6h0M223.4 103.1h0M209.6 96.6h0M201.8 115.1h0M261.7 244.7h0M210.4 238.3h0M196.7 111.5h0M195.5 147.9h0M201.8 120.6h0M226.1 118.8h0M217 92h0M242.1 250.6h0M238.1 132.4h0M254 169.4h0M211.7 128.2h0M246.5 194.3h0M251.9 264.8h0M204.8 89.4h0M241.8 201.5h0M237.4 261.4h0M224.5 190.9h0M245.9 154.5h0M208.1 180.4h0M252.6 154.1h0M254.4 251.2h0M346.5 164h0M320.1 189.9h0M206.1 169.3h0M197.1 250.4h0M242.2 154h0M234.6 257.8h0M151.2 188.4h0M240.8 164.5h0M236 186.9h0M249.5 184h0M230.4 237.6h0M227.4 214.2h0M243.8 246.8h0M186.7 95.9h0M196.8 154.5h0M232.2 240.6h0M242 217h0M233.8 287.2h0M399.9 225h0M220.5 155.8h0M238.5 206.7h0M206 141h0M251.4 242.8h0M241.8 255.1h0M348 156.6h0M204.7 111.5h0M252.9 216.8h0M165.2 127.4h0M223.7 207.3h0M260 153.1h0M252.8 252.8h0M231.9 164.7h0M193.3 110.7h0M248.4 197.1h0M248.1 147.7h0M260.4 241.1h0M239.7 174.2h0M253.4 235.7h0M256.3 250.2h0M262.8 226.3h0M287.5 193h0M206.4 267.9h0M252.3 157.4h0M212 215h0M251.6 209.9h0M187.9 102.1h0M205.4 115.3h0M268.6 223.2h0M196.5 144.4h0M251 254h0M206.8 97.1h0M243.3 244.3h0M371.7 219.2h0M392.8 204.7h0M267.7 166.2h0M223 105.8h0M231.3 240.8h0M217.7 193.5h0M256.9 198.4h0M192.7 132.5h0M220 221.8h0M245.3 235.9h0M192 150.6h0M213.8 228h0M231.9 187.9h0M219.6 189.5h0M224.8 144.1h0M241.5 145.3h0M248.7 271.7h0M262.7 228.9h0M213.1 111.1h0M391.1 205.1h0M260 137h0M263.8 139.5h0M241.1 174.6h0M198.5 239.2h0M190.8 119.1h0M387.5 222.8h0M234.5 226.1h0M265.2 201.2h0M452.2 214.1h0M226.5 153.2h0M221.5 136.7h0M235.5 135.6h0M422 197.7h0M382.3 213h0M404.2 192.1h0M242 181.2h0M264.8 161.2h0M230.3 161.1h0M233.3 159.1h0M203.6 94h0M233.5 267.9h0M262.4 206h0M246.6 200.3h0M230.6 241h0M188.2 104.5h0M225.9 111.9h0M257.1 199.8h0M254.2 136.9h0M464.2 185.3h0M189 104.3h0M264.7 223.3h0M180.3 144.4h0M231.5 88.3h0M181.9 133.8h0M365.8 170.9h0M404.8 211.5h0M253.1 260.1h0M255.9 144.4h0M225.8 185.4h0M214.6 201.2h0M422.4 202.1h0M240.6 136.5h0M280.7 164.1h0M244.8 164.3h0M370 218.8h0M214.8 140.5h0M237.3 113.8h0M237.6 169h0M241.2 290.6h0M208.2 107h0M237.7 191.5h0M246.2 194.4h0M175.7 215.4h0M216.8 187.6h0M257.3 137.7h0M220.4 185.5h0M248.5 184.3h0M147.8 170.3h0M254.9 208.8h0M239.6 118.3h0M234.7 280.5h0M233.9 248.4h0M159.6 290.7h0M211.2 128.4h0M200.7 158.1h0M253.7 256.3h0M232.5 234.1h0M232.7 105.2h0M216.9 109.6h0M258.4 115.2h0M179.6 117.2h0M246 149.5h0M265.6 191.9h0M241.4 265.6h0M206.8 90.4h0M209.5 140.5h0M261.9 215.7h0M254.3 266.7h0M252.1 276h0M246.6 211.3h0M249.6 110.9h0M197.3 86.8h0M207 103.1h0M243.3 206.9h0M367.1 183.4h0M225.5 143.6h0M293.1 166.4h0M235.1 262.2h0M250.7 140.6h0M250.3 207.3h0M255.6 138h0M221.8 236.7h0M203.8 143.9h0M226.5 244h0M203.7 247.3h0M260.3 196.1h0M201.7 91.1h0M200.6 109.9h0M252.1 118.3h0M236.5 160.2h0M229 172.2h0M212.1 99.6h0M198.5 128.7h0"/>
<path stroke="#0000ff" d="M239.4 319.3h0M223.8 202.7h0M269 324.1h0M192.4 210.9h0M231.2 360.6h0M454.2 201h0M162 122.5h0M251.2 353.9h0M201.4 198.6h0M210.6 413.7h0M203.3 405.3h0M245.3 291.5h0M181.5 322.4h0M227.9 205.3h0M196.9 274.6h0M220 308.8h0M204.7 173.1h0M235.9 219.3h0M192.6 202.5h0M429.9 216.2h0M220.9 219.7h0M197.3 286.4h0M179 274.2h0M441 207.8h0M242 291.6h0M208.7 195.7h0M175.7 154.9h0M194.9 106.9h0M171.7 292.7h0M204 207.1h0M208.3 346.3h0M222.3 393.2h0M208.7 263.9h0M211.5 376.4h0M246.3 360.2h0M209.7 177.1h0M219.5 360.9h0M177.9 377h0M213.9 220.4h0M215.1 413.7h0M240.4 306.7h0M201.5 242.5h0M205.5 177.8h0M223 408.3h0M198.9 225.6h0M184.9 181h0M209.5 375h0M245.4 266.3h0M202.1 208.1h0M212.3 390.8h0M238.2 374.9h0M196.9 391.6h0M214.3 365.9h0M143.3 153.8h0M180.6 406.2h0M252 283.8h0M182 200.7h0M194.7 174.2h0M211.2 345.5h0M250.4 314.7h0M234 370.3h0M253.6 343.7h0M242.1 288.3h0M177.3 200h0M204.7 396.5h0M251.1 363.6h0M238.8 369.8h0M226.9 350.2h0M337 187.8h0M146.3 160.3h0M393 207.2h0M434.2 218.6h0M183.6 184.5h0M202.3 374.8h0M221 206.9h0M433 204.1h0M237.5 329.7h0M183.1 226.9h0M223 411.5h0M237.2 224.8h0M218.6 300.2h0M188.2 191.9h0M211.8 412.1h0M206.7 356.4h0M234.5 304.2h0M214.5 345.9h0M227.3 362.4h0M421.7 205.7h0M222.8 197.3h0M210.2 310.4h0M452.1 191.4h0M186.7 199.3h0M172.2 181h0M173.5 402.9h0M243.3 383.5h0M208.4 224.2h0M222.8 411.7h0M191.2 428.2h0M199.6 196.8h0M245.1 267.7h0M195.5 305.4h0M265.5 298.8h0M232.6 356.2h0M216 380.3h0M190.5 397.2h0M237.6 324.4h0M135.9 148.2h0M193.5 210.8h0M407.8 194.6h0M210.3 416.1h0M196 183.4h0M172.1 207.1h0M263.7 305.8h0M170.8 246.1h0M223.5 354.2h0M219.1 394.8h0M214.7 219.1h0M369.7 232.3h0M249.5 312.2h0M188.7 421.6h0M240.4 372.2h0M183.4 181.2h0M169.3 149.4h0M247 286.7h0M428.1 204.5h0M221.1 384.4h0M372.8 223.3h0M229.4 345.7h0M226 235.3h0M230.3 381.4h0M192.2 213.4h0M368.8 185h0M241.3 354.1h0M168.5 418.6h0M170.8 149.2h0M194.7 365.2h0M240.4 297.8h0M235.9 265.2h0M231.7 262.7h0M255.6 313.6h0M230.1 229.1h0M155.7 170h0M204.5 177.9h0M481.7 194h0M188.6 315.6h0M209.8 378.9h0M171 250.8h0M263 314.5h0M463.3 183.9h0M211.9 391.3h0M223.4 367.3h0M162.5 212.4h0M185.6 208.5h0M244.7 341.1h0M238.3 332.2h0M141.6 162.6h0M143 133.1h0M192 206.3h0M218 176.1h0M239.5 317.4h0M251.6 380h0M224.4 379.2h0M201.7 438.9h0M231.8 354.1h0M356.1 186.4h0M194.7 317.6h0M174.6 159.1h0M253.4 347.4h0M180.2 368.2h0M247.1 378.2h0M230.1 289.6h0M242.4 305.1h0M257.9 286.5h0M221.5 368.8h0M231.8 404.2h0M182.9 167.3h0M180.4 313.2h0M226.8 383.6h0M252.6 294.2h0M231.5 359.6h0M230.4 308.5h0M437.7 193.5h0M231.5 404.3h0M217.4 419.5h0M235 314.3h0M193.3 213.6h0M204.1 204.5h0M237.3 341.5h0M155.1 284.1h0M220.6 336.7h0M269.4 306.7h0M148.5 160.2h0M251.5 322.6h0M200.4 304.4h0M147 245.3h0M216.2 355.8h0M247.4 287.2h0M196 396.2h0M275.1 170.7h0M160.3 233.4h0M434.4 200.4h0M219 406.7h0M251.2 325h0M239 291h0M184.4 311.7h0M218.2 242.8h0M405.3 228.2h0M240.1 374.5h0M247.4 300.4h0M162.7 118.4h0M207.5 184h0M181.9 169.4h0M446.4 189.9h0M228.5 344.8h0M194.1 337.2h0M219.8 373.8h0M236 345.7h0M229.4 417.7h0M237.6 336.3h0M236.2 365.8h0M216.6 364.5h0M212.7 182.5h0M232.3 190h0M185.1 145.3h0M468.7 195.8h0M140.5 131.9h0M242.3 320.1h0M261.2 262.3h0M166.8 140.5h0M206 335.4h0M174.6 296.4h0M204.1 365.7h0M209.3 349.8h0M227.2 294.4h0M259.3 277.9h0M204.2 202.6h0M226.3 377h0M173.8 409.2h0M235.7 322.3h0M210.8 238.4h0M207.4 214.9h0M174.2 165.2h0M229.1 325.7h0M215.5 419.9h0M254 262.9h0M197.9 183.2h0M182.8 226.6h0M168.4 233.4h0M235.7 238h0M432.3 218.4h0M217.9 181.2h0M222.7 302.6h0M162.7 158.9h0M227 343.3h0M330.7 203.8h0M154.8 144h0M178.6 311.3h0M173.7 160.6h0M252.8 276.3h0M216.3 311.5h0M203.6 194.9h0M199.1 171.7h0M254.9 284.7h0M256.1 313.1h0M337.8 181.6h0M196.1 224.3h0M292.8 139.4h0M175 144.2h0M249 366.5h0M234 230.2h0M235.6 289.8h0M198.1 351.2h0M230.6 376.9h0M264.3 304h0M150.4 195.9h0M196.3 196.3h0M195.9 411.1h0M232 277.7h0M413.5 202.7h0M260.6 312.4h0M455 197.7h0M189.6 116.8h0M242.1 331.6h0M177.9 156.7h0M191.6 97.1h0M462.4 206.2h0M202.1 98.6h0M207.2 123.6h0M205.3 436.9h0M184.5 204h0M207.8 216.6h0M221.4 289.4h0M247.8 286.1h0M220.7 411.4h0M239 330.9h0M219.2 210.4h0M225.5 217h0M161.6 133.5h0M217.9 355.7h0M219 251.1h0M202.4 348.6h0M218.7 332h0M223.6 349.8h0M199.1 332.8h0M200.3 319.3h0M447.1 202.2h0M408.5 226.5h0M241.4 356.5h0M225.1 182.4h0M147.9 213.6h0M236.8 357.4h0M206.9 428.4h0M194.8 202.8h0M249 307.6h0M207.1 416.7h0M157.5 133.5h0M220.5 189.4h0M193.5 196.7h0M155.4 183.7h0M259.7 330.4h0M195.9 221.2h0M218.3 258.5h0M185.1 386.4h0M213 402.1h0M176.6 247.7h0M174.6 181.8h0M198.2 442.5h0M172.5 419.4h0M242.8 339.5h0M226.6 210.5h0M204.8 203.8h0M169.2 223.6h0M157 137.2h0M192.3 393.3h0M206.2 346.3h0M158.2 201.7h0M207.7 180.5h0M165.6 423.1h0M255.5 272.1h0M374.8 211.4h0M389 212.2h0M259.9 293.6h0M182.1 227.9h0M220.7 396.8h0M202.1 176.7h0M199.1 225.6h0M208.5 267.3h0M474 197.1h0M217.1 419.7h0M155.1 145.8h0M231.7 350h0M222.7 194.8h0M177 204.6h0M172.1 140.7h0M230.6 252h0M206.4 268h0M471.3 180.3h0M160 286.4h0M246.2 294.4h0M458.5 207.8h0M269.6 309h0M189 260.4h0M209.3 348.6h0M471 190h0M212.2 336h0M176.8 297.6h0M464.6 204.6h0M233.8 267.4h0M441.1 218.4h0M182.9 432h0M228 369.9h0M174.6 406.7h0M211.7 419.6h0M250.2 338.6h0M420.1 207.6h0M208.9 229h0M144.1 155.1h0M236.3 375.1h0M208.2 341.9h0M203 184h0M168.4 421.8h0M226.1 341.3h0M242.7 280.1h0M170.1 146.9h0M207.5 361.7h0M209.4 323.1h0M227.3 390.4h0M219.8 195h0M219.8 322.6h0M438.4 214.4h0M217.6 243.4h0M368.7 188h0M249.1 363.3h0M195.9 128.1h0M187.3 384.9h0M229.4 403.9h0M177.1 422.4h0M180.2 364.1h0M206.2 182.8h0M171.3 183.9h0M232.2 295.2h0M334.1 201.3h0M200.8 368.3h0M225.9 363.5h0M147.9 171.6h0M426.4 201.6h0M233.5 285.6h0M246.9 355.2h0M243.7 283.4h0M172.5 173.1h0M219.4 315.5h0M390.1 219.7h0M448.3 181.6h0M212.4 267.5h0M230.1 400.8h0M181.6 180.4h0M205.6 190.7h0M215.6 303.8h0M220.4 382.4h0M174.3 166.9h0M213.2 181.1h0M425.5 211.8h0M166.3 158.2h0M212 368.2h0M236 237.6h0M181.4 146.1h0M196.2 261.8h0M182.9 424.5h0M200.6 163.6h0M206.6 317.7h0M177.3 164h0M176.9 129.8h0M417.7 220h0M168.7 420.2h0M391.7 227.7h0M219.9 315.2h0M176.7 384.7h0M232.9 204.5h0M226.6 341.1h0M245.8 353.9h0M218 340.2h0M207.5 326.2h0"/>
<path stroke="#0000ff" d="M455.4 188.2h0M252.9 315.4h0M225.4 344h0M195.3 383.4h0M453.3 196.6h0M402.2 191.9h0M452 209.9h0M234.4 340.7h0M227.5 388h0M251.3 253.7h0M215.7 409.5h0M141.4 149.8h0M227.6 336.8h0M448.9 217.1h0M171.8 302.8h0M238.7 211h0M199.5 185.6h0M350.2 200h0M166 157.2h0M230.3 312.9h0M180.6 148.5h0M214.9 355.3h0M175.5 413.3h0M474.7 197.1h0M306.9 201.5h0M158.9 274.8h0M229 341.2h0M211.6 352.2h0M205.5 409.6h0M479.3 178.9h0M237.6 321.4h0M176.7 151h0M236.9 386.6h0M452.1 193.8h0M159.3 133.4h0M205.4 387.5h0M387 226.4h0M455.6 200.6h0M206.9 328.1h0M454.2 209.1h0M184.1 143.6h0M206.7 377.7h0M388.1 213.3h0M222.4 295.9h0M185.2 111.4h0M172.6 214h0M256.1 299.7h0M211.1 175.3h0M203.3 233h0M258.5 308.1h0M192.8 216.9h0M191.5 427.1h0M221.1 337.7h0M227.3 169h0M243.9 323h0M172.1 400h0M241.2 366.9h0M231.1 254.6h0M189.7 225.6h0M205.8 197.8h0M155.7 154.6h0M240.6 273.5h0M217.4 363.1h0M207.3 358.2h0M216.1 372h0M259.6 330.3h0M143.7 131.7h0M264.5 318h0M195.9 172.7h0M206.7 381.9h0M210.6 324.7h0M222.2 306.6h0M252.1 232.3h0M209.5 359.2h0M209.1 206.2h0M459.1 193.9h0M212.7 343.5h0M191.5 123.7h0M240 338.5h0M239.7 342.4h0M459.9 206.3h0M184 178.1h0M248.8 384.7h0M163.3 128.4h0M163.6 191.3h0M227.2 172.2h0M179.9 182.2h0M240.2 335.6h0M200.8 384.3h0M156.2 234.9h0M386.6 187.3h0M237.7 307.3h0M243.6 345.2h0M212 413.7h0M146.3 152.3h0M200.6 176.5h0M248.3 349h0M189.3 424.3h0M204.5 346.8h0M145.3 238.1h0M175.2 284.9h0M221.8 347.1h0M233 299.7h0M209.4 368.3h0M186 148.4h0M238.3 350.4h0M240.6 374.7h0M173.6 197.7h0M196.9 408.8h0M214.7 184.3h0M228.7 410.9h0M351.3 191.5h0M268.7 297h0M222.1 174.4h0M228.9 326.5h0M146.5 152.9h0M189.2 196.8h0M241.4 317.4h0M260.9 312.1h0M216.4 378h0M194.3 222.9h0M227.7 292h0M143.2 170.2h0M232.5 342.4h0M147.7 177.3h0M229.7 304.3h0M159.3 141.6h0M199.9 215.9h0M205.7 177.2h0M158.7 165.7h0M228.8 295.2h0M212.8 220.6h0M192.1 162.9h0M164.1 129.7h0M222.5 358.9h0M212.3 381.1h0M187.9 183.2h0M221.6 167.1h0M227.7 303.6h0M224.6 193.7h0M159.8 169.2h0M232.1 314.8h0M169.7 202.3h0M229.1 190.2h0M206.6 215.6h0M270.9 302.8h0M225.3 364.5h0M220.4 170.3h0M222.5 184h0M183.3 143.4h0M225.1 222.5h0M201.3 167.4h0M176.2 167.3h0M255.9 313.5h0M164 169.3h0M202.5 183h0M158.8 131.9h0M243.3 313.3h0M256.4 331.6h0M253.5 310.6h0M213.7 194.6h0M142.3 139.1h0M200.7 351.2h0M157.9 159.1h0M230.3 322.7h0M228.4 230.6h0M148.1 166.9h0M219.6 237h0M264.9 305.8h0M222.1 193.3h0M211.9 212h0M167.6 190.8h0M151.3 146h0M220.9 213.1h0M197.6 192.6h0M262.1 288.1h0M212.9 204.4h0M227.2 183.6h0M246.2 327.5h0M235.7 323h0M259.5 296.5h0M243.5 325.9h0M160.8 198.7h0M265.6 324.2h0M154.6 146.9h0M186.4 174.3h0M200.2 175.7h0M162.2 126.2h0M162.2 187.1h0M231.8 236.2h0M244.3 315h0M206 166.3h0M272.8 299h0M234.1 313h0M202.7 351.3h0M149 161.1h0M207 195.3h0M191.5 155.4h0M219.8 166.8h0M206.4 198.3h0M225.6 373.3h0M188 197.3h0M153.7 185.2h0M220.7 291.6h0M265.7 312.3h0M168.9 170.2h0M224.6 225.1h0M204.3 185.9h0M222.2 376.8h0M250.2 243.8h0M234.7 225.4h0M211.4 374h0M197 220.5h0M253.9 307h0M214.3 216.8h0M195.4 175.3h0M228 231.5h0M203.4 175.1h0M223.7 313.5h0M220.5 350.6h0M230.5 228.8h0M171.9 181.3h0M236.6 379.9h0M230.7 364.2h0M235.8 372.2h0M240.1 281.1h0M191.5 200.1h0M223 305.2h0M220.2 379.1h0M145.9 128.3h0M184.8 119.1h0M221.5 202.8h0M215.9 181.8h0M254.6 302.4h0M211.9 204.5h0M216.4 193.3h0M202.2 192.3h0M234.6 301.9h0M253.3 296.4h0M177.1 207.8h0M260.4 316.6h0M233 382.3h0M222.5 345.2h0M207.4 348.3h0M183.4 192.6h0M232.8 363.6h0M156.8 157.2h0M184.6 182.8h0M265.6 287.7h0M182.2 214.7h0M224.2 222.8h0M209.3 229.6h0M157.4 170.3h0M264.2 309.9h0M218.8 227.2h0M220.3 369.8h0M200.6 230h0M253.6 287.2h0M232 203.6h0M209.2 194h0M232.9 374.5h0M163.4 151.3h0M209.7 186.6h0M202.4 188.1h0M261.4 328.1h0M238.4 201.7h0M239.3 246h0M237.2 325h0M186.3 143.1h0M151 134.2h0M243.8 366.6h0M204 352.7h0M221.1 234.6h0M226.3 323.4h0M177.1 159.5h0M178.6 137h0M188.8 143.4h0M162.4 154h0M229.7 199.3h0M166.1 186.3h0M189.7 213h0M163.5 192.4h0M216.2 177.3h0M230 216.5h0M203.7 105h0M157 140.9h0M164.4 132h0M226.3 168.9h0M160.4 125.6h0M182.8 191.5h0M224.3 232.4h0M227 238.2h0M163.6 207.3h0M163.7 181.8h0M179.3 103.3h0M233.1 230h0M222.4 211.8h0M218.6 182.3h0M158.8 173.5h0M207 216.4h0M220.7 220.3h0M204.3 213h0M148.7 123.7h0M173.9 140.8h0M179.9 207h0M192.1 128.3h0M220.1 197h0M169.9 170.5h0M193.6 165.3h0M158.7 141.4h0M222.1 238.8h0M232.3 211.8h0M169.5 136.1h0M185.8 196.3h0M210.8 193.9h0M153.3 169.6h0M144.8 164.2h0M178.2 216.2h0M209.9 176.3h0M202.9 168.8h0M238.5 214.7h0M138.9 137.7h0M224.5 181.6h0M205.3 205.7h0M185.4 110h0M173.3 170.9h0M181.5 153h0M196.1 191.1h0M193.3 203.7h0M174.1 158.7h0M229.1 221.5h0M149.9 164.3h0M170.2 200.9h0M156.5 139.8h0M240.9 238.6h0M195.2 212.5h0M224.9 223.3h0M222.8 168.7h0M195.6 191.3h0M215.5 177.4h0M212.5 176.7h0M224.2 178.4h0M220.7 208h0M205.8 199h0M217.1 210.9h0M223.5 211.6h0M223.6 209.4h0M237.4 219.2h0M217.3 210.4h0M206.5 208.8h0M222.3 205.4h0M220.6 184.4h0M202.7 95h0M208 209.9h0M193.4 171.7h0M202.9 177.9h0M189.2 132.8h0M218.8 198.8h0M229.4 212.3h0M209.6 203.3h0M203.5 204.5h0M219.8 175.4h0M229.2 183.7h0M194.9 126.5h0M234.6 219.7h0M237.8 213.9h0M239.9 266.3h0M220.8 171.5h0M196.2 94.6h0M204.3 180.4h0M201.3 190.1h0M182.5 108.6h0M224.7 191.9h0M231.4 207.3h0M253.8 241.6h0M223.6 173h0M195 183.4h0M201.4 168.2h0M218.5 166.3h0M182.3 125.4h0M183.8 114.1h0M237.9 225.2h0M227.1 174.7h0M221.7 164.4h0M230.3 195.4h0M220.5 193.6h0M227.8 206.9h0M221.5 208.5h0M211.2 186h0M201.9 182.4h0M212.7 214.5h0M231.7 187.7h0M226.6 216.6h0M243.8 225.8h0M186.3 93.4h0M481 161.8h0M315.4 130.4h0M139.3 363.7h0M337.9 240.7h0M343.8 241.6h0M348.3 243.6h0M346.2 255.5h0M366.6 255.5h0M330.5 271.2h0M325.4 278.6h0M345.9 291.9h0M308.2 288.1h0M293.4 285.1h0M283.9 298.8h0M306.2 263.2h0M282.5 263.8h0M162.4 354.2h0M168.9 376.4h0M174.9 375.8h0M257.3 347.4h0M251.9 358.6h0M296.4 204.5h0M305.3 209h0"/>
<path stroke="#ff0000" d="M249.1 236.5h0M243 222.9h0M260.8 225.9h0M240.4 182.8h0M364.2 198.9h0M261.9 125.9h0M243.6 111.8h0M255.8 213.9h0M250.4 156.5h0M237 223.7h0M220.4 149h0M211.5 162.7h0M241.8 226.7h0M195.6 123.4h0M220.1 134.3h0M345.1 187.9h0M232.2 268.7h0M252.5 235.9h0M202.5 90.4h0M193.4 116.8h0M385.9 207.7h0M228.7 99h0M249.6 105.2h0M241 184h0M226.5 176.7h0M369.7 175.4h0M255.9 132.5h0M218.4 172h0M224.9 110.5h0M248.3 220.4h0M247.7 236.9h0M241.3 201.7h0M198.9 106h0M294.7 208h0M260.5 206.8h0M229.7 166.5h0M201.9 272.2h0M267.3 218.6h0M203.7 84.5h0M245.5 258.6h0M237.6 124.9h0M258.8 239.1h0M232.4 113.8h0M235.5 236h0M240.6 243h0M262.5 214.7h0M247.3 114.7h0M216.4 161.1h0M246.6 168.5h0M193.8 113.1h0M200.6 160.2h0M241.3 120.6h0M183 116.5h0M416.8 195.7h0M253.9 170.9h0M220.8 177.6h0M224.5 97.7h0M227.4 111.4h0M185.5 211.4h0M245.9 189.2h0M385.8 218.9h0M254.1 190.3h0M229 192.5h0M151 179.2h0M231.3 216.8h0M257.1 295.8h0M222.5 85.3h0M228.5 113.7h0M166.5 132h0M190.3 182h0M234.6 108.9h0M231.6 224.6h0M206.6 120.2h0M269.9 213.4h0M236.6 257.9h0M231.7 240.1h0M257.3 270h0M177.8 132.4h0M231.9 190.8h0M216.6 174.2h0M252.1 243h0M252.4 117.6h0M236.2 223.8h0M207.7 105.9h0M194.3 91.5h0M194.6 109.3h0M197.5 91h0M242.4 145.9h0M209.5 123.3h0M236.8 116.4h0M227.8 132.1h0M216.4 156.7h0M180.5 134h0M255.8 187.5h0M219.4 82.8h0M264.2 152.4h0M217.1 106.6h0M217.5 169.3h0M231.5 201h0M244.9 224.3h0M241.4 208.6h0M261 167.2h0M220 201.5h0M213.9 82h0M247.9 242.9h0M227.6 116.9h0M227.1 126.3h0M246.8 267.1h0M258.4 227.9h0M170.9 209.5h0M151.4 146.7h0M221.8 185.1h0M232.8 243.9h0M264.9 184.3h0M202.6 133.5h0M199.3 117h0M239 107.6h0M237.2 245.5h0M250.1 134.9h0M249.8 235h0M234 166.9h0M216.1 154.8h0M260.3 239.1h0M238 143.1h0M235.2 198.4h0M237.2 194.9h0M194 212h0M259.2 163.4h0M253.3 219.4h0M181.5 128.3h0M232.9 154.5h0M201.8 113.3h0M186.9 137.5h0M246.3 169.9h0M229.3 105.4h0M214.6 156h0M185 98.2h0M252.8 196.4h0M263.7 223.8h0M252 236.7h0M231 189.3h0M213 132.4h0M247.6 168.3h0M261 154.9h0M231.6 139.4h0M264.4 191.7h0M184.9 124.6h0M220.5 108.9h0M229.8 191.8h0M262.8 179h0M263.4 255.6h0M191.6 128.8h0M211.2 140.7h0M234.9 204.3h0M207.8 99.7h0M228.2 253.3h0M242.1 176.8h0M247 160.6h0M229.7 106.4h0M243.7 259.5h0M259.9 195.4h0M221 187h0M177.9 127.1h0M227.9 123.2h0M247.9 254.4h0M247.4 229.3h0M217.5 142.4h0M216.3 173.3h0M261.9 147h0M187.2 130.2h0M217.9 140.9h0M206.9 154.6h0M263 208.8h0M221.4 128.7h0M181.5 137.4h0M213.8 106.8h0M215.4 146.3h0M239.3 170h0M208.1 172.9h0M221.8 119.4h0M256.6 147.4h0M251 165.6h0M249.7 182.1h0M254.5 244.9h0M226.8 187.8h0M241.4 215.7h0M209.5 88.2h0M214 189.6h0M204.9 177.2h0M242.4 101.4h0M155.6 125.6h0M229.8 180.4h0M206.9 162.8h0M191.2 117.8h0M227.4 190.2h0M250.4 182.3h0M269.1 216.1h0M257.1 188.4h0M216.8 82.4h0M239.4 275.6h0M221.1 108.3h0M241.4 137.8h0M204.6 223.9h0M166.3 134.3h0M233.2 245.4h0M216.4 195.6h0M245.8 249h0M239.7 216.7h0M169.2 189.9h0M257.9 238.5h0M233.1 231.4h0M156 167.1h0M253.2 235.5h0M172 207.9h0M253.6 256.2h0M234.7 239.7h0M233.4 247.8h0M192.7 166.5h0M255.3 256.4h0M169.9 131h0M174.6 141.9h0M248 268.7h0M245.3 237.2h0M173.4 142h0M204.9 170.6h0M249.7 239.8h0M251.8 240h0M229.9 259.3h0M233.4 237.1h0M236.7 244.9h0M246.2 254.2h0M214.7 191.7h0M230.9 180.9h0M249.8 230.6h0M246.1 236.1h0M245 262.4h0M198.4 169.5h0M198.8 177.1h0M218 193.1h0M200.1 186h0M196.9 176.5h0M222.1 227.2h0M274.7 122.1h0M283.6 134.9h0M302.3 251.9h0M298.8 260.2h0M275.6 231.2h0M278.6 235.6h0M287.5 228.2h0M291.9 225.8h0M351.2 218.4h0M360.1 237.1h0M362.2 229.7h0"/>
</g>
<g transform="translate(980 2020)" fill="none" stroke-linecap="round" stroke-width="5.6">
<path stroke="#bebebe" d="M189.9 230.9h0M135.7 230.2h0M112.1 134.2h0M141 136.9h0M122.5 273.2h0M181.7 260.8h0M103.2 230.4h0M181.3 212h0M114 293.6h0M114.6 262.9h0M143.9 278.5h0M148.8 161.7h0M156.6 177.9h0M204.7 176.1h0M106.9 198.5h0M152.2 210.1h0M288.1 116.1h0M146.2 263h0M127.6 367.8h0M125.2 146.2h0M153.2 186.3h0M152.7 154.2h0M103.1 228h0M164.1 167.1h0M436.9 160.7h0M118.8 383.1h0M190.3 245.7h0M146.9 201.1h0M244.6 159.1h0M150.4 109.3h0M219.5 186.7h0M153.2 211.1h0M117.1 248.8h0M153.9 204.5h0M274 164.5h0M125.3 391h0M107.9 297.8h0M280.7 101.3h0M148 85.6h0M101.9 253.2h0M176 223h0M402.4 166.1h0M163.2 101.3h0M103.1 275h0M118.6 91.9h0M133.4 289.9h0M184.8 247.4h0M137.8 243.4h0M166 210.5h0M125.6 343.8h0M158.1 198.4h0M116.9 241.7h0M168.8 88.9h0M139.6 231.6h0M108 388.3h0M189.2 250.6h0M121.4 168.8h0M148.5 148.2h0M112.6 380.3h0M210.8 188.4h0M113.2 273.5h0M144 219.4h0M107.6 233h0M191.3 82.5h0M161.5 255.8h0M125.5 78.5h0M103.3 260.5h0M129.3 371.2h0M127.9 227.7h0M128.3 377.5h0M162.7 196.5h0M274.4 116.7h0M123.8 377.9h0M355.6 150h0M118.4 160.7h0M120.1 217.8h0M145.4 238.4h0M145.3 104.4h0"/>
<path stroke="#00ffff" d="M372.9 181.8h0M262.6 93.6h0M387.4 172.9h0M438.1 152.5h0M248.8 103.9h0M294.4 134.7h0M157.5 106h0M255.4 117.6h0M287.1 162.5h0M416.3 155h0M290.2 115.5h0M355.6 137.7h0M396.4 178.6h0M293.9 130.6h0M384.6 177.6h0M309.2 121.6h0M360.5 167h0M375.2 151.6h0M386.2 171.6h0M368.9 179.9h0M333.9 174.5h0M345 175h0M382.1 178.4h0M130.1 216.1h0M248.1 121.1h0M138.9 227.9h0M227.1 94.3h0M313 138h0M385.4 171.1h0M377.9 153.5h0M359.2 166.8h0M362.6 136.4h0M306.1 161.9h0M382.2 167.1h0M423.5 156.5h0M310.7 128h0M302 122.1h0M273 105.3h0M377.7 169.1h0M214.2 107.1h0M390.1 159.6h0M270.6 133.4h0M438.9 153.8h0M180 255.2h0M439.6 166.6h0M237.8 159.5h0M439.4 164.7h0M245.2 107.8h0M300 142.5h0M302.6 132.3h0M291.5 134.1h0M223.8 93.1h0M359.1 181.7h0M274.9 108.5h0M398.4 152.1h0M239.2 156.6h0M279.6 114.5h0M387.5 157.9h0M313 126.8h0M343.5 180h0M182.3 260.7h0M400.3 160.8h0M337.2 140.7h0M402.5 176.2h0M370.6 176.8h0M378.6 165.1h0M191.5 227.2h0M328.2 128.9h0M291.5 120.1h0M392.6 178.7h0M280.9 116.5h0M443.6 160.7h0M273.3 162.5h0M441.4 164.6h0M262.8 113.8h0M324.3 141.8h0M383.4 162.3h0M200.4 214.8h0M223.9 102h0M337.5 144h0M365.9 164.7h0M404 173.1h0M353.5 147.3h0M256.2 90.9h0M241.1 102.8h0M383.9 155.5h0M200 97.8h0M199.5 102.4h0M386.8 178.3h0M255.9 95.1h0M246.7 129.3h0M291.4 123.2h0M318.6 123.7h0M204.9 193.7h0M267.5 123.3h0M233.9 121h0M362.8 165.3h0M393.9 152.4h0M331.6 136.7h0M442.4 165.7h0M271.6 132.8h0M405.3 165h0M393.7 162.6h0M364.3 178h0M358.7 165.9h0M305.1 124.5h0M374.2 148.5h0M422.7 165.9h0M302 114.1h0M358.2 152.6h0M422 170.4h0M191.3 209.1h0M143.2 165.5h0M373.3 178.9h0M252.3 86.2h0M384.1 160.9h0M414.6 167.8h0M428.1 154.7h0M228.4 89.7h0M330.1 128h0M205.8 89.5h0M420.9 165.2h0M271 106.2h0M377.1 179.6h0M381 177.9h0M244 122h0M290.8 104.9h0M230.8 163.9h0M426.4 162.2h0M368.9 146.8h0M389.4 159.3h0M376.3 180.7h0M330.6 140h0M388.4 158.7h0M289.6 121.5h0"/>
<path stroke="#000000" d="M127.9 196.1h0M135.9 208.7h0M139.2 280.5h0M159 259.9h0M158.3 241.4h0M144.5 297.1h0M112.4 155.5h0M157.5 160.5h0M124.4 276.1h0M167.5 192.8h0M140.3 286.5h0M110 164h0M116.3 237.9h0M141.1 225.6h0M131.6 284.7h0M161.8 262h0M163.7 149.6h0M149.5 312.5h0M110.4 140.5h0M123.5 247.3h0M176.6 239.4h0M167.4 153.5h0M132.8 150.6h0M105.8 143.2h0M183.1 244.9h0M107.5 230.3h0M116.1 260.5h0M103 147.1h0M143.9 165.1h0M114 262.5h0M145.1 297.3h0M135.5 236.3h0M145.3 317.8h0"/>
<path stroke="#ff0000" d="M149.2 224.9h0M223.2 106.4h0M183.5 251.1h0M168.6 235.6h0M112.9 138h0M146.7 115.5h0M189.9 241.5h0M162.2 159.5h0M141.5 163.3h0M145.6 93.8h0M443.5 154.1h0M157.4 185.8h0M186.5 197.1h0M188.1 194.6h0M136.5 245h0M174.3 211.5h0M101.3 145.3h0M160.8 208.2h0M224.4 186.4h0M155.7 88.2h0M241.4 112.8h0M185.1 245.7h0M126.1 245.2h0M332.2 143.1h0M118.1 388h0M159.5 231.9h0M334.5 151h0M126.1 51.7h0M112.2 115.1h0M106.3 237.8h0M164.3 69.9h0M145 182h0M155.7 162.7h0M149.6 79.1h0M111.5 77.3h0M102.6 119.7h0M137.4 83.3h0M179.9 78.7h0M118.2 378.7h0M110.8 92.8h0M119.7 74.1h0M117.6 125.9h0M204.1 221.8h0M103.4 118.3h0M108.4 372.3h0M109 393h0M176.2 191.5h0M129.7 54.5h0M161.5 242.3h0M129.2 58.4h0M115.1 95.9h0M169 78h0M108.5 115.9h0M107.2 330.8h0M146.5 57.6h0M116.4 64.6h0M115.1 157.5h0M164.2 91h0M202.1 183.3h0M157.6 188.4h0M173 70.7h0M138.4 109.7h0M103.8 146.1h0M184.1 86h0M132.9 68.3h0M174.4 68.4h0M165.1 80.8h0M125.5 69.4h0M182.6 76.7h0M104.2 194.1h0M126.5 86.1h0M122.7 321.6h0M110 118.9h0M146.3 138.7h0M171.1 249.9h0"/>
<path stroke="#a020f0" d="M133.2 253.6h0M296.1 121.7h0M153.8 112.4h0M106.2 176.6h0M144 93h0M195.6 228.9h0M153.8 88.3h0M165 100.4h0M164.6 97.6h0M110.7 158.8h0M120 79h0M166 73.9h0"/>
<path stroke="#0000ff" d="M123.9 250h0M120.1 326.1h0M115.5 397.7h0M124.5 362.3h0M107.9 303.7h0M107.4 290.2h0M125.1 326.8h0M121.3 383.8h0M107.2 360.7h0M119.3 307.1h0M109.7 254.5h0M131.4 352.8h0M108.4 369.5h0M114 351.9h0M109.9 394.3h0M119.4 393.5h0M109.9 154.4h0M172.2 221.7h0M124.8 326.7h0M145.9 294.7h0M113 399.5h0M114.7 370.7h0M147.2 245.1h0M168.7 222h0M114.8 342.1h0M108.7 340.7h0M102.9 132.6h0M118.6 359.3h0M118 406h0M105.8 326h0M107.8 275.1h0M103.7 358h0M122.7 350.4h0M119.5 341h0M117.3 295.3h0M105.3 329.6h0M106.3 327.3h0M108.6 338h0M119.5 391.5h0M125.3 393.4h0M119.9 358.5h0M167 169.7h0M114.8 267.2h0M115.8 403.4h0M129.6 325.5h0M130.3 340.4h0M148.9 189.6h0M129.4 286.3h0M121.2 367.6h0M124.3 151.5h0M153.1 235.7h0M111.1 367.1h0M148 284.6h0M106.1 329.7h0M108.9 345.5h0M102.2 174.2h0M116.5 284.1h0M134.9 232.9h0M117 387.1h0M126.2 379.5h0M120.1 345h0M124.5 362.4h0M127.8 323.1h0M118 371.3h0M155.7 161.1h0M171.7 187.6h0M116.2 279.8h0M116.2 366.9h0M100.4 244.5h0M174 220.2h0M121.1 344h0M108.6 261.9h0"/>
<path stroke="#00ff00" d="M178 192.7h0M180.6 258.3h0M150.7 159.4h0M114.8 201.1h0M129.9 237.1h0M118.6 157.3h0M116.2 244.6h0M170.1 185.6h0M130.4 147.4h0M167.7 204.6h0M104.2 187.3h0M110.4 181.1h0M177.5 252.2h0M130.7 264.9h0M112.5 188.2h0M182.2 239.3h0M118.3 157h0M112.9 276.4h0M118.9 164.2h0M183 191.3h0M133.2 344.2h0M140.4 165.3h0M153.1 287.6h0M148.3 285.3h0M156.9 195h0M170.2 245.5h0M115.1 251.8h0M124.8 260.4h0M112.1 179.6h0M160.2 165.1h0M116.6 190.9h0M127.9 332.5h0M101.8 182.2h0M100.3 149.3h0M108.4 227.5h0M164.9 241.1h0M178 250h0M165.2 204.5h0M117.4 166h0M170.1 242.7h0M118.9 238.9h0M157.5 256.2h0M158.3 253.3h0M130.1 352.7h0M126.6 260h0M125.5 252h0M116.2 203.2h0M179 221.5h0M151 266.4h0M99 247.1h0M163.5 206.3h0M141.6 209.3h0M122.6 250.6h0M150.2 110.3h0"/>
<path stroke="#ffa500" d="M128.4 88.6h0M174.5 95.1h0M143.6 294.2h0"/>
<path stroke="#0000ff" d="M156.3 279.5h0M115.6 350.6h0M105.7 329.2h0M107.6 246.5h0M100.9 136.7h0M121.3 295.3h0M134.1 343.2h0M113.8 335.3h0M124.2 330.3h0M120.6 208h0M133.9 157.3h0M118 407.8h0M105 232h0M147.9 311.1h0M112.8 327h0M110.4 384.3h0M120.6 363.5h0M113.9 224.5h0M151.6 158.1h0M130.6 347.9h0M165.4 271.1h0M106.7 334.1h0M122.2 402.5h0M134 278.6h0M138 220.1h0M112.4 269.5h0M125.6 346.6h0M116.8 274.5h0M106.2 323.1h0M130 329.7h0M110.8 287.9h0M102 221.4h0M111.5 276.2h0M123.2 236h0M101.6 235.2h0M121.7 367.2h0M109.2 396.3h0M120.5 404.8h0M173.3 227.8h0M124.1 362.2h0M116.1 296h0M108.3 245.7h0M119.4 365.2h0M113.6 308.3h0M109.8 358.6h0M113.8 335.4h0M104.9 333h0"/>
<path stroke="#bebebe" d="M144.2 170.6h0M120.6 285.4h0M108.5 352.6h0M128.8 304.5h0M286.2 116.5h0M157.7 253.7h0M167.8 211.4h0M114 234h0M164.4 224.4h0M103.5 147.7h0M116.7 399.3h0M235.6 100.6h0M116.3 138.6h0M143.5 196.7h0M140 156.1h0M121.3 376.2h0M228.9 193.8h0M159.6 253h0M126.4 199.4h0M193.4 182.9h0M121.6 142.5h0M283.5 161.5h0M106.3 160.3h0M119.4 369.4h0M115.1 212.2h0M119.8 57.7h0M145.2 89h0M107.5 245.2h0M104.5 297.5h0M159.8 144.1h0M159.7 235.2h0M147.3 142.9h0M179.5 69.2h0M165.4 73.4h0M126.3 226.6h0M123.2 372.3h0M140.9 170.6h0M171.2 213.3h0M142.9 233.6h0M202.4 186.7h0M126.8 88.5h0M105 220.9h0M122 181.5h0M136.9 156.5h0M255.3 122h0M193.3 231.8h0M129.1 51.2h0M164 264.1h0M144.9 199.3h0M120.3 252.7h0M163.4 115.6h0M344.5 164.9h0M165.9 246.6h0M186.5 130.9h0M118.8 392.8h0M113.7 248.1h0M142.1 301.5h0M165.5 222.5h0M173.9 212.9h0M147.7 75.3h0M123.5 240.8h0M123 142.4h0M147 264.8h0M127.5 363.3h0M332 168h0M150.3 225.6h0M148 69.8h0M173.1 161.7h0M110.8 272.8h0M112.1 251.2h0M146.5 166h0M223.1 174.8h0M108.3 373.3h0M189.7 169h0M156.8 229.8h0M132.6 145.6h0M128.9 198.5h0"/>
<path stroke="#00ffff" d="M110 182.3h0M436.3 159.1h0M253.8 161.5h0M363.1 172.9h0M264.8 99.3h0M243.2 110.3h0M357.6 161.8h0M384 164.5h0M137 88.8h0M183.2 190h0M320.3 125.2h0M374.1 177.9h0M345.1 150.3h0M370 148.6h0M299.8 136.4h0M380.4 160.7h0M347.3 151.8h0M248.2 106.7h0M375 166.8h0M371.3 181.7h0M333.6 144.9h0M251.5 85.4h0M335.1 164.7h0M362.6 178.4h0M376.1 157h0M273.7 128.4h0M355 180.4h0M277.6 98.9h0M434.6 159h0M234 90.1h0M256.4 128.2h0M374.2 173h0M156.2 104.9h0M399.9 170.2h0M347.8 142.3h0M311.5 142.9h0M417.8 171.3h0M442.3 164.5h0M418.4 159.6h0M287.1 132.2h0M397.3 159.6h0M335.6 147.5h0M394 159.7h0M163.2 107.9h0M361.3 168.1h0M370.2 156.5h0M332.7 144.9h0M419 161.6h0M346.6 142.2h0M335.3 130.2h0M427.5 160.5h0M309.3 125.1h0M327.5 122.2h0M427.2 166.9h0M289.5 120.4h0M411.6 159.8h0M297.6 113.9h0M444.8 158.8h0M370.2 184h0M290.6 125.2h0M307.1 130.3h0M420.7 171.2h0M222.7 186.5h0M386.3 157.8h0M158.6 113.6h0M301.2 135h0M312.5 128.5h0M428.9 152.4h0M431 168.6h0M255.4 99.9h0M301.8 122.5h0M414.2 162.3h0M154.9 119.9h0M413.7 175.4h0M343.8 146.4h0M290 130h0M356.1 178.8h0M403.4 164.9h0M149.9 207.3h0M438.1 160h0M187.8 236.2h0M442.6 165.4h0M360.3 154.1h0M288.9 105.5h0M328.2 138.6h0M241.4 103.8h0M309.9 119.6h0M381.4 171.4h0M418.6 152.5h0M357.7 153h0M346.4 140h0"/>
<path stroke="#000000" d="M106.4 181.9h0M125.3 313.5h0M105.9 165.3h0M109.5 160.1h0M151.3 168.2h0M110.3 200.1h0M177.1 223.6h0M191.1 244.3h0M120.8 240.7h0M154.5 169.4h0M144.9 166.7h0M152.7 181h0M154.7 199.9h0M131.2 132.2h0M116.5 163.6h0M127.9 159.6h0M146.2 181.5h0M143.2 241.2h0M121.9 181.4h0M164.2 238.2h0M152.8 142h0M135.5 310.2h0M110 203.9h0M133.7 185.8h0M174.3 250h0M188 240.2h0M155.8 188.8h0M137.9 335.8h0M168.5 282.9h0M145.6 334.7h0M159.7 190.8h0M109.1 134.4h0M187.3 266.5h0M123.6 269.5h0M143 346h0M153.9 240.9h0M140.3 351.5h0M172.8 284.4h0M176.1 291.2h0M142.6 199.9h0M152.5 332.7h0M169.8 262h0"/>
<path stroke="#ff0000" d="M183.4 83.4h0M123.9 71.7h0M116.9 94h0M120.3 68.2h0M114.7 98.4h0M152.2 76.8h0M189.3 114.6h0M106.1 68.4h0M101.7 88.5h0M115.2 75.7h0M110.9 76.7h0M106.9 138.7h0M98.9 93h0M174.7 62.6h0M148.8 87.3h0M151.8 68.2h0M180.3 108.1h0M137.8 54.4h0M144.6 204h0M112.9 92.2h0M162.3 205.2h0M109.7 71.3h0M147.2 61.2h0M170.9 246.8h0M101.5 82.7h0M105.4 62.8h0M124.8 143.5h0M153.2 92.3h0M111 118.1h0M188.4 205h0M146.8 255.2h0M106.1 123.3h0M108.2 315h0M98.5 104.5h0M148 70.4h0M149.4 57.8h0M107.1 74.9h0M132.1 238.5h0M346.2 153.7h0M167.5 115.8h0M119.7 244.4h0M174.5 67h0M154.4 70.2h0M170.9 62.7h0M105.5 117.4h0M114.1 122.1h0M123.6 154.8h0M116 97.3h0M141.2 98.8h0M138.7 255.4h0M115.9 116h0M128 58.8h0M119.2 398.7h0M117.5 58.3h0M98.7 67.1h0M137.8 52.3h0M139.5 67h0M150.5 59.3h0M128.6 162.8h0M175.5 117.5h0M168.4 241.3h0M117.8 100.9h0M104.3 357.2h0M141.1 62.4h0M141.1 83.2h0M147.3 178.4h0M99.2 82.1h0M177.4 87.6h0M180.9 71.9h0M181.7 71h0M138.4 195.6h0M110 71.4h0M104.9 249.1h0M145.8 53.3h0M358.7 175.3h0M157.3 84h0M159.4 205.7h0M127.3 84.4h0M154.5 105.9h0M106.8 82.3h0M119 98.8h0M100.5 70.5h0M104.8 169.1h0M102.6 114.7h0"/>
<path stroke="#a020f0" d="M169.1 181.9h0M177.6 192.1h0M163.4 98.9h0M213.1 100.2h0M241.4 125.5h0M178 183.5h0M148.7 168.4h0M172.1 66.9h0M125.2 187.4h0M148.6 88h0M149.6 250.3h0M301.8 137.7h0M109.3 71.1h0M169.4 122.4h0M185.4 155.9h0M124.9 111.4h0M135.2 94.6h0M127.3 96.4h0M135.3 102.4h0M161.7 113.2h0M197.2 235.2h0M178.7 65.9h0M122.5 198.7h0M123.9 101.1h0"/>
<path stroke="#00ff00" d="M116.9 253.7h0M143.2 142.6h0M153.4 158.7h0M135.1 343.3h0M194.6 167.3h0M198.3 149.6h0M182.7 259.5h0M152.5 304.8h0M180.8 124.7h0M137.2 225h0M135.9 202.4h0M161.3 86.1h0M109.9 226.8h0M162.2 211.1h0M150.7 235.3h0M139.8 160.1h0M143.4 238.4h0M184.9 109.2h0M165.8 188.4h0M175.4 156.8h0M150.5 215h0M143 226.2h0M145.3 258h0M193 163.5h0M146.6 228.9h0M178.3 122.2h0M152.1 252.2h0M138.4 83.4h0M101.7 175.1h0M181.3 134.5h0M198.1 162.7h0M145.7 239h0M191 139h0M160.8 253.5h0M173.9 107.7h0M144.8 81.7h0M125.2 231.1h0M119 164.8h0M192.4 176.3h0M171.6 121.8h0M148.2 250.2h0M146.8 232.2h0M166.5 148.4h0M110.3 252.7h0M182.6 107.9h0M153.4 181.9h0M107.4 233.6h0M181.4 117.6h0M150.3 245.7h0M120.3 313.5h0M189.3 101h0M153.8 283.9h0M199.1 160.4h0M200.5 152.6h0M173.8 120h0M144.7 254h0M190.4 154.9h0M179.3 119.7h0M191.4 150.2h0M140.4 198.1h0M158.1 211.7h0M184.8 139.9h0M152.4 204.5h0M139.7 251.2h0M171.2 192.9h0M174.9 252.6h0M184.4 132.9h0M155.8 146.8h0M189.3 248.3h0M155.6 239.4h0M188.1 145.2h0M184.3 124.7h0M171.2 147.4h0M180.8 243.6h0M127.4 254.1h0M176.4 161h0M139.3 232.7h0M155.5 263.4h0M177.4 254.2h0M117.6 219.6h0M138.7 321.7h0M153.6 147.1h0M163.5 100.1h0M125.2 253h0M186.3 223.3h0M159.9 231.6h0M144.2 265.7h0M144.9 238.4h0M147.5 251.1h0M188.2 187.4h0M107.7 353.1h0M168.9 212.8h0M121.9 213.9h0M169.1 109h0M144.1 257h0"/>
<path stroke="#ffa500" d="M133.3 125.1h0M227.8 196.1h0"/>
<path stroke="#000000" d="M181.6 291.7h0M183.2 249.6h0M144.8 156.8h0M192.3 289.9h0M138 358.8h0M158.1 212.1h0M149 352.6h0M163.2 300.7h0M153.6 316.6h0M167.7 254.3h0M150.7 345.1h0M115.5 177.3h0M145.6 316.7h0M134.7 201.8h0M163.9 197.7h0M151.3 324.4h0M154.3 347.5h0M165.5 284.6h0M139.5 168.6h0M188.1 284.2h0M162.5 326.7h0M146.5 144.1h0M120.2 255.4h0M145.7 322.3h0M161.6 193.8h0M189 291.8h0M141.7 320.1h0M170.7 171.7h0M173.5 302.8h0M120.9 162.5h0M147.8 316.7h0M187.1 278h0M126 258.2h0M143.8 328.9h0M108.3 371h0M174.5 286.1h0M148 324.1h0M103.4 186.9h0M186.4 291.5h0M144.6 340.2h0M181.7 267.6h0M146.8 324.6h0M165 255.1h0M144 321.7h0M159.2 304.2h0M180 285.3h0M157.1 347.1h0M174.7 299.1h0M162.7 185h0M191.7 244.7h0M183.2 299.6h0M167.7 173.5h0M145.8 229.9h0M195.1 279.3h0M124.7 143.6h0M148.6 309.6h0M131.3 266.1h0M182.4 275.4h0M152.2 201.3h0M141.3 323.6h0M126.5 186.2h0M185 288.4h0M171.4 306.6h0M153.3 158.1h0M188 283.2h0M145.8 327.6h0M143.3 357.8h0M147.4 284.5h0M155.9 292h0"/>
<path stroke="#ff0000" d="M109.4 378.7h0M121.9 167.9h0M130.2 261.5h0M118.7 233.9h0M110 102.2h0M106.4 121.2h0M102.6 94.1h0M176.6 189.2h0M121 57.4h0M117.3 86.8h0M173.7 236.8h0M139.6 144.6h0M100.5 93.2h0M120.4 90h0M101 74.1h0M121.8 77.3h0M157.3 234.1h0M138.4 65.6h0M153.4 58.1h0M153.3 61.5h0M220.4 188.9h0M102.8 93.3h0M104.7 117.8h0M145.5 79.2h0M174 263.4h0M156.2 59.4h0M185.4 75.7h0M119.5 57h0M178.4 80.6h0M145.8 113.2h0M169.5 75.3h0M190.9 138.3h0M127.3 58.8h0M121.5 72.3h0M163.2 117.3h0M323.4 137.3h0M239.1 85.4h0M176.1 84.9h0M132.7 106.3h0M125.9 71.2h0M188.9 81.3h0M138.1 240.3h0M113.5 92.9h0M131 73.6h0M152.4 55.4h0M112.7 123.5h0M225.8 90.5h0M158.9 69.8h0M137.9 235.2h0M100.8 103h0M313.8 145.9h0M194.7 81.5h0M109.6 388.3h0M164.2 165.3h0M174.6 200.8h0M107.8 93.8h0M106.6 271.7h0M161.6 55.3h0M106.5 183.7h0M188.1 100h0M106.1 98.8h0M187.8 214.6h0M114.7 107.6h0M181 77.1h0M158.8 76.8h0M115.9 154.5h0M160.3 190.9h0M106.7 127.4h0M125.9 75.8h0M146.3 80.6h0M161.6 72.2h0M314.2 165.7h0M104.5 115.6h0M116.8 86.8h0M182.5 76.2h0M192 84.5h0M108.3 123.6h0M145 265.6h0M188.9 99.2h0M163.7 138.4h0M167 167.2h0M168.3 60.2h0M161.3 80.4h0M131.7 128.7h0M316 142.7h0M181.7 69.2h0M139.1 74.2h0M115.7 101.8h0M157.7 77.9h0M347.6 140.3h0M225 179.9h0M148.4 237.4h0M154.2 70.6h0M153.7 66.3h0M112.9 64.8h0"/>
<path stroke="#00ff00" d="M140.4 101.1h0M158.7 245.2h0M170 229.7h0M149.7 197.5h0M161 208.2h0M183.2 176.6h0M188.4 145.2h0M168.8 242.3h0M181 155h0M131.7 246.2h0M200.8 172.8h0M118.3 133.3h0M130.4 282.3h0M143.5 218.4h0M154.6 245.2h0M199.4 151.2h0M168.2 190.2h0M142 233.1h0M158.7 241.6h0M132.2 236.7h0M148.6 248.2h0M187.5 128.2h0M149.3 250.1h0M131.6 194.8h0M135.8 242.7h0M182.4 152.8h0M183.6 107.1h0M157.9 256h0M174.2 165.5h0M193.9 161.3h0M120 256h0M124.2 251.2h0M133.3 189.6h0M187.6 96.6h0M141.3 162.1h0M151.2 303.2h0M187.4 250.6h0M192.3 258.3h0M133.5 91.7h0M191.1 157.8h0M116.9 295.5h0M190.7 249.2h0M115.7 207.3h0M143.7 272.7h0M177.2 235.9h0M157.4 180.2h0M181.6 122.9h0M190.4 106h0M141.5 195.1h0M128.6 83.5h0M176.4 129.4h0M184.5 179.9h0M152.3 103.6h0M132.8 243.2h0M172.3 268.5h0M123 243.3h0M182.2 112.6h0M183.1 118.2h0M108.8 230.4h0M127.8 246.6h0M190.9 114.7h0M195 256.9h0M169.6 155.8h0M164.1 225.7h0M145.8 264.4h0M190.9 237.9h0M150 168.1h0M136.1 152.2h0M144.8 251.7h0M133 258.7h0M195.4 138.8h0M174.4 126.2h0M163.7 230.7h0M189.1 251.2h0M179 203h0M136.9 267.6h0M162.2 149.4h0M173.1 100.2h0M185.9 131.7h0M178.9 236.3h0"/>
<path stroke="#bebebe" d="M107.6 323.8h0M154 343.5h0M143.1 218.6h0M113.3 385.5h0M154.8 199.1h0M127.5 377h0M165.9 191.7h0M103.5 154.1h0M277.7 164.1h0M121.9 383.2h0M180.1 235.1h0M114.2 381.8h0M213 100.5h0M112.4 165.1h0M122.6 157.7h0M174.4 225.1h0M136.9 296.4h0M114.9 234.9h0M304.2 137h0M171.9 261.7h0M103.7 264.5h0M127.5 82.9h0M156.3 159.2h0M167.3 215.1h0M123.1 227.7h0M137.1 346.4h0M111.7 261.8h0M116 222.3h0M135.3 235.8h0M116.3 295.6h0M193.5 151.2h0M119.5 176.8h0M151.4 307.9h0M173 74.4h0M165.7 222.2h0M167.5 86.1h0M113.1 146.5h0M147.7 88.9h0M128.8 197h0M130.8 327.8h0M150.8 146.4h0M203.5 214.1h0M101 168.2h0M107.7 326.6h0M181.1 243.1h0M117.7 241.9h0M168.3 218.6h0M133 151.5h0M185 262.5h0M156.4 297.1h0M120.7 161.7h0M123.7 223.1h0M143.6 259h0M119 361.6h0M148.9 151.7h0M117.1 382.7h0M149.2 67.3h0M177.9 147.4h0M102.5 280.7h0M131.7 295.7h0"/>
<path stroke="#00ffff" d="M382.5 156.5h0M269.3 120.3h0M297.1 120.5h0M209.7 191.9h0M385.2 163.3h0M296.6 126.7h0M434.1 164.3h0M334.8 144.6h0M387.3 172.2h0M449.6 163.8h0M401.3 160.1h0M234.2 88.2h0M441 161.3h0M446.4 164.4h0M265.3 121.7h0M272 114.7h0M397.7 171.5h0M267.9 95.1h0M212 191.6h0M193.6 248.4h0M357.6 165.1h0M420.5 161.7h0M412 159.3h0M338.5 142.9h0M264.5 104.9h0M244.3 96.5h0M422.6 162.2h0M129.8 157.5h0M229.3 108.3h0M369.3 158h0M434.2 154.5h0M308.8 139.9h0M354 175.7h0M124.7 135.1h0M299.2 133.5h0M419.4 166.3h0M229.6 113.4h0M397.4 161.8h0M353.3 171.6h0M319.1 138.2h0M302.7 124.1h0M147.3 110.9h0M286.6 120.7h0M403.9 177.1h0M219.3 177.9h0M293.1 128.5h0M125.9 65.6h0M109.2 258.4h0M378.3 168.5h0M379.9 148.4h0M240.7 120.1h0M340.9 141.5h0M293.2 111.4h0M263.1 93.4h0M270.4 137.2h0M370.5 181.6h0M158.3 106.1h0M186.1 243.6h0M387.2 176h0M433.9 165.4h0M366.8 162.2h0M407.9 155.1h0M369.1 185.5h0M235.3 103.3h0M407.6 163.9h0M159.1 141h0M388.4 158.1h0M281.7 132.3h0M393.1 154.5h0M295.6 132.2h0M390.8 152.4h0M142.7 137.2h0M446.3 157.5h0M262.5 135.1h0M420.3 158.9h0M284.8 112.2h0M326.3 131.2h0M203.2 109.8h0M278.2 109.1h0M271.9 93.1h0M238.6 123.8h0M434.5 158.2h0M392.1 176.2h0M416.1 156.3h0"/>
<path stroke="#0000ff" d="M116 363.2h0M121 339.4h0M110.8 234.4h0M119.7 352.7h0M146.8 203.5h0M130.1 147.4h0M160.4 197.8h0M113.4 272h0M120.4 353.2h0M149.3 239.8h0M120.4 360.1h0M154.1 248.5h0M107.2 254.4h0M134.6 347h0M117.2 151.1h0M148.8 281.3h0M107.4 330.4h0M126.8 339.6h0M110.4 252.5h0M102.3 311.8h0M124.8 163.5h0M123.7 378.5h0M173.5 162.7h0M105.3 352.1h0M115.8 394.8h0M107.2 394.7h0M101.4 183.2h0M126.3 381.9h0M124.8 364.6h0M126.7 349.9h0M130.5 341.4h0M132.9 361.4h0M104.5 277.1h0M131.1 259.9h0M119.6 381.7h0M107.8 311.7h0M115.7 351.6h0M129.2 343.8h0M116.9 298.4h0M103.9 313.6h0M101 248.7h0M119.8 384.8h0M126.3 296.1h0M113.8 296.3h0M120.8 330.4h0"/>
<path stroke="#ffff00" d="M329 166h0M318.2 163.4h0M320.9 165.7h0"/>
<path stroke="#a020f0" d="M137.7 109.1h0M121.3 98.1h0M119.6 98.7h0M123.4 90.9h0M304.7 115.6h0M158.4 319h0M205.3 239.5h0M160 96.8h0M121.8 109.7h0M266.9 103h0M242.7 92.4h0M160.2 95.3h0M134.4 104.3h0M317.7 137.9h0M126.5 94.2h0M139.5 220.2h0M111.9 77.1h0M139.4 139.4h0"/>
<path stroke="#ffa500" d="M143 125.7h0M142.5 130.9h0M188.7 166.4h0M144.9 128h0M126.2 121.5h0M161 62.5h0M162.8 134.3h0M165.6 136h0"/>
<path stroke="#000000" d="M189.5 292.8h0M171.6 309.5h0M157.2 332.4h0M176 279.1h0M184.7 293h0M169.7 196.1h0M168.7 305h0M188 279.9h0M175.5 302.6h0M160.3 146h0M146.9 320.6h0M190.8 235.4h0M172 308.3h0M169 292.5h0M155.8 334.2h0M172.7 287h0M159.8 337.8h0M140.1 336.9h0M152.5 297.2h0M157.2 289.1h0M191 283.3h0M189.2 281.9h0M163.8 249.8h0M132.6 210.2h0M157.1 337.2h0M172.6 282.8h0M121.1 275.1h0M179.1 289.6h0M157.4 292.1h0M134.1 135.3h0M168.9 288.3h0M130.1 274.9h0M164.3 164.9h0M178.6 291.8h0M156.2 332.2h0M125.4 173.6h0M138.2 333h0M120.2 317.1h0M173 301h0M185.8 267.7h0M171.7 303.9h0M194.8 282.7h0M142.8 345.5h0M163.8 313.8h0M110.6 219.6h0M145.4 197.5h0M189.8 240.9h0M149.6 314.5h0M135.5 176h0M118.5 190.4h0M178.5 301.1h0M179.2 283.8h0M145.5 293.4h0M145 346.1h0M145.4 297.6h0M183.4 287.6h0M107.8 402.1h0M173.7 280h0M151 315.9h0M147.2 339.9h0M150.5 181.2h0M127.7 162.4h0M155.7 307.2h0M130 316.5h0M142.8 335.1h0M165.7 299.2h0M146.7 294.9h0"/>
<path stroke="#00ffff" d="M438.5 160.2h0M290.6 159.6h0M444.9 162.1h0M316.2 128.5h0M260.8 125h0M371.6 162.1h0M308.8 140.3h0M230.4 192.8h0M174.8 236.5h0M433.5 155.6h0M274.3 134.3h0M319.4 137h0M370.7 161.3h0M426.9 151.1h0M263.9 111.8h0M297.4 121h0M225.8 106.3h0M380.5 160.6h0M301.7 114.5h0M330.9 147.9h0M368.7 146.6h0M344.8 138.8h0M266.8 113.2h0M388.1 155.2h0M394.3 154.1h0M351.2 154.3h0M271.2 95.1h0M377.7 165.5h0M392.8 158.1h0M446.7 158.8h0M420.4 153h0M319.3 162.8h0M287.1 130.6h0M299.2 140.4h0M403.7 172.5h0M303.9 120.5h0M426.7 152.1h0M395.6 160.9h0M256.3 127.4h0M261.9 112.1h0M425.2 157.2h0M265.5 127h0M437.4 158.2h0M445.8 155.1h0M172.6 202.5h0M361.9 164.5h0M275.4 98.5h0M408.4 154.6h0M441.2 159.3h0M280.7 112.7h0M273 159.4h0M350 168h0M358.6 146.1h0M274.7 160.2h0M354 140.5h0M315.1 134h0M268.7 92.8h0M361.2 166h0M319.6 130.4h0M368.6 166.6h0M396.1 166.1h0M369.2 185.1h0M248.3 126.7h0M292.5 113.2h0M387.1 174.3h0M387.1 155.6h0M281.3 135.6h0M404.5 155.6h0M392.1 178.9h0M421.6 157.4h0M235.4 111.7h0M232.3 158.6h0M234.3 110.2h0"/>
<path stroke="#00ff00" d="M149.7 120.3h0M175.3 237h0M101.5 239.6h0M128.9 250.3h0M177.9 101.6h0M178.4 111.4h0M191.2 249h0M127.7 95.6h0M142.9 256.7h0M185.5 121.5h0M150.9 269.1h0M184 236.2h0M111.3 137.9h0M168 262.8h0M141.9 238.4h0M152.3 202.5h0M169.8 249.2h0M196.4 161.9h0M134.3 232.7h0M181.9 224.4h0M140 179.6h0M180.1 227.4h0M186.1 146.8h0M160.8 250.8h0M179.4 99.6h0M185 131.2h0M122.5 337h0M178.7 251.3h0M124.7 201.2h0M164.6 107.1h0M157.5 152.4h0M158.5 253.4h0M193.8 179.1h0M185.4 143.9h0M196.7 179.8h0M164.1 269.4h0M147.9 196.4h0M174.8 154.2h0M138.5 200.6h0M146.6 99.8h0M153.7 178.1h0M190.1 259.7h0M108.6 268.3h0M142.3 272.4h0M195.1 149.8h0M131.7 290.7h0M177.2 131.5h0M141.4 229h0M177.2 175.5h0M176.1 100.4h0M156.1 121h0M180.5 125.7h0M172.3 128.3h0M164.3 99.5h0M133.1 246.3h0M140.5 241.9h0M160.2 297.3h0M188.1 201.8h0M134.5 255.9h0M126.4 143.2h0M194.1 246.1h0M106.9 169.3h0M111.3 169.6h0M152.3 266.4h0M156.8 247.1h0M177.2 222.3h0M147.1 171.2h0M180.7 249.6h0M176.3 169.7h0M130.7 178.4h0M131.1 255.2h0M133 224.7h0M149.4 263.3h0M150.5 101.5h0M191.3 165h0M190.8 240.1h0M102.6 189.8h0M149.7 104.3h0M124.4 255.5h0M128.6 243.3h0M190.9 114.4h0M154.1 241h0M160.7 248.4h0M202 174.4h0M107.4 173.3h0M117.4 135.1h0M179.4 252.9h0M178.3 96.4h0M154.9 268h0M152 139.9h0M108.2 166.3h0M151.1 241.5h0M181.1 256.1h0M117.1 247.7h0M122.2 261.1h0M200.8 163.1h0M135.5 244h0M189.9 112.4h0M194.4 152.9h0M160.5 132.5h0M157.1 237.6h0M175.7 234.4h0"/>
<path stroke="#ff0000" d="M156.1 263.8h0M112.4 89.6h0M350.5 170.9h0M120.4 75.4h0M162.8 81.8h0M118 184.5h0M133.4 82.6h0M124.1 194.7h0M377.1 147.7h0M105.5 77.4h0M174.8 86.7h0M174.3 77.6h0M186.6 78.7h0M125.2 223.5h0M156 90.2h0M151.5 262.1h0M152.7 68.1h0M128.6 65.7h0M181.2 91.9h0M142.6 112.2h0M176.9 70.4h0M159.6 66.4h0M115.9 113.8h0M126.5 73.9h0M190.5 240.2h0M145.5 257.2h0M124.9 55.9h0M98.9 107.3h0M155.3 139.2h0M108.4 184.4h0M173.9 75.2h0M160.1 78h0M161.9 65.2h0M166.6 206.3h0M146.4 166.3h0M180.8 78.7h0M104.4 125h0M204 188.6h0M158 266.6h0M144.1 215.3h0M105.9 372.1h0M114.6 111.2h0M146.6 267.9h0M167.1 179.3h0M125.7 59.8h0M132.6 77.4h0M108.5 77.1h0M107.5 114.5h0M106.2 80.1h0M135.8 92.7h0M151 143h0M155.5 266.8h0M139.3 72.1h0M155.4 179.1h0M175.4 88.1h0M128.3 95.5h0M182.6 86.6h0M150.2 75.1h0M111.8 104.7h0M147.8 106.5h0M170.1 79h0M185.9 88.2h0M143.7 339.9h0M180.1 187.2h0M150.6 86.1h0M177.9 141.6h0M106.3 76.3h0M116.6 126.3h0M102.3 107.4h0M132.3 95.7h0M151.7 63h0M142.4 75.2h0M107.4 138.6h0M133 79.7h0M184.3 113.8h0M135.2 55.3h0M101.1 115.8h0M194.2 214.5h0M155.7 111.2h0M100.3 106.3h0M150 121h0M153.6 76.9h0M165 316.4h0M168 93.3h0M120.1 75h0M97.9 91.5h0M129 135.7h0M144.8 170.3h0M136.5 196h0M117.2 55.1h0M114.5 150.6h0M120.9 64.9h0M104 170h0M106.7 123h0M116.5 81.3h0M114.6 100.5h0M135.1 63.2h0M112.9 373.2h0M136.9 52.3h0"/>
<path stroke="#bebebe" d="M163.8 215.3h0M113.8 398.2h0M172.3 164.9h0M109.4 377.2h0M136.8 64.7h0M164.2 183.4h0M167.7 229.9h0M167.4 211.3h0M124.6 396h0M116.8 140.5h0M144.6 207.1h0M116.9 349.2h0M119.7 239.2h0M154.2 94.4h0M160.5 147h0M159.4 244.3h0M165.8 216h0M178.2 258.1h0M251.7 121.8h0M123.6 262.3h0M177.3 234.9h0M196.3 213.2h0M190.6 213.9h0M132.7 235.3h0M177.4 163.6h0M158.3 200.2h0M129.2 230h0M122.2 208.4h0M164.9 217.6h0M106.1 380.8h0M158.2 67.4h0M118.5 80.6h0M145.5 281.4h0M167.9 197.2h0M109.9 163.8h0M247.2 122.7h0M164.3 232.1h0M155.9 147.4h0M345.3 169.3h0M111.5 224.8h0M127.9 261.2h0M107 155.5h0M126.5 171.2h0M105.3 171.8h0M179.9 261h0M130.8 277.5h0M245.1 89.9h0M182.6 182.5h0M115 251.9h0M109.2 291.6h0M139.7 97.4h0M138.9 356.6h0"/>
<path stroke="#a020f0" d="M155 61.2h0M183.7 159.1h0M187.2 186.5h0M130.7 105.7h0M185.3 144.1h0M116.8 231.1h0M121.8 92h0M127.1 100.2h0M134.7 109.3h0M129.1 53.5h0M133.4 105.6h0M198.3 150.7h0"/>
<path stroke="#0000ff" d="M135.6 292.1h0M166.7 150.1h0M119.2 392.9h0M127.7 158.4h0M107.8 340.9h0M129.9 256.3h0M125.8 348.1h0M115.4 370h0M123.5 329.3h0M127.8 368.6h0M116.9 400.9h0M117.3 329.5h0M111.9 382.7h0M112.6 352.9h0M109.5 293.4h0M121.1 332.9h0M123.1 360.6h0M110.5 261.3h0M126.7 342.1h0M107.5 318.9h0M115.9 384.7h0M126.9 380.5h0M103.3 315.2h0M126 351.4h0M114.7 364.1h0M119.7 177.9h0M107.2 391.3h0M107 369.5h0M111.1 314.2h0M109.2 266.3h0M112.2 340h0M113.8 407.2h0M151.9 283.4h0M104.2 327.9h0M119.5 331.9h0M132.8 327h0M125.3 341.4h0M121.7 329.7h0M126.4 312.5h0"/>
<path stroke="#ffa500" d="M157.9 110.5h0M192.6 164.5h0M140.2 133.3h0M148.5 132.1h0M154.6 61.3h0M127.7 121.3h0M136.2 120h0M144.8 126.6h0M162.6 134.5h0M146.3 118.9h0M105.8 98h0M130.2 118.6h0M142.3 133.5h0M150.5 130.9h0M147.3 122h0"/>
<path stroke="#ffff00" d="M322.1 164.4h0M320.3 163.5h0M319.3 166.2h0"/>
<path stroke="#00ffff" d="M254 126.9h0M388.5 155.8h0M391.9 173.2h0M268.1 91.6h0M240.7 97.9h0M407.1 173.1h0M285.3 125.1h0M166.9 92.2h0M269.6 165.4h0M256.6 115.3h0M394.3 154.5h0M398.9 154.9h0M405.9 176.6h0M173.4 200.2h0M357.4 168.4h0M343.7 130.7h0M415.3 166h0M413 160h0M369.3 167.3h0M263.2 163.8h0M380.4 166.9h0M379.6 156.7h0M120.5 229.5h0M440 160.3h0M325.5 135.1h0M240.1 91.2h0M315 131.7h0M262 98h0M432.8 155h0M346.4 148.1h0M162.4 187.9h0M247.9 94.3h0M382.1 166.7h0M392.1 161.4h0M425.9 158h0M259.5 157.9h0M414.5 155.5h0M242.7 124.8h0M369.9 164.4h0M308.9 118.8h0M318.8 130.6h0M423.8 164.7h0M263.3 136.8h0M292.8 126.1h0M422.8 168.3h0M239.4 91h0M257.7 89h0M399.5 160.5h0M400.3 154.1h0M336.8 147.9h0M106 177.4h0M389.8 176.1h0M343.5 167.3h0M266.2 122.2h0M234 88.6h0M426.5 166.4h0M231.9 97h0M396 155.3h0M202.7 94.8h0M165.7 146.7h0M422.6 168.7h0M293.4 122.1h0M118.7 226.6h0M398.4 149.5h0M265.4 161.8h0M145.4 208.8h0M442.9 160.1h0M341.3 176.9h0M278 113.1h0M261.3 92.3h0M393.5 161.2h0M263.3 125.9h0M374.2 157.7h0M420.5 174.2h0M163.5 220.9h0M309.6 141.7h0"/>
<path stroke="#0000ff" d="M113.5 254.2h0M129.6 328.1h0M116.9 296.6h0M125.5 346.7h0M166.9 254h0M121.5 366.7h0M128.7 371.3h0M117.9 401.2h0M101.4 217.9h0M113.1 243.7h0M131.7 361h0M108.2 372.5h0M133.5 356.1h0M111.8 382.7h0M117.7 377.4h0M105.5 250.5h0M111.4 317.4h0M175.8 208.4h0M121.2 359h0M110.4 264.6h0M134 349.1h0M114.2 235.3h0M113.5 284.4h0M107.7 323.4h0M118.2 338.2h0M109.9 337.7h0M117.5 369.2h0M102.7 230.7h0M193 212.7h0M121.8 336.6h0M130.1 349.1h0M102.3 264.6h0M170.9 252.2h0M133.2 355.7h0M105.3 245.8h0M141.7 138.2h0M104.7 226h0M155.2 261.8h0M105.2 367.6h0M125.9 312.8h0"/>
<path stroke="#00ff00" d="M113 259.2h0M134.8 254.5h0M138 170h0M111.8 220.5h0M195.5 179h0M145 162.5h0M158.6 96.6h0M165 259.5h0M159 209.1h0M235.7 84.6h0M128.1 162.8h0M172.7 230.9h0M119.9 171.5h0M159.2 199.2h0M125.3 220.8h0M167.4 103h0M133.4 153h0M183.2 246.7h0M139.6 230.3h0M176.1 117.6h0M153.5 191.6h0M170.5 121.2h0M176.8 242h0M136.2 261.2h0M137.9 270.8h0M170.5 208.6h0M150.1 159h0M181.4 122.6h0M173 118.3h0M182.2 93.7h0M155.4 186.9h0M170.6 187.1h0M182.6 223.6h0M146.9 196.7h0M187.7 165.6h0M148.4 249h0M174.6 238.9h0M137.1 265h0M126.1 248.4h0M159.9 104h0M151.9 303.1h0M174.8 117.1h0M137.2 201.4h0M128.9 213.2h0M124.6 229.8h0M159.5 153.9h0M123.1 258.1h0M190.7 117.6h0M110.7 255.6h0M176.1 147h0M120 132h0M130 253.8h0M136.3 241.7h0M171 227.2h0M177.3 110.8h0M143.9 240.9h0M188.4 161.6h0M115.2 258.7h0M123.3 152.9h0M150.5 156.1h0M141.4 270.8h0M159.3 121.1h0M178.2 249.3h0M185.1 185.8h0M145.3 241.3h0M151 139.6h0M151 204.2h0M172.2 108.5h0M155.8 240.7h0M160.4 116.5h0M138.2 199.8h0M127.3 256.4h0M152.7 207.2h0M169.1 238.2h0M188.5 122.6h0M177.6 263.7h0M155.4 262.3h0M147.6 226.9h0M134.3 230h0M116.5 193.6h0M142.4 247.7h0M165.7 267.5h0M128.6 85.4h0M162.2 163.5h0M146.3 147.3h0M194.9 178.3h0M192.4 247.8h0"/>
<path stroke="#ff0000" d="M183.3 249h0M110.6 223.2h0M104.5 83.2h0M181.2 73.5h0M118 223.6h0M109.5 115.5h0M107.8 123.2h0M122 167.2h0M181.1 75.4h0M172.7 71.7h0M130.1 75.4h0M173.5 65.7h0M191.2 285.4h0M112.9 117.5h0M103.2 129.4h0M106.7 77.5h0M138.1 70.7h0M148.3 241.6h0M110.5 98.8h0M103.6 145.1h0M127.2 63.9h0M100.6 99.8h0M130.7 130.1h0M191.8 89.9h0M110.5 78.3h0M160.8 74.5h0M110.4 254.5h0M133.6 55.9h0M180.3 73.4h0M159.2 172.6h0M167.4 149.1h0M100.8 107.2h0M152.3 54.5h0M113.3 136.3h0M176.9 266.1h0M164.9 181.8h0M122 66h0M223.3 188.6h0M163.6 227.9h0M146.5 60.2h0M148 58.9h0M165.4 95.5h0M179.3 63.2h0M160 79.2h0M114.6 79.6h0M116.3 85.9h0M128.9 67.1h0M143 69.8h0M173.5 235h0M128.4 62.6h0M162.7 150.8h0M119.2 69.3h0M105.8 85.3h0M325.2 135.3h0M152 62.4h0M167.5 173.4h0M165.8 94.5h0M105.5 273.9h0M97.8 97.6h0M191.4 245.3h0M124 68.6h0M143.8 227.9h0M279.3 136.2h0M168.8 163.4h0M108.8 87.8h0M159.3 83.4h0M160.5 100.3h0M128.9 75.6h0M154.4 149.3h0M139.3 81h0M154.6 74.1h0M146.5 260.7h0M176.4 75.9h0M160.6 87.6h0M252.8 120.8h0M171.5 79.7h0M155.6 74.7h0M132.3 78.7h0M116.1 163.4h0M118.4 109.2h0M109.4 64.2h0M190.9 88.9h0M112.6 90.6h0M119.9 86.1h0M163.6 77.2h0M116.5 65.9h0M145.8 49.6h0M111.3 242.8h0M129.6 55h0M138.2 69h0M105.7 195.8h0M289.6 125.6h0M119 61.7h0M135.4 267.8h0"/>
<path stroke="#bebebe" d="M106.9 207h0M107.5 272.4h0M281.5 107.2h0M166.4 235.7h0M115.2 194.6h0M153.7 217.9h0M178.2 77h0M145 315.8h0M141.7 87.2h0M172.2 261.1h0M142.8 307.6h0M120 380.9h0M138.6 242.2h0M109.3 141h0M294.1 118.4h0M171.3 198h0M115.9 301.7h0M112.1 246.2h0M165.5 243.9h0M115.3 243.8h0M111.5 245.6h0M142.6 244.3h0M129.5 359.2h0M363.9 165.3h0M108.9 315h0M127.1 381.2h0M158.3 108.4h0M165.4 171h0M129.8 238.8h0M173.7 248.3h0M125.6 389.1h0M110.8 246.4h0M129.1 362.7h0M187.2 258.7h0M166.7 115.8h0M120.5 200h0M159.8 145.4h0M187.5 220.7h0M125.9 239.8h0M193.4 221.3h0M145.6 73.5h0M153.4 191.9h0M132.3 296.7h0M197.1 233.1h0M102.6 150.8h0M157.4 178.5h0M158.3 258.3h0M133.9 155.6h0M104 153.9h0M110.5 294.8h0"/>
<path stroke="#000000" d="M109.9 176.4h0M159.3 254.5h0M132.2 321.5h0M106.9 201.9h0M153.8 304.4h0M183.4 277.7h0M185.3 247.8h0M170.8 218.8h0M119.4 297.9h0M168.3 171.7h0M186 290.4h0M147.3 156.1h0M153.4 304.3h0M186.2 295.4h0M147.5 292.8h0M114 198.7h0M168.4 286h0M170.2 275h0M138.3 245.8h0M158.9 188.8h0M156.4 290.8h0M133 230.7h0M105 184.2h0M129.2 151.6h0M161.9 306.2h0M148.1 199.9h0M157 334h0M114.2 253.6h0M158.7 183.5h0M168.2 291.4h0M167.3 276.3h0M155.9 313.2h0M165.2 208.6h0M154 306.2h0M154.7 334.5h0M150.2 347.4h0M164 175h0M129.9 319.9h0M163.8 199.3h0M178.6 298.2h0M192.2 270.5h0M143.6 321.2h0M126.2 257.7h0M123.4 251.8h0M145.7 290h0M146 322.9h0M138.6 276.6h0M135.4 346.3h0M112.7 145.2h0M134.3 214.2h0M193.3 213.6h0M157.9 217.5h0M100.1 169.2h0M114.2 260.9h0M159.8 323.8h0M172.2 293.4h0M140.7 246.3h0M148.1 342.6h0M141.6 339.4h0M177.9 277.8h0M158.6 149.4h0M170.1 180.1h0M145.6 227.5h0M147 346.3h0M176.2 176.5h0M171.4 308h0M162.6 325.4h0M168.1 309.3h0M160.8 302.8h0M170.1 198h0M180.1 284.3h0M114.5 407.8h0M165.6 303.3h0M191.4 204.2h0M149.1 300.1h0M150 314.2h0M154.8 294.4h0M168.8 273.9h0M157.9 231h0M166.8 243.3h0M158.5 318.3h0M129.9 237h0M188.5 277.3h0"/>
<path stroke="#a020f0" d="M122.5 93.9h0M192.5 128.6h0M132.8 113.2h0M134.4 99h0M126.5 109.2h0M137.8 108.1h0M129.2 91.3h0M123.8 105.2h0M130 104.6h0M134.8 205.5h0M112.6 112.6h0M123.8 69.1h0M186 139.4h0M120.2 106.3h0M128 102.2h0M119.6 89.1h0M189.1 199.5h0M113.5 189h0"/>
<path stroke="#ffa500" d="M192.6 139.5h0M148.5 121h0M156.9 131.9h0M145.4 116.2h0M154.1 133.5h0M131.7 130.2h0M147.3 131.2h0"/>
<path stroke="#ffff00" d="M326.6 164.2h0M322.2 161.2h0M332.9 162h0M330.1 164.3h0M327 162.6h0M322.1 164.6h0M322.3 164.7h0"/>
<path stroke="#bebebe" d="M112.9 371.6h0M190.5 206.1h0M200.5 180.6h0M224.5 188.5h0M132.2 262.6h0M116.7 253.1h0M191.4 267.5h0M185.6 253.5h0M126.8 135h0M119.6 396.8h0M127.7 327.4h0M117.6 246.5h0M105.1 294.3h0M144.2 259.8h0M290.9 138.8h0M334.1 169.7h0M147.9 91.1h0M142 149.6h0M114 370.7h0M123.1 220.8h0M199.7 87.9h0M103.5 240.7h0M152.6 186.3h0M104.8 146.2h0M158 224h0M108.1 241h0M160.9 149.8h0M292 112.1h0M101.9 81.3h0M186.5 244.6h0M107.2 210.1h0M198.4 229.9h0M184.7 232.6h0M177.9 234h0M109 170.7h0M113.7 248.8h0M375.9 160.1h0M161.6 171.1h0M177.3 238.8h0M215.2 173.5h0M141.4 55.7h0M149.1 315.4h0M124.1 368.9h0M139.4 203.3h0M116.2 353.9h0M266 101.5h0M213.9 180.7h0M114.3 279.3h0M165 207.2h0M113.9 367.8h0M127.4 245.4h0M112.7 379.6h0M111.5 329.5h0"/>
<path stroke="#00ffff" d="M257 87.7h0M274.9 137.4h0M326.5 142h0M292.8 121.5h0M254.1 129.4h0M280.5 105h0M230 166h0M281.4 105h0M301.6 131.6h0M250.1 114.7h0M439 166.9h0M289.8 131.1h0M317.1 131.5h0M378.9 152.7h0M237.1 87.8h0M292.2 135.3h0M401.3 161.7h0M408.6 153.6h0M225.1 107.1h0M227.3 106.2h0M152.2 149.9h0M362.1 163.4h0M426.5 156.9h0M267.8 91.6h0M427 163.9h0M144.7 165.6h0M342 131.6h0M302.2 122.2h0M271.8 138.2h0M207.5 116.7h0M158.8 144.6h0M373 148.9h0M414 156.7h0M328.7 126.4h0M444.1 155.5h0M233.1 103.4h0M435 156.6h0M264.7 99.3h0M130.1 220.5h0M287.6 155.4h0M280 96.8h0M385.5 180.7h0M261.6 104.1h0M282.3 131.4h0M299.9 129.6h0M366.3 173.7h0M377.6 177.9h0M274.9 130.9h0M355 175.4h0M330.9 162.1h0M376.8 183.6h0M291.3 125.9h0M135.8 239.5h0M415.2 172.1h0M240.5 107.9h0M236.1 118.7h0M263.5 120.6h0M117.9 247.2h0M171.8 247.8h0M166.3 94.1h0M118.6 87.8h0M438 160h0M435.9 151.5h0M427.6 163.5h0M251.8 163.5h0M355.8 183.3h0M344.9 131.4h0M402.2 158.4h0M371.4 153.1h0M444.9 158.7h0M391.7 168.6h0M380.5 166.2h0M279.5 115.9h0M242.2 93.9h0M395.7 156.8h0"/>
<path stroke="#00ff00" d="M154.7 255.2h0M151.2 235h0M154 249.2h0M130.2 135.9h0M178.3 162.1h0M177.3 158.6h0M135 140.1h0M125.8 254.9h0M165.4 189.5h0M132.3 246.7h0M185.4 234h0M189.3 114.5h0M145.6 247.9h0M131 153.1h0M180.2 175.3h0M112.1 251.4h0M171.7 182.6h0M139.5 242.8h0M181.5 181.6h0M191.3 184.4h0M170.2 110.9h0M202.2 173.3h0M138 237.8h0M118 241.3h0M133.3 154h0M180.7 149.3h0M148.2 333.9h0M171.8 238.5h0M179 255.5h0M134.5 207.9h0M184.4 258.7h0M178.9 134.5h0M110.4 244.5h0M196.3 145.2h0M142.7 227.6h0M193 174.6h0M126.5 190h0M148.6 117.2h0M185.8 172.5h0M165.6 261.4h0M148.5 154.2h0M167.2 271.7h0M109.8 334.1h0M118.3 91.7h0M140.8 245.5h0M115.3 194h0M143 270.2h0M177.5 251.1h0M197.1 139h0M174.1 151.9h0M174.1 148.9h0M148.7 177.4h0M173.6 255.7h0M109.1 249.9h0M148.2 253.8h0M155.8 271.1h0M142 249.6h0M125.9 257h0M157.3 247.4h0M128.1 231.7h0M172.9 110h0M158.4 262.7h0M181.2 234.6h0M187 143.9h0M156.7 257.4h0M143.4 252.1h0M153.6 185.5h0M183.5 164.5h0M185 146.9h0M134.2 100.3h0M182.7 135.4h0M182 121.4h0M115.1 216.2h0M187.3 165.9h0M191.5 117.9h0M172.6 123.6h0M194.5 171.8h0M145.7 138.1h0M137.3 164.3h0M128.9 135.1h0M118 244.4h0M182 180.2h0M180.9 244.5h0M158.7 134.5h0M158.6 114.7h0M133.3 156.9h0M184.4 99.2h0M187.5 119.9h0M182.7 98.8h0M127.1 254.4h0M265.4 96.6h0M146.2 189.8h0M101.6 158.6h0M135.1 240.7h0M189.3 141.5h0M133.9 236.3h0M163.7 251h0M104.1 149.5h0M183 125.8h0"/>
<path stroke="#ff0000" d="M129.6 59.5h0M127.6 252.1h0M112 85.5h0M102.4 101.2h0M187.3 79.9h0M165.5 62.4h0M105.9 89.9h0M113.4 83.9h0M167.9 71.5h0M180.6 242.5h0M166.5 61.8h0M159.6 75.4h0M129.1 83.4h0M151.3 53.8h0M103.5 93.4h0M163.6 242.5h0M117.4 100.2h0M181.6 77.2h0M101.9 66.5h0M99.4 114.2h0M111.6 65.5h0M110.2 93.8h0M164.1 65.1h0M114.3 82.9h0M118.8 257.8h0M152 109.5h0M108.3 101.6h0M106 106.7h0M106.9 119.5h0M137 52h0M144.1 235.8h0M150.8 68.6h0M105.5 98.6h0M154.4 68.4h0M130.9 249.5h0M157.7 51.9h0M186.4 73.4h0M162.7 66.8h0M139.9 239.7h0M159.1 75.3h0M141.9 81.6h0M140.5 114.5h0M157.7 204.9h0M150.7 236.4h0M138.1 52.9h0M104 113.6h0M114.4 72.9h0M161.1 140.4h0M110 252.6h0M102.6 217.7h0M188.6 286.7h0M120.9 87.6h0M173.4 73.8h0M103.7 103.5h0M121.8 61.7h0M142.1 75.3h0M160.7 185.4h0M163.8 57.1h0M102.6 85.8h0M108.8 67.4h0M149.1 76.2h0M173 70.9h0M173.5 80.8h0M168.9 71.6h0M295.9 117.9h0M138.7 73.3h0M105.6 115.1h0M161.1 66.6h0M179.3 114.7h0M184.3 79.5h0M121.2 89.3h0M114.5 71.5h0M143.4 81.5h0M143.9 261.8h0M111.7 109.6h0M142.7 65.9h0M113.4 240.3h0M112.9 271.9h0M98.4 116h0M184.4 72.5h0M109.1 69.5h0M132.3 71.5h0M106.3 125.2h0M109.4 86.1h0M158.3 68.9h0M204.5 86.9h0M116.6 93.3h0M135 262h0M101.4 112.8h0M154.7 113.2h0M144.7 113.5h0M118.8 85h0M153.9 74.7h0M185 200.9h0M132.9 52.7h0"/>
<path stroke="#000000" d="M147.5 176.6h0M143.7 344.2h0M143 337.7h0M144.6 341.1h0M147.6 156.4h0M150.8 309.7h0M161.8 313.1h0M143.5 139.4h0M171.9 293.2h0M159.3 292.8h0M135.2 339.9h0M158.7 290.7h0M111.9 376.7h0M178.7 279.9h0M139.5 304.8h0M138.9 336.8h0M147.9 188.1h0M179 283.9h0M184.5 285.4h0M155 204h0M158.4 327.8h0M180.6 216.2h0M190.5 274.9h0M155.3 285.1h0M162.8 192.1h0M155.6 224.1h0M149 314.8h0M187.7 272.6h0M155.1 296.4h0M143.3 315.5h0M157.2 319.2h0M149.4 354h0M120.1 270.1h0M177.7 283h0M181.3 244.3h0M191.2 283.3h0M155.1 188.5h0M156.6 343.2h0M182.7 297.6h0M142.5 349.4h0M141.8 323.8h0M109.1 182.8h0M111.3 384.1h0M142.9 338.2h0M144.3 325.9h0M109.3 234.6h0M141.6 335.8h0M148 300.7h0M131.9 226.1h0M185 291.2h0M195.9 275.1h0M179.1 279.1h0M197 234.6h0M113 400.3h0M167.4 307h0M121.9 271.3h0M123.4 372.2h0M159.4 294.5h0M170.1 285h0M146.9 353.4h0M134.9 220.9h0M160.4 308.8h0M182.5 227.9h0M176.2 286.1h0M166.3 293.8h0M154 262.7h0M186.5 236h0M185.1 302.4h0M142 277.9h0M193.9 233.5h0M182.9 284.6h0M163.6 288.4h0"/>
<path stroke="#0000ff" d="M111.4 326.6h0M112.3 305.4h0M103.8 242.8h0M107.3 262.7h0M121.8 297.8h0M116.6 327.9h0M107.4 362.5h0M122.1 369.5h0M128.4 328.7h0M108.2 232.2h0M121.2 255.6h0M142 305.2h0M105.9 370.2h0M106.3 342.6h0M105.6 332.7h0M126.5 327h0M111.3 395.8h0M125 329.1h0M114.9 278.7h0M124.7 384.3h0M112.5 398.5h0M104.1 268.2h0M134.5 179.1h0M129.1 214.8h0M114.5 303.2h0M135.9 288.3h0M123 376h0M142.7 142.3h0M104.5 248.3h0M132.7 218.2h0M120.5 340.1h0M105 243.2h0M122.6 356.6h0M106.4 358.2h0M115.2 286.6h0M132.4 313h0M103.7 285.5h0M104.1 238.2h0M114.4 291.6h0M148.3 135.5h0M108 373.8h0M123.1 395.3h0M105.3 286h0"/>
<path stroke="#a020f0" d="M181.9 110.1h0M124.1 88.6h0M164.9 222.5h0M133.6 109h0M113.6 227.1h0M119.3 102.7h0M130.8 107.2h0M123.5 138.9h0M127.9 97.5h0M152.1 188.9h0M126.7 157.7h0M127.5 175.7h0M132.2 61.3h0M151.2 115h0"/>
<path stroke="#ffa500" d="M144.1 131.2h0M134.9 122.8h0M148 123.1h0M133.6 118.2h0M150.2 138.1h0M145.4 125.4h0M132 128h0M145.6 131.5h0M153.7 126.1h0M112.6 68.4h0M134.8 131.8h0"/>
<path stroke="#000000" d="M162.2 292.5h0M169.3 278h0M147.4 317.1h0M152.8 152.2h0M155.7 307.6h0M122.2 316.5h0M174.9 280.3h0M134.5 297.3h0M136.6 226.3h0M156.2 308h0M153 345.9h0M187.6 294.9h0M123.4 375.1h0M185.4 291.7h0M154.6 299.9h0M146.6 343.3h0M103.1 219.3h0M179.8 288h0M151.4 339.5h0M142.9 276.8h0M159.7 287h0M153.9 349.6h0M190 281.8h0M105.9 259h0M145.3 177.9h0M158.9 311.5h0M112.8 256.8h0M169.7 285.3h0M163.1 181.4h0M138.6 187.8h0M159.5 283.6h0M136.1 354.5h0M157.7 309.7h0M122 228.7h0M103.2 166.8h0M148.3 295.5h0M164 279.7h0M153.5 319.1h0M157.2 310.6h0M139.7 252.7h0M163.6 284.6h0M146.2 301.4h0M150.9 341.1h0M148.8 318.6h0M150.2 348.2h0M169.6 200.7h0M192.4 256.8h0M146.8 294.7h0M115.9 182.8h0M110.3 137.8h0M151.8 349.7h0M187.8 284.6h0M167.5 220.6h0M172.6 272.9h0M117.4 251.9h0M145.4 187.7h0M161.1 324.3h0M183.4 297h0M168.4 307.7h0M153.5 319.5h0M166.5 297.9h0M192.7 269.1h0M160.3 303.3h0M155.5 341.8h0M163.9 327.2h0M146.3 326.5h0M124.4 289.2h0M108 189.6h0"/>
<path stroke="#ffa500" d="M145.8 121.5h0M133.4 92.7h0M127.1 120.7h0M133.3 124.9h0M134.8 126.7h0M158.7 137.2h0M156.1 130.1h0M147.4 123.6h0M153.1 128.9h0M138.1 121.3h0M142.6 120.5h0M129.5 127.4h0M161.5 136.3h0"/>
<path stroke="#bebebe" d="M136.1 151.8h0M109.5 323h0M197.7 168.1h0M192 140h0M218.9 111.8h0M330.2 147.8h0M109.3 381.7h0M183.6 242.9h0M164.6 232.2h0M173.7 307.1h0M185 190.5h0M133.6 186.5h0M118.2 388.1h0M182.4 73.6h0M134 283.3h0M167.6 195.2h0M155.6 153.8h0M103.9 172.8h0M312.6 158.6h0M104 183h0M136.7 204.7h0M148.6 53.9h0M126.1 130.8h0M154.1 259.8h0M113 136.1h0M146.7 57.3h0M115.4 214h0M111.5 168.9h0M181.6 249.1h0M199.7 171.7h0M106.9 311.3h0M311.4 140.4h0M267.1 98.1h0M120.8 295.7h0M108.2 314.3h0M179 141.3h0M113.7 385h0M107 391.2h0M129.3 223.1h0M105 159.2h0M103.4 180.7h0M135.1 250.1h0M200.5 168.1h0M105.1 382.1h0M185.6 255.8h0M119.2 334.2h0M178.9 214.1h0M164.4 238h0M116.1 370.6h0M154.8 198.3h0M98.5 87.5h0M152.4 145.1h0M113.1 325h0M140.2 150.5h0M183.7 249h0M188.3 239.5h0M185.5 283.7h0M136.1 147.4h0M122.8 188.5h0M136.4 89.6h0"/>
<path stroke="#00ff00" d="M158.3 222.8h0M111.4 213.6h0M185.6 127.9h0M173.9 259.6h0M113.9 158.9h0M200.7 157.5h0M170.8 105.8h0M151 265h0M134.2 240.6h0M105.9 240.2h0M196.7 158h0M110.9 276.1h0M138 230.5h0M170.9 196.1h0M152.9 102.3h0M181.3 157.9h0M175.5 154.3h0M124.1 366.4h0M165.6 225h0M167.4 247.3h0M191.2 166.9h0M197.6 147.9h0M188.8 144h0M126.8 238.4h0M188.2 229.3h0M161.9 237.7h0M142.1 99.9h0M117.3 241.5h0M124 149.4h0M164 261.9h0M180.1 147.1h0M130.7 241h0M161.8 260.8h0M181.5 257.4h0M198.5 160.9h0M166.8 250.7h0M166.8 265.4h0M179.3 167h0M122.8 258.3h0M145.1 243.4h0M175.8 99h0M122.3 233.4h0M148.1 229.2h0M174.7 148.8h0M132.6 150.3h0M107.8 209.4h0M118.2 103h0M186.8 157.3h0M182.9 110.3h0M146.8 177.7h0M139 236.1h0M192 256h0M169 257.1h0M144.9 172.9h0M153.6 259.4h0M192.5 118.3h0M111 194h0M198 169.2h0M189.6 148h0M190.2 209.9h0M174.6 245.2h0M153.4 246.2h0M181.1 257.5h0M121.3 161.6h0M167.2 239.3h0M182.4 226.6h0M168 246.4h0M188.7 178.5h0M123.1 235.2h0M176.4 122.5h0M150.4 202.5h0M135.1 299.3h0M113.1 149.2h0M187.9 253.9h0M109.5 147.8h0M146.6 260.6h0M111.1 160.1h0M197.7 158.4h0M155.5 190.4h0M164.6 161.9h0M189.8 105.2h0M143 331.9h0M137.7 227.9h0M191.2 100.9h0M177.8 111.2h0M179 245.9h0M167.4 271.2h0M110.1 255h0M133.7 250.5h0M179.5 152.2h0"/>
<path stroke="#00ffff" d="M225.8 94.7h0M302.4 126.1h0M408.8 165.1h0M384.9 175.8h0M259.6 126.6h0M355.8 141.5h0M351 172h0M300.2 122.6h0M378.8 157.8h0M364 164.2h0M429.4 152.8h0M249 86.5h0M324.2 138.5h0M287.8 113.7h0M430.1 170.8h0M277.3 108.6h0M440.4 166.6h0M386.9 176.6h0M425.7 154.4h0M124.9 209.6h0M354.7 181.2h0M412.2 171.1h0M344.3 142.9h0M326.1 160.2h0M450 157.9h0M244.8 90.1h0M357.4 166.9h0M401.7 166.2h0M300 137.8h0M309.8 119h0M301.4 113.9h0M299.2 141.9h0M238.9 114.1h0M387.8 181.6h0M351.3 137.8h0M273.1 122.1h0M302.7 123.8h0M358.2 179.5h0M392 177.2h0M234.1 114.6h0M373.9 169.3h0M348.2 136.8h0M407 177.6h0M419.3 155.6h0M178 258.2h0M395.5 173.6h0M353.7 143.2h0M259.7 90.3h0M274.1 101.3h0M366.4 167h0M375.5 169.7h0M431.9 160.2h0M376 182.3h0M146.6 275.2h0M386.8 178.8h0M418.7 163.1h0M381.2 159.8h0M382.6 167.7h0M258.7 158h0M386.1 159.7h0M120 202.5h0M238.2 115.8h0M422.1 168.2h0M219.2 88.8h0M429.9 158.5h0M296.9 141.4h0M386.6 180.2h0M423.3 151.4h0M252.7 100.8h0M302.9 132.4h0M319.1 155.8h0M357.6 180h0M205.2 186.9h0M273.3 103.7h0M445.4 160.3h0M280.3 133.1h0M245.5 102.3h0M372.9 160.4h0M426.3 156.2h0M224 180.7h0M135.9 291.9h0M303.6 160.2h0M244.7 102.6h0M152 108.8h0M439.8 162.1h0"/>
<path stroke="#ff0000" d="M140.9 256.1h0M112 96.5h0M110.3 73.6h0M152.6 101.7h0M209.9 183.8h0M144.6 92.4h0M121 51.2h0M182.3 128.2h0M124.3 222.2h0M135.2 152.1h0M105.7 86.9h0M108.9 119h0M115.5 64.1h0M151.7 236.6h0M107.6 113.1h0M147.1 68.1h0M126.6 77.3h0M190.6 257.7h0M161 63.4h0M115.9 109.3h0M100.7 90.6h0M161.1 63.6h0M139.6 196.6h0M125.6 321.5h0M155.5 197.5h0M184.4 86.9h0M149.8 79h0M117 69.7h0M133.3 73.3h0M162.7 187.9h0M113.2 79.4h0M133.6 50.5h0M163.2 239h0M117.8 102.4h0M112.3 70.6h0M170.6 187.8h0M136.8 56.6h0M133.9 55.4h0M108.4 110.8h0M138.6 50.6h0M320.6 143.5h0M187.9 82.5h0M167.9 60.1h0M274.9 103.8h0M148 105.1h0M188 75.7h0M173.6 230.3h0M123.6 66h0M126.2 98.1h0M183.3 238.4h0M155.8 221.3h0M102 76.8h0M148.8 244.2h0M172.9 68.6h0M170.4 252.3h0M113.9 82.8h0M227.4 181.3h0M141 208.6h0M140.2 60.5h0M234.1 98h0M174.2 70.4h0M101.6 71.5h0M154.6 305.3h0M113.3 75.9h0M149.8 57h0M173 76.1h0M101.9 110.4h0M129.4 117.8h0M116.4 101.1h0M148.4 63.7h0M109.7 95.1h0M118.5 109.6h0M163.8 137.7h0M135.2 65.8h0M139.8 250.7h0M175.9 72.6h0M126.7 206.8h0M169.9 254.4h0M112 217.8h0M95.6 87h0M162.5 229h0M141.1 57.4h0M218.8 102.2h0M117.4 83.8h0M175.6 85.9h0M115.6 251.6h0M162.1 79.6h0M164.2 77.3h0M115.9 85.9h0M100.5 107h0M184.8 87.6h0"/>
<path stroke="#a020f0" d="M113 113.4h0M183.7 177.2h0M338.3 147.6h0M123.5 92.3h0M134.8 106.4h0M129.6 103.9h0M121.1 106.6h0M118.4 100.4h0M130.1 114.1h0M219 96.3h0M303.9 115.3h0M270.1 96.7h0M151.7 208.3h0M119.2 94.7h0M179.1 75.8h0"/>
<path stroke="#0000ff" d="M107.3 307.8h0M118.7 376.1h0M128 342.7h0M116.9 302.9h0M128.4 374.7h0M131.2 364.6h0M135.4 335.2h0M133 332.3h0M188.4 215.6h0M152.5 275.8h0M121.4 221.8h0M109 305.4h0M124 328.8h0M121.6 329.2h0M190 240h0M121.3 384.8h0M124.2 398.7h0M120.4 357.5h0M125 368.4h0M119.4 294.4h0M124.1 327.8h0M128.6 326.9h0M106.2 343.6h0M103.1 251.4h0M119.8 350.7h0M135.5 264.3h0M115.2 328.2h0M117.4 365h0M116.4 370.6h0M120.7 352.2h0M156.9 157.6h0M114.3 310.8h0M117.9 378.2h0M109.9 269.3h0M107.8 277.2h0M129 142.7h0M121.5 363h0M111.9 230.7h0"/>
<path stroke="#ffff00" d="M328.1 165.9h0M326.6 170.1h0"/>
<path stroke="#0000ff" d="M115.9 277.1h0M129.2 349.8h0M127.5 343h0M123.7 393.5h0M118.4 379.5h0M137.5 310.5h0M108.6 248.8h0M114.7 354h0M109 252.1h0M103.5 284.7h0M102.4 221h0M189.9 238h0M155.1 230.1h0M110 176.2h0M103.5 232.6h0M135.7 171.4h0M101.8 240.1h0M246.6 258.4h0"/>
<path stroke="#000000" d="M157.2 302.3h0M125.5 176.3h0M100.8 205.3h0M150.6 341.3h0M176.1 192.9h0M145.4 319.8h0M117.9 272.5h0M128.5 256.7h0M179.2 279.1h0M111.3 195.1h0M119.8 298.4h0M123.9 402.6h0M151.9 353.1h0M123 292h0M149.6 321.3h0M102 139.1h0M174.9 292.7h0M145.7 313.2h0M180.6 245.4h0M152.7 346.1h0M153.9 336.2h0M159.1 336.7h0M173.4 216.1h0M185.7 270.5h0M152.2 340h0M141.6 275.9h0M158.9 319.7h0M173 303.7h0M166.6 293.6h0M155 340.8h0M129.7 291.8h0M131.2 214h0M140.6 327.7h0M156.6 344h0M165.8 189.7h0M137.6 356h0M141.8 189.5h0M147.1 195.3h0M138 353.1h0M186.5 290.5h0M140.9 330.5h0M181.8 281.8h0M182.1 296.8h0M164.9 281.9h0M182.1 279.4h0M169.9 284.9h0M187.5 290.2h0M151.7 324.9h0M161.1 187h0M170.9 301.6h0M159.8 179.4h0M159.7 325h0M153.9 313.3h0M160.2 305.3h0M154 247.8h0M151.4 351.5h0M142.4 323.6h0M156.3 348.3h0M163.9 309.9h0M186 278.6h0M140.1 258.6h0M175.7 304.2h0M163.8 194.6h0M162.8 294.4h0M151.2 315.5h0M137.7 346.2h0M168.6 294.2h0M176.2 288.9h0M137.8 335.5h0M146.2 330.5h0M161.1 189.7h0M184.6 279.7h0M165.6 286.8h0M152.7 329.6h0M163.6 280.5h0M183.2 287.8h0M174 271.8h0M152.1 307.9h0M163 189.5h0M143.8 360h0M171.1 270.3h0M145.2 355.3h0M155.4 203.9h0M158.5 322.1h0M175.3 281.5h0M141.1 342h0M151.6 344.2h0M181.8 301.8h0M161.3 287.2h0M144.1 322.2h0M187.1 276h0M149.3 181.2h0M165.5 295.1h0M154.9 316h0M167.1 314.5h0M167.1 309.8h0M170.6 288.1h0M155.3 332.2h0M144.3 340.4h0M161.2 332.2h0M157.4 313h0M162.8 324h0M183.3 286.3h0M141.9 200.2h0M142.6 358.1h0M155.7 185.1h0M159.7 203.3h0M159.1 302.4h0M188.4 265.9h0M146.9 314.8h0M151.8 308.5h0M183.8 279.3h0M170.1 280.2h0M137.5 343.6h0M145.5 347.7h0M142.3 325h0M179 270.3h0M189 277h0M148.2 313.1h0M166.8 295.7h0M161.6 304.5h0M163.5 287.3h0M169.6 288.1h0M184.8 281.5h0M169.4 310.6h0M163.3 291.7h0M167.3 299.8h0M158.9 336.1h0M146.5 348.5h0M185.8 282.5h0M156 337.7h0M161.1 325.2h0M164.3 297.9h0M145.6 335.8h0M143 355.9h0M156.4 332.4h0M157.3 285.5h0M181.3 274.2h0M143.4 330.8h0M161.9 317.4h0M189.9 271.8h0M175 272.3h0M163.8 280.7h0M139.3 343.6h0M152.4 312.2h0M157.8 285.8h0M169.4 313.5h0M194.1 192.1h0M195.6 198h0M227.9 209.8h0M214.3 224.4h0M211.9 230.3h0M229.1 245.1h0M213.4 263.2h0M266.2 238h0M259.6 248.4h0M300.2 211.9h0M296.4 219.9h0M295.8 227.6h0M308.2 231.2h0M305.3 234.1h0M302.9 235.6h0M302.9 251.9h0M323.1 205.7h0M347.4 196.2h0"/>
<path stroke="#bebebe" d="M102.9 153.2h0M218.7 185.3h0M158.3 145.2h0M340.3 167.7h0M148.3 304.5h0M350.6 180.7h0M101.9 165.7h0M107.5 169.2h0M154.2 190.8h0M132.6 229.3h0M165.5 172.7h0M140.7 194.6h0M184 75.8h0M154.3 258.9h0M142.3 253.7h0M107.9 62.5h0M115.4 117.1h0M105.9 86.7h0M142.8 64.1h0M191.6 290.4h0M158.3 311.5h0M174.8 266h0M172.5 135.3h0M174 170.9h0M173.7 287.8h0M269.7 271.2h0M239.5 204.5h0M223.8 234.7h0"/>
<path stroke="#ffa500" d="M196.7 168h0M148.3 131.1h0M131.7 128.3h0M144 118.5h0M137.8 123.1h0M134.3 117.8h0M149.1 134h0M142 128h0M159.3 137.8h0M131.2 122.2h0M142.5 133.3h0M143 128.5h0M140.3 116.7h0M149.8 134.9h0M162.5 134.3h0M151.4 124.1h0M151.3 134h0M134.6 123.4h0M142.1 119.4h0"/>
<path stroke="#00ffff" d="M423.9 157.5h0M267.6 137.9h0M101.4 156.1h0M407.6 169.9h0M235.6 108.8h0M267.2 161.2h0M408.6 163.7h0M367.9 166.8h0M405.4 154.6h0M400.3 170.4h0M428.5 151h0M301.3 139.6h0M314.5 122.8h0M418.4 165.4h0M369.4 145h0M284.9 107.3h0M291.6 128.7h0M426.7 152.9h0M321.3 137.8h0M359.9 175.6h0M414.1 154.5h0M129.3 148.8h0M144.7 86.3h0M356.8 176.3h0M379.4 169.3h0M231.9 95.5h0M289.6 203.9h0M304.7 188.5h0M326 212.8h0M308.2 225.3h0M219.3 195.6h0M204.5 207.5h0"/>
<path stroke="#00ff00" d="M170.2 259.5h0M123.7 245.2h0M102.4 270.8h0M125.7 244.4h0M178.9 201.5h0M127.2 236.8h0M103.8 174.9h0M166.1 228.3h0M144.9 227.5h0M178.8 240.2h0M184.5 151.6h0M190.8 242.6h0M163.9 199.1h0M180.6 150.7h0M138.3 253.5h0M145.2 93.4h0M133.4 347.7h0M139 263.7h0M193.5 110.1h0M132.8 265.4h0M139.4 159.2h0M108.3 154.3h0M137.2 188.3h0M191.6 159.1h0M138.9 274.7h0M153.1 228.7h0M189.1 110.5h0M130.4 236.3h0M127.8 237.4h0M188.9 165.3h0M127.5 254.1h0M186.4 116.5h0M199.1 162.7h0M193.7 164.8h0M180.1 166.5h0M122.5 228.4h0M174.2 108.7h0M186.3 255.3h0M186.7 244.3h0M187.7 146.5h0M169.1 267.8h0M140.7 241.7h0M166.2 247.4h0M152.7 264.5h0M154 263.8h0M167.5 251.1h0M178.3 119.5h0M174.3 116.8h0M156.8 258.4h0M131.2 260.3h0M173.5 231.1h0M180.5 116.4h0M120.1 105.7h0M174.3 97.3h0M124.9 242.8h0M173.9 115.4h0M186.5 178.3h0M181.8 123.2h0M132.5 252h0M190.4 114.1h0M177.9 133.3h0M144.5 232.5h0M187.5 168.8h0M198.2 160.6h0M190.9 157.9h0M182.5 155.2h0M190.2 136.6h0M164.1 247.3h0M179 131.2h0M173.7 102.8h0M192.8 252.4h0M140.1 229.3h0M183.9 256.7h0M190.5 120.2h0M173.1 165h0M190.7 154.4h0M193 157.8h0M181.6 160.1h0M195.2 244.7h0M190.6 245.3h0M169.4 146.5h0M188 126.2h0M189.1 112.2h0M194 137.2h0M191 174.2h0M175.6 104.5h0M188.9 149.9h0M195.9 164.9h0M158.3 131h0M200.4 156h0M193.1 169.2h0M291.9 187.6h0M316.2 194.7h0M322.2 198h0"/>
<path stroke="#ffff00" d="M323.2 165.7h0M324.5 163h0M330.7 161.3h0M325.6 159.1h0M326.6 163.2h0M325.3 163.2h0M322.8 166.6h0M326.1 166.2h0M257.3 187.6h0M253.4 189.7h0M253.4 208.1h0M230.6 219.3h0"/>
<path stroke="#ff0000" d="M106 122.2h0M178.2 103.1h0M101.9 89.5h0M102.8 112.2h0M151.6 193.8h0M177.8 61.5h0M122.8 194.4h0M128.8 146.8h0M426.4 169.2h0M176.6 74.1h0M178.4 71.4h0M157.2 82.7h0M121.6 58.7h0M186.5 247.2h0M111.5 116.7h0M132.6 213h0M177.7 116.3h0M171.1 64.8h0M105.1 111.9h0M124.1 66h0M132.8 47.3h0M127.6 78.6h0M108.3 76h0M100.3 69.9h0M99.9 95.4h0M119.2 95.2h0M139.3 82h0M110.2 128.3h0M111.4 74.9h0M104.9 110.8h0M155.8 71.2h0M107.8 118.1h0M98 98.9h0M165.4 73.2h0M100.2 90h0M103.3 79.6h0M117.3 104.2h0M114.9 85.7h0M189 82.6h0M161 81.8h0M113 71.4h0M105.7 108.4h0M125.7 105.4h0M142.1 59.8h0M112.2 88.3h0M125.1 76.5h0M145.6 131.1h0M112.9 69.6h0M118.3 77.3h0M169.9 63.2h0M189.6 85.8h0M116.1 56.3h0M121.1 70.4h0M163.9 82h0M183.2 74.8h0M148.1 79.2h0M187.8 82.8h0M111.3 90h0M124.7 63.2h0M183.6 241.9h0M128 73h0M103.9 89.4h0M98.1 71.9h0M121.4 259.4h0M177 66.2h0M108.8 77.4h0M104 93.6h0M120.7 107.3h0M195 176.9h0M178.4 310h0"/>
<path stroke="#a020f0" d="M165 322.9h0M182.3 255.6h0M138.5 108.4h0M156.1 91.2h0M115.7 91.9h0M124 91.1h0M129.2 90.7h0M157 63.1h0M133.8 106.2h0M133.1 106.6h0M122.9 104.2h0M120.1 103.4h0M117.7 92.7h0M122.2 89.5h0M189.3 153.5h0M119.8 97.7h0M123.6 94.4h0M179.1 98h0M131.5 98.3h0"/>
</g>
<g transform="translate(1447 2020)" fill="none" stroke-linecap="round" stroke-width="5.6">
<path stroke="#ff0000" d="M233.8 82.3h0M416.1 152.1h0M306.4 141.7h0M436.9 168.5h0M227.1 89.3h0M315.7 141.8h0M300.4 107.3h0M191 231.2h0M185.5 215.2h0M156.6 297.5h0M319.9 138.6h0M362 145.1h0M392.8 173.9h0M227.9 174.4h0M223.8 75.4h0M260.3 100h0M210.7 225.3h0M267.3 154.7h0M146.8 180.7h0M373.3 183h0M208.2 152h0M206.9 74.2h0M223.3 168.4h0M210.6 139.8h0M210.1 171.9h0M171.1 70.4h0M205.5 105.2h0M212.8 116h0M200.5 88.5h0M304.6 103.9h0M205.8 151.3h0M174.6 296.7h0M225.5 145.8h0M224 164.5h0M221.2 77.8h0M369.7 149.8h0M215.9 97.9h0M208.4 65.2h0M221.2 146.3h0M220.1 97.8h0M384.3 174.1h0M167.5 81.5h0M204 90.1h0M220.7 144.1h0M208 180.6h0M265.4 113.8h0M153.7 75.2h0M170.7 75.4h0M156.3 219h0M218.6 124.4h0M191.7 59.9h0M315.6 140.7h0M180.5 49.5h0M216.1 145.9h0M192.4 199.9h0M208.2 133h0M201.1 99.3h0M228.7 156.4h0M174.5 96.9h0M205.6 113.1h0M192.8 62.9h0M153.4 307.8h0M199.7 117.6h0M197.3 113.4h0M178.7 50.4h0M198.2 145.8h0M152.9 64.2h0M149.1 210.9h0M202.4 153.2h0M195 90.3h0M228.8 132.4h0M212.8 157.9h0M166.3 82.7h0M165.6 79.9h0M173.4 66.8h0M174.7 76.2h0M198 148h0M189.6 83h0M222.5 154.7h0M219.2 112.7h0M223.7 164.2h0M142.8 64.4h0M217.6 92.6h0M215.6 96.6h0M339.1 140.6h0M215.8 124.1h0M179.8 70.6h0M395.3 176.2h0M220.8 109.8h0M206.9 131.7h0M154.5 59.5h0M194 130h0M219.6 91h0M195.9 70.1h0M230.4 145.8h0M224 134.1h0M173.7 70.2h0M202 95.6h0M162.3 67h0M218.9 75.9h0M168.2 84.4h0M186.9 108.2h0M209.8 84.7h0M195.5 69.2h0M204.1 127.3h0M211.3 118.5h0M222.7 114.1h0M197.5 139.9h0M218.2 109.1h0M176.5 102.7h0M139.2 236.3h0M191.8 60.3h0M437 169h0M208.8 82.3h0M203.5 216.1h0M196.7 97.9h0M147.9 208h0M164.5 77.5h0M314 139.4h0M205.5 66h0M239.8 78.7h0M163.6 67.8h0M211.4 142.7h0M161.8 64.6h0M179.1 180.8h0M279.9 120.1h0M193.9 128.4h0M215 88.3h0M226.9 87.5h0M199.9 73.5h0M227.3 147.5h0M220.9 107.1h0M139.6 133h0M207.2 217h0M188.5 194.2h0M219.5 121h0M315.8 114.1h0M199.6 164.8h0M183.4 52.7h0M143.8 66.8h0M167 74.7h0M207.6 109.8h0M184.4 113.3h0M208.3 158.6h0M214.4 145h0M208.4 92.4h0M206.9 137.3h0M200.5 119.5h0M156.1 52.6h0M224.3 116.3h0M183.9 214.8h0M191.2 59.3h0M195.4 148.7h0M406.3 172.8h0M162.6 101.9h0M172.5 51.7h0"/>
<path stroke="#0000ff" d="M208.5 198.7h0M357.7 151.6h0M141.7 383.7h0M156.8 342.3h0M159 332.5h0M145.6 218.8h0M180.4 269.8h0M146.9 327.2h0M443.8 159.3h0M365.8 162.1h0M161.3 358.9h0M152 340.7h0M148.7 333.1h0M149.7 220.5h0M191.2 212.6h0M162.3 359.3h0M146 368.9h0M149 388.3h0M158.8 249.1h0M302.5 127.7h0M147 281.9h0M456.3 164h0M170.7 205.3h0M133.8 167.7h0M152.5 364.9h0M477.4 163.9h0M181.9 209.9h0M188.1 251.7h0M195.9 225.1h0M143.1 388.6h0M153.3 199.2h0M136.1 370.8h0M151.9 203.4h0M151.8 288.7h0M144.7 202.9h0M279.2 125.1h0M406.8 177h0M157.5 210.1h0M315.7 140.3h0M198.8 243.4h0M147 389.9h0M162.5 253.5h0M462.9 166.3h0M155.5 350.8h0M156.1 341.7h0M140 243.8h0M144.3 315.6h0M185.6 220.7h0M438.1 160.6h0M144.3 347.4h0M409.9 154.7h0M170.8 221.5h0M142.4 380.4h0M470.4 163.8h0M161.7 362.2h0M166.7 358.3h0M163.1 351h0M155.2 199.8h0M150.7 347.9h0M296.8 111.2h0M180.5 263.8h0M157.6 258.3h0M138.2 342.8h0M159.9 368h0M382 148.7h0M207.9 223.2h0M136.9 395.9h0M144.7 187.5h0M145.6 387.5h0M145.2 237.6h0M142.3 215.1h0M351.4 147.6h0M146.4 332.6h0M212.2 235.2h0M151.5 361.4h0M391 182.8h0M158.8 220.1h0M157.2 331h0M158.9 264.8h0M341 140h0M198.9 212.5h0M156.5 276h0M416.4 179.5h0M150.3 180.8h0M155.8 338.6h0M213 243.4h0M192 226.7h0M336 152.6h0M462.9 160.9h0M318.2 132.4h0M150.1 280.1h0M390.8 153.4h0M390.5 150.4h0M271.4 88.9h0M416.6 170.4h0M452.3 160.5h0M212.4 194.5h0M295.7 129.4h0M157.3 283.2h0M151.9 191.4h0M139.6 227.8h0M360.1 138.3h0M306.2 142h0M291.8 99.6h0M216 209.6h0M284.7 122.1h0M148 390.8h0M149.7 338.6h0M459.8 160.5h0M356.5 130.4h0M177.5 199.2h0M131.3 163.3h0M149 307.4h0M161.8 221.7h0M449.5 164.7h0M241.5 146.2h0M176.1 193.3h0M217 229.1h0M439.4 157.6h0M148.5 212.1h0M158.4 243.5h0M208.8 193.2h0M139.7 186h0M466 164h0M462.8 160.7h0M146.7 233.1h0M196.5 247.3h0M311.6 108h0M426.9 177.8h0M147.1 231h0M457.1 161.9h0M430.6 162.4h0M436.1 168.5h0M184.2 265.6h0M209.5 213h0M150.7 377.1h0M442.8 154.7h0M145.5 278.1h0M165.1 293.1h0M161.5 356.9h0M160.7 321.2h0M268.3 161.4h0M145.6 264.2h0M198 246.8h0M151.3 386.1h0M146.9 366.4h0M345 141.5h0M183.1 200.1h0M280.7 98.3h0M158.3 263.2h0M146.9 260.7h0M138.6 389.7h0M162.2 354.6h0M227.3 161.3h0M140.8 293h0M237.5 163.8h0M195.6 245.3h0M319.9 144.7h0M146.1 381.7h0M146.1 241.6h0M146.1 329.3h0M152.7 257.2h0M139.8 377.6h0M164.1 307.6h0M148.5 393.1h0M153.9 356.4h0M162.7 354.9h0M218.1 226.4h0M349 151.3h0M140 388.5h0M146.7 305h0M158.5 357.8h0M151 196.7h0M328.3 139.7h0M185.4 240.7h0M154.5 238.7h0M152.4 182.8h0M149.8 350.3h0M175.9 239.2h0M402.1 149.5h0M171.5 288.2h0M145.6 363.1h0M296.4 96.2h0M164.5 202.4h0M138.2 211.9h0M157.7 347.4h0M150.5 232.6h0M144.1 355.9h0M167.7 299.9h0M437.6 167.1h0M166.3 252.4h0M144.9 334.9h0M164.9 365.9h0M162.8 323.1h0M152.7 237.9h0M149.5 359.8h0M155.2 211.2h0M296.5 101.6h0M171.1 207.9h0M157.5 373.5h0M138.8 297.3h0M340.1 136.3h0M186.5 120.4h0M173.3 105.4h0M166 289.9h0M187.3 317.7h0M155.4 216.1h0M369 136.8h0M143.3 179.4h0M167.8 169.1h0M211.5 282.2h0M140.4 312.9h0M156.8 171h0M366.4 147.1h0M153.8 96.6h0M154.3 379.4h0M212.7 270.7h0M216.9 255.4h0M162.8 210.1h0M155.2 91.7h0M143 269.2h0M157.5 80.6h0M176.6 108.6h0M176.5 169.6h0M360 139.2h0M156.5 274h0M158.5 134.1h0M195 194.7h0M318.2 117.7h0M159.8 101.2h0M161.9 112.6h0M147.5 331.7h0M180.5 329h0M142.6 378.9h0M174.1 135.4h0M291.8 121.9h0M183.8 180.2h0M140.3 334.8h0M353.7 159.1h0M134.8 349.3h0M225.9 271.2h0M211.4 270.6h0M204.5 300.9h0M304.3 112.1h0M154 280.4h0M268.7 155.4h0M201.4 210.9h0M174.1 338.1h0M150.6 136.9h0M134.6 225.2h0M190.6 182.7h0M138.6 105.8h0M155 301.4h0M152.2 202.2h0M180.4 192.3h0M197.1 212.6h0M141.8 84h0M163.3 99.9h0M199.3 308.3h0M177.2 220.1h0M216.6 276.8h0M169.5 150.2h0M343.9 147.3h0M166.4 102.7h0M211.8 283.4h0M191.4 256.1h0M137.7 345.1h0M175.6 267.5h0M147.7 120.6h0M163.7 204.5h0M171.9 335.8h0M208.1 299.8h0M150 201.9h0M129 90.1h0"/>
<path stroke="#0000ff" d="M190.6 330.7h0M165 133h0M157.8 117.9h0M151.6 265.6h0M141.4 96.5h0M150.6 285h0M170.4 143.3h0M465.3 159.9h0M186.3 344.4h0M133.2 111.5h0M182.5 337.6h0M149.8 164.1h0M160.8 335.6h0M450.5 167.4h0M144.7 126.2h0M186.7 279.8h0M150.1 133.7h0M200.1 259.5h0M178.4 293.7h0M164.3 339.8h0M179.3 293.1h0M141 300.8h0M197.6 296h0M176.7 164.2h0M157.6 330.2h0M365.2 151.3h0M172.3 183.3h0M141.2 127.5h0M174.5 102.8h0M188.8 274h0M377.4 180.2h0M138.2 355h0M153.7 379.3h0M134.4 96.8h0M170.4 337.6h0M170.9 314.8h0M146.8 75h0M194.4 144.1h0M190.7 156.9h0M359 146h0M162.2 109.2h0M347.6 139.2h0M159.2 153.4h0M156.4 356.6h0M143.6 172h0M158.1 145.7h0M161.4 333h0M318.2 137.8h0M156.9 265.7h0M143.8 394h0M191.4 132.1h0M159.4 268.2h0M145.4 142.2h0M218.7 274.9h0M165.3 193h0M190.7 272.4h0M170.6 171.8h0M168.6 263.4h0M474.2 159.6h0M352.9 144.8h0M196.3 226.5h0M164.3 347.6h0M223.9 284.1h0M160.3 178h0M159.7 219.1h0M192.4 298.7h0M156 89.2h0M156.2 178.3h0M171.1 249.7h0M473.7 162.3h0M168.5 124.1h0M134.4 90.6h0M144.3 85.9h0M147 340.1h0M203 285.4h0M140.9 385.2h0M171.8 254.4h0M371.4 160.9h0M153 113.9h0M224.5 211h0M161.7 179.2h0M188.8 142.6h0M168 298.6h0M222.5 252.6h0M434.2 157.8h0M156.7 178.9h0M209.9 293.7h0M142.5 199.4h0M433.9 168.6h0M146.5 128.8h0M188.5 222.3h0M150.7 150.3h0M137.4 197.1h0M212.5 287.6h0M224.9 269.2h0M186.3 151.2h0M158 338.5h0M217.6 258h0M209.9 262.1h0M192.5 318.2h0M182.4 337.6h0M204.6 248.7h0M158.5 186.5h0M204.7 299.2h0M155.2 381.2h0M199.1 286.8h0M218.7 283.8h0M169.9 145.2h0M161.4 155.6h0M137.2 236h0M208.6 278.3h0M183.8 338.1h0M144.8 246h0M182.9 150.3h0M193.8 152h0M154.8 312.6h0M172.3 317.7h0M285.6 98.8h0M144.4 281.9h0M174.6 333h0M204.1 266h0M142.4 119.8h0M149.8 378.8h0M148.2 164.1h0M163.5 181.6h0M141.3 365.5h0M156.2 150.2h0M287.1 161.2h0M159 108h0M157.7 162.9h0M171 223.1h0M144.5 354.5h0M154 271h0M144 247h0M185.2 140.8h0M161 102h0M207.4 268.3h0M203.9 274.6h0M163.2 134.2h0M160.5 342.9h0M158.1 147.3h0M214.7 273.2h0M142.5 192.8h0M175.7 216.6h0M169.3 350.5h0M148.8 336.2h0M156 342.2h0M168.5 99.8h0M136 112.2h0M200.9 223.3h0M192.8 298.1h0M216.6 255.8h0M192.5 298.7h0M154.9 115.7h0M159.3 329.5h0M166.5 185.3h0M475.7 161.9h0M203.1 288.3h0M473.1 162.4h0M152.5 84.8h0M151 334.1h0M157.5 158.9h0M169.3 309h0M143.7 271.3h0M149.2 195.9h0M178 300.2h0M384.4 146.9h0M143.1 354.7h0M134.6 227.6h0M478 156.1h0M165.3 337.3h0M208.6 275.4h0M133.2 112h0M173.9 136.4h0M143.4 136.9h0M146.7 131.5h0M469.2 165.7h0M208.3 284.2h0M406.4 171.8h0M154.2 141.6h0M163.9 252.5h0M340.5 124.4h0M144.3 205.9h0M379 155.4h0M197.8 296.9h0M249.5 92h0M139.2 77.2h0M158 383.1h0M161 365.1h0M186.7 298.7h0M176.6 144.8h0M162.9 154.7h0M150.7 77.1h0M139.7 139.7h0M193.8 158.6h0M169 167.7h0M194.9 166h0M185.1 188.5h0M158.8 345.5h0M164.2 198.9h0M183.4 333.6h0M152 121.5h0M131.9 208.5h0M165 131.3h0M194.7 178.3h0M183 143.1h0M181.1 294.1h0M168.8 322.1h0M140 75.4h0M146 162.9h0M190.5 318h0M209.2 296.3h0M202.3 152.8h0M200.7 164.6h0M181.8 138h0M140.3 285.5h0M151.3 113.8h0M188.3 253.8h0M149.6 329.6h0M321.6 149.4h0M173.6 115.7h0M190.7 188.8h0M137.1 139.1h0M180.3 210.2h0M192.3 153.2h0M168.5 138.6h0M150.8 133.6h0M158.9 255.6h0M188.1 311.1h0M465.3 160.2h0M164.7 263.5h0M221.8 214.5h0M178.4 143.3h0M145.8 272.8h0M151.6 402.7h0M178.3 219.8h0M142.7 339.3h0M180.2 169.6h0M171.7 132.9h0M203.2 271.2h0M374.8 178.9h0M159.1 106.1h0M157.9 144.1h0M146 392.5h0M202.6 302.6h0M161.2 159.8h0M444.8 160.8h0M200.1 141.9h0M214.6 216.7h0M172.7 138.8h0M171.4 248.3h0M148.8 141.2h0M161.2 167.1h0M348 140.9h0M190.5 329.9h0M138.4 366.8h0M176.8 159.3h0M146.7 371h0M158.5 186.5h0M167 125h0M335.4 141.9h0M164.8 116.3h0M161.2 121.6h0M154.1 371.8h0M162.6 345.5h0M164.6 221.2h0M154.2 121.7h0M183.4 125.5h0M186.2 223h0M188.1 218.8h0M148.3 398.9h0M172.3 282.9h0M446.4 156h0M194.9 200.5h0M196 178.4h0M198.9 258.8h0M161.6 154.4h0M170.8 142.3h0M204.8 302.2h0M158.2 202.7h0M138.3 299.1h0M150.7 318.4h0M156.4 146h0M218.2 290.3h0M138.3 269.8h0M175.5 252.2h0M227.4 278.2h0M375.8 145.2h0M184.4 308.9h0M426.2 177h0M164.4 358.3h0M153.8 141.9h0M182.6 255.6h0M298.2 114.5h0M155.7 391.3h0M146.9 233.6h0M333.1 140h0M153.5 384.1h0M145.4 125.1h0M324.7 133.5h0M210.9 208.2h0M154.4 343.1h0M171.6 346.8h0M180.4 135.5h0M190.3 146.7h0M189.2 301.4h0M433.1 166.5h0M210.2 264.2h0"/>
<path stroke="#ff0000" d="M219.7 122.9h0M217.8 149.1h0M180.7 68.1h0M199.3 167.9h0M200.4 167.2h0M208.9 170h0M217.5 114.8h0M403.6 153.4h0M212.2 129.5h0M210.6 130.8h0M205.2 156.9h0M168.8 81.2h0M138.6 192.3h0M188.3 220.3h0M191 198.5h0M205.3 167.8h0M197.9 78.2h0M220.1 131.1h0M389.4 183.9h0M395 178h0M200.4 165.9h0M200 139h0M183.1 200.1h0M196.5 194h0M162.1 74.1h0M178.5 77.8h0M156.2 79h0M162.7 54.7h0M170.9 221.5h0M186.9 72.8h0M191.9 116.6h0M183.4 84.2h0M223.3 158.1h0M198.6 208.4h0M179 51.9h0M203.1 120.2h0M205.9 180.4h0M203 146.1h0M172.4 214.4h0M161.8 61.4h0M213.1 176.9h0M215 85.7h0M192 72.6h0M206.8 80h0M196.3 105.4h0M209.9 158.3h0M171.7 116.1h0M204.3 62.1h0M401 180.2h0M187.2 97.1h0M211.3 133.7h0M281.4 116.8h0M150.6 174.5h0M211.8 146.7h0M209 168.6h0M201.4 74.7h0M178.5 97h0M220.9 173.2h0M254.9 158.6h0M335 147.3h0M188.9 64.3h0M151.1 65.5h0M179.5 80h0M177.9 94.3h0M198.3 124.3h0M217.4 180.6h0M197.2 136h0M172.7 76h0M219.7 170.3h0M179.8 78.4h0M185 73.6h0M196.9 138.1h0M172.1 74.7h0M191.3 78.9h0M227.4 159.9h0M152.7 313h0M311.7 165.1h0M314.6 110.6h0M211.7 151.8h0M217.9 105.4h0M387.7 176.9h0M207.4 65h0M202.2 94.6h0M161 71.2h0M208.6 120.1h0M177.5 212.6h0M197.8 157.4h0M171 63.8h0M241.3 83.8h0M228.7 79.1h0M432.3 172.8h0M201.6 163.4h0M410.2 174.7h0M217.8 120.6h0M406.5 175.7h0M194.1 62.1h0M206.4 103.7h0M224 114.5h0M304.9 122.7h0M220.4 85.1h0M217.6 88.6h0M220 220.8h0M221.9 128.6h0M208.1 209.9h0M218.5 87.2h0M204.3 110.7h0M199.9 98.8h0M180.7 115h0M149 192.1h0M433.3 170.8h0M224 152.8h0M208.1 154.9h0M359.4 137.1h0M187.7 209.6h0M177.5 65.7h0M208.7 118.7h0M192.2 68.5h0M157.4 188.8h0M182.8 62.1h0M202.2 189.7h0M197.5 200.9h0M395.6 176.2h0"/>
<path stroke="#0000ff" d="M213.6 283.7h0M175.6 191.4h0M185.1 153.3h0M182.1 252.2h0M162.5 107.9h0M189.9 187.2h0M162.7 120.4h0M294.1 131.4h0M187.7 237.8h0M161.8 340.9h0M185.3 161.2h0M149.4 227.9h0M142.1 335.8h0M144.3 213.7h0M283.1 163.9h0M162.3 173h0M136.1 390.7h0M204.3 224.2h0M150.7 119h0M179.8 319.8h0M144.3 113.2h0M275.1 155.6h0M220.5 263h0M143.2 213.7h0M202.1 234.1h0M172.7 125.3h0M189.6 292.9h0M149.4 381.3h0M169.7 188.4h0M218.6 266.3h0M148.9 358h0M140.8 353.1h0M154.9 269h0M287.1 117.1h0M139.7 249.7h0M218.8 268.4h0M430.4 174.1h0M426.7 171.1h0M197.5 305.7h0M173.8 346.5h0M167 139.6h0M171 344.6h0M199.8 292.6h0M144.4 102.9h0M147.6 359.9h0M132.6 221.9h0M441 159.3h0M157.4 364.7h0M197.7 148.4h0M167.6 272.6h0M169.7 161.6h0M444.5 157h0M452.2 165.6h0M209.3 294.3h0M327 125.6h0M198.7 304.3h0M159.9 276.9h0M158.7 106.7h0M182.9 306.5h0M154.3 161.6h0M175.7 149.2h0M167 109h0M158 87.3h0M183.5 325.7h0M273.4 96.4h0M189.6 324.2h0M194 316.4h0M162.5 187.3h0M127.4 90.5h0M226.2 263.6h0M140.7 126.8h0M140.9 392.5h0M407.8 151.2h0M134 97.6h0M200.1 236.6h0M178.2 300.8h0M156.7 316.7h0M208.9 235.3h0M174.4 123.7h0M161.1 144h0M344 145.2h0M166.1 316.5h0M432.1 165.6h0M201.2 150.5h0M193 185.9h0M163.2 110.7h0M185.3 242.2h0M139.1 81.6h0M186.7 340.2h0M283.8 115.6h0M130.9 166.5h0M204.7 261.4h0M169.8 104.2h0M186 149.9h0M194.3 208h0M143.2 83.2h0M170.5 99h0M202.5 249.5h0M183.2 142.2h0M178.1 281.7h0M189.8 250.4h0M145.7 396.6h0M198.8 271.4h0M152.2 329.6h0M179.6 164.2h0M214.9 267.6h0M134.5 121.6h0M154.3 155.1h0M181.8 335.8h0M162.9 130.9h0M472.2 165.4h0M197.6 289.5h0M174.8 121.5h0M181.2 307.7h0M185.9 323.1h0M430 169.9h0M185.6 165.5h0M155.2 272.7h0M147.3 155.2h0M207.4 168.3h0M132.9 125.1h0M215 201.5h0M189.9 101.3h0M190 337.2h0M187.7 198.6h0M351.1 139h0M195.3 245.2h0M140.7 354h0M204.3 291.3h0M146.9 80.9h0M139.9 367.2h0M181.7 145.6h0M146.9 371.2h0M145.4 395.9h0M191 319.5h0M161.3 344.2h0M202.3 299.7h0M180.9 120.8h0M159.3 141.7h0M136.3 232h0M166.4 293.8h0M176.7 197.4h0M184 175.4h0M480.1 159.4h0M147.6 372.8h0M152.2 101.6h0M127.3 90.1h0M146.7 402.5h0M139.8 84.9h0M298.8 156.5h0M137.7 116.2h0M270.6 92.8h0M188.8 271.2h0M212.7 256.7h0M297 131.1h0M172.3 351.9h0M148.9 77.2h0M187.4 303h0M160.7 117.2h0M151.7 108.3h0M431.1 159.5h0M178.2 226.5h0M163 347.9h0M184.4 331.5h0M214.2 253.1h0M144.8 342.6h0M140.8 69.5h0M173.2 180.8h0M174.8 219h0M151.1 132.7h0M160.6 347.8h0M137.9 106.6h0M202.8 208.8h0M464.5 157h0M162.8 174.6h0M190.9 137h0M134.6 117.7h0M307 111.8h0M211.5 228.5h0M173.4 333.3h0M145.8 124.3h0M189.6 239.4h0M185.5 335.3h0M362.7 151.1h0M136.6 378.3h0M146 102.4h0M164.5 163.7h0M137.6 253.3h0M157.8 384.7h0M424.7 162.6h0M130.5 100.1h0M148.8 361.3h0M176.1 207.3h0M383.8 154.5h0M192.6 179.6h0M166.6 242.5h0M238 165h0M149.7 127.1h0M204.2 198h0M172.9 228.8h0M189.3 179.9h0M195.1 136.8h0M189.8 142.7h0M159.8 169.3h0M168.5 251.2h0M152.2 282.9h0M146.9 310.3h0M196.4 152.8h0M139.2 91.6h0M190.7 254.6h0M365.3 149.1h0M151 178.4h0M160.3 367.1h0M165.2 224.3h0M202.4 155.2h0M220 220.3h0M201.4 133.8h0M171.7 180.3h0M188.1 318.7h0M173.5 308.2h0M174 323.3h0M429.1 168.7h0M236.7 154.2h0M146.7 89.3h0M174.5 164.3h0M183.5 324h0M182.8 183.9h0M184.7 201.2h0M202.6 147.9h0M149.2 230.3h0M189.4 174.4h0M144.2 293h0M183.7 207.8h0M152.9 393.7h0M171.9 185.6h0M172.2 347.9h0M172.5 329.8h0M378.5 147.1h0M161.8 147.5h0M156.5 95.2h0M172.2 353.8h0M424.6 174.9h0M332 135.1h0M168.9 340.5h0M172.8 231.6h0M152.6 112.6h0M199.8 164.8h0M140.1 126h0M197.2 159.9h0M163.5 97.2h0M146.8 374.5h0M151.1 76.3h0M304.4 135.4h0M145 399.6h0M173.2 150.5h0M196.1 297.5h0M195.7 125.5h0M172.9 281.7h0M145.2 348.2h0M165.8 210.5h0M173.1 146.9h0M155.4 221.8h0M144.6 223.2h0M185.4 251.9h0M220.7 253.5h0M183.4 321.7h0M150.2 347.6h0M448.7 157h0M183.6 339.6h0M153.9 90.6h0M150.8 338.4h0M164 245.9h0M152 349.8h0M191.4 300.6h0M176 266.6h0M161.6 136.4h0M430.1 164.3h0M141.1 89h0M173.2 342.7h0M156 369.5h0M421.9 160.4h0M178.9 320.4h0M211.5 290.6h0M161.3 342.8h0M275.9 93.7h0M324.1 120.2h0M295 127.1h0M144.8 89h0M159.2 177h0M178.7 239.8h0M200.5 164h0M141.9 230h0M152.7 181.4h0M145.8 136.1h0M177.3 229.9h0M200.6 151.8h0M186.2 337.6h0M265.7 128.1h0M205.6 252.6h0M148.1 358.5h0"/>
<path stroke="#ff0000" d="M150 65.3h0M198.4 80.6h0M218.5 77.7h0M207 202.2h0M134.1 103h0M422.9 180.2h0M210.5 125.1h0M143.4 156h0M201.2 123.4h0M223.2 102.3h0M213.8 119.1h0M213.1 146.1h0M217.8 175.7h0M208.9 210h0M196.7 108.1h0M164.7 256.2h0M149 62.4h0M197.7 113.1h0M205.2 99.1h0M210.4 203h0M172 127.1h0M204.6 125.1h0M206.8 166.4h0M188.2 94.6h0M211.6 83.2h0M148.4 211.9h0M208 215.6h0M207.1 178h0M149.3 237.9h0M422.7 170.7h0M434.4 170.7h0M191.3 60.1h0M182.9 113.1h0M191.7 252.5h0M206.1 145.3h0M143.9 246.5h0M296 137.7h0M213.2 128.7h0M209 116.6h0M210.4 114.1h0M363.7 139.9h0M285 161.2h0M198.3 68.6h0M185.1 60.6h0M217.6 149.9h0M221.2 168.3h0M224.7 137.7h0M206.4 107.6h0M211.2 166.1h0M247.1 99.6h0M414.1 172.5h0M207.4 125.4h0M226.2 141.3h0M223.4 160.9h0M379.3 181.3h0M200.6 91.5h0M170.6 70.9h0M204.2 180.4h0M170.6 50.5h0M198 63.6h0M205.7 155.8h0M178 70.3h0M172.2 53.1h0M180.9 59.3h0M180.5 60.8h0M214.3 128.1h0M203.1 141h0M204.8 130.3h0M196.7 122.8h0M186.4 75.6h0M401.7 184h0M202.6 128.3h0M196.4 227.9h0M208.9 143.4h0M215 79.6h0M205.1 213.5h0M212.9 206.8h0M203.1 98.2h0M184.5 63.5h0M222.9 131.9h0M223.6 89.4h0M207.6 152.2h0M271.1 121.1h0M180.6 223.3h0M202.2 137.3h0M401.7 175.7h0M150.3 172h0M194.2 104.9h0M170.3 47.8h0M199.7 65.7h0M199.5 213.5h0M187.9 253.6h0M200.8 70.8h0M203.9 200.4h0M176.1 89.9h0M205.6 81.4h0M154.9 193.4h0M187.1 108.8h0M397.6 174.3h0M183.7 203.4h0M223.7 120.8h0M175.5 87.8h0M199.1 230.7h0M172.8 71.8h0M206.6 166.9h0M223.2 135.2h0M200.1 120.5h0M327.5 118h0M206.1 99.5h0M432.1 173.2h0M197.7 57h0M165.2 81.2h0M211.9 142.2h0M216.1 159.6h0M199.9 127.3h0M223.3 151h0M210.8 183h0M184.8 113.5h0M190 104.6h0M167.3 69.8h0M201.9 57.6h0M206.6 86h0M188.8 86.4h0M204.5 109.1h0M188.2 89.2h0M197.8 213.2h0M219 159.1h0M210.5 146.9h0M188.3 55h0M210.1 130.8h0"/>
<path stroke="#0000ff" d="M166.2 173.8h0M193.4 310.5h0M156.8 380h0M395.9 177.1h0M148.6 154.5h0M218.4 262.9h0M151.1 73.2h0M137.9 71.9h0M251.1 95.9h0M205.3 259.2h0M145.6 147.6h0M182 219.3h0M160.8 376.4h0M166.8 336.3h0M169.9 338.9h0M163.3 151.5h0M167.1 328.4h0M205.4 245.4h0M161.6 185.3h0M175.3 210.6h0M179.8 242.8h0M415.6 155.2h0M152.7 375.7h0M208.4 234.3h0M455.6 165.6h0M161 357.5h0M168.1 336.3h0M209.1 289.8h0M139.8 78.2h0M137.4 340h0M174.5 321.1h0M196.6 299.9h0M145.5 279.8h0M143 243.2h0M159.7 118h0M142.5 283.3h0M212.4 198.4h0M155.1 178.1h0M175.3 314h0M398.8 178.1h0M353.4 126.9h0M334.3 118.1h0M272.5 105h0M178.3 296.8h0M156.1 346.3h0M209.3 227.6h0M172.2 108.5h0M206 162.9h0M366.7 141h0M151 152.6h0M408 159.3h0M369.5 136.2h0M139.4 381.9h0M208.1 286.8h0M221.5 274.3h0M177.6 305.6h0M163.5 255.7h0M182.1 308.5h0M229.2 166.7h0M165.7 348.5h0M157.1 166.3h0M459.3 153.4h0M151.7 121.2h0M169.2 116.3h0M134.3 152h0M196.2 130.7h0M160 156.9h0M149.3 119.4h0M169.2 324.5h0M205.8 258.9h0M214.8 295.5h0M183.9 342.9h0M149.2 169.5h0M134.4 125.4h0M299.2 156.1h0M156.1 191.3h0M176.7 228.1h0M161.1 351.6h0M468.9 163.7h0M180 166.4h0M159.2 97.7h0M458.6 163.2h0M181.4 348.2h0M160.5 383.8h0M173.3 143h0M359.1 136.6h0M197.6 106h0M134.5 178.7h0M182.2 170.1h0M154 161.1h0M164.4 162.5h0M361.7 138.3h0M133.4 185.4h0M186 104.1h0M149.8 155.5h0M154.9 292.4h0M179.2 281.8h0M143.5 395.9h0M171.2 147.6h0M158.4 91.5h0M323.6 135.3h0M150.5 402.3h0M146.6 138.3h0M135.5 139.9h0M202.7 263.4h0M171.2 191.8h0M179.8 332.2h0M147.8 238.1h0M151.8 128.1h0M156.9 125.1h0M160.3 194.3h0M167.4 260.9h0M168.6 95h0M219.9 275.4h0M181.6 313.6h0M157.4 123h0M163.6 87.2h0M189.1 296.2h0M201.4 133.4h0M146.3 333.6h0M142.5 389.9h0M159 107.4h0M186.6 118.6h0M147.4 261h0M209.2 277.9h0M145.5 96.9h0M155.1 356.9h0M139.3 280.2h0M154.7 352.8h0M167.2 184h0M189.8 231.1h0M138 110h0M207.6 267h0M141.3 279.7h0M205.9 301.6h0M353.7 146.7h0M176.8 96.6h0M462.7 158.5h0M199.2 297.2h0M173 349.3h0M167.8 242.5h0M158.6 338.7h0M182.4 116.2h0M456.6 155.5h0M193.6 149.4h0M140.2 89.5h0M211.4 260.6h0M164.3 119h0M220.8 271.6h0M248 104.9h0M193.7 177.1h0M146.7 120.6h0M143.9 369.1h0M173.3 165.3h0M140.4 105h0M183 160.5h0M146 403.6h0M153.5 352.3h0M172.8 243.4h0M168.3 332.4h0M201.7 159.9h0M133.9 201.7h0M141.5 360.5h0M210.5 279.7h0M434.3 168.3h0M141.5 115.3h0M172.2 112.8h0M182.1 241.5h0M146.7 339.6h0M171.5 125.5h0M154.5 114.8h0M209.3 298.9h0M185.5 273.3h0M143.1 148.4h0M180.3 180.7h0M181 221h0M165.2 105.5h0M163.5 366.5h0M164.5 99.2h0M162.8 110.1h0M172 248.9h0M177.4 123.4h0M334.9 147.9h0M182.7 339.6h0M154.4 364.4h0M292 94h0M195.5 295.3h0M141.5 392h0M149 172.8h0M161 89.1h0M195.5 198.9h0M155.5 151.1h0M194.7 115.7h0M185 329.1h0M183.1 125.8h0M182.6 118.8h0M429 162.9h0M179.7 175.2h0M224.8 278.3h0M178.2 268.6h0M194.3 297.4h0M171.8 348.3h0M190.7 299.4h0M154.6 389h0M192.5 126.4h0M151.4 224.3h0M171.5 150.9h0M184.2 217.2h0M139.3 86.6h0M285 91.4h0M144.8 350.1h0M191.2 302.9h0M174.7 242.2h0M162.6 247.7h0M212.3 296.3h0M214.5 286.2h0M168.2 323.5h0M281.1 91.5h0M185.8 240.6h0M181.9 111.6h0M160.6 132.3h0M155.4 84.1h0M140.6 85.8h0M199.4 193.6h0M167.6 143.2h0M350.6 141.4h0M144.7 180.3h0M221.7 252.2h0M225.9 215.6h0M136.7 137.4h0M244.8 158.6h0M209.9 276.7h0M163.1 132.6h0M175.1 104.1h0M223.6 268.4h0M177.7 155.1h0M214.1 253.1h0M143.6 109.6h0M189.9 297.8h0M179.8 219.8h0M346.2 139h0M162.2 240.5h0M169.8 195.3h0M195.1 246.3h0M164.3 180h0M183.6 321.1h0M158.5 344.2h0M165.6 160.1h0M482.3 157.6h0M129.5 95.1h0M137.5 336.3h0M145.2 320.9h0M185.8 181.6h0M127 90.9h0M185.9 299.8h0M190 267.4h0M190.9 279.2h0M212.6 272.8h0M209.1 202.8h0M156.1 385.7h0M201.7 215.8h0M204.9 253.5h0M168.3 179.1h0M176.4 323.4h0M151.3 363.8h0M152.2 383.3h0M164.4 149.2h0M172.9 173.8h0M196.5 237.5h0M147.4 110.5h0M187 294.7h0M192.7 148.6h0M166.7 131.5h0M177.6 187.8h0M187.6 299.5h0M146.3 181.8h0M188.4 328h0M130.5 201h0M166 94.8h0M176.6 305.1h0M193.6 155.5h0M193.4 325.2h0M175.8 345.9h0M139.1 124h0M197.6 274.1h0M137.9 208.6h0M388.1 156h0M143 214.6h0M147.3 128.6h0M141.3 374.8h0M201.3 215.9h0M150.1 113.4h0M170.3 336.5h0M259.5 113h0M156.7 149.1h0M178.4 312.3h0M295 134.6h0M199.4 152.9h0M183.6 185.5h0M148.4 103.4h0M155.6 173.7h0"/>
<path stroke="#ff0000" d="M326.3 127.1h0M170 77.4h0M212.2 127.1h0M200.1 136.1h0M159.4 218.1h0M398.4 152h0M188.5 80.9h0M195.5 211.2h0M151 64.1h0M364.5 165.8h0M203.1 88.5h0M183.7 92.3h0M197.3 82.6h0M216.3 84.8h0M203.7 196.5h0M233.1 160.1h0M217 76.8h0M197.9 155.2h0M177.5 98.2h0M202.1 121.3h0M224.2 134.2h0M213.7 80.2h0M214.4 112.3h0M168.7 46.2h0M198.5 133.8h0M174.2 69.6h0M196.1 97.7h0M319.4 146.6h0M175.8 76.5h0M183.3 254.5h0M335.7 162.9h0M158.7 66.6h0M189.5 64.7h0M201.5 109.4h0M224.2 124.6h0M152.2 74.3h0M197.2 81.5h0M224.4 89.7h0M168.4 208.6h0M199.6 213.9h0M151.6 195.7h0M195.7 222.6h0M205.5 167.7h0M328.7 143.5h0M208.7 178.5h0M203.7 71h0M175.8 86.6h0M181.5 59h0M201 79.8h0M204.6 65.6h0M204.1 68.3h0M197.4 140.3h0M196.3 110.5h0M181.1 75.8h0M189.4 77.5h0M209.8 160.1h0M186.3 233.1h0M297.8 155.1h0M264.3 124.6h0M163.1 73.5h0M207.7 182.8h0M211.6 95.9h0M195.9 156.4h0M198.3 174.8h0M194 83.3h0M158.9 58.7h0M195.8 121.2h0M141.3 236.1h0M207 65.5h0M305.1 130.8h0M201 216.6h0M204.6 125h0M198.1 75.2h0M372.2 137h0M193.7 82.4h0M234.9 85.6h0M209.4 81.8h0M193 71.2h0M151.5 53.9h0M216.2 114.4h0M221 128.5h0M190.3 130.9h0M389.6 178.8h0M218 142.6h0M198.9 97h0M176.8 86.9h0M201.8 198.6h0M391.7 179.1h0M209 138.8h0M199.3 213.4h0M214.9 91.2h0M174.4 71.7h0M196.1 203.1h0M195.3 56h0M214.5 73.6h0M290.8 116.8h0M213 144.4h0M145.4 189.2h0M178.7 54.5h0M210.9 182.9h0M207.2 132.9h0M202.9 175.5h0M153.4 64.8h0M225 104.3h0M226.8 129.9h0M202.3 151.7h0M224.5 153.3h0M196.6 104.2h0M341.1 159.6h0M204.3 156.8h0M204 92.3h0M160 74.4h0M397.8 159.1h0M474.9 157.9h0M203.4 63.2h0M156.4 64h0M205.4 135.3h0M168.9 59.3h0M207.7 88.5h0M185.4 81.5h0M184 73.1h0M209.8 135.6h0M469.2 157.6h0M206.6 125.6h0M214.9 100.9h0M184.6 96.2h0M195.8 141.1h0M204.9 99.8h0M239.2 83.6h0"/>
<path stroke="#0000ff" d="M182.8 161.3h0M153.4 111.5h0M144.2 365.5h0M165.8 127.3h0M166 217.6h0M139.3 168.9h0M257.4 103.8h0M161.8 101.8h0M159.6 232.2h0M149.3 115.2h0M170.8 128.7h0M157.9 348.3h0M178.5 327.8h0M143.4 111.1h0M165.5 191.9h0M163.9 315.1h0M188.7 243.7h0M132.2 235.7h0M144.4 149.3h0M227.1 277.7h0M140.5 85h0M185.8 342h0M149.8 405.3h0M139.9 243.8h0M148.5 355.8h0M147.1 352.7h0M151.4 84.4h0M216.2 262.8h0M141.9 338h0M165 91.4h0M181 287.2h0M159.6 213.9h0M443.9 167.7h0M208.5 262.6h0M168 163.5h0M191.7 103.3h0M173.2 115.8h0M158 145h0M219.9 212.6h0M145.1 299.5h0M331.4 148.5h0M178.2 281.5h0M481.5 160.6h0M143.8 151.2h0M183.1 149.8h0M150.3 155.5h0M170 140.6h0M178.8 334.7h0M168.8 333.5h0M162.1 233.8h0M169.1 164.8h0M222.1 262.9h0M213.8 199.6h0M150.8 112.3h0M148.3 330.1h0M159.9 125.7h0M151.2 118.6h0M143.3 380.8h0M169 337.1h0M136.4 85.8h0M172.5 123.8h0M161.5 281.9h0M144.5 337h0M150.9 401.8h0M198.6 156.6h0M138.6 127.7h0M155.5 98.4h0M175.8 161h0M266.9 117.9h0M159.4 92.1h0M140.3 398.5h0M261.3 93.6h0M393.5 154.4h0M154.2 137h0M139.5 299.8h0M200.1 257.8h0M193.2 272.3h0M178.4 264.5h0M168.3 107.5h0M278 163.3h0M200.5 263.6h0M205.4 255.8h0M134.6 122.9h0M180.5 173.2h0M190.5 175.3h0M170.7 337h0M280.9 103.4h0M192.1 217.7h0M193.5 284.9h0M145.7 151.1h0M202.1 216h0M158.1 369.6h0M193.9 102.2h0M183 344.8h0M203.7 233.3h0M188.7 129.1h0M203.4 193.8h0M174.3 120.8h0M137.7 376.1h0M474.2 156.9h0M452.1 158.1h0M173.9 208.2h0M181.2 166.8h0M156.1 332.1h0M207.2 292.7h0M166.2 347.5h0M192.3 148.2h0M202.4 165.8h0M145.8 267.9h0M211.9 192.2h0M191.8 117.3h0M134.8 116.6h0M163.2 123.8h0M215.3 248.5h0M456.5 160.4h0M142.4 386.6h0M163.6 138.6h0M151.8 104.5h0M398.6 158.6h0M181.9 141.7h0M133.3 88.9h0M138.4 141h0M208.9 266.5h0M181.9 156.5h0M427.2 156.6h0M457 163.6h0M216.2 207.3h0M208.3 217.1h0M156.7 165.6h0M156.8 165.5h0M435.7 156.4h0M189.1 241.6h0M146.4 352.6h0M216 239.2h0M207.2 281.5h0M204.3 257.8h0M142.6 372.9h0M142.5 106.7h0M138.1 145.9h0M213.3 295.6h0M138.3 138.7h0M144.8 380.2h0M438.4 161h0M161 185.7h0M155.9 336.8h0M160.5 306h0M144.4 148.3h0M159.4 294h0M146.7 124h0M146.3 168.2h0M133.9 180.5h0M171.1 342.5h0M181.1 166.7h0M155.1 365.8h0M173.6 185.1h0M156.5 113.3h0M243.8 89.7h0M132.8 122.3h0M176.6 226.2h0M188.1 254.6h0M177 144.2h0M181.5 340.4h0M181.7 103.9h0M145.2 159.4h0M174.4 313.1h0M152.8 194.6h0M173.7 124h0M222.5 275.1h0M173.2 106.7h0M286.8 106.9h0M154.5 343.3h0M218.4 276.9h0M186.3 250.4h0M212.9 219h0M205.2 292h0M195.3 294h0M166.6 248.1h0M186.4 327.4h0M221 273.4h0M320 119.2h0M188.4 295.3h0M179.7 344.5h0M318.8 145.6h0M159.8 374.3h0M441.4 156.2h0M188.8 329.3h0M205.5 275.9h0M173.2 124.8h0M198.4 150.6h0M179 308.2h0M130.1 88.8h0M156.2 324.4h0M184.4 303.3h0M160.5 96.4h0M136.1 206.9h0M183.5 333.2h0M146.9 164.4h0M404.3 175.2h0M217.9 255h0M155.7 391.6h0M146.6 397.9h0M187.8 233h0M172.7 98.7h0M147.5 180.9h0M153.6 378.1h0M156.1 344.9h0M185.1 308.3h0M447 168.1h0M216.7 283.2h0M160.6 147.2h0M133.1 101.4h0M216.3 271.8h0M145.3 118.4h0M157.8 138.6h0M220.4 203.4h0M166.5 144.4h0M210.5 266.2h0M142.5 401.8h0M179.9 116h0M166.1 87.2h0M159.6 353.9h0M209 279.9h0M384.9 155.3h0M188.4 323h0M174.9 266.8h0M137 91.1h0M176.8 134.8h0M347.6 148.3h0M194.9 183.2h0M197.7 251.8h0M186.2 279.3h0M199.3 264h0M147.4 171.9h0M276.3 101.4h0M185.7 311h0M184.5 321h0M159 220.2h0M160.8 299.4h0M203.7 169.5h0M197.9 276.9h0M143.5 343.2h0M190.4 299.9h0M217 253.3h0M156.6 124.4h0M449.9 162h0M187.3 300.1h0M150.1 331.8h0M138.7 335.2h0M149.7 82.9h0M183.2 336.4h0M284.4 91.6h0M192.3 144.7h0M177.7 148.9h0M454.7 155.4h0M158.9 189.3h0M169.5 183h0M155.3 109.8h0M170.7 246.5h0M165.8 136.5h0M172.3 137.8h0M458 163.7h0M140.3 353.9h0M162.7 139.7h0M217.1 288.5h0M147.8 133.4h0M197.5 265.8h0M219.6 251.2h0M160.8 82.4h0M278.4 106.3h0M134 129.7h0M470.2 160.4h0M175.1 338h0M167.8 111.1h0M212.6 249.9h0M158.5 164.3h0M189.8 152.1h0M217.4 249.3h0M170.3 326.5h0M144.3 339h0M172.1 186.1h0M136.9 279.2h0M161 207.3h0M180.6 134.1h0M185.5 108.5h0M172.3 113.9h0M144.7 183.2h0"/>
<path stroke="#ff0000" d="M221 130.5h0M179.8 96.3h0M222 116h0M177.1 242.2h0M218.3 95.6h0M412.7 179.7h0M203.3 126.2h0M200.4 210.1h0M211.4 83.6h0M282.1 119.6h0M193.7 88.1h0M208.3 69.8h0M202.9 137.7h0M177.4 65h0M219.3 140.2h0M210.6 64h0M398.2 181.7h0M196.3 59.7h0M196.6 124.7h0M208.8 85.3h0M182.5 99.3h0M213.5 115.8h0M189.5 75.5h0M216.3 149.2h0M145.7 194.9h0M182 88.7h0M198.2 188.3h0M208.8 199.2h0M198 117h0M182.6 83.7h0M201.2 133.9h0M174.7 122h0M213.8 134.6h0M154.3 101.3h0M156.6 70.8h0M195.5 221.6h0M187.7 117.6h0M189.7 93.8h0M207.6 217.5h0M219.5 147.2h0M192.3 188.3h0M191.6 100.2h0M202.5 108.2h0M210.5 146.5h0M306.8 110.9h0M219.2 150.5h0M212.1 119.7h0M222.1 158.7h0M197.2 81.9h0M207.8 130h0M188.8 194.5h0M139.4 279.7h0M188 219h0M326.1 147.3h0M179.1 189.6h0M146.1 67h0M399.7 178.2h0M228.1 170.2h0M228.4 150.2h0M216.5 126.5h0M248.7 99.7h0M207 121h0M183.9 74h0M266 99.3h0M206.1 159.5h0M166 60.8h0M182.6 58h0M222.2 98.6h0M254.4 96.2h0M145.1 214.3h0M444.3 165.4h0M189.7 62.2h0M218.5 96.2h0M216.8 174h0M192.5 236.3h0M168.7 53.5h0M214.1 136.3h0M201.7 144.6h0M208.5 159.1h0M190.1 67.4h0M180.3 55.7h0M180.3 99.7h0M219.7 106.9h0M220.2 175.7h0M213.4 168.5h0M161.9 66.2h0M189 105.9h0M188.1 207.1h0M176.4 73.6h0M173.7 52.6h0M191.1 79.1h0M155.4 59.6h0M192 143.7h0M175.5 83.3h0M187.2 74.5h0M272.3 158.6h0M348.1 123.4h0M207.5 158.1h0M177.2 76.6h0M189.1 83h0M202.4 60.7h0M186.6 61.5h0M196 161.1h0M204.9 174.8h0M194.7 108.8h0M222.5 91.7h0M190.1 114.3h0M255.8 103.5h0M194.7 93.2h0M196.6 124.3h0M200.1 62.4h0M176.3 65.7h0M133.5 89.6h0M147.5 255.9h0M194.7 115.4h0M193.8 208.7h0M202.5 209.3h0M205.9 127.2h0M210.5 165.6h0M209.5 139.7h0M160.1 55.7h0M215.3 154.6h0M212 167.5h0M217.2 145.1h0M170.5 57.8h0M175.2 58h0M190.1 127.9h0M200.9 232h0M207.4 97h0M203.9 153.2h0M343.7 122.9h0M207.9 64.8h0M194.9 60.1h0M146.3 264.4h0M148.2 65h0M143.3 252.3h0M213.5 137.9h0M156.3 73.4h0M215.9 157.2h0M213.7 135.6h0M218.5 85.1h0M180.8 105.7h0M324.7 140.6h0M167.4 81.5h0"/>
<path stroke="#0000ff" d="M282.3 125.7h0M182.3 166.4h0M153.4 92.6h0M160.2 115.6h0M169.8 134h0M138.7 133.2h0M173.1 205h0M202.6 257.8h0M189 207h0M146.5 227.8h0M206.9 252.2h0M148.6 378.6h0M220.6 279.6h0M194 226.1h0M185.7 278.1h0M186.5 213.4h0M325.3 144.9h0M171.5 323.7h0M157.4 377.5h0M187.4 110.9h0M177.6 159.6h0M181.7 169h0M174 179h0M188 143.2h0M145 117h0M171.3 91.9h0M157.9 200.4h0M140.9 108.6h0M472.7 162h0M280.6 127.2h0M192.7 197.8h0M181.2 109.9h0M440.6 157.3h0M201.8 247.4h0M192.1 311.3h0M144.7 168.7h0M207 251.8h0M194.9 106.8h0M147.9 393.3h0M148.3 265.4h0M303.2 109.8h0M155.8 124.7h0M177.8 291.5h0M163.6 161.3h0M210.9 267.1h0M165 264h0M209.4 294.2h0M166.2 307.3h0M141.1 179.1h0M381.6 182.4h0M162.5 179.7h0M140.9 240.9h0M428.3 154.6h0M183.4 210h0M145.6 404.1h0M199.1 304h0M165.3 89h0M197.9 175.4h0M190.2 336.3h0M359.8 142.2h0M419 179.8h0M193.5 226.6h0M163.5 359.8h0M227.5 155h0M176.3 157.2h0M220.1 220.9h0M143.3 396.6h0M149.7 82.6h0M153.9 208.4h0M225.6 268.8h0M152.6 97.5h0M184.1 121.6h0M174.3 128.6h0M140.6 313.2h0M190.6 187.5h0M181.2 184.7h0M209.1 273.7h0M187.9 183h0M151 384h0M174 326.5h0M208.8 273.4h0M168.7 113.9h0M185.8 334h0M133.9 240.4h0M158.3 153h0M474 156.2h0M174.6 189.1h0M150 88.5h0M152.6 353.2h0M153.2 107.5h0M162.3 319.2h0M134.6 105.4h0M202 268.6h0M138.6 339.4h0M160.7 161.9h0M196.3 245.3h0M156.7 293h0M158.8 89h0M163.9 225.7h0M155 375.1h0M139.6 142.5h0M168.3 250.7h0M458.6 166.6h0M177.7 209.9h0M144 137.4h0M150.6 113.5h0M152.4 91.2h0M187.1 340.4h0M144.2 349.2h0M353.1 144.9h0M194.3 271.1h0M390.1 150.1h0M181 171.6h0M140.6 263.4h0M181.3 110h0M250.2 157.6h0M435.2 168.9h0M180.7 303.3h0M169.2 277.5h0M189.7 198.6h0M171.5 222.4h0M159.2 91.4h0M162.8 179.9h0M207 228.7h0M175.1 330.6h0M159 146.3h0M162.4 284.2h0M166.3 304.2h0M194.4 260.7h0M180.8 283.6h0M177.2 115.9h0M156.9 321h0M142.6 382.8h0M334.5 130.5h0M203 201.6h0M191.5 313.9h0M147.4 144.1h0M144.5 399.1h0M199.8 280h0M158.4 336.5h0M193 281.6h0M196.4 259.8h0M148.9 341h0M144.9 365.8h0M209.5 268.4h0M215.3 255.9h0M179.9 327.4h0M183 321.2h0M153.7 157h0M222.9 277.9h0M442.8 161.3h0M146.3 82.4h0M339.5 149h0M172.5 264.3h0M159.4 355.8h0M165.9 348h0M188.3 330.4h0M134.5 168.8h0M203.1 284.4h0M195.1 129.8h0M154.8 360.1h0M455.4 165.9h0M296.2 140.5h0M177.8 211.5h0M182.9 277.9h0M157.1 383.1h0M181.1 173.5h0M206.2 264h0M179.1 223.4h0M194.3 129.3h0M143.4 141.5h0M204 300.5h0M147.5 126.3h0M145.2 269.2h0M164.2 116.7h0M167.7 143.6h0M178.2 341.9h0M172.3 212.5h0M173.2 172.2h0M149 355.3h0M358.1 144.3h0M198 295.2h0M187.4 323h0M343.6 149.8h0M216.6 195.7h0M148.3 162.8h0M444.2 161.3h0M140.1 371.6h0M157.4 389.5h0M140 84.9h0M144.6 265.5h0M195.7 187h0M187 173.8h0M171.5 197.7h0M168.2 160.3h0M173.7 164.7h0M154.4 387.6h0M166.3 331.9h0M199.1 217.9h0M181.5 271.3h0M157 357.1h0M152 345.7h0M167.4 136.5h0M382.1 149.6h0M148.3 390h0M157.3 185.5h0M182.8 301.1h0M141.1 200.3h0M165.3 359.5h0M164.4 162.5h0M166.9 350.9h0M431.3 167h0M223.6 284.1h0M143.1 395.4h0M138.9 302.6h0M182.4 181.8h0M160.3 308.7h0M170.2 329.2h0M134.4 98.7h0M153.9 243.8h0M147.5 171.1h0M162.8 158.3h0M143.1 359.1h0M206.9 289.9h0M204.2 280.5h0M139.9 234.5h0M172.6 273.3h0M447.6 157.9h0M475.7 165.4h0M150.4 145.3h0M203.5 176.2h0M204.5 261.1h0M205.9 265h0M159.5 138.7h0M152.6 100h0M196.2 138h0M155.2 96.6h0M191.8 308h0M173.1 109.7h0M138.7 125.7h0M148.9 97.3h0M350.7 144.3h0M189.3 276.8h0M179.9 104.4h0M141 150.3h0M173.7 94.5h0M144.5 258.3h0M204.7 244.9h0M392.8 157.8h0M472.9 156h0M309.8 153.4h0M175 162.2h0M135.5 70.9h0M190.9 319.7h0M173.4 143.7h0M181.2 342h0M132 197.9h0M160.9 380.7h0M457.1 162.9h0M349 133.1h0M202.8 253h0M353.5 134.2h0M182.2 345.5h0M150.1 203.1h0M456.3 164.5h0M181.6 346.1h0M215.9 288.9h0M156.8 329h0M140 368.8h0M145.9 203.6h0M139.7 355.9h0M141.6 390h0M165.2 301.1h0M159 365.7h0M446.1 158.2h0M156.4 316.8h0M168.9 112.9h0M257.4 156.3h0M451.3 158.2h0M195.8 253.9h0M407 155.9h0M192.3 324.9h0"/>
<path stroke="#ff0000" d="M203.9 139.6h0M209.2 145.1h0M206.2 229.9h0M170.8 120.8h0M153.3 60.9h0M212.1 150.1h0M179.5 68.6h0M176.6 73.1h0M205 118.1h0M233.7 86.2h0M167 75.4h0M216.6 85.8h0M188.9 204.2h0M281.2 115.1h0M212.3 66.3h0M195.4 81.4h0M203.4 73.4h0M211 117h0M202.8 129.7h0M171.1 90.5h0M217.4 95.6h0M212.8 117.6h0M181.7 98.5h0M197.6 252.2h0M226.7 142.3h0M211.6 95.5h0M222.9 131.2h0M223.3 116.5h0M205.8 79.5h0M192.4 98.2h0M181 67.1h0M134 105.5h0M186.6 55.6h0M214.5 184.6h0M166.9 84.8h0M194.3 91.6h0M199.6 108.8h0M197.2 114.4h0M179.6 199.9h0M145.9 61.2h0M398.8 183.5h0M197.1 71.8h0M194 147.1h0M169.8 235.7h0M190.3 88.8h0M221.2 167.2h0M209.1 177.4h0M213 115.7h0M342.1 125.2h0M173.8 88.6h0M181.7 95.8h0M164 80h0M409.4 176.7h0M220.8 83.9h0M181.1 62.4h0M208.3 84.2h0M208.3 146h0M197.5 135.4h0M211.3 140.6h0M190.9 67.9h0M172.9 66.9h0M195.3 130.3h0M199.3 105h0M214.1 155.3h0M194.4 65h0M177.9 75.7h0M208.2 104.8h0M399.2 173.5h0M221 167.7h0M217.4 113.7h0M187.9 96.7h0M191.1 78.1h0M133.6 168.8h0M189.9 68.5h0M208.9 80.2h0M207.6 204.8h0M430.5 179.2h0M191.6 73h0M201 160.8h0M347.4 139.2h0M219.5 177.9h0M209.5 144h0M213.2 126.6h0M388.9 178.9h0M317.3 128h0M189.9 115.4h0M424.9 176.2h0M216 113.5h0M158.2 76.4h0M448.6 163h0M200 134.6h0M262.8 127.5h0M293.8 160.9h0M153.4 196.2h0M218.1 124.6h0M219.6 87.7h0M199 118.1h0M156.2 61.9h0M190.2 250.3h0M180.6 54.7h0M209.3 156.5h0M203.9 84.3h0M429.8 162.2h0M192.3 84.3h0M196.9 147.8h0M196.9 83.9h0M192.5 96h0M176.5 199h0M203.2 66.4h0M223.3 143.8h0M296.7 163h0M146.3 64.5h0M341 137.1h0M161.9 59.5h0M159.2 70.2h0M218.6 130.5h0M262.5 93.5h0M142.7 64.3h0M256.6 154h0M179.7 55.8h0M200.2 154.4h0M194 109.3h0M140.4 71.1h0M429.7 172.9h0M202.7 150.3h0M224.4 126.9h0M202.9 130.8h0M205.4 102.3h0M248 99.4h0M180.9 92.6h0M208.1 161.8h0M156.1 59h0M220.7 180.1h0M189.7 106.5h0M183.3 239.6h0M217.2 140.7h0M156.7 66.8h0M213.2 106.6h0M311.7 135.9h0M215.6 110.1h0M189.9 222.7h0M341.8 127.4h0M208.1 165.3h0M180.6 212.4h0M169 92.5h0M400.5 148.6h0M182.6 72h0M217.9 78.8h0"/>
<path stroke="#ff0000" d="M209.4 143h0M207.8 97.1h0M213.5 73.2h0M156.6 77.2h0M400.9 181.7h0M204.4 84.5h0M220.7 107.2h0M144.4 183h0M226.2 161.8h0M218.7 94.8h0M189 228.2h0M218.1 162.3h0M162.8 80.7h0M188.1 90.8h0M185.9 102.7h0M202.4 152h0M154.2 57.9h0M454.8 156.3h0M186.5 230.4h0M201.1 165.3h0M204.5 105.9h0M213.8 122.6h0M182.8 101.5h0M398.7 171.8h0M252 95.7h0M427.1 173h0M211.6 160.7h0M190.5 249h0M202.5 111h0M175.8 254.1h0M216.2 123.4h0M185.1 212.8h0M427.4 163.9h0M196.3 74.6h0M170.4 71.8h0M169.8 65.3h0M211.1 144.3h0M162.1 79.1h0M154.5 76h0M189.6 220.3h0M407.6 178.5h0M182.2 109.8h0M284 108.3h0M185.3 112.7h0M209.4 74.5h0M215.9 194.6h0M138.9 307h0M347.8 125.1h0M167.6 74.2h0M207.6 103.4h0M213.8 158.6h0M286.9 104.5h0M152.2 58.9h0M174.6 92h0M238.5 85.8h0M216.4 109.5h0M181.6 119.7h0M201.8 99.5h0M171 76.6h0M208.8 104.9h0M223.1 167.3h0M230.5 81.8h0M208.4 108.3h0M174.1 101.6h0M208.6 127.3h0M215.7 128.4h0M220.3 141.8h0M197.6 142.4h0M255.8 119.7h0M201.7 150.5h0M216.5 78.2h0M154.5 63.6h0M132.9 75.5h0M213.6 82.7h0M165.1 72.7h0M204.3 116.4h0M148.5 213.4h0M208.3 109h0M172.5 51.2h0M207.2 169.3h0M207.2 88.3h0M216.8 99.9h0M205.6 135.3h0M202.4 73.8h0M221 136.7h0M172.8 84.5h0M179.9 199.9h0M202 114.1h0M151.1 61h0M197.3 123.1h0M383.5 180.8h0M218.1 201.5h0M371.2 144.8h0M183.7 77.3h0M220.2 175.5h0M218.8 136.5h0M202.5 169.6h0M168.3 83.8h0M198.3 60.4h0M135.1 220.3h0M210.2 165.5h0M229.5 149.1h0M198.4 115.4h0M168.7 187.5h0M157.5 72h0M170.3 61.3h0M198.2 134.4h0M195.6 115.8h0M196 141.9h0M202.1 241.9h0M191.2 110.8h0M191.8 95.6h0M187.2 118.7h0M187.7 198.6h0M183.2 256.8h0M168.8 82.1h0M311.2 143.5h0M422.6 173.1h0M203.4 93h0M184.7 199.9h0M207.3 76.8h0M170.7 54.6h0M220.2 112.9h0M214.4 111.2h0M209.6 124.6h0M421.9 171h0M154.5 65.4h0M199.5 138.7h0M175.7 68.1h0M208.6 109.1h0M144.7 66.4h0M173.1 88.3h0M314.2 147h0M221.5 76.9h0M206.5 118.4h0M189.3 122.6h0M201 72.3h0M200.4 63.5h0M197.4 59.7h0M209.9 172.7h0M216.6 89.7h0M173.2 82.5h0M232.9 152.4h0"/>
<path stroke="#0000ff" d="M215.9 208.7h0M181.1 105.8h0M213.4 274.8h0M145.2 359h0M447.5 155h0M157.5 364.7h0M181.7 325.6h0M437.6 158.5h0M181.9 338.8h0M191 174.6h0M150.9 368.9h0M180.9 115.6h0M434 156.9h0M182.3 194.7h0M165.7 118.3h0M154.3 356.7h0M166.5 107.2h0M204.9 166.7h0M156.2 192.6h0M167.7 171.1h0M198.1 294.8h0M176.4 333.6h0M147.1 365h0M208.2 232.9h0M140 109.6h0M151 111.9h0M207.6 152.9h0M174.7 339.4h0M148.3 391.1h0M188.7 324.8h0M174 202.4h0M381.6 183.1h0M286.1 138h0M475.1 164.2h0M157.5 374.9h0M175.9 274.6h0M176.9 149.4h0M210.3 297.8h0M251.1 85.3h0M220.3 273.1h0M199.2 262.7h0M142.3 75.4h0M436.5 163.7h0M185.5 310.1h0M182.9 337.5h0M152.4 349.6h0M180.9 309.1h0M146 90h0M147.3 111.7h0M424.5 157.8h0M164.7 167.3h0M212.5 272h0M197.1 114.5h0M158.1 235.3h0M156.7 173.8h0M211.7 273.9h0M136.5 354h0M316.8 143.9h0M209 255.3h0M187 265.4h0M149.7 144.7h0M153.7 329.2h0M210.4 295.4h0M140.7 379.3h0M154.7 124.7h0M212.5 203.6h0M175.1 271.5h0M166 150.2h0M200.7 294.3h0M146.9 79.3h0M146.3 70.5h0M219 256h0M167.1 100.2h0M170.5 193.7h0M221.8 265.9h0M191.3 274.4h0M186.7 319.3h0M230.1 174.5h0M186.9 203.7h0M138.1 201.2h0M145.2 368.9h0M165.3 155h0M140.4 292.2h0M157.7 143h0M155.2 323.2h0M209.7 228.8h0M172.3 178.7h0M155.3 343.4h0M143.3 141.1h0M369.1 151.9h0M184.9 295.8h0M145.8 298h0M397.9 174.8h0M171.3 274.8h0M360.3 133.5h0M137.9 138.8h0M176.8 181.9h0M159 97.8h0M165.6 126.8h0M195 272.3h0M154.6 140.3h0M200.8 173.6h0M142.7 130.4h0M152.9 123.8h0M211.2 288h0M150.7 106.8h0M197.2 157h0M165.4 108.4h0M157.4 313.7h0M197.9 272.8h0M187.7 171.8h0M218.4 200.1h0M200.4 280.7h0M197.5 205.2h0M197.1 160h0M153.9 222.1h0M148.2 288.7h0M150.8 354.4h0M161.7 252.2h0M170.5 172.2h0M193.5 232.5h0M155.8 100.8h0M154.5 84.4h0M180.4 347.4h0M154.7 358.8h0M187.8 262.9h0M203.1 144.2h0M188.3 284.8h0M189.5 283.2h0M143.8 82.8h0M140.7 153.4h0M182.3 316.4h0M182.4 342h0M364.8 142.5h0M203.5 298h0M146.6 80.4h0M188.5 134h0M139.9 92.9h0M429.3 157.3h0M184.7 227.8h0M224.5 273.2h0M200.7 246.2h0M175 247.4h0M163.1 340.7h0M187.5 285.6h0M156 91.6h0M215.3 248.7h0M129.2 108.1h0M330.1 149.9h0M162.7 169.5h0M154.7 271.3h0M161.5 137.4h0M175.8 290h0M197.5 147.7h0M283.3 111h0M162.2 83.3h0M177.5 260.8h0M188.4 212.7h0M160.9 97.1h0M164.5 146.5h0M177.8 261.1h0M173.7 203.4h0M455.2 162.3h0M145.4 87.9h0M442 155.2h0M147 331.3h0M160.5 355.6h0M187.3 146.6h0M145 359.5h0M184.2 299.4h0M135.8 92h0M183.9 158.6h0M194.1 261.2h0M162.2 263.9h0M355 133.9h0M212.5 258.9h0M151 279.7h0M141.4 116.6h0M143.6 376.9h0M154.8 306.8h0M174.5 97.8h0M150.4 73.4h0M160.6 88.4h0M172.6 332.1h0M175.2 155.7h0M173.3 258.9h0M197.6 255.3h0M137.2 112.8h0M153 116.4h0M156.6 206h0M181.6 142.6h0M146 143.6h0M170.9 132.6h0M174.2 264.4h0M187.3 323.2h0M223.2 262.1h0M136.4 87.8h0M203.7 124.6h0M391.4 146.4h0M437.6 166.2h0M168.9 322.5h0M207.4 299.6h0M160.9 119.9h0M176.8 288.2h0M434.2 159.6h0M169.8 339.1h0M157 369.7h0M132.4 90h0M425.6 160h0M136.7 359.5h0M197.6 209.5h0M198.4 250.3h0M143.4 278.5h0M141.4 347.2h0M277.1 90.4h0M189.6 294h0M191.9 179.2h0M187.6 283.2h0M303.6 130.8h0M135.4 114h0M149.7 166.6h0M180.3 345.5h0M180.2 146.9h0M179.7 117.7h0M142.5 334.8h0M200.2 130.8h0M392.9 175.8h0M158.9 349.7h0M202.6 230.1h0M152.9 191.7h0M148.9 214.7h0M262.9 108.1h0M139.3 370.7h0M155.4 355.5h0M162.6 173.7h0M153 244.4h0M178.5 130.8h0M186.2 151.3h0M168.5 341.9h0M156.8 213.1h0M147.9 85.6h0M164.8 181.1h0M209.5 197.6h0M429.4 170.9h0M245.1 86.8h0M142.6 131.3h0M155.5 166.9h0M150.7 329.9h0M190.1 309.9h0M138.2 351.4h0M155.9 111.5h0M167.5 187h0M177.4 345.9h0M188.1 141.6h0M156.6 138.7h0M172.4 118.8h0M131.9 86.8h0M168.9 113.7h0M168.1 241.2h0M196.1 301.1h0M187 260.8h0M218.5 252.7h0M159.9 109h0M163.7 212.1h0M147.6 360h0M167.2 248.6h0M180.3 235.7h0M150.2 378.3h0M210.7 251.2h0M392.9 180.9h0M200.1 140.4h0M219.5 287h0M150.7 82.5h0M334 132.1h0M217.5 249.5h0M146 367.4h0M153.8 107.7h0M139.7 312h0M172.7 232.8h0M215 272h0M223.7 263.7h0M176.5 128.8h0M175.1 103.8h0M197.9 280.2h0M150.7 288.1h0M147.8 96.7h0M138.8 334.6h0"/>
<path stroke="#0000ff" d="M477.8 155.4h0M208.4 287.3h0M212.3 203.6h0M141 126.7h0M176.6 181.1h0M153.6 120.1h0M142.3 369.2h0M190.9 295.3h0M169.2 112.4h0M154.5 78.4h0M161.5 150.5h0M206.3 241.5h0M164.8 332.5h0M402.5 153.9h0M139.9 255.1h0M129.3 105.9h0M171.8 142.3h0M184.5 330.1h0M149.1 398h0M195.2 138.1h0M146 147.6h0M157.8 201.5h0M143.5 366.9h0M149.3 101.2h0M199.9 261h0M158.6 89.2h0M175.1 119.9h0M146.4 139.1h0M147.8 133.6h0M191.3 314.3h0M160 143.9h0M171.4 161.6h0M166.8 357.2h0M161.6 95.1h0M190.7 160.6h0M187.5 306.2h0M173.4 105.9h0M184.6 130.9h0M196.1 103.9h0M176.8 111.3h0M224 251.2h0M150.2 139h0M184.1 135h0M150.6 144.1h0M212.6 271.3h0M196.6 296.1h0M204.4 150.9h0M212.4 255.1h0M169.7 143.1h0M212.1 279.4h0M132.2 84.6h0M224.1 260.6h0M196.7 289.7h0M211.8 265.8h0M162.4 178.6h0M212.4 270.7h0M209.1 295.6h0M143.6 130.3h0M176.8 308h0M172.1 97.4h0M168.7 153.8h0M188.9 309h0M193.8 284.3h0M157.8 109.8h0M185 134h0M168.7 119.9h0M141.4 158.8h0M197 166.1h0M178 187.3h0M170.7 133.9h0M209.2 299.6h0M164.4 182.4h0M214.9 266.6h0M183.8 153.4h0M163.4 127.3h0M192.9 307h0M179 184.2h0M187.4 267.4h0M200.4 175.9h0M209.8 283.8h0M203.5 273h0M181.6 176.7h0M188.1 117.6h0M199 259.8h0M185.2 182.7h0M179.4 150h0M139 70.3h0M185.1 151.5h0M179.5 306.4h0M194.3 299.7h0M182.3 286.9h0M141 68.8h0M219.1 258.7h0M155.3 174.9h0M179.7 123h0M137.2 86h0M170.9 321.2h0M165.6 164.3h0M181.5 295.9h0M203.4 266.9h0M177.6 159.5h0M163.6 93.8h0M157.5 155.8h0M143.1 120.4h0M185.3 328.5h0M191.7 299.9h0M143.4 137h0M171.2 150.8h0M156.4 121.3h0M181.2 129.8h0M196 161h0M149.4 73.7h0M180.8 144.4h0M193.9 286.9h0M191.2 280.7h0M165.9 92.6h0M160.7 95.7h0M192.3 120.4h0M195.5 159.5h0M190 269.1h0M158.5 166.8h0M163.9 176.2h0M174.5 171.5h0M194.1 288.7h0M178 340.1h0M186.7 187.7h0M189.7 188.5h0M191.1 167.8h0M154.9 90.5h0M179.8 182.7h0M178.6 141h0M201.6 294h0M182.2 126.3h0M168.6 116.1h0M204.7 270.3h0M213.7 254.9h0M153.9 167.5h0M169.8 126.6h0M184.7 136.1h0M187.2 315.1h0M143.9 71.4h0M148.6 93.1h0M200.2 261.3h0M135.2 92.6h0M174.8 163.5h0M216.8 255.1h0M186.8 131.4h0M204.2 271.9h0M162.3 329.9h0M198.3 139.6h0M162.9 141.4h0M167.4 182.9h0M216.2 282.9h0M187 169.3h0M201.9 258.3h0M184.2 128.5h0M147 89.9h0M157.6 104.1h0M203.8 148.4h0M174.6 190.4h0M192.9 266.2h0M171.1 332h0M194.9 165.7h0M195.9 305.1h0M145.7 112.8h0M184.3 290.9h0M193.4 170.7h0M140.8 99.9h0M150.2 119.3h0M176 145.2h0M199.7 107.7h0M165.6 141.7h0M206.4 173.3h0M184 161.9h0M156.4 133h0M188.8 307.6h0M206.4 130.6h0M182.2 157.7h0M154 163.2h0M156.7 119.8h0M179.5 176h0M176.6 154.4h0M168.9 139h0M173 116.9h0M177 110.2h0M168.7 328.7h0M180.8 158.1h0M192.4 268.4h0M197.6 287.8h0M181.8 144.9h0M199 144.2h0M142.4 73.2h0M188.8 280.3h0M165.6 169.7h0M170.1 142.6h0M195 108.9h0M170.3 334.9h0M166.7 184h0M221 276.7h0M209 290.4h0M184.2 302.9h0M173.2 136.5h0M183.2 145.4h0M157.1 173h0M168.6 120.4h0M149 114.3h0M169.1 174h0M162.3 160.6h0M177.3 345.5h0M173.3 106.1h0M194.6 297.4h0M211 284.9h0M209.8 257.9h0M173.4 151.8h0M191 178.6h0M158.6 121.8h0M192.6 159.4h0M150.2 77.6h0M182.1 329.8h0M224.9 278.6h0M194.9 115.7h0M188.3 167.8h0M174.8 302.9h0M147.2 74.2h0M152.8 134.3h0M141.7 95.4h0M194.8 180.6h0M165.6 146.3h0M168.4 99.3h0M134.9 78.7h0M166.1 186.9h0M183.6 132.6h0M165.9 340.3h0M198.6 307.7h0M194.5 299.9h0M184.2 154.1h0M190.6 140.6h0M219.6 287.9h0M189.6 280.6h0M211.8 261.8h0M161.3 121.4h0M190.1 154.7h0M182.7 190.8h0M215 266.7h0M143 109.9h0M208.3 156.6h0M202.9 259.4h0M155 127.9h0M138.2 138.1h0M185.9 112.6h0M201.8 126.5h0M188.6 156.1h0M133.2 76.5h0M194.7 320.2h0M199.9 135.3h0M203.7 282.1h0M185.8 166.3h0M145.3 75.4h0M176.3 310.9h0M140.9 132.3h0M147.5 71h0M173.8 319.9h0M159.9 97h0M172.9 173.4h0M210.1 249.7h0M171.2 184.4h0M212.3 254h0M170.9 343.4h0M187.3 120.1h0M165.8 136.4h0M184.7 332h0M213.2 267.1h0M204.5 265.8h0M169.3 354.3h0M207 282.6h0M156.4 160h0M199.3 303.5h0M173.3 101.3h0M136.3 82.7h0M183.5 292.7h0M174.1 346h0M170.5 110.1h0M191.6 188h0M185.1 335h0M210.6 296.7h0M175.5 332.7h0M194.8 177.1h0M170.9 346.6h0M187.1 176.7h0M129.7 97.6h0M183.1 311.7h0M154.4 172.9h0M200.3 139.1h0M133.6 101.9h0M208.5 293.5h0M191.7 172.4h0M152.8 127.5h0M184.6 307h0M195.9 116.3h0M195.3 128.2h0M196.7 109.9h0M189.3 122.8h0M187.7 112.5h0M191.1 110h0M337 188.5h0M354.8 197.7h0M321.6 204.5h0M329 219.9h0M340.8 225.3h0M298.5 238h0M291.9 248.4h0M302.3 271.2h0M261.7 245.4h0M260.2 209.8h0M263.2 219.3h0M246.6 224.1h0M228.2 225.3h0M234.1 231.2h0M220.8 220.8h0"/>
<path stroke="#ff0000" d="M184 114.8h0M200.4 58.2h0M220.7 85.2h0M179.5 73.9h0M373.5 181.4h0M198.2 107.8h0M168.9 84.5h0M185.3 210.4h0M149.9 64.8h0M152.2 241.1h0M169.8 76h0M178 62.1h0M182.6 204.4h0M201.2 175h0M202.6 103.7h0M210.5 127.6h0M217.9 127.1h0M206 76.3h0M198.6 183.5h0M159.5 101.9h0M223.1 160h0M220 131.4h0M223 129.2h0M181.9 77.4h0M164.3 60.1h0M218.8 115.3h0M192.9 124.1h0M224.4 155.9h0M198.1 133.1h0M189.5 125.5h0M180.5 65.5h0M202.4 163.9h0M223.1 158.7h0M222.9 169.2h0M173.4 117.2h0M196.9 107.2h0M226.3 143.2h0M211.8 62.7h0M195.7 129.7h0M224.5 142.3h0M174.1 80.7h0M211.9 151.3h0M174.9 204.3h0M185.5 141.2h0M174.6 59.9h0M205.7 70.1h0M195.7 107.5h0M180 82.9h0M203.5 59.6h0M206.1 159.6h0M205.3 103.4h0M219 95.2h0M173.4 91.3h0M208.2 68.8h0M186.9 214.4h0M194 117.2h0M221.4 128.6h0M155.4 54.7h0M194.6 77.6h0M218.1 153.2h0M201.4 104.7h0M201.6 131.5h0M197.8 116.9h0M198.3 138h0M208.6 111.3h0M166.3 70.4h0M158.7 49.7h0M160.1 52.7h0M195.3 112h0M209.2 120.3h0M216.4 74.6h0M177.8 80.3h0M187.9 239.3h0M213.4 95.8h0M166.1 84.7h0M209.2 61.3h0M224.1 176.1h0M222.6 152.6h0M197.6 98h0M177.4 93.3h0M191.1 87.5h0M191.4 87h0M191.8 56.2h0M212 98.8h0M192.6 222.5h0M211 177.9h0M204.3 177.4h0M181.1 74.9h0M219 131.1h0M211.4 115.6h0M202.6 58.4h0M189.3 117.9h0M188.4 85.2h0M178.8 142.1h0M181.8 205.6h0M197.8 223.3h0M210.5 207.8h0M178.7 143.7h0M132.1 101.9h0M192.4 208.1h0M178.4 145.7h0M192.6 199.9h0M192.7 179.7h0M175.7 203.9h0M250.4 195.6h0M260.8 183.8h0M262.3 188.2h0M286 190.3h0M286 208.1h0M257.9 180.8h0"/>
</g>
</svg></body></html>
